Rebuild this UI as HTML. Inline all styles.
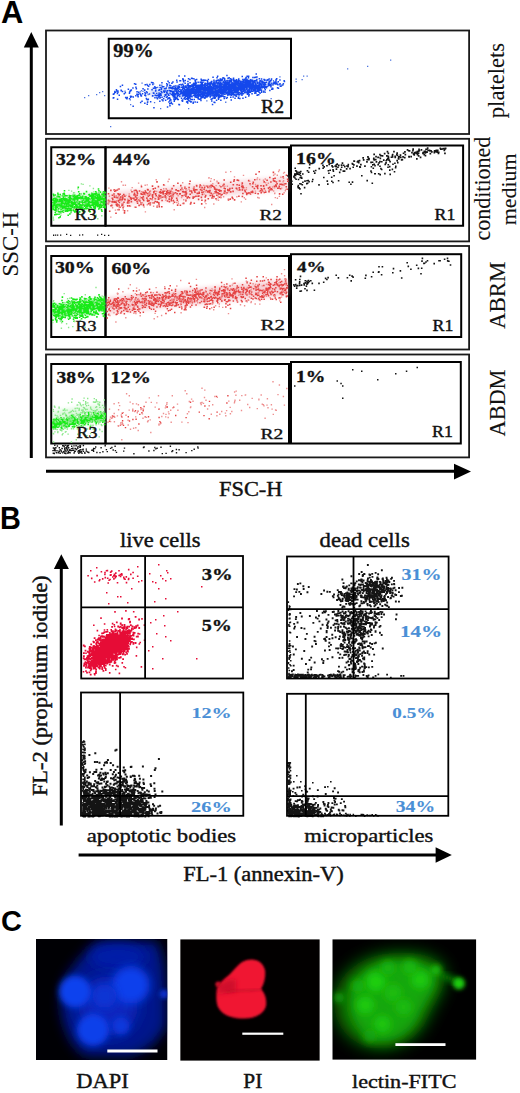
<!DOCTYPE html>
<html><head><meta charset="utf-8"><title>Figure</title>
<style>html,body{margin:0;padding:0;background:#fff;}svg{display:block;}</style>
</head><body>
<svg width="520" height="1093" viewBox="0 0 520 1093">
<defs>
<filter id="b1" x="-50%" y="-50%" width="200%" height="200%"><feGaussianBlur stdDeviation="1.2"/></filter>
<filter id="b2" x="-50%" y="-50%" width="200%" height="200%"><feGaussianBlur stdDeviation="2"/></filter>
<filter id="b3" x="-50%" y="-50%" width="200%" height="200%"><feGaussianBlur stdDeviation="3"/></filter>
<filter id="b4" x="-50%" y="-50%" width="200%" height="200%"><feGaussianBlur stdDeviation="4"/></filter>
<filter id="b6" x="-50%" y="-50%" width="200%" height="200%"><feGaussianBlur stdDeviation="6"/></filter>
<filter id="b8" x="-50%" y="-50%" width="200%" height="200%"><feGaussianBlur stdDeviation="8"/></filter>
<filter id="b12" x="-50%" y="-50%" width="200%" height="200%"><feGaussianBlur stdDeviation="12"/></filter>
<clipPath id="cA"><rect x="52" y="30" width="410" height="420"/></clipPath>
<clipPath id="cD"><rect x="36" y="939" width="131.5" height="121"/></clipPath>
<clipPath id="cP"><rect x="180.2" y="939.2" width="139.6" height="121.6"/></clipPath>
<clipPath id="cF"><rect x="332.3" y="939.2" width="144" height="120.6"/></clipPath>
</defs>
<rect width="520" height="1093" fill="#fff"/>
<line x1="31.3" y1="45" x2="31.3" y2="458" stroke="#000" stroke-width="3"/>
<polygon points="31.3,32 23.8,47.5 38.8,47.5" fill="#000"/>
<line x1="46" y1="471.3" x2="456" y2="471.3" stroke="#000" stroke-width="3"/>
<polygon points="471,471.5 454,463.7 454,479.5" fill="#000"/>
<rect x="46" y="30.5" width="423.10" height="103.50" fill="none" stroke="#1a1a1a" stroke-width="1.8"/>
<rect x="46" y="138.8" width="423.10" height="102.60" fill="none" stroke="#1a1a1a" stroke-width="1.8"/>
<rect x="46" y="246" width="423.10" height="103.50" fill="none" stroke="#1a1a1a" stroke-width="1.8"/>
<rect x="46" y="354.5" width="423.10" height="102.90" fill="none" stroke="#1a1a1a" stroke-width="1.8"/>
<rect x="108.75" y="38.75" width="182.25" height="79.50" fill="none" stroke="#000" stroke-width="2"/>
<rect x="51.25" y="147.25" width="54.25" height="78.50" fill="none" stroke="#000" stroke-width="2"/>
<rect x="105.5" y="147.25" width="183.50" height="78.50" fill="none" stroke="#000" stroke-width="2"/>
<rect x="291" y="145.5" width="172.10" height="80.25" fill="none" stroke="#000" stroke-width="2"/>
<rect x="51.25" y="256" width="54.25" height="81.00" fill="none" stroke="#000" stroke-width="2"/>
<rect x="105.5" y="256" width="183.50" height="81.00" fill="none" stroke="#000" stroke-width="2"/>
<rect x="291" y="254.2" width="170.20" height="82.80" fill="none" stroke="#000" stroke-width="2"/>
<rect x="51.25" y="364" width="54.25" height="79.50" fill="none" stroke="#000" stroke-width="2"/>
<rect x="105.5" y="364" width="183.50" height="79.50" fill="none" stroke="#000" stroke-width="2"/>
<rect x="291" y="362" width="169.80" height="81.50" fill="none" stroke="#000" stroke-width="2"/>
<g clip-path="url(#cA)">
<polygon points="150.0,89.5 160.0,89.0 170.0,88.5 180.0,88.0 190.0,87.3 200.0,83.6 210.0,82.9 220.0,82.1 230.0,81.2 240.0,80.4 250.0,79.5 260.0,81.4 270.0,80.2 270.0,86.2 260.0,87.4 250.0,91.5 240.0,92.4 230.0,93.2 220.0,94.1 210.0,94.9 200.0,95.6 190.0,93.3 180.0,94.0 170.0,94.5 160.0,95.0 150.0,95.5" fill="#9fb6f2" opacity="0.55" filter="url(#b2)"/>
<polygon points="52.5,197.0 56.8,196.6 61.2,196.2 65.5,195.8 69.8,195.4 74.2,195.0 78.5,194.6 82.8,194.2 87.2,193.8 91.5,193.4 95.8,193.1 100.2,192.7 104.5,192.3 104.5,206.3 100.2,206.7 95.8,207.1 91.5,207.4 87.2,207.8 82.8,208.2 78.5,208.6 74.2,209.0 69.8,209.4 65.5,209.8 61.2,210.2 56.8,210.6 52.5,211.0" fill="#a6f0a6" opacity="0.6" filter="url(#b2)"/>
<polygon points="107.0,192.5 122.1,191.1 137.2,189.8 152.2,188.4 167.3,187.1 182.4,185.7 197.5,184.4 212.6,183.0 227.7,181.6 242.8,180.3 257.8,178.9 272.9,177.6 288.0,176.2 288.0,190.2 272.9,191.6 257.8,192.9 242.8,194.3 227.7,195.6 212.6,197.0 197.5,198.4 182.4,199.7 167.3,201.1 152.2,202.4 137.2,203.8 122.1,205.1 107.0,206.5" fill="#f4c0c6" opacity="0.55" filter="url(#b2)"/>
<polygon points="52.5,304.4 56.8,303.8 61.2,303.2 65.5,302.6 69.8,302.0 74.2,301.4 78.5,300.8 82.8,300.2 87.2,299.6 91.5,299.0 95.8,298.4 100.2,297.8 104.5,297.1 104.5,311.1 100.2,311.8 95.8,312.4 91.5,313.0 87.2,313.6 82.8,314.2 78.5,314.8 74.2,315.4 69.8,316.0 65.5,316.6 61.2,317.2 56.8,317.8 52.5,318.4" fill="#a6f0a6" opacity="0.6" filter="url(#b2)"/>
<polygon points="107.0,297.4 122.1,295.9 137.2,294.4 152.2,292.9 167.3,291.4 182.4,289.9 197.5,288.4 212.6,286.8 227.7,285.3 242.8,283.8 257.8,282.3 272.9,280.8 288.0,279.3 288.0,295.3 272.9,296.8 257.8,298.3 242.8,299.8 227.7,301.3 212.6,302.8 197.5,304.4 182.4,305.9 167.3,307.4 152.2,308.9 137.2,310.4 122.1,311.9 107.0,313.4" fill="#f2b0b8" opacity="0.6" filter="url(#b2)"/>
<polygon points="52.5,410.9 56.8,410.4 61.2,409.8 65.5,409.2 69.8,408.7 74.2,408.1 78.5,407.6 82.8,407.0 87.2,406.4 91.5,405.9 95.8,405.3 100.2,404.7 104.5,404.2 104.5,422.2 100.2,422.7 95.8,423.3 91.5,423.9 87.2,424.4 82.8,425.0 78.5,425.6 74.2,426.1 69.8,426.7 65.5,427.2 61.2,427.8 56.8,428.4 52.5,428.9" fill="#c4f4c4" opacity="0.6" filter="url(#b2)"/>
</g>
<path fill="#1448ec" d="M191.6 91.3h1.5v1.5h-1.5zM224.1 95.9h1.5v1.5h-1.5zM225.6 89.2h1.5v1.5h-1.5zM233.5 83.2h1.5v1.5h-1.5zM215.0 85.6h1.5v1.5h-1.5zM215.4 87.7h1.5v1.5h-1.5zM214.2 82.3h1.5v1.5h-1.5zM230.6 94.5h1.5v1.5h-1.5zM221.1 90.3h1.5v1.5h-1.5zM219.1 86.1h1.5v1.5h-1.5zM211.9 83.3h1.5v1.5h-1.5zM219.8 88.8h1.5v1.5h-1.5zM207.9 83.1h1.5v1.5h-1.5zM198.0 95.4h1.5v1.5h-1.5zM193.4 83.3h1.5v1.5h-1.5zM172.5 96.0h1.5v1.5h-1.5zM236.7 80.9h1.5v1.5h-1.5zM229.6 77.9h1.5v1.5h-1.5zM200.1 93.9h1.5v1.5h-1.5zM243.3 83.7h1.5v1.5h-1.5zM200.1 88.1h1.5v1.5h-1.5zM219.9 87.0h1.5v1.5h-1.5zM155.4 86.9h1.5v1.5h-1.5zM226.5 89.1h1.5v1.5h-1.5zM211.7 87.6h1.5v1.5h-1.5zM238.0 80.0h1.5v1.5h-1.5zM184.6 96.2h1.5v1.5h-1.5zM175.6 90.1h1.5v1.5h-1.5zM231.1 81.9h1.5v1.5h-1.5zM263.4 81.8h1.5v1.5h-1.5zM200.2 92.9h1.5v1.5h-1.5zM194.5 79.3h1.5v1.5h-1.5zM202.3 91.7h1.5v1.5h-1.5zM208.6 89.2h1.5v1.5h-1.5zM217.6 82.2h1.5v1.5h-1.5zM204.4 82.5h1.5v1.5h-1.5zM168.3 87.3h1.5v1.5h-1.5zM219.5 78.3h1.5v1.5h-1.5zM208.0 93.5h1.5v1.5h-1.5zM238.6 86.0h1.5v1.5h-1.5zM258.9 87.2h1.5v1.5h-1.5zM241.1 82.8h1.5v1.5h-1.5zM198.0 86.7h1.5v1.5h-1.5zM231.2 92.1h1.5v1.5h-1.5zM172.7 94.6h1.5v1.5h-1.5zM256.0 84.9h1.5v1.5h-1.5zM187.2 92.2h1.5v1.5h-1.5zM196.8 88.3h1.5v1.5h-1.5zM247.9 80.0h1.5v1.5h-1.5zM218.5 92.1h1.5v1.5h-1.5zM234.7 81.3h1.5v1.5h-1.5zM244.3 91.8h1.5v1.5h-1.5zM179.2 80.0h1.5v1.5h-1.5zM137.1 95.0h1.5v1.5h-1.5zM185.0 86.5h1.5v1.5h-1.5zM196.7 94.6h1.5v1.5h-1.5zM167.3 80.6h1.5v1.5h-1.5zM182.1 87.5h1.5v1.5h-1.5zM218.5 90.6h1.5v1.5h-1.5zM248.8 86.5h1.5v1.5h-1.5zM226.8 79.7h1.5v1.5h-1.5zM204.9 90.3h1.5v1.5h-1.5zM241.4 83.0h1.5v1.5h-1.5zM221.4 84.9h1.5v1.5h-1.5zM267.6 83.5h1.5v1.5h-1.5zM171.6 88.1h1.5v1.5h-1.5zM197.9 86.9h1.5v1.5h-1.5zM198.3 93.8h1.5v1.5h-1.5zM226.1 87.6h1.5v1.5h-1.5zM159.4 97.0h1.5v1.5h-1.5zM226.6 88.1h1.5v1.5h-1.5zM238.4 85.1h1.5v1.5h-1.5zM220.5 89.7h1.5v1.5h-1.5zM189.1 93.4h1.5v1.5h-1.5zM277.7 87.4h1.5v1.5h-1.5zM202.3 93.0h1.5v1.5h-1.5zM240.7 90.5h1.5v1.5h-1.5zM214.5 85.5h1.5v1.5h-1.5zM216.4 94.8h1.5v1.5h-1.5zM197.1 91.7h1.5v1.5h-1.5zM259.8 86.9h1.5v1.5h-1.5zM254.9 83.8h1.5v1.5h-1.5zM241.2 94.4h1.5v1.5h-1.5zM238.5 87.6h1.5v1.5h-1.5zM246.2 88.5h1.5v1.5h-1.5zM226.3 93.0h1.5v1.5h-1.5zM230.3 86.3h1.5v1.5h-1.5zM201.0 86.3h1.5v1.5h-1.5zM256.7 85.0h1.5v1.5h-1.5zM235.0 88.2h1.5v1.5h-1.5zM189.9 90.4h1.5v1.5h-1.5zM209.3 93.2h1.5v1.5h-1.5zM236.7 81.1h1.5v1.5h-1.5zM245.1 80.9h1.5v1.5h-1.5zM208.9 84.6h1.5v1.5h-1.5zM183.2 90.4h1.5v1.5h-1.5zM169.0 84.6h1.5v1.5h-1.5zM247.7 92.7h1.5v1.5h-1.5zM243.1 80.3h1.5v1.5h-1.5zM246.3 84.2h1.5v1.5h-1.5zM189.5 85.6h1.5v1.5h-1.5zM202.2 92.7h1.5v1.5h-1.5zM257.4 89.5h1.5v1.5h-1.5zM242.9 86.8h1.5v1.5h-1.5zM191.5 77.7h1.5v1.5h-1.5zM218.0 85.5h1.5v1.5h-1.5zM218.9 83.3h1.5v1.5h-1.5zM204.4 89.3h1.5v1.5h-1.5zM195.7 90.3h1.5v1.5h-1.5zM251.9 82.7h1.5v1.5h-1.5zM196.1 86.1h1.5v1.5h-1.5zM231.1 91.7h1.5v1.5h-1.5zM244.9 84.0h1.5v1.5h-1.5zM201.4 90.5h1.5v1.5h-1.5zM239.8 80.5h1.5v1.5h-1.5zM182.7 87.1h1.5v1.5h-1.5zM120.5 89.9h1.5v1.5h-1.5zM195.2 94.7h1.5v1.5h-1.5zM226.7 88.3h1.5v1.5h-1.5zM250.4 87.6h1.5v1.5h-1.5zM215.8 89.3h1.5v1.5h-1.5zM254.3 86.0h1.5v1.5h-1.5zM173.0 92.6h1.5v1.5h-1.5zM208.1 84.9h1.5v1.5h-1.5zM192.2 91.5h1.5v1.5h-1.5zM192.1 92.2h1.5v1.5h-1.5zM213.4 94.5h1.5v1.5h-1.5zM235.1 90.7h1.5v1.5h-1.5zM196.1 86.1h1.5v1.5h-1.5zM197.5 91.0h1.5v1.5h-1.5zM203.6 85.8h1.5v1.5h-1.5zM209.3 91.3h1.5v1.5h-1.5zM144.5 84.1h1.5v1.5h-1.5zM219.8 81.7h1.5v1.5h-1.5zM259.1 85.6h1.5v1.5h-1.5zM253.6 84.5h1.5v1.5h-1.5zM215.1 91.4h1.5v1.5h-1.5zM194.7 86.7h1.5v1.5h-1.5zM242.4 84.1h1.5v1.5h-1.5zM223.0 84.8h1.5v1.5h-1.5zM159.1 100.6h1.5v1.5h-1.5zM248.0 95.3h1.5v1.5h-1.5zM189.4 95.1h1.5v1.5h-1.5zM222.7 89.9h1.5v1.5h-1.5zM182.5 91.9h1.5v1.5h-1.5zM203.2 94.4h1.5v1.5h-1.5zM190.0 89.7h1.5v1.5h-1.5zM167.5 93.8h1.5v1.5h-1.5zM238.5 82.7h1.5v1.5h-1.5zM182.3 92.9h1.5v1.5h-1.5zM208.7 82.2h1.5v1.5h-1.5zM227.7 84.1h1.5v1.5h-1.5zM176.3 81.3h1.5v1.5h-1.5zM116.1 90.2h1.5v1.5h-1.5zM203.3 94.3h1.5v1.5h-1.5zM282.6 83.1h1.5v1.5h-1.5zM174.6 96.9h1.5v1.5h-1.5zM228.7 93.0h1.5v1.5h-1.5zM235.1 92.1h1.5v1.5h-1.5zM182.5 92.1h1.5v1.5h-1.5zM244.4 85.4h1.5v1.5h-1.5zM254.1 92.4h1.5v1.5h-1.5zM263.3 84.9h1.5v1.5h-1.5zM217.6 97.6h1.5v1.5h-1.5zM159.7 93.2h1.5v1.5h-1.5zM231.0 87.5h1.5v1.5h-1.5zM209.6 87.1h1.5v1.5h-1.5zM213.3 80.9h1.5v1.5h-1.5zM235.6 79.5h1.5v1.5h-1.5zM205.6 91.8h1.5v1.5h-1.5zM206.6 79.9h1.5v1.5h-1.5zM218.5 86.2h1.5v1.5h-1.5zM195.3 82.1h1.5v1.5h-1.5zM201.5 93.0h1.5v1.5h-1.5zM252.6 81.6h1.5v1.5h-1.5zM158.3 94.7h1.5v1.5h-1.5zM218.6 88.7h1.5v1.5h-1.5zM201.8 85.0h1.5v1.5h-1.5zM214.4 88.1h1.5v1.5h-1.5zM216.0 88.0h1.5v1.5h-1.5zM171.9 94.4h1.5v1.5h-1.5zM182.5 94.9h1.5v1.5h-1.5zM185.8 92.7h1.5v1.5h-1.5zM215.0 90.1h1.5v1.5h-1.5zM222.1 88.6h1.5v1.5h-1.5zM243.0 90.1h1.5v1.5h-1.5zM246.2 91.9h1.5v1.5h-1.5zM216.7 87.2h1.5v1.5h-1.5zM195.7 88.0h1.5v1.5h-1.5zM217.5 90.6h1.5v1.5h-1.5zM248.5 91.7h1.5v1.5h-1.5zM198.9 89.3h1.5v1.5h-1.5zM218.6 96.7h1.5v1.5h-1.5zM219.9 79.7h1.5v1.5h-1.5zM146.8 101.5h1.5v1.5h-1.5zM242.9 81.3h1.5v1.5h-1.5zM201.5 82.8h1.5v1.5h-1.5zM203.0 84.3h1.5v1.5h-1.5zM169.5 98.5h1.5v1.5h-1.5zM213.9 94.6h1.5v1.5h-1.5zM164.9 99.5h1.5v1.5h-1.5zM256.6 88.9h1.5v1.5h-1.5zM161.3 96.4h1.5v1.5h-1.5zM215.5 80.1h1.5v1.5h-1.5zM239.1 84.8h1.5v1.5h-1.5zM217.0 91.2h1.5v1.5h-1.5zM236.5 81.8h1.5v1.5h-1.5zM192.6 94.4h1.5v1.5h-1.5zM181.8 100.4h1.5v1.5h-1.5zM221.0 79.5h1.5v1.5h-1.5zM205.2 90.4h1.5v1.5h-1.5zM239.1 97.8h1.5v1.5h-1.5zM204.3 90.5h1.5v1.5h-1.5zM244.7 82.3h1.5v1.5h-1.5zM184.9 94.3h1.5v1.5h-1.5zM233.1 79.1h1.5v1.5h-1.5zM237.2 84.9h1.5v1.5h-1.5zM216.8 89.5h1.5v1.5h-1.5zM218.8 86.4h1.5v1.5h-1.5zM114.0 91.8h1.5v1.5h-1.5zM254.9 76.6h1.5v1.5h-1.5zM187.8 87.3h1.5v1.5h-1.5zM213.3 87.4h1.5v1.5h-1.5zM209.3 88.0h1.5v1.5h-1.5zM228.6 91.7h1.5v1.5h-1.5zM196.4 87.2h1.5v1.5h-1.5zM217.9 91.3h1.5v1.5h-1.5zM216.6 91.5h1.5v1.5h-1.5zM205.0 94.8h1.5v1.5h-1.5zM239.8 87.7h1.5v1.5h-1.5zM203.8 92.5h1.5v1.5h-1.5zM187.5 94.3h1.5v1.5h-1.5zM205.6 95.6h1.5v1.5h-1.5zM233.6 91.7h1.5v1.5h-1.5zM230.3 94.1h1.5v1.5h-1.5zM206.2 91.3h1.5v1.5h-1.5zM244.1 91.4h1.5v1.5h-1.5zM203.5 85.3h1.5v1.5h-1.5zM222.2 85.1h1.5v1.5h-1.5zM237.6 97.4h1.5v1.5h-1.5zM225.7 89.7h1.5v1.5h-1.5zM180.4 93.1h1.5v1.5h-1.5zM224.3 88.1h1.5v1.5h-1.5zM161.5 86.0h1.5v1.5h-1.5zM254.6 85.0h1.5v1.5h-1.5zM216.6 84.9h1.5v1.5h-1.5zM210.2 82.1h1.5v1.5h-1.5zM206.5 89.6h1.5v1.5h-1.5zM202.0 87.0h1.5v1.5h-1.5zM174.4 87.3h1.5v1.5h-1.5zM230.5 85.4h1.5v1.5h-1.5zM258.2 85.1h1.5v1.5h-1.5zM197.9 90.9h1.5v1.5h-1.5zM256.8 88.3h1.5v1.5h-1.5zM188.1 91.0h1.5v1.5h-1.5zM259.3 92.5h1.5v1.5h-1.5zM208.0 90.8h1.5v1.5h-1.5zM208.2 88.9h1.5v1.5h-1.5zM235.3 91.4h1.5v1.5h-1.5zM183.0 92.4h1.5v1.5h-1.5zM247.2 82.5h1.5v1.5h-1.5zM205.0 96.3h1.5v1.5h-1.5zM230.9 85.0h1.5v1.5h-1.5zM235.5 86.4h1.5v1.5h-1.5zM190.4 89.7h1.5v1.5h-1.5zM186.9 89.0h1.5v1.5h-1.5zM237.1 90.6h1.5v1.5h-1.5zM205.2 88.6h1.5v1.5h-1.5zM260.0 82.8h1.5v1.5h-1.5zM223.3 83.8h1.5v1.5h-1.5zM214.4 89.9h1.5v1.5h-1.5zM205.5 88.3h1.5v1.5h-1.5zM233.7 80.3h1.5v1.5h-1.5zM194.8 81.1h1.5v1.5h-1.5zM215.7 88.7h1.5v1.5h-1.5zM201.1 88.5h1.5v1.5h-1.5zM148.6 93.3h1.5v1.5h-1.5zM231.1 93.4h1.5v1.5h-1.5zM255.3 92.2h1.5v1.5h-1.5zM227.1 83.0h1.5v1.5h-1.5zM234.7 95.1h1.5v1.5h-1.5zM219.6 84.6h1.5v1.5h-1.5zM210.1 92.1h1.5v1.5h-1.5zM196.1 96.2h1.5v1.5h-1.5zM237.9 79.6h1.5v1.5h-1.5zM221.5 92.7h1.5v1.5h-1.5zM214.0 88.7h1.5v1.5h-1.5zM198.1 90.9h1.5v1.5h-1.5zM268.4 78.3h1.5v1.5h-1.5zM215.0 86.2h1.5v1.5h-1.5zM204.4 83.5h1.5v1.5h-1.5zM146.9 84.8h1.5v1.5h-1.5zM166.0 91.6h1.5v1.5h-1.5zM187.1 95.6h1.5v1.5h-1.5zM190.9 90.8h1.5v1.5h-1.5zM254.4 80.1h1.5v1.5h-1.5zM184.0 92.0h1.5v1.5h-1.5zM206.1 88.8h1.5v1.5h-1.5zM126.5 96.8h1.5v1.5h-1.5zM199.9 93.6h1.5v1.5h-1.5zM195.6 84.7h1.5v1.5h-1.5zM193.0 89.8h1.5v1.5h-1.5zM253.5 87.3h1.5v1.5h-1.5zM239.4 92.8h1.5v1.5h-1.5zM229.6 93.2h1.5v1.5h-1.5zM182.3 94.4h1.5v1.5h-1.5zM179.6 93.0h1.5v1.5h-1.5zM192.7 88.2h1.5v1.5h-1.5zM197.6 98.2h1.5v1.5h-1.5zM245.7 83.1h1.5v1.5h-1.5zM163.3 91.1h1.5v1.5h-1.5zM211.8 88.5h1.5v1.5h-1.5zM141.8 93.1h1.5v1.5h-1.5zM225.0 92.6h1.5v1.5h-1.5zM255.3 87.9h1.5v1.5h-1.5zM233.1 88.4h1.5v1.5h-1.5zM205.8 88.7h1.5v1.5h-1.5zM218.3 90.3h1.5v1.5h-1.5zM248.5 81.5h1.5v1.5h-1.5zM190.7 85.4h1.5v1.5h-1.5zM208.5 91.7h1.5v1.5h-1.5zM207.2 88.3h1.5v1.5h-1.5zM214.3 86.1h1.5v1.5h-1.5zM210.0 86.4h1.5v1.5h-1.5zM196.7 93.6h1.5v1.5h-1.5zM251.7 81.0h1.5v1.5h-1.5zM228.6 90.4h1.5v1.5h-1.5zM171.1 82.5h1.5v1.5h-1.5zM222.3 95.3h1.5v1.5h-1.5zM191.0 91.0h1.5v1.5h-1.5zM181.7 91.6h1.5v1.5h-1.5zM117.2 90.3h1.5v1.5h-1.5zM242.2 84.2h1.5v1.5h-1.5zM184.7 90.2h1.5v1.5h-1.5zM243.7 81.8h1.5v1.5h-1.5zM243.6 89.1h1.5v1.5h-1.5zM235.5 91.0h1.5v1.5h-1.5zM199.5 87.6h1.5v1.5h-1.5zM255.5 84.7h1.5v1.5h-1.5zM232.7 86.5h1.5v1.5h-1.5zM181.5 89.1h1.5v1.5h-1.5zM253.0 84.5h1.5v1.5h-1.5zM183.4 92.2h1.5v1.5h-1.5zM237.5 92.5h1.5v1.5h-1.5zM273.6 81.7h1.5v1.5h-1.5zM236.0 87.6h1.5v1.5h-1.5zM170.0 85.0h1.5v1.5h-1.5zM249.9 80.5h1.5v1.5h-1.5zM194.2 91.5h1.5v1.5h-1.5zM215.8 99.6h1.5v1.5h-1.5zM177.8 88.0h1.5v1.5h-1.5zM230.8 93.9h1.5v1.5h-1.5zM263.1 86.4h1.5v1.5h-1.5zM220.3 95.8h1.5v1.5h-1.5zM119.7 85.7h1.5v1.5h-1.5zM201.5 94.7h1.5v1.5h-1.5zM238.9 87.1h1.5v1.5h-1.5zM240.5 86.9h1.5v1.5h-1.5zM259.2 85.2h1.5v1.5h-1.5zM135.6 87.9h1.5v1.5h-1.5zM254.8 83.1h1.5v1.5h-1.5zM271.1 82.6h1.5v1.5h-1.5zM260.2 83.9h1.5v1.5h-1.5zM178.7 104.0h1.5v1.5h-1.5zM129.8 89.7h1.5v1.5h-1.5zM204.5 89.4h1.5v1.5h-1.5zM184.5 90.2h1.5v1.5h-1.5zM145.9 91.1h1.5v1.5h-1.5zM196.6 101.4h1.5v1.5h-1.5zM243.4 84.6h1.5v1.5h-1.5zM229.3 90.3h1.5v1.5h-1.5zM214.3 88.0h1.5v1.5h-1.5zM175.5 88.2h1.5v1.5h-1.5zM213.3 87.8h1.5v1.5h-1.5zM215.6 90.7h1.5v1.5h-1.5zM272.1 88.3h1.5v1.5h-1.5zM209.1 92.1h1.5v1.5h-1.5zM172.8 91.1h1.5v1.5h-1.5zM251.9 83.3h1.5v1.5h-1.5zM229.5 91.6h1.5v1.5h-1.5zM223.7 91.4h1.5v1.5h-1.5zM176.4 97.9h1.5v1.5h-1.5zM184.7 89.3h1.5v1.5h-1.5zM239.7 80.6h1.5v1.5h-1.5zM164.4 90.3h1.5v1.5h-1.5zM255.9 87.9h1.5v1.5h-1.5zM274.9 82.3h1.5v1.5h-1.5zM195.3 91.7h1.5v1.5h-1.5zM207.1 83.1h1.5v1.5h-1.5zM147.9 85.5h1.5v1.5h-1.5zM270.5 84.2h1.5v1.5h-1.5zM239.6 88.9h1.5v1.5h-1.5zM250.9 83.2h1.5v1.5h-1.5zM226.0 88.9h1.5v1.5h-1.5zM240.3 92.9h1.5v1.5h-1.5zM241.9 86.1h1.5v1.5h-1.5zM200.3 84.8h1.5v1.5h-1.5zM133.8 83.1h1.5v1.5h-1.5zM215.0 93.0h1.5v1.5h-1.5zM239.2 87.3h1.5v1.5h-1.5zM169.0 102.9h1.5v1.5h-1.5zM224.8 81.4h1.5v1.5h-1.5zM221.7 91.9h1.5v1.5h-1.5zM233.0 82.2h1.5v1.5h-1.5zM243.7 85.9h1.5v1.5h-1.5zM207.7 86.5h1.5v1.5h-1.5zM236.0 79.5h1.5v1.5h-1.5zM227.7 87.9h1.5v1.5h-1.5zM216.4 89.8h1.5v1.5h-1.5zM226.0 86.8h1.5v1.5h-1.5zM230.6 85.6h1.5v1.5h-1.5zM178.8 91.0h1.5v1.5h-1.5zM215.5 90.0h1.5v1.5h-1.5zM239.7 82.9h1.5v1.5h-1.5zM206.2 82.8h1.5v1.5h-1.5zM175.2 85.2h1.5v1.5h-1.5zM227.6 88.1h1.5v1.5h-1.5zM208.4 84.1h1.5v1.5h-1.5zM224.1 90.8h1.5v1.5h-1.5zM275.9 82.3h1.5v1.5h-1.5zM214.1 94.4h1.5v1.5h-1.5zM195.4 88.4h1.5v1.5h-1.5zM214.8 88.9h1.5v1.5h-1.5zM171.2 82.4h1.5v1.5h-1.5zM258.4 83.3h1.5v1.5h-1.5zM213.0 91.8h1.5v1.5h-1.5zM192.5 89.9h1.5v1.5h-1.5zM215.3 85.1h1.5v1.5h-1.5zM254.2 81.4h1.5v1.5h-1.5zM228.8 86.5h1.5v1.5h-1.5zM144.2 91.7h1.5v1.5h-1.5zM236.8 84.5h1.5v1.5h-1.5zM264.2 79.6h1.5v1.5h-1.5zM194.8 94.2h1.5v1.5h-1.5zM218.6 94.1h1.5v1.5h-1.5zM234.1 86.7h1.5v1.5h-1.5zM256.9 82.0h1.5v1.5h-1.5zM195.7 84.5h1.5v1.5h-1.5zM146.5 103.6h1.5v1.5h-1.5zM239.8 90.1h1.5v1.5h-1.5zM158.2 93.7h1.5v1.5h-1.5zM189.3 98.0h1.5v1.5h-1.5zM183.5 88.1h1.5v1.5h-1.5zM187.7 84.8h1.5v1.5h-1.5zM221.0 86.3h1.5v1.5h-1.5zM185.9 98.0h1.5v1.5h-1.5zM189.0 91.8h1.5v1.5h-1.5zM241.1 92.2h1.5v1.5h-1.5zM228.8 87.0h1.5v1.5h-1.5zM231.2 82.6h1.5v1.5h-1.5zM238.7 83.1h1.5v1.5h-1.5zM258.0 94.0h1.5v1.5h-1.5zM208.8 92.2h1.5v1.5h-1.5zM241.4 86.7h1.5v1.5h-1.5zM189.7 91.9h1.5v1.5h-1.5zM165.7 96.4h1.5v1.5h-1.5zM214.3 97.4h1.5v1.5h-1.5zM136.3 91.1h1.5v1.5h-1.5zM199.8 88.2h1.5v1.5h-1.5zM267.9 82.8h1.5v1.5h-1.5zM171.7 92.6h1.5v1.5h-1.5zM240.1 81.2h1.5v1.5h-1.5zM166.5 89.9h1.5v1.5h-1.5zM189.7 92.4h1.5v1.5h-1.5zM190.7 95.6h1.5v1.5h-1.5zM222.0 93.2h1.5v1.5h-1.5zM223.2 96.1h1.5v1.5h-1.5zM264.9 83.7h1.5v1.5h-1.5zM246.5 85.7h1.5v1.5h-1.5zM194.6 95.4h1.5v1.5h-1.5zM187.5 98.2h1.5v1.5h-1.5zM236.0 81.9h1.5v1.5h-1.5zM201.5 95.0h1.5v1.5h-1.5zM175.8 91.0h1.5v1.5h-1.5zM203.2 95.0h1.5v1.5h-1.5zM190.6 85.7h1.5v1.5h-1.5zM198.8 90.7h1.5v1.5h-1.5zM200.1 91.5h1.5v1.5h-1.5zM231.3 87.3h1.5v1.5h-1.5zM192.4 85.7h1.5v1.5h-1.5zM226.7 87.0h1.5v1.5h-1.5zM214.1 101.7h1.5v1.5h-1.5zM194.9 86.4h1.5v1.5h-1.5zM169.1 100.0h1.5v1.5h-1.5zM192.4 83.5h1.5v1.5h-1.5zM253.4 89.9h1.5v1.5h-1.5zM234.4 90.3h1.5v1.5h-1.5zM210.3 92.3h1.5v1.5h-1.5zM176.7 95.9h1.5v1.5h-1.5zM144.1 94.6h1.5v1.5h-1.5zM241.6 88.8h1.5v1.5h-1.5zM141.3 100.6h1.5v1.5h-1.5zM142.3 88.0h1.5v1.5h-1.5zM186.8 95.7h1.5v1.5h-1.5zM184.1 93.0h1.5v1.5h-1.5zM171.8 86.2h1.5v1.5h-1.5zM202.9 95.6h1.5v1.5h-1.5zM187.1 96.4h1.5v1.5h-1.5zM248.9 84.4h1.5v1.5h-1.5zM242.2 97.5h1.5v1.5h-1.5zM242.8 82.3h1.5v1.5h-1.5zM173.5 96.3h1.5v1.5h-1.5zM209.7 84.7h1.5v1.5h-1.5zM237.3 82.4h1.5v1.5h-1.5zM190.4 88.7h1.5v1.5h-1.5zM200.6 82.5h1.5v1.5h-1.5zM217.5 87.1h1.5v1.5h-1.5zM245.8 86.4h1.5v1.5h-1.5zM216.8 91.2h1.5v1.5h-1.5zM210.9 85.8h1.5v1.5h-1.5zM207.2 88.6h1.5v1.5h-1.5zM250.0 82.0h1.5v1.5h-1.5zM166.7 84.1h1.5v1.5h-1.5zM228.6 92.2h1.5v1.5h-1.5zM186.8 98.6h1.5v1.5h-1.5zM244.3 78.4h1.5v1.5h-1.5zM227.5 86.1h1.5v1.5h-1.5zM237.5 89.4h1.5v1.5h-1.5zM187.1 93.7h1.5v1.5h-1.5zM232.2 87.0h1.5v1.5h-1.5zM227.4 88.9h1.5v1.5h-1.5zM206.2 87.7h1.5v1.5h-1.5zM241.2 87.0h1.5v1.5h-1.5zM234.5 82.8h1.5v1.5h-1.5zM240.3 81.4h1.5v1.5h-1.5zM173.1 98.3h1.5v1.5h-1.5zM243.8 91.9h1.5v1.5h-1.5zM239.0 84.3h1.5v1.5h-1.5zM250.9 89.9h1.5v1.5h-1.5zM226.0 85.6h1.5v1.5h-1.5zM147.1 98.9h1.5v1.5h-1.5zM201.0 87.5h1.5v1.5h-1.5zM240.8 91.8h1.5v1.5h-1.5zM150.8 81.7h1.5v1.5h-1.5zM185.9 101.2h1.5v1.5h-1.5zM185.4 90.1h1.5v1.5h-1.5zM207.6 78.7h1.5v1.5h-1.5zM252.5 81.2h1.5v1.5h-1.5zM236.7 86.9h1.5v1.5h-1.5zM239.8 87.2h1.5v1.5h-1.5zM193.5 94.5h1.5v1.5h-1.5zM200.1 86.8h1.5v1.5h-1.5zM227.3 77.4h1.5v1.5h-1.5zM232.8 77.6h1.5v1.5h-1.5zM269.8 80.0h1.5v1.5h-1.5zM252.3 86.8h1.5v1.5h-1.5zM207.2 95.3h1.5v1.5h-1.5zM190.3 98.8h1.5v1.5h-1.5zM195.5 92.9h1.5v1.5h-1.5zM250.0 79.5h1.5v1.5h-1.5zM215.3 80.8h1.5v1.5h-1.5zM235.2 80.1h1.5v1.5h-1.5zM235.2 88.7h1.5v1.5h-1.5zM232.8 80.3h1.5v1.5h-1.5zM237.0 87.3h1.5v1.5h-1.5zM252.0 86.5h1.5v1.5h-1.5zM194.4 101.2h1.5v1.5h-1.5zM198.2 87.3h1.5v1.5h-1.5zM115.7 88.9h1.5v1.5h-1.5zM219.4 92.8h1.5v1.5h-1.5zM258.4 84.8h1.5v1.5h-1.5zM202.0 89.5h1.5v1.5h-1.5zM138.1 91.5h1.5v1.5h-1.5zM200.0 84.3h1.5v1.5h-1.5zM231.5 93.4h1.5v1.5h-1.5zM219.2 87.8h1.5v1.5h-1.5zM207.8 84.1h1.5v1.5h-1.5zM194.7 90.9h1.5v1.5h-1.5zM204.0 83.6h1.5v1.5h-1.5zM235.9 85.8h1.5v1.5h-1.5zM144.0 89.6h1.5v1.5h-1.5zM209.9 90.4h1.5v1.5h-1.5zM180.9 92.1h1.5v1.5h-1.5zM227.0 87.4h1.5v1.5h-1.5zM222.4 81.5h1.5v1.5h-1.5zM218.3 95.9h1.5v1.5h-1.5zM211.0 80.8h1.5v1.5h-1.5zM207.7 92.1h1.5v1.5h-1.5zM270.3 79.8h1.5v1.5h-1.5zM221.3 92.4h1.5v1.5h-1.5zM249.7 91.6h1.5v1.5h-1.5zM170.3 87.2h1.5v1.5h-1.5zM202.0 90.2h1.5v1.5h-1.5zM158.9 95.9h1.5v1.5h-1.5zM193.1 78.1h1.5v1.5h-1.5zM256.4 87.2h1.5v1.5h-1.5zM220.6 90.3h1.5v1.5h-1.5zM267.7 85.1h1.5v1.5h-1.5zM231.4 92.0h1.5v1.5h-1.5zM184.4 82.6h1.5v1.5h-1.5zM195.2 89.0h1.5v1.5h-1.5zM224.7 89.4h1.5v1.5h-1.5zM207.7 92.4h1.5v1.5h-1.5zM189.2 78.7h1.5v1.5h-1.5zM166.9 98.3h1.5v1.5h-1.5zM148.7 93.3h1.5v1.5h-1.5zM174.6 87.1h1.5v1.5h-1.5zM203.1 90.2h1.5v1.5h-1.5zM258.6 77.9h1.5v1.5h-1.5zM250.1 81.2h1.5v1.5h-1.5zM182.3 86.2h1.5v1.5h-1.5zM192.8 85.7h1.5v1.5h-1.5zM187.9 94.9h1.5v1.5h-1.5zM173.1 87.8h1.5v1.5h-1.5zM263.9 87.4h1.5v1.5h-1.5zM211.3 87.6h1.5v1.5h-1.5zM222.7 89.0h1.5v1.5h-1.5zM279.6 85.5h1.5v1.5h-1.5zM220.7 85.1h1.5v1.5h-1.5zM230.6 80.6h1.5v1.5h-1.5zM251.0 88.8h1.5v1.5h-1.5zM234.9 80.9h1.5v1.5h-1.5zM180.6 89.5h1.5v1.5h-1.5zM112.5 97.3h1.5v1.5h-1.5zM191.4 85.2h1.5v1.5h-1.5zM206.5 88.7h1.5v1.5h-1.5zM279.1 83.7h1.5v1.5h-1.5zM221.0 82.7h1.5v1.5h-1.5zM173.3 85.4h1.5v1.5h-1.5zM167.9 97.3h1.5v1.5h-1.5zM232.4 86.0h1.5v1.5h-1.5zM173.5 100.5h1.5v1.5h-1.5zM124.6 92.0h1.5v1.5h-1.5zM209.1 94.0h1.5v1.5h-1.5zM170.5 93.7h1.5v1.5h-1.5zM237.4 85.7h1.5v1.5h-1.5zM234.7 82.9h1.5v1.5h-1.5zM135.1 95.0h1.5v1.5h-1.5zM198.9 87.3h1.5v1.5h-1.5zM210.2 81.8h1.5v1.5h-1.5zM187.2 89.1h1.5v1.5h-1.5zM183.5 87.7h1.5v1.5h-1.5zM132.5 96.2h1.5v1.5h-1.5zM193.2 87.1h1.5v1.5h-1.5zM176.0 79.6h1.5v1.5h-1.5zM273.9 82.5h1.5v1.5h-1.5zM177.2 93.0h1.5v1.5h-1.5zM249.5 80.3h1.5v1.5h-1.5zM191.3 96.1h1.5v1.5h-1.5zM193.0 90.4h1.5v1.5h-1.5zM116.8 98.6h1.5v1.5h-1.5zM206.2 91.4h1.5v1.5h-1.5zM189.2 96.5h1.5v1.5h-1.5zM251.0 89.9h1.5v1.5h-1.5zM219.8 89.2h1.5v1.5h-1.5zM236.7 83.2h1.5v1.5h-1.5zM266.2 79.5h1.5v1.5h-1.5zM174.9 96.5h1.5v1.5h-1.5zM199.0 84.4h1.5v1.5h-1.5zM263.6 84.8h1.5v1.5h-1.5zM232.5 78.7h1.5v1.5h-1.5zM181.3 99.7h1.5v1.5h-1.5zM130.8 95.7h1.5v1.5h-1.5zM236.7 89.5h1.5v1.5h-1.5zM222.1 84.9h1.5v1.5h-1.5zM194.3 90.4h1.5v1.5h-1.5zM193.0 91.7h1.5v1.5h-1.5zM249.5 82.8h1.5v1.5h-1.5zM236.8 82.1h1.5v1.5h-1.5zM215.2 88.6h1.5v1.5h-1.5zM206.8 83.6h1.5v1.5h-1.5zM261.6 80.6h1.5v1.5h-1.5zM258.8 83.0h1.5v1.5h-1.5zM216.9 75.5h1.5v1.5h-1.5zM220.0 95.1h1.5v1.5h-1.5zM154.5 94.7h1.5v1.5h-1.5zM253.7 80.1h1.5v1.5h-1.5zM184.9 91.5h1.5v1.5h-1.5zM260.8 78.3h1.5v1.5h-1.5zM159.3 93.4h1.5v1.5h-1.5zM215.9 86.7h1.5v1.5h-1.5zM185.1 92.6h1.5v1.5h-1.5zM198.2 94.1h1.5v1.5h-1.5zM213.2 87.4h1.5v1.5h-1.5zM250.0 85.5h1.5v1.5h-1.5zM189.4 87.7h1.5v1.5h-1.5zM238.0 81.4h1.5v1.5h-1.5zM182.9 80.9h1.5v1.5h-1.5zM245.0 86.1h1.5v1.5h-1.5zM256.7 82.4h1.5v1.5h-1.5zM256.5 84.4h1.5v1.5h-1.5zM244.9 85.7h1.5v1.5h-1.5zM187.6 86.3h1.5v1.5h-1.5zM217.0 94.9h1.5v1.5h-1.5zM221.6 93.0h1.5v1.5h-1.5zM125.7 97.4h1.5v1.5h-1.5zM252.3 86.3h1.5v1.5h-1.5zM256.6 81.9h1.5v1.5h-1.5zM223.3 89.4h1.5v1.5h-1.5zM220.1 78.5h1.5v1.5h-1.5zM207.5 88.6h1.5v1.5h-1.5zM247.5 90.9h1.5v1.5h-1.5zM270.8 78.2h1.5v1.5h-1.5zM228.9 87.9h1.5v1.5h-1.5zM210.7 80.9h1.5v1.5h-1.5zM268.3 82.5h1.5v1.5h-1.5zM259.3 89.4h1.5v1.5h-1.5zM248.7 82.4h1.5v1.5h-1.5zM235.6 79.0h1.5v1.5h-1.5zM242.7 79.4h1.5v1.5h-1.5zM221.2 88.1h1.5v1.5h-1.5zM215.9 85.0h1.5v1.5h-1.5zM200.4 88.5h1.5v1.5h-1.5zM195.6 92.2h1.5v1.5h-1.5zM210.1 90.9h1.5v1.5h-1.5zM264.1 79.6h1.5v1.5h-1.5zM214.2 88.2h1.5v1.5h-1.5zM256.6 87.0h1.5v1.5h-1.5zM234.0 87.0h1.5v1.5h-1.5zM213.6 90.6h1.5v1.5h-1.5zM180.6 90.6h1.5v1.5h-1.5zM254.9 84.7h1.5v1.5h-1.5zM237.4 93.3h1.5v1.5h-1.5zM243.2 86.0h1.5v1.5h-1.5zM238.2 82.2h1.5v1.5h-1.5zM174.3 92.9h1.5v1.5h-1.5zM229.2 86.8h1.5v1.5h-1.5zM221.6 90.0h1.5v1.5h-1.5zM202.4 87.5h1.5v1.5h-1.5zM218.9 86.0h1.5v1.5h-1.5zM186.0 97.9h1.5v1.5h-1.5zM190.3 93.4h1.5v1.5h-1.5zM184.4 93.0h1.5v1.5h-1.5zM216.6 89.0h1.5v1.5h-1.5zM207.3 89.5h1.5v1.5h-1.5zM200.6 90.5h1.5v1.5h-1.5zM230.4 91.3h1.5v1.5h-1.5zM218.3 83.7h1.5v1.5h-1.5zM228.1 90.1h1.5v1.5h-1.5zM191.2 91.3h1.5v1.5h-1.5zM244.7 81.6h1.5v1.5h-1.5zM214.8 91.8h1.5v1.5h-1.5zM147.6 98.6h1.5v1.5h-1.5zM143.8 89.2h1.5v1.5h-1.5zM201.0 97.1h1.5v1.5h-1.5zM183.5 94.2h1.5v1.5h-1.5zM254.6 88.6h1.5v1.5h-1.5zM198.4 90.5h1.5v1.5h-1.5zM136.2 93.4h1.5v1.5h-1.5zM253.7 81.2h1.5v1.5h-1.5zM164.4 94.0h1.5v1.5h-1.5zM245.9 88.9h1.5v1.5h-1.5zM220.3 86.8h1.5v1.5h-1.5zM228.5 89.6h1.5v1.5h-1.5zM222.9 86.5h1.5v1.5h-1.5zM248.5 86.9h1.5v1.5h-1.5zM221.3 79.6h1.5v1.5h-1.5zM204.0 85.5h1.5v1.5h-1.5zM249.9 88.0h1.5v1.5h-1.5zM205.3 86.9h1.5v1.5h-1.5zM245.7 87.5h1.5v1.5h-1.5zM188.9 86.0h1.5v1.5h-1.5zM137.6 93.4h1.5v1.5h-1.5zM231.4 90.0h1.5v1.5h-1.5zM200.0 93.4h1.5v1.5h-1.5zM201.8 79.4h1.5v1.5h-1.5zM231.1 91.4h1.5v1.5h-1.5zM208.2 90.4h1.5v1.5h-1.5zM246.8 93.2h1.5v1.5h-1.5zM251.7 87.7h1.5v1.5h-1.5zM232.4 88.2h1.5v1.5h-1.5zM166.0 82.9h1.5v1.5h-1.5zM237.6 80.6h1.5v1.5h-1.5zM196.2 91.0h1.5v1.5h-1.5zM232.2 82.6h1.5v1.5h-1.5zM213.1 82.0h1.5v1.5h-1.5zM188.7 95.8h1.5v1.5h-1.5zM222.0 84.9h1.5v1.5h-1.5zM253.4 89.8h1.5v1.5h-1.5zM211.0 89.5h1.5v1.5h-1.5zM213.7 90.8h1.5v1.5h-1.5zM219.6 83.9h1.5v1.5h-1.5zM245.4 83.1h1.5v1.5h-1.5zM212.4 97.3h1.5v1.5h-1.5zM218.2 91.3h1.5v1.5h-1.5zM261.2 85.8h1.5v1.5h-1.5zM201.4 92.4h1.5v1.5h-1.5zM216.0 92.9h1.5v1.5h-1.5zM233.6 86.3h1.5v1.5h-1.5zM236.6 84.7h1.5v1.5h-1.5zM241.5 88.8h1.5v1.5h-1.5zM242.1 81.5h1.5v1.5h-1.5zM194.6 79.6h1.5v1.5h-1.5zM256.1 78.8h1.5v1.5h-1.5zM144.7 92.9h1.5v1.5h-1.5zM248.4 94.0h1.5v1.5h-1.5zM188.2 84.9h1.5v1.5h-1.5zM222.3 86.2h1.5v1.5h-1.5zM263.4 84.7h1.5v1.5h-1.5zM186.8 90.1h1.5v1.5h-1.5zM225.9 89.3h1.5v1.5h-1.5zM195.9 90.3h1.5v1.5h-1.5zM191.1 84.2h1.5v1.5h-1.5zM238.4 88.5h1.5v1.5h-1.5zM248.1 88.8h1.5v1.5h-1.5zM222.5 85.7h1.5v1.5h-1.5zM264.3 91.4h1.5v1.5h-1.5zM144.9 95.1h1.5v1.5h-1.5zM185.3 86.1h1.5v1.5h-1.5zM234.8 85.8h1.5v1.5h-1.5zM211.0 90.5h1.5v1.5h-1.5zM173.0 94.1h1.5v1.5h-1.5zM207.4 86.6h1.5v1.5h-1.5zM196.8 97.1h1.5v1.5h-1.5zM240.0 89.6h1.5v1.5h-1.5zM221.1 91.3h1.5v1.5h-1.5zM225.1 89.5h1.5v1.5h-1.5zM242.3 90.6h1.5v1.5h-1.5zM184.8 85.3h1.5v1.5h-1.5zM242.4 90.5h1.5v1.5h-1.5zM217.5 79.6h1.5v1.5h-1.5zM274.4 82.7h1.5v1.5h-1.5zM175.8 89.4h1.5v1.5h-1.5zM200.5 94.0h1.5v1.5h-1.5zM177.6 94.8h1.5v1.5h-1.5zM159.4 94.1h1.5v1.5h-1.5zM187.8 99.9h1.5v1.5h-1.5zM216.7 87.7h1.5v1.5h-1.5zM220.1 99.6h1.5v1.5h-1.5zM221.8 91.1h1.5v1.5h-1.5zM200.3 88.4h1.5v1.5h-1.5zM212.0 88.2h1.5v1.5h-1.5zM227.7 93.7h1.5v1.5h-1.5zM200.7 85.3h1.5v1.5h-1.5zM195.9 88.9h1.5v1.5h-1.5zM215.0 90.0h1.5v1.5h-1.5zM193.3 91.1h1.5v1.5h-1.5zM259.8 80.3h1.5v1.5h-1.5zM166.2 85.2h1.5v1.5h-1.5zM240.0 85.3h1.5v1.5h-1.5zM201.8 96.4h1.5v1.5h-1.5zM225.8 85.8h1.5v1.5h-1.5zM241.0 86.1h1.5v1.5h-1.5zM257.8 90.6h1.5v1.5h-1.5zM236.5 83.7h1.5v1.5h-1.5zM261.2 81.5h1.5v1.5h-1.5zM189.6 90.6h1.5v1.5h-1.5zM191.4 88.6h1.5v1.5h-1.5zM235.5 82.0h1.5v1.5h-1.5zM229.2 89.4h1.5v1.5h-1.5zM171.2 90.6h1.5v1.5h-1.5zM192.7 84.9h1.5v1.5h-1.5zM230.6 89.0h1.5v1.5h-1.5zM218.3 92.8h1.5v1.5h-1.5zM228.1 90.2h1.5v1.5h-1.5zM217.4 83.9h1.5v1.5h-1.5zM258.3 88.6h1.5v1.5h-1.5zM201.5 95.8h1.5v1.5h-1.5zM210.7 89.1h1.5v1.5h-1.5zM216.6 89.1h1.5v1.5h-1.5zM196.2 86.4h1.5v1.5h-1.5zM274.3 83.0h1.5v1.5h-1.5zM242.2 84.2h1.5v1.5h-1.5zM205.6 89.8h1.5v1.5h-1.5zM246.0 88.4h1.5v1.5h-1.5zM221.9 89.5h1.5v1.5h-1.5zM234.4 86.6h1.5v1.5h-1.5zM195.4 84.6h1.5v1.5h-1.5zM236.6 82.1h1.5v1.5h-1.5zM249.7 84.3h1.5v1.5h-1.5zM181.0 86.5h1.5v1.5h-1.5zM199.2 94.3h1.5v1.5h-1.5zM242.9 85.9h1.5v1.5h-1.5zM196.3 87.2h1.5v1.5h-1.5zM213.6 96.8h1.5v1.5h-1.5zM208.9 85.3h1.5v1.5h-1.5zM243.7 86.9h1.5v1.5h-1.5zM171.7 91.6h1.5v1.5h-1.5zM162.9 98.0h1.5v1.5h-1.5zM207.0 86.8h1.5v1.5h-1.5zM240.7 90.8h1.5v1.5h-1.5zM201.8 89.3h1.5v1.5h-1.5zM160.8 87.6h1.5v1.5h-1.5zM204.0 84.6h1.5v1.5h-1.5zM269.1 89.7h1.5v1.5h-1.5zM226.5 88.6h1.5v1.5h-1.5zM210.7 82.4h1.5v1.5h-1.5zM242.2 86.0h1.5v1.5h-1.5zM242.4 93.0h1.5v1.5h-1.5zM215.0 90.6h1.5v1.5h-1.5zM244.5 79.2h1.5v1.5h-1.5zM201.5 84.5h1.5v1.5h-1.5zM246.3 87.2h1.5v1.5h-1.5zM198.6 94.7h1.5v1.5h-1.5zM244.3 83.9h1.5v1.5h-1.5zM203.4 97.0h1.5v1.5h-1.5zM249.7 79.1h1.5v1.5h-1.5zM169.6 87.1h1.5v1.5h-1.5zM223.8 84.6h1.5v1.5h-1.5zM206.3 93.9h1.5v1.5h-1.5zM248.0 80.2h1.5v1.5h-1.5zM241.5 75.7h1.5v1.5h-1.5zM246.2 86.4h1.5v1.5h-1.5zM129.9 96.5h1.5v1.5h-1.5zM220.2 85.3h1.5v1.5h-1.5zM172.0 92.7h1.5v1.5h-1.5zM221.4 88.7h1.5v1.5h-1.5zM228.9 93.9h1.5v1.5h-1.5zM236.0 87.4h1.5v1.5h-1.5zM168.6 86.4h1.5v1.5h-1.5zM178.2 103.7h1.5v1.5h-1.5zM185.9 95.8h1.5v1.5h-1.5zM208.6 84.2h1.5v1.5h-1.5zM259.9 82.8h1.5v1.5h-1.5zM196.4 84.8h1.5v1.5h-1.5zM188.1 91.4h1.5v1.5h-1.5zM159.0 94.1h1.5v1.5h-1.5zM201.8 85.3h1.5v1.5h-1.5zM152.7 87.5h1.5v1.5h-1.5zM227.0 91.2h1.5v1.5h-1.5zM215.9 87.3h1.5v1.5h-1.5zM247.7 83.1h1.5v1.5h-1.5zM223.5 81.7h1.5v1.5h-1.5zM152.1 83.8h1.5v1.5h-1.5zM210.7 94.2h1.5v1.5h-1.5zM228.8 81.2h1.5v1.5h-1.5zM221.1 89.0h1.5v1.5h-1.5zM182.2 77.9h1.5v1.5h-1.5zM238.0 82.9h1.5v1.5h-1.5zM195.9 88.7h1.5v1.5h-1.5zM216.2 92.9h1.5v1.5h-1.5zM212.1 86.9h1.5v1.5h-1.5zM186.8 94.5h1.5v1.5h-1.5zM224.1 90.1h1.5v1.5h-1.5zM233.0 88.1h1.5v1.5h-1.5zM196.6 89.9h1.5v1.5h-1.5zM210.6 89.6h1.5v1.5h-1.5zM189.1 85.3h1.5v1.5h-1.5zM255.4 88.1h1.5v1.5h-1.5zM191.8 88.6h1.5v1.5h-1.5zM152.1 95.0h1.5v1.5h-1.5zM193.4 82.9h1.5v1.5h-1.5zM152.7 92.3h1.5v1.5h-1.5zM255.5 84.3h1.5v1.5h-1.5zM275.2 80.5h1.5v1.5h-1.5zM153.2 106.9h1.5v1.5h-1.5zM263.0 83.7h1.5v1.5h-1.5zM225.0 83.0h1.5v1.5h-1.5zM246.3 88.9h1.5v1.5h-1.5zM207.3 89.8h1.5v1.5h-1.5zM283.4 80.1h1.5v1.5h-1.5zM230.7 78.4h1.5v1.5h-1.5zM202.0 91.7h1.5v1.5h-1.5zM259.8 87.1h1.5v1.5h-1.5zM227.8 90.6h1.5v1.5h-1.5zM252.2 84.2h1.5v1.5h-1.5zM206.3 88.4h1.5v1.5h-1.5zM174.3 88.4h1.5v1.5h-1.5zM156.0 95.1h1.5v1.5h-1.5zM191.9 85.6h1.5v1.5h-1.5zM199.0 87.1h1.5v1.5h-1.5zM195.4 84.8h1.5v1.5h-1.5zM200.4 78.4h1.5v1.5h-1.5zM244.8 84.3h1.5v1.5h-1.5zM191.1 89.2h1.5v1.5h-1.5zM182.1 78.5h1.5v1.5h-1.5zM246.4 87.3h1.5v1.5h-1.5zM231.4 90.8h1.5v1.5h-1.5zM264.5 86.6h1.5v1.5h-1.5zM256.1 86.0h1.5v1.5h-1.5zM223.2 87.9h1.5v1.5h-1.5zM180.9 92.9h1.5v1.5h-1.5zM242.7 81.2h1.5v1.5h-1.5zM209.5 96.3h1.5v1.5h-1.5zM210.1 93.2h1.5v1.5h-1.5zM201.0 81.7h1.5v1.5h-1.5zM192.5 90.1h1.5v1.5h-1.5zM199.3 89.6h1.5v1.5h-1.5zM242.5 87.8h1.5v1.5h-1.5zM206.8 88.7h1.5v1.5h-1.5zM180.4 92.6h1.5v1.5h-1.5zM197.8 92.1h1.5v1.5h-1.5zM210.7 87.6h1.5v1.5h-1.5zM236.2 93.8h1.5v1.5h-1.5zM237.0 85.0h1.5v1.5h-1.5zM246.4 84.2h1.5v1.5h-1.5zM209.2 86.2h1.5v1.5h-1.5zM156.2 96.9h1.5v1.5h-1.5zM128.7 92.4h1.5v1.5h-1.5zM251.9 84.5h1.5v1.5h-1.5zM194.7 86.2h1.5v1.5h-1.5zM251.4 88.5h1.5v1.5h-1.5zM209.7 84.2h1.5v1.5h-1.5zM244.4 86.6h1.5v1.5h-1.5zM187.1 98.3h1.5v1.5h-1.5zM239.5 87.6h1.5v1.5h-1.5zM230.5 99.2h1.5v1.5h-1.5zM188.4 86.4h1.5v1.5h-1.5zM213.4 88.0h1.5v1.5h-1.5zM205.6 84.6h1.5v1.5h-1.5zM219.8 89.5h1.5v1.5h-1.5zM196.7 96.4h1.5v1.5h-1.5zM226.5 96.7h1.5v1.5h-1.5zM203.8 88.9h1.5v1.5h-1.5zM221.5 85.2h1.5v1.5h-1.5zM155.9 92.8h1.5v1.5h-1.5zM210.4 91.3h1.5v1.5h-1.5zM212.2 95.0h1.5v1.5h-1.5zM223.6 85.6h1.5v1.5h-1.5zM223.6 86.2h1.5v1.5h-1.5zM200.8 89.4h1.5v1.5h-1.5zM249.2 85.6h1.5v1.5h-1.5zM199.2 85.8h1.5v1.5h-1.5zM264.0 85.6h1.5v1.5h-1.5zM228.2 82.5h1.5v1.5h-1.5zM206.5 91.6h1.5v1.5h-1.5zM254.2 82.1h1.5v1.5h-1.5zM204.7 86.0h1.5v1.5h-1.5zM198.9 89.1h1.5v1.5h-1.5zM243.9 91.6h1.5v1.5h-1.5zM239.3 88.7h1.5v1.5h-1.5zM129.5 90.2h1.5v1.5h-1.5zM209.8 88.7h1.5v1.5h-1.5zM234.2 85.3h1.5v1.5h-1.5zM217.9 93.3h1.5v1.5h-1.5zM187.1 98.4h1.5v1.5h-1.5zM193.6 88.4h1.5v1.5h-1.5zM175.8 89.7h1.5v1.5h-1.5zM224.5 92.7h1.5v1.5h-1.5zM272.2 84.0h1.5v1.5h-1.5zM273.2 81.7h1.5v1.5h-1.5zM209.5 91.7h1.5v1.5h-1.5zM244.0 83.6h1.5v1.5h-1.5zM184.4 90.1h1.5v1.5h-1.5zM177.5 89.9h1.5v1.5h-1.5zM195.9 78.8h1.5v1.5h-1.5zM215.4 92.3h1.5v1.5h-1.5zM243.3 84.6h1.5v1.5h-1.5zM216.7 84.8h1.5v1.5h-1.5zM186.5 87.4h1.5v1.5h-1.5zM149.1 83.8h1.5v1.5h-1.5zM192.9 90.5h1.5v1.5h-1.5zM240.1 82.4h1.5v1.5h-1.5zM234.9 84.2h1.5v1.5h-1.5zM234.6 84.0h1.5v1.5h-1.5zM182.5 79.1h1.5v1.5h-1.5zM175.8 87.4h1.5v1.5h-1.5zM217.9 79.3h1.5v1.5h-1.5zM199.6 94.3h1.5v1.5h-1.5zM216.3 93.9h1.5v1.5h-1.5zM265.7 81.4h1.5v1.5h-1.5zM238.4 80.1h1.5v1.5h-1.5zM195.5 87.9h1.5v1.5h-1.5zM194.4 96.2h1.5v1.5h-1.5zM182.7 86.6h1.5v1.5h-1.5zM213.2 84.8h1.5v1.5h-1.5zM237.1 82.0h1.5v1.5h-1.5zM166.8 106.2h1.5v1.5h-1.5zM248.1 85.4h1.5v1.5h-1.5zM250.4 83.6h1.5v1.5h-1.5zM195.1 89.2h1.5v1.5h-1.5zM271.0 88.5h1.5v1.5h-1.5zM244.7 81.4h1.5v1.5h-1.5zM188.2 86.6h1.5v1.5h-1.5zM154.1 86.1h1.5v1.5h-1.5zM212.8 84.8h1.5v1.5h-1.5zM238.8 92.1h1.5v1.5h-1.5zM240.9 88.9h1.5v1.5h-1.5zM242.7 82.0h1.5v1.5h-1.5zM121.8 90.7h1.5v1.5h-1.5zM247.9 75.6h1.5v1.5h-1.5zM250.1 86.5h1.5v1.5h-1.5zM229.6 86.1h1.5v1.5h-1.5zM188.6 94.9h1.5v1.5h-1.5zM254.4 80.0h1.5v1.5h-1.5zM191.2 85.8h1.5v1.5h-1.5zM253.3 85.9h1.5v1.5h-1.5zM238.5 84.7h1.5v1.5h-1.5zM239.5 83.8h1.5v1.5h-1.5zM201.5 89.4h1.5v1.5h-1.5zM212.4 87.3h1.5v1.5h-1.5zM194.2 82.6h1.5v1.5h-1.5zM204.2 97.4h1.5v1.5h-1.5zM243.8 89.2h1.5v1.5h-1.5zM163.7 91.4h1.5v1.5h-1.5zM172.3 87.3h1.5v1.5h-1.5zM200.5 84.1h1.5v1.5h-1.5zM202.0 84.2h1.5v1.5h-1.5zM200.3 91.1h1.5v1.5h-1.5zM253.3 86.6h1.5v1.5h-1.5zM177.6 98.8h1.5v1.5h-1.5zM200.2 99.8h1.5v1.5h-1.5zM121.7 84.4h1.5v1.5h-1.5zM249.4 83.6h1.5v1.5h-1.5zM275.4 78.8h1.5v1.5h-1.5zM203.2 93.3h1.5v1.5h-1.5zM186.2 95.1h1.5v1.5h-1.5zM177.6 92.9h1.5v1.5h-1.5zM234.6 89.6h1.5v1.5h-1.5zM242.2 82.3h1.5v1.5h-1.5zM259.8 83.4h1.5v1.5h-1.5zM237.7 89.0h1.5v1.5h-1.5zM211.0 92.2h1.5v1.5h-1.5zM209.9 83.3h1.5v1.5h-1.5zM237.7 89.0h1.5v1.5h-1.5zM208.8 91.5h1.5v1.5h-1.5zM188.5 93.1h1.5v1.5h-1.5zM216.0 87.9h1.5v1.5h-1.5zM246.8 89.8h1.5v1.5h-1.5zM149.9 101.0h1.5v1.5h-1.5zM184.7 91.3h1.5v1.5h-1.5zM195.7 92.1h1.5v1.5h-1.5zM225.8 80.6h1.5v1.5h-1.5zM194.1 93.6h1.5v1.5h-1.5zM254.7 89.6h1.5v1.5h-1.5zM264.7 86.4h1.5v1.5h-1.5zM113.4 93.1h1.5v1.5h-1.5zM248.1 83.9h1.5v1.5h-1.5zM218.1 83.9h1.5v1.5h-1.5zM158.9 89.0h1.5v1.5h-1.5zM197.6 97.5h1.5v1.5h-1.5zM232.5 91.5h1.5v1.5h-1.5zM228.5 88.7h1.5v1.5h-1.5zM218.7 89.3h1.5v1.5h-1.5zM198.3 93.0h1.5v1.5h-1.5zM247.0 79.6h1.5v1.5h-1.5zM208.8 93.8h1.5v1.5h-1.5zM205.6 90.0h1.5v1.5h-1.5zM212.9 92.3h1.5v1.5h-1.5zM259.1 81.8h1.5v1.5h-1.5zM155.0 89.4h1.5v1.5h-1.5zM184.9 92.5h1.5v1.5h-1.5zM202.4 89.2h1.5v1.5h-1.5zM272.9 82.8h1.5v1.5h-1.5zM209.3 87.1h1.5v1.5h-1.5zM217.7 96.0h1.5v1.5h-1.5zM233.8 85.4h1.5v1.5h-1.5zM193.4 92.3h1.5v1.5h-1.5zM231.7 83.2h1.5v1.5h-1.5zM194.1 94.7h1.5v1.5h-1.5zM235.5 90.8h1.5v1.5h-1.5zM223.8 83.1h1.5v1.5h-1.5zM168.4 89.7h1.5v1.5h-1.5zM223.2 85.3h1.5v1.5h-1.5zM166.5 95.9h1.5v1.5h-1.5zM183.6 97.7h1.5v1.5h-1.5zM248.0 86.2h1.5v1.5h-1.5zM195.3 90.8h1.5v1.5h-1.5zM221.0 95.1h1.5v1.5h-1.5zM206.1 87.5h1.5v1.5h-1.5zM232.4 96.2h1.5v1.5h-1.5zM186.8 95.2h1.5v1.5h-1.5zM212.7 89.0h1.5v1.5h-1.5zM189.0 93.9h1.5v1.5h-1.5zM260.1 86.5h1.5v1.5h-1.5zM228.9 79.8h1.5v1.5h-1.5zM254.2 89.0h1.5v1.5h-1.5zM206.6 95.7h1.5v1.5h-1.5zM260.6 89.0h1.5v1.5h-1.5zM187.9 90.2h1.5v1.5h-1.5zM214.2 94.2h1.5v1.5h-1.5zM237.2 83.8h1.5v1.5h-1.5zM153.1 92.6h1.5v1.5h-1.5zM217.9 83.9h1.5v1.5h-1.5zM199.4 88.9h1.5v1.5h-1.5zM156.4 95.0h1.5v1.5h-1.5zM252.6 83.4h1.5v1.5h-1.5zM261.0 90.2h1.5v1.5h-1.5zM197.4 81.5h1.5v1.5h-1.5zM231.9 83.7h1.5v1.5h-1.5zM213.1 86.2h1.5v1.5h-1.5zM229.7 88.0h1.5v1.5h-1.5zM198.6 86.7h1.5v1.5h-1.5zM237.6 88.0h1.5v1.5h-1.5zM114.1 90.7h1.5v1.5h-1.5zM207.8 88.0h1.5v1.5h-1.5zM187.6 90.4h1.5v1.5h-1.5zM192.4 90.4h1.5v1.5h-1.5zM237.9 87.8h1.5v1.5h-1.5zM235.5 87.0h1.5v1.5h-1.5zM204.7 88.6h1.5v1.5h-1.5zM139.3 92.9h1.5v1.5h-1.5zM233.5 86.2h1.5v1.5h-1.5zM170.3 102.5h1.5v1.5h-1.5zM243.9 92.1h1.5v1.5h-1.5zM245.8 87.8h1.5v1.5h-1.5zM213.2 79.6h1.5v1.5h-1.5zM231.6 82.3h1.5v1.5h-1.5zM196.6 88.7h1.5v1.5h-1.5zM160.4 94.5h1.5v1.5h-1.5zM259.7 88.5h1.5v1.5h-1.5zM190.8 91.0h1.5v1.5h-1.5zM228.4 91.5h1.5v1.5h-1.5zM239.4 82.3h1.5v1.5h-1.5zM220.9 86.6h1.5v1.5h-1.5zM229.0 87.9h1.5v1.5h-1.5zM194.8 85.5h1.5v1.5h-1.5zM244.1 85.4h1.5v1.5h-1.5zM183.3 97.8h1.5v1.5h-1.5zM247.2 82.1h1.5v1.5h-1.5zM160.7 88.6h1.5v1.5h-1.5zM189.3 86.8h1.5v1.5h-1.5zM216.6 92.5h1.5v1.5h-1.5zM225.0 80.6h1.5v1.5h-1.5zM200.7 87.4h1.5v1.5h-1.5zM263.9 87.5h1.5v1.5h-1.5zM224.7 85.2h1.5v1.5h-1.5zM159.4 86.8h1.5v1.5h-1.5zM230.7 89.3h1.5v1.5h-1.5zM203.0 89.1h1.5v1.5h-1.5zM236.0 81.8h1.5v1.5h-1.5zM224.7 93.3h1.5v1.5h-1.5zM221.4 86.8h1.5v1.5h-1.5zM212.0 88.8h1.5v1.5h-1.5zM198.3 90.4h1.5v1.5h-1.5zM192.5 101.4h1.5v1.5h-1.5zM259.3 80.0h1.5v1.5h-1.5zM255.1 86.1h1.5v1.5h-1.5zM211.5 98.0h1.5v1.5h-1.5zM261.3 83.9h1.5v1.5h-1.5zM232.8 78.5h1.5v1.5h-1.5zM204.6 87.2h1.5v1.5h-1.5zM184.4 86.0h1.5v1.5h-1.5zM204.3 95.0h1.5v1.5h-1.5zM254.3 85.8h1.5v1.5h-1.5zM171.4 87.0h1.5v1.5h-1.5zM210.5 87.6h1.5v1.5h-1.5zM177.0 98.8h1.5v1.5h-1.5zM243.6 86.1h1.5v1.5h-1.5zM204.6 83.0h1.5v1.5h-1.5zM234.4 87.2h1.5v1.5h-1.5zM236.4 88.2h1.5v1.5h-1.5zM223.1 87.0h1.5v1.5h-1.5zM179.1 88.7h1.5v1.5h-1.5zM219.5 84.1h1.5v1.5h-1.5zM239.6 82.3h1.5v1.5h-1.5zM116.7 92.8h1.5v1.5h-1.5zM156.7 97.9h1.5v1.5h-1.5zM202.2 87.4h1.5v1.5h-1.5zM158.9 88.9h1.5v1.5h-1.5zM193.6 83.7h1.5v1.5h-1.5zM194.5 83.4h1.5v1.5h-1.5zM240.0 87.9h1.5v1.5h-1.5zM218.5 84.9h1.5v1.5h-1.5zM232.5 89.4h1.5v1.5h-1.5zM252.6 84.2h1.5v1.5h-1.5zM232.1 88.1h1.5v1.5h-1.5zM258.8 85.6h1.5v1.5h-1.5zM202.7 89.3h1.5v1.5h-1.5zM207.9 85.2h1.5v1.5h-1.5zM192.2 86.7h1.5v1.5h-1.5zM220.1 84.9h1.5v1.5h-1.5zM250.0 79.9h1.5v1.5h-1.5zM198.4 94.4h1.5v1.5h-1.5zM214.1 94.1h1.5v1.5h-1.5zM218.1 85.1h1.5v1.5h-1.5zM230.2 84.3h1.5v1.5h-1.5zM206.8 89.9h1.5v1.5h-1.5zM218.7 84.1h1.5v1.5h-1.5zM216.1 89.8h1.5v1.5h-1.5zM244.6 84.9h1.5v1.5h-1.5zM215.6 88.2h1.5v1.5h-1.5zM175.5 89.7h1.5v1.5h-1.5zM204.4 86.7h1.5v1.5h-1.5zM212.5 89.2h1.5v1.5h-1.5zM221.1 83.7h1.5v1.5h-1.5zM225.6 83.6h1.5v1.5h-1.5zM235.7 95.5h1.5v1.5h-1.5zM195.8 89.7h1.5v1.5h-1.5zM234.2 80.1h1.5v1.5h-1.5zM237.3 82.0h1.5v1.5h-1.5zM210.8 82.9h1.5v1.5h-1.5zM187.3 90.5h1.5v1.5h-1.5zM185.3 94.8h1.5v1.5h-1.5zM255.5 73.2h1.5v1.5h-1.5zM217.3 93.4h1.5v1.5h-1.5zM224.5 87.8h1.5v1.5h-1.5zM264.4 81.9h1.5v1.5h-1.5zM243.6 86.3h1.5v1.5h-1.5zM208.6 87.4h1.5v1.5h-1.5zM213.2 91.4h1.5v1.5h-1.5zM226.7 87.5h1.5v1.5h-1.5zM184.6 85.7h1.5v1.5h-1.5zM247.9 90.0h1.5v1.5h-1.5zM256.9 86.7h1.5v1.5h-1.5zM236.4 86.9h1.5v1.5h-1.5zM190.8 95.8h1.5v1.5h-1.5zM219.0 91.7h1.5v1.5h-1.5zM247.6 85.2h1.5v1.5h-1.5zM174.1 95.7h1.5v1.5h-1.5zM260.8 83.4h1.5v1.5h-1.5zM218.3 94.6h1.5v1.5h-1.5zM206.1 91.3h1.5v1.5h-1.5zM217.7 88.7h1.5v1.5h-1.5zM187.0 102.2h1.5v1.5h-1.5zM219.6 86.5h1.5v1.5h-1.5zM140.3 95.0h1.5v1.5h-1.5zM225.5 87.4h1.5v1.5h-1.5zM203.3 93.7h1.5v1.5h-1.5zM188.6 91.0h1.5v1.5h-1.5zM223.3 82.2h1.5v1.5h-1.5zM158.6 92.4h1.5v1.5h-1.5zM243.6 86.3h1.5v1.5h-1.5zM212.9 84.3h1.5v1.5h-1.5zM227.5 87.0h1.5v1.5h-1.5zM216.9 84.9h1.5v1.5h-1.5zM194.2 93.1h1.5v1.5h-1.5zM212.7 82.6h1.5v1.5h-1.5zM256.1 79.2h1.5v1.5h-1.5zM230.0 96.4h1.5v1.5h-1.5zM229.6 86.9h1.5v1.5h-1.5zM197.9 89.4h1.5v1.5h-1.5zM178.1 86.3h1.5v1.5h-1.5zM230.6 86.1h1.5v1.5h-1.5zM200.9 85.1h1.5v1.5h-1.5zM248.6 91.4h1.5v1.5h-1.5zM195.4 82.7h1.5v1.5h-1.5zM262.2 81.3h1.5v1.5h-1.5zM224.0 79.4h1.5v1.5h-1.5zM162.9 90.2h1.5v1.5h-1.5zM222.1 89.8h1.5v1.5h-1.5zM197.5 94.0h1.5v1.5h-1.5zM217.3 87.1h1.5v1.5h-1.5zM129.8 95.4h1.5v1.5h-1.5zM256.8 94.2h1.5v1.5h-1.5zM127.6 88.6h1.5v1.5h-1.5zM191.5 92.4h1.5v1.5h-1.5zM254.4 90.9h1.5v1.5h-1.5zM187.0 96.7h1.5v1.5h-1.5zM159.1 84.6h1.5v1.5h-1.5zM250.3 79.7h1.5v1.5h-1.5zM255.3 85.1h1.5v1.5h-1.5zM126.2 97.9h1.5v1.5h-1.5zM245.9 85.1h1.5v1.5h-1.5zM178.5 85.9h1.5v1.5h-1.5zM239.0 86.3h1.5v1.5h-1.5zM258.2 89.5h1.5v1.5h-1.5zM262.0 85.8h1.5v1.5h-1.5zM199.5 81.5h1.5v1.5h-1.5zM233.3 94.2h1.5v1.5h-1.5zM231.0 86.6h1.5v1.5h-1.5zM220.5 88.5h1.5v1.5h-1.5zM227.1 94.5h1.5v1.5h-1.5zM275.6 83.1h1.5v1.5h-1.5zM230.0 87.4h1.5v1.5h-1.5zM179.0 86.6h1.5v1.5h-1.5zM217.4 92.2h1.5v1.5h-1.5zM207.5 92.8h1.5v1.5h-1.5zM195.7 89.8h1.5v1.5h-1.5zM269.7 84.7h1.5v1.5h-1.5zM221.7 78.4h1.5v1.5h-1.5zM219.0 90.8h1.5v1.5h-1.5zM244.1 89.6h1.5v1.5h-1.5zM225.2 84.8h1.5v1.5h-1.5zM264.5 88.9h1.5v1.5h-1.5zM176.5 92.4h1.5v1.5h-1.5zM228.3 89.6h1.5v1.5h-1.5zM158.2 89.5h1.5v1.5h-1.5zM163.7 95.7h1.5v1.5h-1.5zM224.5 85.5h1.5v1.5h-1.5zM203.7 85.4h1.5v1.5h-1.5zM195.6 92.7h1.5v1.5h-1.5zM189.0 100.3h1.5v1.5h-1.5zM154.2 97.0h1.5v1.5h-1.5zM224.1 84.0h1.5v1.5h-1.5zM212.1 89.0h1.5v1.5h-1.5zM222.7 92.1h1.5v1.5h-1.5zM223.4 77.4h1.5v1.5h-1.5zM196.8 87.8h1.5v1.5h-1.5zM279.3 83.1h1.5v1.5h-1.5zM206.1 96.2h1.5v1.5h-1.5zM207.5 86.9h1.5v1.5h-1.5zM246.2 78.7h1.5v1.5h-1.5zM227.0 92.0h1.5v1.5h-1.5zM185.6 89.0h1.5v1.5h-1.5zM250.0 88.1h1.5v1.5h-1.5zM245.3 86.6h1.5v1.5h-1.5zM132.4 105.4h1.5v1.5h-1.5zM194.8 86.2h1.5v1.5h-1.5zM182.8 94.2h1.5v1.5h-1.5zM211.1 92.1h1.5v1.5h-1.5zM132.2 87.2h1.5v1.5h-1.5zM210.4 98.5h1.5v1.5h-1.5zM207.8 93.7h1.5v1.5h-1.5zM258.4 91.4h1.5v1.5h-1.5zM244.2 89.7h1.5v1.5h-1.5zM246.4 81.6h1.5v1.5h-1.5zM238.0 85.8h1.5v1.5h-1.5zM159.5 96.8h1.5v1.5h-1.5zM224.7 83.3h1.5v1.5h-1.5zM250.6 87.5h1.5v1.5h-1.5zM217.5 89.9h1.5v1.5h-1.5zM197.7 92.4h1.5v1.5h-1.5zM269.5 83.4h1.5v1.5h-1.5zM211.2 86.4h1.5v1.5h-1.5zM237.3 84.1h1.5v1.5h-1.5zM243.4 83.7h1.5v1.5h-1.5zM225.9 89.1h1.5v1.5h-1.5zM152.2 81.9h1.5v1.5h-1.5zM207.8 94.6h1.5v1.5h-1.5zM209.1 91.1h1.5v1.5h-1.5zM215.7 94.9h1.5v1.5h-1.5zM198.2 93.6h1.5v1.5h-1.5zM281.6 84.2h1.5v1.5h-1.5zM223.9 77.9h1.5v1.5h-1.5zM224.9 91.3h1.5v1.5h-1.5zM253.7 88.7h1.5v1.5h-1.5zM261.6 87.0h1.5v1.5h-1.5zM262.2 82.3h1.5v1.5h-1.5zM223.5 84.5h1.5v1.5h-1.5zM243.6 83.9h1.5v1.5h-1.5zM222.0 89.4h1.5v1.5h-1.5zM175.9 92.4h1.5v1.5h-1.5zM215.4 88.2h1.5v1.5h-1.5zM113.0 96.9h1.5v1.5h-1.5zM251.1 84.3h1.5v1.5h-1.5zM229.0 83.5h1.5v1.5h-1.5zM262.2 82.6h1.5v1.5h-1.5zM241.7 91.2h1.5v1.5h-1.5zM231.1 90.1h1.5v1.5h-1.5zM220.9 92.6h1.5v1.5h-1.5zM204.2 87.6h1.5v1.5h-1.5zM174.9 97.0h1.5v1.5h-1.5zM189.0 86.3h1.5v1.5h-1.5zM237.8 79.4h1.5v1.5h-1.5zM194.8 84.8h1.5v1.5h-1.5zM225.5 87.6h1.5v1.5h-1.5zM245.5 86.0h1.5v1.5h-1.5zM235.3 81.6h1.5v1.5h-1.5zM237.7 96.8h1.5v1.5h-1.5zM257.6 89.8h1.5v1.5h-1.5zM269.1 84.6h1.5v1.5h-1.5zM188.7 85.5h1.5v1.5h-1.5zM251.8 85.6h1.5v1.5h-1.5zM147.1 88.3h1.5v1.5h-1.5zM213.4 101.6h1.5v1.5h-1.5zM244.1 86.6h1.5v1.5h-1.5zM230.3 91.5h1.5v1.5h-1.5zM220.0 80.1h1.5v1.5h-1.5zM204.9 79.5h1.5v1.5h-1.5zM177.9 86.9h1.5v1.5h-1.5zM246.1 87.2h1.5v1.5h-1.5zM276.0 77.9h1.5v1.5h-1.5zM233.7 90.1h1.5v1.5h-1.5zM209.3 84.5h1.5v1.5h-1.5zM181.6 95.3h1.5v1.5h-1.5zM251.5 79.8h1.5v1.5h-1.5zM192.4 83.7h1.5v1.5h-1.5zM218.0 89.2h1.5v1.5h-1.5zM162.2 99.9h1.5v1.5h-1.5zM241.5 83.5h1.5v1.5h-1.5zM198.6 85.4h1.5v1.5h-1.5zM163.0 86.0h1.5v1.5h-1.5zM249.9 83.9h1.5v1.5h-1.5zM219.8 83.9h1.5v1.5h-1.5zM212.4 91.4h1.5v1.5h-1.5zM235.9 88.7h1.5v1.5h-1.5zM213.0 91.9h1.5v1.5h-1.5zM243.7 83.6h1.5v1.5h-1.5zM239.2 84.2h1.5v1.5h-1.5zM213.9 97.5h1.5v1.5h-1.5zM200.1 96.1h1.5v1.5h-1.5zM137.4 96.1h1.5v1.5h-1.5zM135.2 86.4h1.5v1.5h-1.5zM163.7 87.9h1.5v1.5h-1.5zM185.6 87.1h1.5v1.5h-1.5zM242.7 79.4h1.5v1.5h-1.5zM157.3 94.6h1.5v1.5h-1.5zM202.3 94.3h1.5v1.5h-1.5zM219.4 89.3h1.5v1.5h-1.5zM146.2 83.8h1.5v1.5h-1.5zM226.9 88.3h1.5v1.5h-1.5zM160.5 90.8h1.5v1.5h-1.5zM212.8 92.2h1.5v1.5h-1.5zM208.7 85.1h1.5v1.5h-1.5zM180.4 92.5h1.5v1.5h-1.5zM193.1 92.6h1.5v1.5h-1.5zM179.1 94.1h1.5v1.5h-1.5zM238.8 85.0h1.5v1.5h-1.5zM207.3 92.5h1.5v1.5h-1.5zM250.6 84.8h1.5v1.5h-1.5zM229.9 89.5h1.5v1.5h-1.5zM253.0 89.2h1.5v1.5h-1.5zM212.3 76.5h1.5v1.5h-1.5zM195.1 94.8h1.5v1.5h-1.5zM255.5 79.7h1.5v1.5h-1.5zM232.3 85.0h1.5v1.5h-1.5zM247.7 76.9h1.5v1.5h-1.5zM255.3 86.7h1.5v1.5h-1.5zM176.7 94.7h1.5v1.5h-1.5zM124.9 96.7h1.5v1.5h-1.5zM214.5 83.3h1.5v1.5h-1.5zM231.7 85.4h1.5v1.5h-1.5zM198.6 91.5h1.5v1.5h-1.5zM140.7 95.3h1.5v1.5h-1.5zM214.0 82.6h1.5v1.5h-1.5zM223.2 80.4h1.5v1.5h-1.5zM240.4 81.8h1.5v1.5h-1.5zM242.4 88.5h1.5v1.5h-1.5zM186.4 91.5h1.5v1.5h-1.5zM218.2 82.5h1.5v1.5h-1.5zM235.7 83.0h1.5v1.5h-1.5zM220.2 85.6h1.5v1.5h-1.5zM182.4 86.1h1.5v1.5h-1.5zM120.4 89.5h1.5v1.5h-1.5zM165.5 87.3h1.5v1.5h-1.5zM180.8 84.3h1.5v1.5h-1.5zM188.8 87.6h1.5v1.5h-1.5zM209.1 86.0h1.5v1.5h-1.5zM243.8 78.7h1.5v1.5h-1.5zM228.4 89.1h1.5v1.5h-1.5zM237.8 82.8h1.5v1.5h-1.5zM241.4 83.0h1.5v1.5h-1.5zM271.3 88.6h1.5v1.5h-1.5zM272.0 87.8h1.5v1.5h-1.5zM228.7 89.3h1.5v1.5h-1.5zM258.3 83.8h1.5v1.5h-1.5zM260.8 91.5h1.5v1.5h-1.5zM199.5 89.2h1.5v1.5h-1.5zM223.6 93.6h1.5v1.5h-1.5zM228.1 93.0h1.5v1.5h-1.5zM194.9 95.5h1.5v1.5h-1.5zM185.8 94.3h1.5v1.5h-1.5zM214.8 96.2h1.5v1.5h-1.5zM190.0 94.3h1.5v1.5h-1.5zM213.4 82.9h1.5v1.5h-1.5zM254.6 82.6h1.5v1.5h-1.5zM239.6 87.8h1.5v1.5h-1.5zM203.9 93.4h1.5v1.5h-1.5zM230.5 79.8h1.5v1.5h-1.5zM258.6 86.9h1.5v1.5h-1.5zM179.7 91.1h1.5v1.5h-1.5zM246.9 79.7h1.5v1.5h-1.5zM242.9 85.6h1.5v1.5h-1.5zM267.2 78.9h1.5v1.5h-1.5zM159.5 94.5h1.5v1.5h-1.5zM232.5 83.6h1.5v1.5h-1.5zM215.2 87.2h1.5v1.5h-1.5zM242.6 85.5h1.5v1.5h-1.5zM178.6 84.0h1.5v1.5h-1.5zM237.4 85.5h1.5v1.5h-1.5zM112.6 93.4h1.5v1.5h-1.5zM197.1 87.6h1.5v1.5h-1.5zM223.3 87.3h1.5v1.5h-1.5zM212.6 89.0h1.5v1.5h-1.5zM274.9 81.5h1.5v1.5h-1.5zM215.8 89.3h1.5v1.5h-1.5zM188.8 91.4h1.5v1.5h-1.5zM231.8 91.5h1.5v1.5h-1.5zM182.4 91.0h1.5v1.5h-1.5zM188.1 97.0h1.5v1.5h-1.5zM243.9 88.5h1.5v1.5h-1.5zM218.9 92.0h1.5v1.5h-1.5zM222.7 86.1h1.5v1.5h-1.5zM184.5 95.2h1.5v1.5h-1.5zM217.8 83.9h1.5v1.5h-1.5zM216.5 79.4h1.5v1.5h-1.5zM189.4 91.8h1.5v1.5h-1.5zM197.5 89.1h1.5v1.5h-1.5zM172.2 81.2h1.5v1.5h-1.5zM230.9 86.6h1.5v1.5h-1.5zM228.5 79.7h1.5v1.5h-1.5zM224.2 86.6h1.5v1.5h-1.5zM246.0 79.6h1.5v1.5h-1.5zM240.0 86.4h1.5v1.5h-1.5zM239.0 85.6h1.5v1.5h-1.5zM245.4 76.7h1.5v1.5h-1.5zM211.4 86.5h1.5v1.5h-1.5zM205.6 89.9h1.5v1.5h-1.5zM223.3 90.6h1.5v1.5h-1.5zM238.7 82.9h1.5v1.5h-1.5zM217.7 85.9h1.5v1.5h-1.5zM196.9 87.3h1.5v1.5h-1.5zM265.5 86.1h1.5v1.5h-1.5zM179.1 95.7h1.5v1.5h-1.5zM252.5 81.8h1.5v1.5h-1.5zM189.5 90.7h1.5v1.5h-1.5zM234.8 83.1h1.5v1.5h-1.5zM258.0 86.1h1.5v1.5h-1.5zM267.1 79.2h1.5v1.5h-1.5zM244.4 86.2h1.5v1.5h-1.5zM211.7 91.9h1.5v1.5h-1.5zM214.9 94.0h1.5v1.5h-1.5zM226.9 84.1h1.5v1.5h-1.5zM273.2 81.2h1.5v1.5h-1.5zM249.1 85.5h1.5v1.5h-1.5zM228.3 81.3h1.5v1.5h-1.5zM146.4 92.1h1.5v1.5h-1.5zM235.2 86.9h1.5v1.5h-1.5zM240.8 85.6h1.5v1.5h-1.5zM245.1 85.8h1.5v1.5h-1.5zM207.1 89.0h1.5v1.5h-1.5zM190.9 77.5h1.5v1.5h-1.5zM200.4 93.2h1.5v1.5h-1.5zM212.6 89.5h1.5v1.5h-1.5zM215.8 87.7h1.5v1.5h-1.5zM242.3 87.5h1.5v1.5h-1.5zM240.6 83.7h1.5v1.5h-1.5zM182.1 87.7h1.5v1.5h-1.5zM235.3 87.4h1.5v1.5h-1.5zM222.1 86.0h1.5v1.5h-1.5zM204.0 90.2h1.5v1.5h-1.5zM246.5 92.1h1.5v1.5h-1.5zM214.0 84.4h1.5v1.5h-1.5zM180.1 90.2h1.5v1.5h-1.5zM168.8 97.0h1.5v1.5h-1.5zM192.9 91.5h1.5v1.5h-1.5zM140.0 94.1h1.5v1.5h-1.5zM256.4 90.6h1.5v1.5h-1.5zM229.6 84.7h1.5v1.5h-1.5zM251.0 85.3h1.5v1.5h-1.5zM192.9 82.7h1.5v1.5h-1.5zM226.6 82.8h1.5v1.5h-1.5zM187.4 86.7h1.5v1.5h-1.5zM209.2 83.6h1.5v1.5h-1.5zM216.7 87.0h1.5v1.5h-1.5zM254.9 86.9h1.5v1.5h-1.5zM236.7 86.1h1.5v1.5h-1.5zM226.0 82.0h1.5v1.5h-1.5zM210.5 87.1h1.5v1.5h-1.5zM254.6 89.7h1.5v1.5h-1.5zM221.8 92.5h1.5v1.5h-1.5zM255.2 84.5h1.5v1.5h-1.5zM201.6 92.2h1.5v1.5h-1.5zM225.0 88.4h1.5v1.5h-1.5zM192.7 88.1h1.5v1.5h-1.5zM202.8 91.9h1.5v1.5h-1.5zM202.2 81.5h1.5v1.5h-1.5zM201.6 89.1h1.5v1.5h-1.5zM230.6 87.2h1.5v1.5h-1.5zM200.1 89.2h1.5v1.5h-1.5zM135.0 83.4h1.5v1.5h-1.5zM209.9 92.4h1.5v1.5h-1.5zM128.9 91.3h1.5v1.5h-1.5zM191.4 92.1h1.5v1.5h-1.5zM210.1 95.2h1.5v1.5h-1.5zM195.3 88.8h1.5v1.5h-1.5zM173.6 96.4h1.5v1.5h-1.5zM176.7 88.5h1.5v1.5h-1.5zM221.0 94.3h1.5v1.5h-1.5zM215.3 85.5h1.5v1.5h-1.5zM260.6 80.2h1.5v1.5h-1.5zM243.3 81.2h1.5v1.5h-1.5zM259.2 85.9h1.5v1.5h-1.5zM178.6 86.5h1.5v1.5h-1.5zM233.0 82.8h1.5v1.5h-1.5zM215.8 88.8h1.5v1.5h-1.5zM218.7 94.5h1.5v1.5h-1.5zM227.5 89.1h1.5v1.5h-1.5zM205.9 93.0h1.5v1.5h-1.5zM228.0 86.1h1.5v1.5h-1.5zM218.7 80.1h1.5v1.5h-1.5zM233.7 83.7h1.5v1.5h-1.5zM271.6 87.5h1.5v1.5h-1.5zM221.1 91.8h1.5v1.5h-1.5zM219.3 95.9h1.5v1.5h-1.5zM249.0 86.6h1.5v1.5h-1.5zM208.6 85.7h1.5v1.5h-1.5zM223.5 88.3h1.5v1.5h-1.5zM188.2 88.5h1.5v1.5h-1.5zM233.9 93.8h1.5v1.5h-1.5zM210.4 86.2h1.5v1.5h-1.5zM175.2 93.7h1.5v1.5h-1.5zM214.0 84.9h1.5v1.5h-1.5zM227.6 83.7h1.5v1.5h-1.5zM206.5 94.2h1.5v1.5h-1.5zM188.4 89.7h1.5v1.5h-1.5zM192.2 92.2h1.5v1.5h-1.5zM212.1 90.9h1.5v1.5h-1.5zM199.4 84.8h1.5v1.5h-1.5zM204.1 92.5h1.5v1.5h-1.5zM219.7 91.6h1.5v1.5h-1.5zM200.0 88.4h1.5v1.5h-1.5zM247.2 83.4h1.5v1.5h-1.5zM217.5 92.3h1.5v1.5h-1.5zM222.6 90.4h1.5v1.5h-1.5zM249.3 87.9h1.5v1.5h-1.5zM209.2 86.9h1.5v1.5h-1.5zM202.2 88.8h1.5v1.5h-1.5zM245.7 81.7h1.5v1.5h-1.5zM226.5 80.6h1.5v1.5h-1.5zM270.2 85.9h1.5v1.5h-1.5zM230.5 93.5h1.5v1.5h-1.5zM192.0 87.9h1.5v1.5h-1.5zM223.0 86.4h1.5v1.5h-1.5zM249.5 85.3h1.5v1.5h-1.5zM212.7 91.1h1.5v1.5h-1.5zM224.4 90.6h1.5v1.5h-1.5zM194.9 92.4h1.5v1.5h-1.5zM236.3 87.6h1.5v1.5h-1.5zM240.9 90.3h1.5v1.5h-1.5zM268.7 80.5h1.5v1.5h-1.5zM204.4 93.0h1.5v1.5h-1.5zM240.9 89.1h1.5v1.5h-1.5zM246.7 93.4h1.5v1.5h-1.5zM213.6 88.0h1.5v1.5h-1.5zM207.7 94.4h1.5v1.5h-1.5zM249.0 84.5h1.5v1.5h-1.5zM195.8 85.7h1.5v1.5h-1.5zM229.7 87.3h1.5v1.5h-1.5zM218.3 91.0h1.5v1.5h-1.5zM172.1 93.7h1.5v1.5h-1.5zM256.2 76.3h1.5v1.5h-1.5zM203.7 94.5h1.5v1.5h-1.5zM228.1 84.9h1.5v1.5h-1.5zM244.4 89.6h1.5v1.5h-1.5zM180.9 91.4h1.5v1.5h-1.5zM200.7 80.0h1.5v1.5h-1.5zM195.7 96.4h1.5v1.5h-1.5zM211.0 100.3h1.5v1.5h-1.5zM283.7 80.7h1.5v1.5h-1.5zM175.4 88.5h1.5v1.5h-1.5zM251.3 90.5h1.5v1.5h-1.5zM194.0 91.5h1.5v1.5h-1.5zM246.3 81.3h1.5v1.5h-1.5zM246.1 86.5h1.5v1.5h-1.5zM183.6 93.9h1.5v1.5h-1.5zM212.0 84.3h1.5v1.5h-1.5zM229.5 89.7h1.5v1.5h-1.5zM174.9 85.3h1.5v1.5h-1.5zM165.0 94.6h1.5v1.5h-1.5zM170.4 87.6h1.5v1.5h-1.5zM243.0 87.6h1.5v1.5h-1.5zM247.8 83.1h1.5v1.5h-1.5zM236.9 88.6h1.5v1.5h-1.5zM245.2 91.3h1.5v1.5h-1.5zM227.3 81.8h1.5v1.5h-1.5zM239.4 89.1h1.5v1.5h-1.5zM248.9 87.3h1.5v1.5h-1.5zM266.4 85.7h1.5v1.5h-1.5zM177.3 85.3h1.5v1.5h-1.5zM183.0 86.4h1.5v1.5h-1.5zM251.1 90.2h1.5v1.5h-1.5zM187.6 86.5h1.5v1.5h-1.5zM275.1 83.2h1.5v1.5h-1.5zM242.1 78.7h1.5v1.5h-1.5zM230.9 83.5h1.5v1.5h-1.5zM202.6 91.9h1.5v1.5h-1.5zM164.9 88.1h1.5v1.5h-1.5zM247.7 83.5h1.5v1.5h-1.5zM129.9 90.0h1.5v1.5h-1.5zM174.0 94.5h1.5v1.5h-1.5zM184.9 89.2h1.5v1.5h-1.5zM233.4 90.7h1.5v1.5h-1.5zM241.3 86.1h1.5v1.5h-1.5zM243.7 88.0h1.5v1.5h-1.5zM225.5 87.3h1.5v1.5h-1.5zM256.0 86.9h1.5v1.5h-1.5zM246.2 84.2h1.5v1.5h-1.5zM268.4 81.2h1.5v1.5h-1.5zM235.9 88.1h1.5v1.5h-1.5zM201.3 92.6h1.5v1.5h-1.5zM249.2 87.9h1.5v1.5h-1.5zM206.7 93.9h1.5v1.5h-1.5zM175.9 97.2h1.5v1.5h-1.5zM186.5 84.5h1.5v1.5h-1.5zM216.1 91.4h1.5v1.5h-1.5zM189.5 85.0h1.5v1.5h-1.5zM182.7 84.7h1.5v1.5h-1.5zM231.0 92.0h1.5v1.5h-1.5zM243.3 89.3h1.5v1.5h-1.5zM252.2 81.3h1.5v1.5h-1.5zM218.5 88.8h1.5v1.5h-1.5zM218.7 90.1h1.5v1.5h-1.5zM247.1 84.7h1.5v1.5h-1.5zM191.0 88.0h1.5v1.5h-1.5zM189.0 95.3h1.5v1.5h-1.5zM118.5 94.4h1.5v1.5h-1.5zM236.3 92.0h1.5v1.5h-1.5zM202.9 92.6h1.5v1.5h-1.5zM236.4 83.0h1.5v1.5h-1.5zM224.7 87.0h1.5v1.5h-1.5zM249.3 84.5h1.5v1.5h-1.5zM205.3 95.1h1.5v1.5h-1.5zM236.6 81.6h1.5v1.5h-1.5zM257.2 90.4h1.5v1.5h-1.5zM265.7 87.1h1.5v1.5h-1.5zM215.4 86.7h1.5v1.5h-1.5zM199.1 98.6h1.5v1.5h-1.5zM190.8 92.2h1.5v1.5h-1.5zM237.5 82.6h1.5v1.5h-1.5zM177.0 86.9h1.5v1.5h-1.5zM243.0 85.4h1.5v1.5h-1.5zM191.5 98.8h1.5v1.5h-1.5zM184.5 79.7h1.5v1.5h-1.5zM200.9 95.9h1.5v1.5h-1.5zM246.5 82.2h1.5v1.5h-1.5zM263.3 78.8h1.5v1.5h-1.5zM256.4 94.5h1.5v1.5h-1.5zM238.0 83.1h1.5v1.5h-1.5zM226.3 88.4h1.5v1.5h-1.5zM222.4 89.3h1.5v1.5h-1.5zM199.3 84.6h1.5v1.5h-1.5zM235.1 94.2h1.5v1.5h-1.5zM256.8 84.7h1.5v1.5h-1.5zM186.4 95.7h1.5v1.5h-1.5zM180.2 92.0h1.5v1.5h-1.5zM230.5 87.6h1.5v1.5h-1.5zM172.1 87.6h1.5v1.5h-1.5zM259.9 87.7h1.5v1.5h-1.5zM230.8 92.0h1.5v1.5h-1.5zM183.9 88.6h1.5v1.5h-1.5zM201.8 87.6h1.5v1.5h-1.5zM221.8 84.2h1.5v1.5h-1.5zM226.5 87.3h1.5v1.5h-1.5zM213.4 92.8h1.5v1.5h-1.5zM197.5 84.6h1.5v1.5h-1.5zM241.2 90.5h1.5v1.5h-1.5zM188.8 95.3h1.5v1.5h-1.5zM197.4 96.0h1.5v1.5h-1.5zM222.3 76.9h1.5v1.5h-1.5zM169.2 105.0h1.5v1.5h-1.5zM207.6 95.0h1.5v1.5h-1.5zM280.6 85.2h1.5v1.5h-1.5zM246.4 75.6h1.5v1.5h-1.5zM253.9 76.8h1.5v1.5h-1.5zM189.6 90.6h1.5v1.5h-1.5zM213.0 87.0h1.5v1.5h-1.5zM195.4 93.1h1.5v1.5h-1.5zM256.6 89.9h1.5v1.5h-1.5zM275.3 79.3h1.5v1.5h-1.5zM225.7 86.5h1.5v1.5h-1.5zM245.0 85.2h1.5v1.5h-1.5zM225.7 97.6h1.5v1.5h-1.5zM269.9 84.2h1.5v1.5h-1.5zM228.1 84.2h1.5v1.5h-1.5zM192.7 89.9h1.5v1.5h-1.5zM248.4 82.7h1.5v1.5h-1.5zM235.8 83.3h1.5v1.5h-1.5zM195.5 89.8h1.5v1.5h-1.5zM247.5 84.8h1.5v1.5h-1.5zM243.0 89.2h1.5v1.5h-1.5zM226.1 91.5h1.5v1.5h-1.5zM277.2 83.9h1.5v1.5h-1.5zM194.4 90.3h1.5v1.5h-1.5zM203.4 86.6h1.5v1.5h-1.5zM128.8 98.1h1.5v1.5h-1.5zM240.2 87.2h1.5v1.5h-1.5zM212.2 88.4h1.5v1.5h-1.5zM235.2 88.3h1.5v1.5h-1.5zM227.9 88.9h1.5v1.5h-1.5zM230.6 92.6h1.5v1.5h-1.5zM238.9 94.1h1.5v1.5h-1.5zM240.6 83.8h1.5v1.5h-1.5zM235.0 86.5h1.5v1.5h-1.5zM254.4 92.1h1.5v1.5h-1.5zM187.4 89.0h1.5v1.5h-1.5zM173.6 90.3h1.5v1.5h-1.5zM167.5 93.6h1.5v1.5h-1.5zM220.4 90.6h1.5v1.5h-1.5zM263.8 79.1h1.5v1.5h-1.5zM182.7 89.7h1.5v1.5h-1.5zM256.4 81.3h1.5v1.5h-1.5zM169.3 92.5h1.5v1.5h-1.5zM252.2 76.7h1.5v1.5h-1.5zM188.7 86.0h1.5v1.5h-1.5zM235.7 85.8h1.5v1.5h-1.5zM197.8 85.6h1.5v1.5h-1.5zM232.2 87.7h1.5v1.5h-1.5zM225.1 87.9h1.5v1.5h-1.5zM248.9 88.8h1.5v1.5h-1.5zM187.3 82.9h1.5v1.5h-1.5zM236.7 89.0h1.5v1.5h-1.5zM223.4 91.1h1.5v1.5h-1.5zM184.1 96.7h1.5v1.5h-1.5zM249.1 88.6h1.5v1.5h-1.5zM260.9 85.0h1.5v1.5h-1.5zM168.2 101.3h1.5v1.5h-1.5zM156.9 97.8h1.5v1.5h-1.5zM218.8 85.5h1.5v1.5h-1.5zM229.0 86.2h1.5v1.5h-1.5zM151.3 89.1h1.5v1.5h-1.5zM248.2 83.1h1.5v1.5h-1.5zM215.6 95.6h1.5v1.5h-1.5zM188.2 85.9h1.5v1.5h-1.5zM222.6 93.3h1.5v1.5h-1.5zM232.4 82.7h1.5v1.5h-1.5zM235.9 90.9h1.5v1.5h-1.5zM227.5 83.3h1.5v1.5h-1.5zM208.5 91.7h1.5v1.5h-1.5zM203.0 88.2h1.5v1.5h-1.5zM168.0 97.6h1.5v1.5h-1.5zM258.6 81.5h1.5v1.5h-1.5zM268.4 83.4h1.5v1.5h-1.5zM193.4 92.5h1.5v1.5h-1.5zM215.5 85.1h1.5v1.5h-1.5zM228.3 82.2h1.5v1.5h-1.5zM223.1 90.8h1.5v1.5h-1.5zM244.9 96.5h1.5v1.5h-1.5zM208.8 91.8h1.5v1.5h-1.5zM145.6 97.8h1.5v1.5h-1.5zM237.4 81.4h1.5v1.5h-1.5zM243.5 89.3h1.5v1.5h-1.5zM243.3 86.6h1.5v1.5h-1.5zM204.1 89.1h1.5v1.5h-1.5zM204.3 91.2h1.5v1.5h-1.5zM232.5 93.9h1.5v1.5h-1.5zM212.6 95.3h1.5v1.5h-1.5zM226.6 81.9h1.5v1.5h-1.5zM130.6 89.2h1.5v1.5h-1.5zM263.0 90.6h1.5v1.5h-1.5zM200.5 96.9h1.5v1.5h-1.5zM185.2 89.3h1.5v1.5h-1.5zM241.5 83.9h1.5v1.5h-1.5zM206.2 87.3h1.5v1.5h-1.5zM225.2 86.2h1.5v1.5h-1.5zM189.0 89.0h1.5v1.5h-1.5zM146.2 98.8h1.5v1.5h-1.5zM235.2 90.5h1.5v1.5h-1.5zM187.2 80.7h1.5v1.5h-1.5zM231.7 87.7h1.5v1.5h-1.5zM237.9 94.1h1.5v1.5h-1.5zM242.2 86.9h1.5v1.5h-1.5zM234.8 89.9h1.5v1.5h-1.5zM206.6 86.0h1.5v1.5h-1.5zM225.3 88.7h1.5v1.5h-1.5zM252.5 83.1h1.5v1.5h-1.5zM212.2 86.5h1.5v1.5h-1.5zM197.6 88.5h1.5v1.5h-1.5zM189.5 85.4h1.5v1.5h-1.5zM193.5 95.1h1.5v1.5h-1.5zM225.0 88.8h1.5v1.5h-1.5zM201.6 96.0h1.5v1.5h-1.5zM241.0 85.4h1.5v1.5h-1.5zM211.4 92.4h1.5v1.5h-1.5zM223.0 81.1h1.5v1.5h-1.5zM191.1 86.0h1.5v1.5h-1.5zM232.6 92.4h1.5v1.5h-1.5zM223.0 87.1h1.5v1.5h-1.5zM251.3 93.1h1.5v1.5h-1.5zM229.4 83.8h1.5v1.5h-1.5zM200.1 93.3h1.5v1.5h-1.5zM245.7 80.6h1.5v1.5h-1.5zM139.9 101.7h1.5v1.5h-1.5zM192.4 102.5h1.5v1.5h-1.5zM171.2 90.6h1.5v1.5h-1.5zM212.2 89.8h1.5v1.5h-1.5zM190.2 95.6h1.5v1.5h-1.5zM259.0 85.5h1.5v1.5h-1.5zM252.6 83.6h1.5v1.5h-1.5zM186.8 85.0h1.5v1.5h-1.5zM260.5 84.0h1.5v1.5h-1.5zM180.8 97.5h1.5v1.5h-1.5zM235.6 89.3h1.5v1.5h-1.5zM201.6 85.4h1.5v1.5h-1.5zM193.3 89.1h1.5v1.5h-1.5zM236.3 82.6h1.5v1.5h-1.5zM227.7 87.1h1.5v1.5h-1.5zM198.7 87.5h1.5v1.5h-1.5zM201.4 92.2h1.5v1.5h-1.5zM171.7 103.2h1.5v1.5h-1.5zM199.8 86.0h1.5v1.5h-1.5zM260.2 82.7h1.5v1.5h-1.5zM216.5 86.2h1.5v1.5h-1.5zM224.9 91.0h1.5v1.5h-1.5zM244.9 80.8h1.5v1.5h-1.5zM190.2 92.8h1.5v1.5h-1.5zM199.7 95.0h1.5v1.5h-1.5zM234.3 97.4h1.5v1.5h-1.5zM151.8 95.3h1.5v1.5h-1.5zM184.5 98.6h1.5v1.5h-1.5zM217.4 81.4h1.5v1.5h-1.5zM197.7 92.5h1.5v1.5h-1.5zM212.2 93.7h1.5v1.5h-1.5zM193.3 84.6h1.5v1.5h-1.5zM172.4 91.3h1.5v1.5h-1.5zM208.4 91.9h1.5v1.5h-1.5zM268.2 82.8h1.5v1.5h-1.5zM206.5 94.3h1.5v1.5h-1.5zM232.2 92.9h1.5v1.5h-1.5zM192.8 92.1h1.5v1.5h-1.5zM193.5 98.7h1.5v1.5h-1.5zM231.1 84.1h1.5v1.5h-1.5zM165.4 93.7h1.5v1.5h-1.5zM216.6 94.7h1.5v1.5h-1.5zM196.1 88.6h1.5v1.5h-1.5zM212.1 89.3h1.5v1.5h-1.5zM173.3 92.3h1.5v1.5h-1.5zM200.6 87.7h1.5v1.5h-1.5zM240.4 85.9h1.5v1.5h-1.5zM224.2 85.7h1.5v1.5h-1.5zM221.2 95.5h1.5v1.5h-1.5zM215.9 89.6h1.5v1.5h-1.5zM221.2 79.8h1.5v1.5h-1.5zM161.3 98.9h1.5v1.5h-1.5zM233.9 85.0h1.5v1.5h-1.5zM197.2 90.9h1.5v1.5h-1.5zM248.7 86.0h1.5v1.5h-1.5zM245.8 79.2h1.5v1.5h-1.5zM194.4 80.1h1.5v1.5h-1.5zM223.0 86.7h1.5v1.5h-1.5zM257.9 87.6h1.5v1.5h-1.5zM204.5 87.0h1.5v1.5h-1.5zM212.9 90.9h1.5v1.5h-1.5zM231.3 85.1h1.5v1.5h-1.5zM197.0 91.2h1.5v1.5h-1.5zM189.3 91.3h1.5v1.5h-1.5zM245.1 77.4h1.5v1.5h-1.5zM168.4 81.9h1.5v1.5h-1.5zM228.5 88.9h1.5v1.5h-1.5zM227.8 84.7h1.5v1.5h-1.5zM242.4 85.3h1.5v1.5h-1.5zM217.8 98.4h1.5v1.5h-1.5zM246.7 91.0h1.5v1.5h-1.5zM250.1 79.3h1.5v1.5h-1.5zM219.0 88.1h1.5v1.5h-1.5zM179.8 80.1h1.5v1.5h-1.5zM144.1 102.5h1.5v1.5h-1.5zM258.0 84.7h1.5v1.5h-1.5zM214.5 85.2h1.5v1.5h-1.5zM201.1 93.6h1.5v1.5h-1.5zM198.2 92.9h1.5v1.5h-1.5zM208.2 95.1h1.5v1.5h-1.5zM207.5 88.7h1.5v1.5h-1.5zM213.4 95.2h1.5v1.5h-1.5zM234.8 84.8h1.5v1.5h-1.5zM202.9 87.8h1.5v1.5h-1.5zM253.0 80.4h1.5v1.5h-1.5zM218.1 90.4h1.5v1.5h-1.5zM200.5 84.2h1.5v1.5h-1.5zM216.4 89.4h1.5v1.5h-1.5zM229.3 80.2h1.5v1.5h-1.5zM216.2 82.9h1.5v1.5h-1.5zM203.2 79.2h1.5v1.5h-1.5zM167.7 94.4h1.5v1.5h-1.5zM154.3 87.5h1.5v1.5h-1.5zM190.0 92.0h1.5v1.5h-1.5zM123.5 93.0h1.5v1.5h-1.5zM173.7 99.8h1.5v1.5h-1.5zM233.6 83.2h1.5v1.5h-1.5zM177.1 93.2h1.5v1.5h-1.5zM242.2 81.8h1.5v1.5h-1.5zM161.2 91.8h1.5v1.5h-1.5zM174.3 94.1h1.5v1.5h-1.5zM190.1 101.3h1.5v1.5h-1.5zM192.8 90.2h1.5v1.5h-1.5zM227.5 83.6h1.5v1.5h-1.5zM253.0 88.5h1.5v1.5h-1.5zM215.8 81.6h1.5v1.5h-1.5zM255.9 90.4h1.5v1.5h-1.5zM185.0 91.9h1.5v1.5h-1.5zM225.2 83.1h1.5v1.5h-1.5zM238.9 86.6h1.5v1.5h-1.5zM235.3 85.7h1.5v1.5h-1.5zM154.4 94.6h1.5v1.5h-1.5zM181.9 99.3h1.5v1.5h-1.5zM200.1 98.0h1.5v1.5h-1.5zM241.5 80.8h1.5v1.5h-1.5zM235.2 83.6h1.5v1.5h-1.5zM237.3 83.9h1.5v1.5h-1.5zM203.3 93.4h1.5v1.5h-1.5zM210.0 89.1h1.5v1.5h-1.5zM204.3 87.2h1.5v1.5h-1.5zM215.4 93.9h1.5v1.5h-1.5zM192.5 91.1h1.5v1.5h-1.5zM219.4 83.5h1.5v1.5h-1.5zM204.1 85.8h1.5v1.5h-1.5zM199.0 95.1h1.5v1.5h-1.5zM244.0 85.8h1.5v1.5h-1.5zM213.6 91.2h1.5v1.5h-1.5zM190.3 92.6h1.5v1.5h-1.5zM277.5 80.9h1.5v1.5h-1.5zM220.8 84.1h1.5v1.5h-1.5zM237.4 91.2h1.5v1.5h-1.5zM202.6 88.1h1.5v1.5h-1.5zM240.7 85.0h1.5v1.5h-1.5zM279.2 79.2h1.5v1.5h-1.5zM245.3 84.0h1.5v1.5h-1.5zM240.1 83.4h1.5v1.5h-1.5zM247.9 91.7h1.5v1.5h-1.5zM238.4 88.4h1.5v1.5h-1.5zM253.9 86.5h1.5v1.5h-1.5zM241.7 85.8h1.5v1.5h-1.5zM220.3 82.5h1.5v1.5h-1.5zM264.3 85.5h1.5v1.5h-1.5zM235.0 89.0h1.5v1.5h-1.5zM238.0 78.3h1.5v1.5h-1.5zM169.7 90.5h1.5v1.5h-1.5zM226.0 81.8h1.5v1.5h-1.5zM166.5 92.5h1.5v1.5h-1.5zM276.8 87.0h1.5v1.5h-1.5zM251.5 86.7h1.5v1.5h-1.5zM158.0 96.2h1.5v1.5h-1.5zM189.3 86.3h1.5v1.5h-1.5zM203.4 79.8h1.5v1.5h-1.5zM189.3 82.0h1.5v1.5h-1.5zM207.0 81.3h1.5v1.5h-1.5zM223.5 97.8h1.5v1.5h-1.5zM117.2 91.6h1.5v1.5h-1.5zM189.1 90.6h1.5v1.5h-1.5zM175.5 97.8h1.5v1.5h-1.5zM244.0 88.3h1.5v1.5h-1.5zM219.1 87.8h1.5v1.5h-1.5zM207.3 87.5h1.5v1.5h-1.5zM240.4 86.6h1.5v1.5h-1.5zM207.8 92.0h1.5v1.5h-1.5zM182.0 86.9h1.5v1.5h-1.5zM251.7 79.4h1.5v1.5h-1.5zM238.5 85.3h1.5v1.5h-1.5zM187.8 77.9h1.5v1.5h-1.5zM211.0 89.8h1.5v1.5h-1.5zM170.6 101.6h1.5v1.5h-1.5zM174.8 90.2h1.5v1.5h-1.5zM225.8 84.1h1.5v1.5h-1.5zM207.8 89.1h1.5v1.5h-1.5zM174.6 98.4h1.5v1.5h-1.5zM197.0 90.1h1.5v1.5h-1.5zM186.6 100.8h1.5v1.5h-1.5zM213.7 85.4h1.5v1.5h-1.5zM185.8 90.4h1.5v1.5h-1.5zM224.8 88.6h1.5v1.5h-1.5zM217.8 87.1h1.5v1.5h-1.5zM221.4 83.2h1.5v1.5h-1.5zM230.1 93.4h1.5v1.5h-1.5zM213.4 87.8h1.5v1.5h-1.5zM187.7 87.1h1.5v1.5h-1.5zM207.0 84.7h1.5v1.5h-1.5zM249.5 84.6h1.5v1.5h-1.5zM169.9 90.0h1.5v1.5h-1.5zM170.2 99.3h1.5v1.5h-1.5zM247.5 81.9h1.5v1.5h-1.5zM160.0 93.1h1.5v1.5h-1.5zM193.3 82.5h1.5v1.5h-1.5zM198.8 85.5h1.5v1.5h-1.5zM198.5 90.1h1.5v1.5h-1.5zM114.8 91.6h1.5v1.5h-1.5zM187.1 91.0h1.5v1.5h-1.5zM233.0 85.1h1.5v1.5h-1.5zM184.0 75.2h1.5v1.5h-1.5zM161.2 82.1h1.5v1.5h-1.5zM252.0 90.4h1.5v1.5h-1.5zM208.8 87.4h1.5v1.5h-1.5zM205.4 89.1h1.5v1.5h-1.5zM212.9 86.3h1.5v1.5h-1.5zM215.9 88.1h1.5v1.5h-1.5zM263.6 84.2h1.5v1.5h-1.5zM218.7 89.5h1.5v1.5h-1.5zM256.4 85.2h1.5v1.5h-1.5zM243.8 89.2h1.5v1.5h-1.5zM211.8 103.7h1.5v1.5h-1.5zM183.5 94.4h1.5v1.5h-1.5zM269.1 81.2h1.5v1.5h-1.5zM264.0 83.3h1.5v1.5h-1.5zM213.2 87.6h1.5v1.5h-1.5zM208.2 88.2h1.5v1.5h-1.5zM247.6 80.7h1.5v1.5h-1.5zM154.9 90.2h1.5v1.5h-1.5zM168.2 94.6h1.5v1.5h-1.5zM276.9 83.5h1.5v1.5h-1.5zM229.2 81.7h1.5v1.5h-1.5zM198.1 94.7h1.5v1.5h-1.5zM231.3 90.2h1.5v1.5h-1.5zM226.2 80.1h1.5v1.5h-1.5zM206.7 91.1h1.5v1.5h-1.5zM196.6 85.9h1.5v1.5h-1.5zM237.8 88.8h1.5v1.5h-1.5zM215.2 85.2h1.5v1.5h-1.5zM207.3 91.8h1.5v1.5h-1.5zM225.6 87.8h1.5v1.5h-1.5zM209.1 89.7h1.5v1.5h-1.5zM208.8 86.5h1.5v1.5h-1.5zM216.7 82.9h1.5v1.5h-1.5zM238.0 88.5h1.5v1.5h-1.5zM231.3 82.4h1.5v1.5h-1.5zM221.0 85.8h1.5v1.5h-1.5zM256.3 85.7h1.5v1.5h-1.5zM178.3 75.3h1.5v1.5h-1.5zM213.0 86.1h1.5v1.5h-1.5zM241.2 87.5h1.5v1.5h-1.5zM225.8 85.0h1.5v1.5h-1.5zM188.7 87.1h1.5v1.5h-1.5zM237.9 85.7h1.5v1.5h-1.5zM189.8 90.6h1.5v1.5h-1.5zM218.8 86.8h1.5v1.5h-1.5zM231.7 85.5h1.5v1.5h-1.5zM251.2 84.3h1.5v1.5h-1.5zM233.8 81.1h1.5v1.5h-1.5zM219.5 94.7h1.5v1.5h-1.5zM222.0 90.0h1.5v1.5h-1.5zM249.2 88.6h1.5v1.5h-1.5zM182.7 79.9h1.5v1.5h-1.5zM226.2 74.7h1.5v1.5h-1.5zM224.0 91.5h1.5v1.5h-1.5zM209.3 90.5h1.5v1.5h-1.5zM232.5 79.4h1.5v1.5h-1.5zM249.3 90.3h1.5v1.5h-1.5zM190.6 85.6h1.5v1.5h-1.5zM243.9 83.8h1.5v1.5h-1.5zM228.4 76.9h1.5v1.5h-1.5zM235.7 88.7h1.5v1.5h-1.5zM182.0 83.6h1.5v1.5h-1.5zM234.2 88.5h1.5v1.5h-1.5zM229.8 84.8h1.5v1.5h-1.5zM218.1 81.4h1.5v1.5h-1.5zM190.4 100.9h1.5v1.5h-1.5zM187.5 84.5h1.5v1.5h-1.5zM211.0 87.7h1.5v1.5h-1.5zM227.4 84.0h1.5v1.5h-1.5zM231.9 84.8h1.5v1.5h-1.5zM232.6 84.8h1.5v1.5h-1.5zM212.1 89.6h1.5v1.5h-1.5zM137.9 91.4h1.5v1.5h-1.5zM180.2 83.7h1.5v1.5h-1.5zM233.4 82.7h1.5v1.5h-1.5zM223.5 83.6h1.5v1.5h-1.5zM216.3 77.1h1.5v1.5h-1.5zM214.2 85.8h1.5v1.5h-1.5zM243.2 84.3h1.5v1.5h-1.5zM241.6 93.1h1.5v1.5h-1.5zM177.1 91.4h1.5v1.5h-1.5z"/>
<path fill="#4c74e0" d="M216.3 88.8h1.3v1.3h-1.3zM140.8 90.0h1.3v1.3h-1.3zM139.8 91.2h1.3v1.3h-1.3zM176.7 86.0h1.3v1.3h-1.3zM129.7 99.3h1.3v1.3h-1.3zM224.7 93.3h1.3v1.3h-1.3zM147.5 93.9h1.3v1.3h-1.3zM262.2 101.2h1.3v1.3h-1.3zM158.1 92.5h1.3v1.3h-1.3zM201.5 89.9h1.3v1.3h-1.3zM279.3 76.3h1.3v1.3h-1.3zM272.3 84.1h1.3v1.3h-1.3zM262.8 91.8h1.3v1.3h-1.3zM270.5 98.0h1.3v1.3h-1.3zM207.9 84.8h1.3v1.3h-1.3zM213.4 89.6h1.3v1.3h-1.3zM236.6 85.8h1.3v1.3h-1.3zM260.8 88.8h1.3v1.3h-1.3zM157.0 86.8h1.3v1.3h-1.3zM161.2 84.6h1.3v1.3h-1.3zM206.2 100.3h1.3v1.3h-1.3zM166.1 93.1h1.3v1.3h-1.3zM153.1 83.2h1.3v1.3h-1.3zM218.7 93.0h1.3v1.3h-1.3zM282.6 84.1h1.3v1.3h-1.3zM176.7 89.8h1.3v1.3h-1.3zM159.1 97.6h1.3v1.3h-1.3zM153.9 102.0h1.3v1.3h-1.3zM141.4 82.5h1.3v1.3h-1.3zM124.4 90.6h1.3v1.3h-1.3zM238.3 95.4h1.3v1.3h-1.3zM189.5 87.6h1.3v1.3h-1.3zM272.8 79.9h1.3v1.3h-1.3zM281.0 84.8h1.3v1.3h-1.3zM205.8 90.9h1.3v1.3h-1.3zM225.1 101.6h1.3v1.3h-1.3zM226.2 80.4h1.3v1.3h-1.3zM142.3 90.8h1.3v1.3h-1.3zM221.8 84.8h1.3v1.3h-1.3zM217.6 84.2h1.3v1.3h-1.3zM84.0 97.0h1.3v1.3h-1.3zM88.0 95.0h1.3v1.3h-1.3zM96.0 94.0h1.3v1.3h-1.3zM99.0 92.0h1.3v1.3h-1.3zM102.0 91.0h1.3v1.3h-1.3zM104.0 95.0h1.3v1.3h-1.3zM295.5 78.5h1.3v1.3h-1.3zM295.5 81.0h1.3v1.3h-1.3zM301.5 79.0h1.3v1.3h-1.3zM303.0 75.5h1.3v1.3h-1.3zM306.5 75.5h1.3v1.3h-1.3zM347.0 68.3h1.3v1.3h-1.3zM367.0 65.7h1.3v1.3h-1.3zM390.0 59.5h1.3v1.3h-1.3zM188.0 108.0h1.3v1.3h-1.3zM160.0 108.0h1.3v1.3h-1.3zM110.0 126.0h1.3v1.3h-1.3zM147.0 101.0h1.3v1.3h-1.3zM130.0 104.0h1.3v1.3h-1.3z"/>
<path fill="#18ea18" d="M66.9 205.5h1.6v1.6h-1.6zM83.7 208.1h1.6v1.6h-1.6zM62.8 196.4h1.6v1.6h-1.6zM71.1 200.3h1.6v1.6h-1.6zM90.7 201.9h1.6v1.6h-1.6zM74.2 202.0h1.6v1.6h-1.6zM103.1 199.9h1.6v1.6h-1.6zM71.9 198.7h1.6v1.6h-1.6zM69.5 203.5h1.6v1.6h-1.6zM62.8 202.3h1.6v1.6h-1.6zM60.1 210.9h1.6v1.6h-1.6zM94.2 203.3h1.6v1.6h-1.6zM62.2 201.9h1.6v1.6h-1.6zM67.9 202.8h1.6v1.6h-1.6zM98.7 199.6h1.6v1.6h-1.6zM66.2 195.0h1.6v1.6h-1.6zM80.6 204.6h1.6v1.6h-1.6zM83.5 202.4h1.6v1.6h-1.6zM54.6 205.1h1.6v1.6h-1.6zM58.4 205.0h1.6v1.6h-1.6zM86.4 203.2h1.6v1.6h-1.6zM94.8 196.5h1.6v1.6h-1.6zM86.1 197.2h1.6v1.6h-1.6zM57.9 207.9h1.6v1.6h-1.6zM60.2 200.3h1.6v1.6h-1.6zM61.6 204.6h1.6v1.6h-1.6zM98.5 206.0h1.6v1.6h-1.6zM58.8 206.7h1.6v1.6h-1.6zM101.2 193.5h1.6v1.6h-1.6zM72.9 199.6h1.6v1.6h-1.6zM61.8 204.1h1.6v1.6h-1.6zM54.2 209.5h1.6v1.6h-1.6zM85.7 190.8h1.6v1.6h-1.6zM90.9 201.8h1.6v1.6h-1.6zM56.7 199.2h1.6v1.6h-1.6zM82.2 199.6h1.6v1.6h-1.6zM65.3 200.4h1.6v1.6h-1.6zM85.6 201.4h1.6v1.6h-1.6zM99.4 203.3h1.6v1.6h-1.6zM75.7 198.5h1.6v1.6h-1.6zM95.7 192.6h1.6v1.6h-1.6zM62.8 205.1h1.6v1.6h-1.6zM74.5 202.9h1.6v1.6h-1.6zM79.9 204.4h1.6v1.6h-1.6zM52.8 200.0h1.6v1.6h-1.6zM91.0 202.0h1.6v1.6h-1.6zM99.6 204.1h1.6v1.6h-1.6zM68.7 195.3h1.6v1.6h-1.6zM57.1 192.4h1.6v1.6h-1.6zM79.9 204.1h1.6v1.6h-1.6zM67.5 197.9h1.6v1.6h-1.6zM95.7 199.6h1.6v1.6h-1.6zM69.1 204.7h1.6v1.6h-1.6zM94.9 194.2h1.6v1.6h-1.6zM68.2 209.7h1.6v1.6h-1.6zM60.3 199.4h1.6v1.6h-1.6zM67.1 202.8h1.6v1.6h-1.6zM84.2 199.8h1.6v1.6h-1.6zM70.3 207.4h1.6v1.6h-1.6zM103.9 205.4h1.6v1.6h-1.6zM102.9 199.6h1.6v1.6h-1.6zM101.9 193.2h1.6v1.6h-1.6zM91.1 204.3h1.6v1.6h-1.6zM73.0 195.7h1.6v1.6h-1.6zM88.9 205.8h1.6v1.6h-1.6zM69.4 194.9h1.6v1.6h-1.6zM95.6 202.9h1.6v1.6h-1.6zM85.8 201.9h1.6v1.6h-1.6zM57.9 203.3h1.6v1.6h-1.6zM102.2 196.3h1.6v1.6h-1.6zM96.9 204.0h1.6v1.6h-1.6zM75.3 202.8h1.6v1.6h-1.6zM62.0 207.0h1.6v1.6h-1.6zM79.4 207.4h1.6v1.6h-1.6zM56.4 195.8h1.6v1.6h-1.6zM60.1 198.1h1.6v1.6h-1.6zM103.5 201.6h1.6v1.6h-1.6zM65.2 198.1h1.6v1.6h-1.6zM55.7 200.7h1.6v1.6h-1.6zM99.8 203.8h1.6v1.6h-1.6zM103.0 200.0h1.6v1.6h-1.6zM52.1 202.0h1.6v1.6h-1.6zM63.0 202.1h1.6v1.6h-1.6zM83.2 201.7h1.6v1.6h-1.6zM71.0 200.7h1.6v1.6h-1.6zM91.4 194.8h1.6v1.6h-1.6zM94.6 199.9h1.6v1.6h-1.6zM84.6 197.3h1.6v1.6h-1.6zM70.0 202.2h1.6v1.6h-1.6zM98.5 200.1h1.6v1.6h-1.6zM94.3 200.8h1.6v1.6h-1.6zM104.3 199.2h1.6v1.6h-1.6zM96.2 200.6h1.6v1.6h-1.6zM69.2 207.5h1.6v1.6h-1.6zM101.3 197.9h1.6v1.6h-1.6zM82.0 195.6h1.6v1.6h-1.6zM88.3 204.0h1.6v1.6h-1.6zM64.8 202.5h1.6v1.6h-1.6zM91.5 199.8h1.6v1.6h-1.6zM65.4 205.2h1.6v1.6h-1.6zM65.3 202.3h1.6v1.6h-1.6zM52.2 206.9h1.6v1.6h-1.6zM80.6 197.2h1.6v1.6h-1.6zM63.4 192.4h1.6v1.6h-1.6zM94.1 199.1h1.6v1.6h-1.6zM68.9 204.3h1.6v1.6h-1.6zM98.5 194.8h1.6v1.6h-1.6zM61.1 201.1h1.6v1.6h-1.6zM95.1 199.1h1.6v1.6h-1.6zM60.6 200.6h1.6v1.6h-1.6zM102.4 201.4h1.6v1.6h-1.6zM69.0 213.2h1.6v1.6h-1.6zM71.5 206.7h1.6v1.6h-1.6zM58.7 200.8h1.6v1.6h-1.6zM58.0 202.7h1.6v1.6h-1.6zM70.5 209.9h1.6v1.6h-1.6zM88.5 201.5h1.6v1.6h-1.6zM62.1 207.9h1.6v1.6h-1.6zM93.5 206.2h1.6v1.6h-1.6zM89.8 198.5h1.6v1.6h-1.6zM54.5 204.9h1.6v1.6h-1.6zM70.1 205.4h1.6v1.6h-1.6zM61.3 201.2h1.6v1.6h-1.6zM91.7 197.9h1.6v1.6h-1.6zM78.0 204.7h1.6v1.6h-1.6zM62.6 211.3h1.6v1.6h-1.6zM85.1 204.5h1.6v1.6h-1.6zM100.5 196.9h1.6v1.6h-1.6zM96.1 202.7h1.6v1.6h-1.6zM75.2 195.9h1.6v1.6h-1.6zM71.7 205.6h1.6v1.6h-1.6zM100.9 196.7h1.6v1.6h-1.6zM52.4 208.6h1.6v1.6h-1.6zM83.6 193.1h1.6v1.6h-1.6zM94.0 207.0h1.6v1.6h-1.6zM76.1 201.8h1.6v1.6h-1.6zM82.1 203.7h1.6v1.6h-1.6zM58.8 196.1h1.6v1.6h-1.6zM59.4 193.8h1.6v1.6h-1.6zM56.4 206.2h1.6v1.6h-1.6zM52.7 204.3h1.6v1.6h-1.6zM89.4 210.7h1.6v1.6h-1.6zM102.6 206.3h1.6v1.6h-1.6zM77.5 186.6h1.6v1.6h-1.6zM103.5 204.2h1.6v1.6h-1.6zM102.3 198.4h1.6v1.6h-1.6zM73.3 199.3h1.6v1.6h-1.6zM100.0 197.4h1.6v1.6h-1.6zM86.1 201.0h1.6v1.6h-1.6zM98.5 204.6h1.6v1.6h-1.6zM97.7 193.1h1.6v1.6h-1.6zM59.5 197.8h1.6v1.6h-1.6zM80.2 197.3h1.6v1.6h-1.6zM68.5 201.3h1.6v1.6h-1.6zM69.7 202.7h1.6v1.6h-1.6zM75.0 201.6h1.6v1.6h-1.6zM88.0 197.9h1.6v1.6h-1.6zM72.5 209.3h1.6v1.6h-1.6zM92.0 204.1h1.6v1.6h-1.6zM76.1 205.8h1.6v1.6h-1.6zM89.8 206.7h1.6v1.6h-1.6zM101.6 195.5h1.6v1.6h-1.6zM64.2 202.7h1.6v1.6h-1.6zM75.1 197.5h1.6v1.6h-1.6zM65.9 204.4h1.6v1.6h-1.6zM70.8 203.2h1.6v1.6h-1.6zM53.5 200.6h1.6v1.6h-1.6zM85.1 201.2h1.6v1.6h-1.6zM71.0 204.9h1.6v1.6h-1.6zM72.7 197.4h1.6v1.6h-1.6zM75.2 206.2h1.6v1.6h-1.6zM91.2 197.8h1.6v1.6h-1.6zM67.0 203.2h1.6v1.6h-1.6zM96.8 200.4h1.6v1.6h-1.6zM56.6 201.3h1.6v1.6h-1.6zM64.5 197.7h1.6v1.6h-1.6zM71.8 199.0h1.6v1.6h-1.6zM87.6 199.6h1.6v1.6h-1.6zM85.4 200.0h1.6v1.6h-1.6zM64.2 203.1h1.6v1.6h-1.6zM82.2 206.9h1.6v1.6h-1.6zM99.1 201.0h1.6v1.6h-1.6zM78.3 197.0h1.6v1.6h-1.6zM104.0 199.0h1.6v1.6h-1.6zM97.1 202.8h1.6v1.6h-1.6zM100.4 204.2h1.6v1.6h-1.6zM81.8 210.2h1.6v1.6h-1.6zM84.2 199.6h1.6v1.6h-1.6zM86.8 199.6h1.6v1.6h-1.6zM95.4 203.9h1.6v1.6h-1.6zM54.0 213.9h1.6v1.6h-1.6zM61.0 210.7h1.6v1.6h-1.6zM66.1 207.7h1.6v1.6h-1.6zM63.0 206.7h1.6v1.6h-1.6zM92.3 201.4h1.6v1.6h-1.6zM77.8 203.9h1.6v1.6h-1.6zM75.6 199.6h1.6v1.6h-1.6zM74.1 194.6h1.6v1.6h-1.6zM60.8 201.5h1.6v1.6h-1.6zM54.9 205.0h1.6v1.6h-1.6zM63.7 189.9h1.6v1.6h-1.6zM63.7 193.5h1.6v1.6h-1.6zM81.6 199.5h1.6v1.6h-1.6zM95.7 203.7h1.6v1.6h-1.6zM87.4 197.8h1.6v1.6h-1.6zM97.1 197.1h1.6v1.6h-1.6zM94.5 206.4h1.6v1.6h-1.6zM74.6 202.6h1.6v1.6h-1.6zM104.0 201.9h1.6v1.6h-1.6zM72.7 194.2h1.6v1.6h-1.6zM59.8 211.8h1.6v1.6h-1.6zM92.2 196.1h1.6v1.6h-1.6zM64.7 194.9h1.6v1.6h-1.6zM92.1 200.1h1.6v1.6h-1.6zM70.3 204.9h1.6v1.6h-1.6zM96.8 204.0h1.6v1.6h-1.6zM53.6 200.7h1.6v1.6h-1.6zM94.3 196.1h1.6v1.6h-1.6zM101.8 204.3h1.6v1.6h-1.6zM100.5 197.6h1.6v1.6h-1.6zM84.0 201.1h1.6v1.6h-1.6zM98.0 208.2h1.6v1.6h-1.6zM92.7 203.7h1.6v1.6h-1.6zM59.3 199.2h1.6v1.6h-1.6zM85.4 196.3h1.6v1.6h-1.6zM58.2 205.2h1.6v1.6h-1.6zM103.4 197.2h1.6v1.6h-1.6zM102.6 197.4h1.6v1.6h-1.6zM99.6 206.6h1.6v1.6h-1.6zM79.2 204.7h1.6v1.6h-1.6zM81.7 208.9h1.6v1.6h-1.6zM57.8 210.9h1.6v1.6h-1.6zM68.2 199.7h1.6v1.6h-1.6zM88.2 194.0h1.6v1.6h-1.6zM95.0 197.5h1.6v1.6h-1.6zM97.9 201.8h1.6v1.6h-1.6zM86.9 200.9h1.6v1.6h-1.6zM72.2 204.2h1.6v1.6h-1.6zM100.2 206.4h1.6v1.6h-1.6zM55.4 199.2h1.6v1.6h-1.6zM59.1 202.5h1.6v1.6h-1.6zM89.0 211.0h1.6v1.6h-1.6zM64.4 197.9h1.6v1.6h-1.6zM64.1 207.0h1.6v1.6h-1.6zM55.8 205.5h1.6v1.6h-1.6zM90.6 198.6h1.6v1.6h-1.6zM56.9 209.3h1.6v1.6h-1.6zM70.7 205.2h1.6v1.6h-1.6zM61.4 200.8h1.6v1.6h-1.6zM103.3 199.5h1.6v1.6h-1.6zM68.5 201.3h1.6v1.6h-1.6zM63.5 196.0h1.6v1.6h-1.6zM62.2 204.1h1.6v1.6h-1.6zM84.1 203.1h1.6v1.6h-1.6zM80.6 197.2h1.6v1.6h-1.6zM61.2 198.1h1.6v1.6h-1.6zM62.4 201.2h1.6v1.6h-1.6zM53.3 204.1h1.6v1.6h-1.6zM75.2 200.2h1.6v1.6h-1.6zM66.9 199.1h1.6v1.6h-1.6zM54.1 209.1h1.6v1.6h-1.6zM89.6 204.6h1.6v1.6h-1.6zM60.6 206.0h1.6v1.6h-1.6zM96.0 197.3h1.6v1.6h-1.6zM60.0 202.2h1.6v1.6h-1.6zM103.7 196.0h1.6v1.6h-1.6zM69.5 209.5h1.6v1.6h-1.6zM97.5 204.8h1.6v1.6h-1.6zM91.3 193.2h1.6v1.6h-1.6zM90.0 195.1h1.6v1.6h-1.6zM93.6 207.1h1.6v1.6h-1.6zM70.9 195.5h1.6v1.6h-1.6zM83.5 205.1h1.6v1.6h-1.6zM90.6 204.5h1.6v1.6h-1.6zM55.0 204.2h1.6v1.6h-1.6zM73.6 206.1h1.6v1.6h-1.6zM98.7 199.8h1.6v1.6h-1.6zM98.8 203.0h1.6v1.6h-1.6zM61.6 195.0h1.6v1.6h-1.6zM96.4 203.0h1.6v1.6h-1.6zM74.0 203.3h1.6v1.6h-1.6zM103.2 199.8h1.6v1.6h-1.6zM100.3 198.9h1.6v1.6h-1.6zM64.8 210.3h1.6v1.6h-1.6zM95.8 200.3h1.6v1.6h-1.6zM61.9 207.4h1.6v1.6h-1.6zM86.8 202.3h1.6v1.6h-1.6zM57.0 201.5h1.6v1.6h-1.6zM98.5 195.9h1.6v1.6h-1.6zM58.7 198.5h1.6v1.6h-1.6zM62.2 193.9h1.6v1.6h-1.6zM57.2 200.7h1.6v1.6h-1.6zM56.6 199.0h1.6v1.6h-1.6zM75.7 207.8h1.6v1.6h-1.6zM80.1 196.2h1.6v1.6h-1.6zM98.7 197.7h1.6v1.6h-1.6zM103.0 202.2h1.6v1.6h-1.6zM68.9 198.6h1.6v1.6h-1.6zM98.1 190.0h1.6v1.6h-1.6zM84.7 200.3h1.6v1.6h-1.6zM76.9 205.3h1.6v1.6h-1.6zM56.3 213.5h1.6v1.6h-1.6zM71.1 201.8h1.6v1.6h-1.6zM76.6 199.4h1.6v1.6h-1.6zM55.8 208.9h1.6v1.6h-1.6zM67.1 201.2h1.6v1.6h-1.6zM55.5 207.3h1.6v1.6h-1.6zM93.0 195.2h1.6v1.6h-1.6zM92.2 198.7h1.6v1.6h-1.6zM75.9 200.2h1.6v1.6h-1.6zM72.9 209.9h1.6v1.6h-1.6zM67.5 205.6h1.6v1.6h-1.6zM103.1 199.1h1.6v1.6h-1.6zM81.4 207.7h1.6v1.6h-1.6zM92.8 204.2h1.6v1.6h-1.6zM97.2 197.8h1.6v1.6h-1.6zM83.3 205.4h1.6v1.6h-1.6zM68.1 199.3h1.6v1.6h-1.6zM87.8 208.0h1.6v1.6h-1.6zM73.9 198.1h1.6v1.6h-1.6zM57.6 200.5h1.6v1.6h-1.6zM62.4 193.0h1.6v1.6h-1.6zM76.4 197.4h1.6v1.6h-1.6zM93.1 203.3h1.6v1.6h-1.6zM74.1 196.4h1.6v1.6h-1.6zM83.5 203.0h1.6v1.6h-1.6zM96.4 204.4h1.6v1.6h-1.6zM66.8 209.4h1.6v1.6h-1.6zM54.9 202.2h1.6v1.6h-1.6zM97.7 188.2h1.6v1.6h-1.6zM102.5 198.9h1.6v1.6h-1.6zM103.1 194.4h1.6v1.6h-1.6zM79.8 204.4h1.6v1.6h-1.6zM92.6 203.1h1.6v1.6h-1.6zM83.0 192.8h1.6v1.6h-1.6zM91.5 198.9h1.6v1.6h-1.6zM67.7 200.1h1.6v1.6h-1.6zM99.1 202.2h1.6v1.6h-1.6zM95.5 200.4h1.6v1.6h-1.6zM58.2 201.2h1.6v1.6h-1.6zM95.0 196.8h1.6v1.6h-1.6zM70.7 199.4h1.6v1.6h-1.6zM97.0 196.2h1.6v1.6h-1.6zM65.8 202.9h1.6v1.6h-1.6zM99.5 195.5h1.6v1.6h-1.6zM93.7 201.5h1.6v1.6h-1.6zM65.4 206.0h1.6v1.6h-1.6zM55.3 213.6h1.6v1.6h-1.6zM63.6 196.0h1.6v1.6h-1.6zM81.4 201.1h1.6v1.6h-1.6zM75.9 197.2h1.6v1.6h-1.6zM73.7 199.0h1.6v1.6h-1.6zM68.2 204.3h1.6v1.6h-1.6zM62.2 197.7h1.6v1.6h-1.6zM92.6 198.9h1.6v1.6h-1.6zM102.6 199.9h1.6v1.6h-1.6zM71.2 195.3h1.6v1.6h-1.6zM91.1 192.9h1.6v1.6h-1.6zM102.7 190.9h1.6v1.6h-1.6zM55.2 205.4h1.6v1.6h-1.6zM95.9 203.1h1.6v1.6h-1.6zM64.9 200.1h1.6v1.6h-1.6zM64.8 202.1h1.6v1.6h-1.6zM68.8 200.4h1.6v1.6h-1.6zM87.0 205.7h1.6v1.6h-1.6zM81.2 201.3h1.6v1.6h-1.6zM54.7 197.7h1.6v1.6h-1.6zM99.9 206.7h1.6v1.6h-1.6zM55.7 206.5h1.6v1.6h-1.6zM54.6 207.8h1.6v1.6h-1.6zM88.4 208.7h1.6v1.6h-1.6zM92.1 202.9h1.6v1.6h-1.6zM82.8 197.2h1.6v1.6h-1.6zM79.2 204.0h1.6v1.6h-1.6zM99.3 198.2h1.6v1.6h-1.6zM102.5 197.2h1.6v1.6h-1.6zM54.8 199.4h1.6v1.6h-1.6zM72.9 202.9h1.6v1.6h-1.6zM91.7 199.2h1.6v1.6h-1.6zM56.2 208.0h1.6v1.6h-1.6zM93.0 193.2h1.6v1.6h-1.6zM64.5 202.3h1.6v1.6h-1.6zM92.8 204.1h1.6v1.6h-1.6zM75.6 204.7h1.6v1.6h-1.6zM83.4 203.0h1.6v1.6h-1.6zM94.5 197.2h1.6v1.6h-1.6zM89.4 205.3h1.6v1.6h-1.6zM64.5 207.7h1.6v1.6h-1.6zM68.1 199.5h1.6v1.6h-1.6zM93.8 203.1h1.6v1.6h-1.6zM78.4 197.3h1.6v1.6h-1.6zM77.3 201.7h1.6v1.6h-1.6zM85.6 207.8h1.6v1.6h-1.6zM65.4 198.6h1.6v1.6h-1.6zM56.1 208.3h1.6v1.6h-1.6zM88.2 204.5h1.6v1.6h-1.6zM87.9 204.2h1.6v1.6h-1.6zM83.0 203.5h1.6v1.6h-1.6zM63.0 205.5h1.6v1.6h-1.6zM55.1 197.6h1.6v1.6h-1.6zM68.8 208.0h1.6v1.6h-1.6zM102.1 196.0h1.6v1.6h-1.6zM84.6 196.0h1.6v1.6h-1.6zM64.1 209.1h1.6v1.6h-1.6zM72.8 203.3h1.6v1.6h-1.6zM100.1 200.9h1.6v1.6h-1.6zM100.8 195.6h1.6v1.6h-1.6zM55.6 210.1h1.6v1.6h-1.6zM72.0 197.9h1.6v1.6h-1.6zM62.7 201.7h1.6v1.6h-1.6zM56.6 207.5h1.6v1.6h-1.6zM84.9 199.2h1.6v1.6h-1.6zM67.4 214.5h1.6v1.6h-1.6zM98.9 198.1h1.6v1.6h-1.6zM89.1 201.5h1.6v1.6h-1.6zM66.7 198.9h1.6v1.6h-1.6zM56.4 204.1h1.6v1.6h-1.6zM85.8 201.5h1.6v1.6h-1.6zM103.1 197.5h1.6v1.6h-1.6zM54.5 211.7h1.6v1.6h-1.6zM72.0 203.9h1.6v1.6h-1.6zM75.2 203.9h1.6v1.6h-1.6zM99.4 206.2h1.6v1.6h-1.6zM65.8 205.7h1.6v1.6h-1.6zM98.9 202.1h1.6v1.6h-1.6zM85.4 199.4h1.6v1.6h-1.6zM86.5 201.9h1.6v1.6h-1.6zM92.9 193.2h1.6v1.6h-1.6zM99.7 201.6h1.6v1.6h-1.6zM96.2 198.2h1.6v1.6h-1.6zM83.7 197.7h1.6v1.6h-1.6zM64.6 198.3h1.6v1.6h-1.6zM74.8 202.2h1.6v1.6h-1.6zM94.8 202.0h1.6v1.6h-1.6zM99.2 203.8h1.6v1.6h-1.6zM94.0 203.3h1.6v1.6h-1.6zM99.6 191.3h1.6v1.6h-1.6zM83.6 200.3h1.6v1.6h-1.6zM97.7 197.2h1.6v1.6h-1.6zM66.0 204.7h1.6v1.6h-1.6zM79.7 197.0h1.6v1.6h-1.6zM57.3 194.0h1.6v1.6h-1.6zM68.7 203.6h1.6v1.6h-1.6zM95.3 197.1h1.6v1.6h-1.6zM60.3 200.9h1.6v1.6h-1.6zM97.6 204.4h1.6v1.6h-1.6zM86.8 205.3h1.6v1.6h-1.6zM70.2 209.0h1.6v1.6h-1.6zM100.7 209.0h1.6v1.6h-1.6zM95.1 193.3h1.6v1.6h-1.6zM77.4 197.7h1.6v1.6h-1.6zM91.1 194.3h1.6v1.6h-1.6zM103.1 201.2h1.6v1.6h-1.6zM70.4 197.7h1.6v1.6h-1.6zM76.3 201.9h1.6v1.6h-1.6zM104.1 202.1h1.6v1.6h-1.6zM61.4 200.0h1.6v1.6h-1.6zM73.2 199.0h1.6v1.6h-1.6zM91.4 202.0h1.6v1.6h-1.6zM70.1 208.1h1.6v1.6h-1.6zM62.4 210.1h1.6v1.6h-1.6zM60.3 208.4h1.6v1.6h-1.6zM91.4 195.4h1.6v1.6h-1.6zM65.6 209.4h1.6v1.6h-1.6zM95.1 198.3h1.6v1.6h-1.6zM56.9 203.6h1.6v1.6h-1.6zM75.0 204.4h1.6v1.6h-1.6zM75.5 211.0h1.6v1.6h-1.6zM85.7 200.9h1.6v1.6h-1.6zM71.5 202.4h1.6v1.6h-1.6zM70.4 195.3h1.6v1.6h-1.6zM104.4 206.9h1.6v1.6h-1.6zM91.0 197.5h1.6v1.6h-1.6zM91.9 195.6h1.6v1.6h-1.6zM95.3 214.7h1.6v1.6h-1.6zM74.0 200.9h1.6v1.6h-1.6zM80.7 208.1h1.6v1.6h-1.6zM93.0 193.8h1.6v1.6h-1.6zM87.7 198.7h1.6v1.6h-1.6zM83.5 202.8h1.6v1.6h-1.6zM88.6 202.1h1.6v1.6h-1.6zM78.9 194.7h1.6v1.6h-1.6zM91.7 196.3h1.6v1.6h-1.6zM79.0 206.3h1.6v1.6h-1.6zM94.4 193.1h1.6v1.6h-1.6zM77.8 206.8h1.6v1.6h-1.6zM77.8 205.7h1.6v1.6h-1.6zM52.3 204.3h1.6v1.6h-1.6zM86.1 200.7h1.6v1.6h-1.6zM97.3 199.7h1.6v1.6h-1.6zM66.5 203.2h1.6v1.6h-1.6zM83.8 199.9h1.6v1.6h-1.6zM62.0 204.2h1.6v1.6h-1.6zM88.2 197.8h1.6v1.6h-1.6zM69.6 197.0h1.6v1.6h-1.6zM53.3 202.4h1.6v1.6h-1.6zM55.0 200.5h1.6v1.6h-1.6zM78.9 211.1h1.6v1.6h-1.6zM74.0 211.1h1.6v1.6h-1.6zM73.9 198.7h1.6v1.6h-1.6zM85.1 207.0h1.6v1.6h-1.6zM63.6 199.1h1.6v1.6h-1.6zM99.1 202.9h1.6v1.6h-1.6zM94.9 204.9h1.6v1.6h-1.6zM59.4 216.1h1.6v1.6h-1.6zM103.2 192.0h1.6v1.6h-1.6zM84.7 198.0h1.6v1.6h-1.6zM98.8 197.5h1.6v1.6h-1.6zM86.1 198.1h1.6v1.6h-1.6zM53.7 199.9h1.6v1.6h-1.6zM77.5 202.9h1.6v1.6h-1.6zM52.3 205.6h1.6v1.6h-1.6zM81.5 206.8h1.6v1.6h-1.6zM98.8 206.6h1.6v1.6h-1.6zM103.8 198.0h1.6v1.6h-1.6zM72.8 203.0h1.6v1.6h-1.6zM92.9 207.6h1.6v1.6h-1.6zM81.3 204.9h1.6v1.6h-1.6zM69.2 199.9h1.6v1.6h-1.6zM68.1 198.3h1.6v1.6h-1.6zM74.8 200.6h1.6v1.6h-1.6zM77.6 212.5h1.6v1.6h-1.6zM61.6 202.9h1.6v1.6h-1.6zM59.3 200.7h1.6v1.6h-1.6zM94.4 208.0h1.6v1.6h-1.6zM58.5 203.3h1.6v1.6h-1.6zM70.2 211.7h1.6v1.6h-1.6zM59.3 211.1h1.6v1.6h-1.6zM100.6 206.1h1.6v1.6h-1.6zM82.0 202.5h1.6v1.6h-1.6zM63.4 200.6h1.6v1.6h-1.6zM104.4 191.8h1.6v1.6h-1.6zM98.8 199.3h1.6v1.6h-1.6zM77.9 190.9h1.6v1.6h-1.6zM78.7 203.8h1.6v1.6h-1.6zM60.3 198.0h1.6v1.6h-1.6zM65.9 202.4h1.6v1.6h-1.6zM86.2 199.9h1.6v1.6h-1.6zM75.5 199.8h1.6v1.6h-1.6zM96.8 205.2h1.6v1.6h-1.6zM53.9 197.9h1.6v1.6h-1.6zM85.4 208.0h1.6v1.6h-1.6zM59.6 204.8h1.6v1.6h-1.6zM100.0 196.7h1.6v1.6h-1.6zM70.5 197.9h1.6v1.6h-1.6zM71.1 199.6h1.6v1.6h-1.6zM54.4 206.5h1.6v1.6h-1.6zM64.6 205.6h1.6v1.6h-1.6zM62.5 199.0h1.6v1.6h-1.6zM83.4 198.5h1.6v1.6h-1.6zM68.5 194.7h1.6v1.6h-1.6zM60.3 203.8h1.6v1.6h-1.6zM63.8 197.4h1.6v1.6h-1.6zM76.2 199.6h1.6v1.6h-1.6zM53.9 200.8h1.6v1.6h-1.6zM61.2 203.6h1.6v1.6h-1.6zM101.1 198.2h1.6v1.6h-1.6zM63.8 195.2h1.6v1.6h-1.6zM83.9 199.0h1.6v1.6h-1.6zM91.1 201.2h1.6v1.6h-1.6zM97.3 199.0h1.6v1.6h-1.6zM98.5 200.2h1.6v1.6h-1.6zM74.3 202.4h1.6v1.6h-1.6zM100.7 201.1h1.6v1.6h-1.6zM99.8 196.8h1.6v1.6h-1.6zM80.3 206.4h1.6v1.6h-1.6zM75.1 196.0h1.6v1.6h-1.6zM72.2 201.3h1.6v1.6h-1.6zM58.1 217.0h1.6v1.6h-1.6zM77.6 206.6h1.6v1.6h-1.6zM93.1 205.5h1.6v1.6h-1.6zM91.3 196.7h1.6v1.6h-1.6zM81.3 196.4h1.6v1.6h-1.6zM68.0 200.5h1.6v1.6h-1.6zM66.5 202.8h1.6v1.6h-1.6zM56.5 198.8h1.6v1.6h-1.6zM72.9 202.3h1.6v1.6h-1.6zM65.6 210.1h1.6v1.6h-1.6zM61.7 201.6h1.6v1.6h-1.6zM93.2 202.1h1.6v1.6h-1.6zM66.9 208.1h1.6v1.6h-1.6zM93.2 206.4h1.6v1.6h-1.6zM59.9 206.3h1.6v1.6h-1.6zM97.4 201.4h1.6v1.6h-1.6zM61.3 204.8h1.6v1.6h-1.6zM102.1 193.7h1.6v1.6h-1.6zM68.6 198.3h1.6v1.6h-1.6zM71.4 198.2h1.6v1.6h-1.6zM84.1 196.5h1.6v1.6h-1.6zM101.7 198.2h1.6v1.6h-1.6zM67.3 197.8h1.6v1.6h-1.6zM52.9 194.8h1.6v1.6h-1.6zM100.8 197.8h1.6v1.6h-1.6zM77.9 194.6h1.6v1.6h-1.6zM85.7 204.3h1.6v1.6h-1.6zM95.4 201.1h1.6v1.6h-1.6zM79.2 196.8h1.6v1.6h-1.6zM52.1 208.1h1.6v1.6h-1.6zM74.8 210.1h1.6v1.6h-1.6zM93.2 197.5h1.6v1.6h-1.6zM102.0 202.6h1.6v1.6h-1.6zM57.5 196.0h1.6v1.6h-1.6zM76.1 195.2h1.6v1.6h-1.6zM75.4 197.4h1.6v1.6h-1.6zM99.3 201.2h1.6v1.6h-1.6zM96.4 194.9h1.6v1.6h-1.6zM97.0 201.6h1.6v1.6h-1.6zM78.6 205.5h1.6v1.6h-1.6zM100.1 204.4h1.6v1.6h-1.6zM56.0 198.5h1.6v1.6h-1.6zM101.2 210.5h1.6v1.6h-1.6zM62.4 206.6h1.6v1.6h-1.6zM88.8 193.7h1.6v1.6h-1.6zM92.8 199.2h1.6v1.6h-1.6zM73.9 199.8h1.6v1.6h-1.6zM56.8 201.6h1.6v1.6h-1.6zM75.7 204.0h1.6v1.6h-1.6zM79.3 201.2h1.6v1.6h-1.6zM76.8 206.5h1.6v1.6h-1.6zM58.8 200.6h1.6v1.6h-1.6zM75.9 200.6h1.6v1.6h-1.6zM96.9 194.2h1.6v1.6h-1.6zM70.8 200.9h1.6v1.6h-1.6zM103.0 194.7h1.6v1.6h-1.6zM59.0 198.9h1.6v1.6h-1.6zM87.6 197.0h1.6v1.6h-1.6zM55.0 205.2h1.6v1.6h-1.6zM76.0 204.8h1.6v1.6h-1.6zM66.8 200.0h1.6v1.6h-1.6zM66.4 207.7h1.6v1.6h-1.6zM68.7 201.6h1.6v1.6h-1.6zM57.0 195.8h1.6v1.6h-1.6zM102.3 203.3h1.6v1.6h-1.6zM73.9 198.6h1.6v1.6h-1.6zM67.4 202.4h1.6v1.6h-1.6zM53.5 203.4h1.6v1.6h-1.6zM56.7 201.7h1.6v1.6h-1.6zM55.4 209.9h1.6v1.6h-1.6zM53.8 203.0h1.6v1.6h-1.6zM101.7 193.3h1.6v1.6h-1.6zM57.0 203.1h1.6v1.6h-1.6zM52.6 197.8h1.6v1.6h-1.6zM92.2 199.4h1.6v1.6h-1.6zM66.8 210.3h1.6v1.6h-1.6zM76.8 199.1h1.6v1.6h-1.6zM52.2 207.8h1.6v1.6h-1.6zM76.6 195.5h1.6v1.6h-1.6zM78.1 201.0h1.6v1.6h-1.6zM62.4 205.1h1.6v1.6h-1.6zM96.8 205.6h1.6v1.6h-1.6zM78.9 192.9h1.6v1.6h-1.6zM87.1 204.7h1.6v1.6h-1.6zM81.5 200.4h1.6v1.6h-1.6zM86.2 207.4h1.6v1.6h-1.6zM98.6 199.7h1.6v1.6h-1.6zM68.1 196.9h1.6v1.6h-1.6zM76.8 195.1h1.6v1.6h-1.6zM71.6 200.9h1.6v1.6h-1.6zM59.9 204.7h1.6v1.6h-1.6zM68.0 207.6h1.6v1.6h-1.6zM88.9 200.8h1.6v1.6h-1.6zM87.5 202.6h1.6v1.6h-1.6zM84.7 199.7h1.6v1.6h-1.6zM60.0 199.4h1.6v1.6h-1.6zM62.6 205.7h1.6v1.6h-1.6zM76.7 196.3h1.6v1.6h-1.6zM88.3 202.2h1.6v1.6h-1.6zM54.5 194.2h1.6v1.6h-1.6zM93.2 197.4h1.6v1.6h-1.6zM100.5 204.3h1.6v1.6h-1.6zM60.8 205.3h1.6v1.6h-1.6zM78.5 202.7h1.6v1.6h-1.6zM66.5 199.7h1.6v1.6h-1.6zM92.6 204.8h1.6v1.6h-1.6zM82.0 197.3h1.6v1.6h-1.6zM85.5 205.4h1.6v1.6h-1.6zM67.5 200.0h1.6v1.6h-1.6zM65.9 207.7h1.6v1.6h-1.6zM72.2 200.8h1.6v1.6h-1.6zM84.0 200.1h1.6v1.6h-1.6zM75.6 201.3h1.6v1.6h-1.6zM58.2 203.9h1.6v1.6h-1.6zM91.4 199.9h1.6v1.6h-1.6zM102.4 193.4h1.6v1.6h-1.6zM104.4 205.5h1.6v1.6h-1.6zM93.7 202.6h1.6v1.6h-1.6zM91.9 201.0h1.6v1.6h-1.6zM79.4 204.4h1.6v1.6h-1.6zM73.3 207.1h1.6v1.6h-1.6zM58.2 213.5h1.6v1.6h-1.6zM104.3 195.2h1.6v1.6h-1.6zM103.5 204.1h1.6v1.6h-1.6zM85.0 206.5h1.6v1.6h-1.6zM89.2 195.3h1.6v1.6h-1.6zM52.0 205.6h1.6v1.6h-1.6zM80.9 198.2h1.6v1.6h-1.6zM71.7 204.4h1.6v1.6h-1.6zM60.4 199.0h1.6v1.6h-1.6zM63.2 203.6h1.6v1.6h-1.6zM100.3 201.7h1.6v1.6h-1.6zM98.9 207.1h1.6v1.6h-1.6zM92.6 193.9h1.6v1.6h-1.6zM58.5 200.9h1.6v1.6h-1.6zM103.8 199.3h1.6v1.6h-1.6zM80.9 204.4h1.6v1.6h-1.6zM90.3 206.8h1.6v1.6h-1.6zM93.5 206.7h1.6v1.6h-1.6zM60.8 203.7h1.6v1.6h-1.6zM52.0 199.1h1.6v1.6h-1.6zM52.6 198.8h1.6v1.6h-1.6zM78.1 205.8h1.6v1.6h-1.6zM77.6 197.1h1.6v1.6h-1.6zM98.3 193.5h1.6v1.6h-1.6zM90.8 196.1h1.6v1.6h-1.6zM60.4 204.3h1.6v1.6h-1.6zM69.2 205.2h1.6v1.6h-1.6zM52.6 193.5h1.6v1.6h-1.6zM98.9 199.8h1.6v1.6h-1.6zM95.0 190.9h1.6v1.6h-1.6zM72.7 199.6h1.6v1.6h-1.6zM79.6 312.6h1.6v1.6h-1.6zM72.4 305.5h1.6v1.6h-1.6zM92.6 304.8h1.6v1.6h-1.6zM61.3 309.3h1.6v1.6h-1.6zM89.9 302.6h1.6v1.6h-1.6zM81.6 311.6h1.6v1.6h-1.6zM61.2 304.5h1.6v1.6h-1.6zM100.7 305.8h1.6v1.6h-1.6zM101.1 297.9h1.6v1.6h-1.6zM78.5 301.1h1.6v1.6h-1.6zM53.0 312.4h1.6v1.6h-1.6zM86.8 309.5h1.6v1.6h-1.6zM75.7 308.4h1.6v1.6h-1.6zM69.1 308.8h1.6v1.6h-1.6zM94.9 307.7h1.6v1.6h-1.6zM59.1 311.2h1.6v1.6h-1.6zM61.3 309.8h1.6v1.6h-1.6zM102.9 309.2h1.6v1.6h-1.6zM88.2 302.0h1.6v1.6h-1.6zM77.4 310.7h1.6v1.6h-1.6zM95.5 303.3h1.6v1.6h-1.6zM64.2 314.2h1.6v1.6h-1.6zM63.9 305.8h1.6v1.6h-1.6zM52.6 309.2h1.6v1.6h-1.6zM98.4 303.6h1.6v1.6h-1.6zM87.4 313.0h1.6v1.6h-1.6zM69.5 308.4h1.6v1.6h-1.6zM80.5 314.9h1.6v1.6h-1.6zM90.2 304.2h1.6v1.6h-1.6zM71.4 301.8h1.6v1.6h-1.6zM58.9 305.8h1.6v1.6h-1.6zM57.6 315.5h1.6v1.6h-1.6zM67.7 308.0h1.6v1.6h-1.6zM71.9 307.2h1.6v1.6h-1.6zM69.1 312.1h1.6v1.6h-1.6zM85.0 306.4h1.6v1.6h-1.6zM67.0 313.7h1.6v1.6h-1.6zM66.4 310.9h1.6v1.6h-1.6zM59.9 308.2h1.6v1.6h-1.6zM76.4 307.1h1.6v1.6h-1.6zM80.0 305.2h1.6v1.6h-1.6zM62.6 308.8h1.6v1.6h-1.6zM72.7 318.4h1.6v1.6h-1.6zM62.6 308.0h1.6v1.6h-1.6zM83.6 306.9h1.6v1.6h-1.6zM74.9 307.5h1.6v1.6h-1.6zM57.5 308.7h1.6v1.6h-1.6zM92.1 301.3h1.6v1.6h-1.6zM94.6 298.6h1.6v1.6h-1.6zM89.3 304.2h1.6v1.6h-1.6zM101.2 301.6h1.6v1.6h-1.6zM73.5 307.2h1.6v1.6h-1.6zM56.8 312.1h1.6v1.6h-1.6zM52.5 310.9h1.6v1.6h-1.6zM54.8 317.8h1.6v1.6h-1.6zM90.0 306.5h1.6v1.6h-1.6zM67.1 301.7h1.6v1.6h-1.6zM95.4 304.6h1.6v1.6h-1.6zM73.2 307.5h1.6v1.6h-1.6zM97.8 307.1h1.6v1.6h-1.6zM65.3 304.5h1.6v1.6h-1.6zM60.1 309.1h1.6v1.6h-1.6zM94.2 296.5h1.6v1.6h-1.6zM103.7 303.3h1.6v1.6h-1.6zM62.7 306.5h1.6v1.6h-1.6zM52.5 306.2h1.6v1.6h-1.6zM83.0 309.3h1.6v1.6h-1.6zM90.5 298.2h1.6v1.6h-1.6zM68.3 314.4h1.6v1.6h-1.6zM75.8 305.6h1.6v1.6h-1.6zM71.1 311.1h1.6v1.6h-1.6zM82.7 307.9h1.6v1.6h-1.6zM70.2 310.5h1.6v1.6h-1.6zM103.6 310.9h1.6v1.6h-1.6zM81.0 306.4h1.6v1.6h-1.6zM75.8 310.4h1.6v1.6h-1.6zM81.7 309.1h1.6v1.6h-1.6zM69.1 301.1h1.6v1.6h-1.6zM92.4 303.7h1.6v1.6h-1.6zM62.8 310.9h1.6v1.6h-1.6zM75.4 306.0h1.6v1.6h-1.6zM52.7 308.9h1.6v1.6h-1.6zM61.9 314.8h1.6v1.6h-1.6zM84.7 314.5h1.6v1.6h-1.6zM103.4 309.4h1.6v1.6h-1.6zM58.6 312.6h1.6v1.6h-1.6zM83.8 304.3h1.6v1.6h-1.6zM86.7 309.4h1.6v1.6h-1.6zM53.7 314.9h1.6v1.6h-1.6zM100.3 304.1h1.6v1.6h-1.6zM93.1 311.1h1.6v1.6h-1.6zM77.3 311.2h1.6v1.6h-1.6zM76.2 306.5h1.6v1.6h-1.6zM53.3 304.8h1.6v1.6h-1.6zM61.2 299.7h1.6v1.6h-1.6zM74.0 298.4h1.6v1.6h-1.6zM78.8 316.4h1.6v1.6h-1.6zM65.0 307.0h1.6v1.6h-1.6zM91.2 305.9h1.6v1.6h-1.6zM53.2 309.3h1.6v1.6h-1.6zM53.4 305.7h1.6v1.6h-1.6zM70.2 308.9h1.6v1.6h-1.6zM56.4 304.8h1.6v1.6h-1.6zM83.8 311.0h1.6v1.6h-1.6zM73.6 306.9h1.6v1.6h-1.6zM82.3 311.5h1.6v1.6h-1.6zM59.9 309.8h1.6v1.6h-1.6zM74.8 311.3h1.6v1.6h-1.6zM99.0 299.8h1.6v1.6h-1.6zM102.3 302.4h1.6v1.6h-1.6zM78.7 306.2h1.6v1.6h-1.6zM57.3 314.7h1.6v1.6h-1.6zM89.0 307.0h1.6v1.6h-1.6zM89.0 313.7h1.6v1.6h-1.6zM62.5 310.0h1.6v1.6h-1.6zM85.0 300.2h1.6v1.6h-1.6zM81.5 310.8h1.6v1.6h-1.6zM55.3 306.4h1.6v1.6h-1.6zM80.0 315.2h1.6v1.6h-1.6zM89.0 303.1h1.6v1.6h-1.6zM89.3 313.1h1.6v1.6h-1.6zM92.1 302.3h1.6v1.6h-1.6zM75.0 317.3h1.6v1.6h-1.6zM77.6 311.1h1.6v1.6h-1.6zM77.0 301.8h1.6v1.6h-1.6zM87.4 304.4h1.6v1.6h-1.6zM56.3 313.0h1.6v1.6h-1.6zM97.8 302.6h1.6v1.6h-1.6zM66.3 305.6h1.6v1.6h-1.6zM73.3 311.7h1.6v1.6h-1.6zM78.2 303.0h1.6v1.6h-1.6zM57.0 305.3h1.6v1.6h-1.6zM67.8 314.0h1.6v1.6h-1.6zM82.7 308.6h1.6v1.6h-1.6zM57.0 305.6h1.6v1.6h-1.6zM63.6 303.9h1.6v1.6h-1.6zM59.2 307.4h1.6v1.6h-1.6zM83.0 304.4h1.6v1.6h-1.6zM53.9 304.9h1.6v1.6h-1.6zM94.6 307.5h1.6v1.6h-1.6zM60.1 310.9h1.6v1.6h-1.6zM92.8 306.9h1.6v1.6h-1.6zM74.9 304.0h1.6v1.6h-1.6zM61.0 309.6h1.6v1.6h-1.6zM91.2 309.3h1.6v1.6h-1.6zM97.4 299.9h1.6v1.6h-1.6zM77.0 308.4h1.6v1.6h-1.6zM76.4 306.6h1.6v1.6h-1.6zM64.1 310.9h1.6v1.6h-1.6zM57.1 308.9h1.6v1.6h-1.6zM61.2 313.4h1.6v1.6h-1.6zM79.8 301.2h1.6v1.6h-1.6zM79.7 311.8h1.6v1.6h-1.6zM76.4 317.5h1.6v1.6h-1.6zM71.3 306.2h1.6v1.6h-1.6zM62.7 316.5h1.6v1.6h-1.6zM52.4 311.1h1.6v1.6h-1.6zM83.3 312.1h1.6v1.6h-1.6zM73.3 320.4h1.6v1.6h-1.6zM86.1 308.9h1.6v1.6h-1.6zM80.3 310.8h1.6v1.6h-1.6zM75.7 306.6h1.6v1.6h-1.6zM59.8 311.5h1.6v1.6h-1.6zM80.4 306.9h1.6v1.6h-1.6zM68.4 301.8h1.6v1.6h-1.6zM72.5 309.4h1.6v1.6h-1.6zM81.8 303.7h1.6v1.6h-1.6zM60.3 303.6h1.6v1.6h-1.6zM66.8 311.2h1.6v1.6h-1.6zM73.3 305.6h1.6v1.6h-1.6zM85.6 308.6h1.6v1.6h-1.6zM84.1 303.6h1.6v1.6h-1.6zM60.9 311.6h1.6v1.6h-1.6zM80.1 310.6h1.6v1.6h-1.6zM101.6 299.0h1.6v1.6h-1.6zM85.8 312.4h1.6v1.6h-1.6zM66.4 306.7h1.6v1.6h-1.6zM86.4 311.3h1.6v1.6h-1.6zM72.8 308.6h1.6v1.6h-1.6zM102.9 299.5h1.6v1.6h-1.6zM91.7 308.4h1.6v1.6h-1.6zM55.1 314.7h1.6v1.6h-1.6zM70.6 310.0h1.6v1.6h-1.6zM73.5 307.2h1.6v1.6h-1.6zM102.2 305.8h1.6v1.6h-1.6zM80.4 304.4h1.6v1.6h-1.6zM61.5 305.2h1.6v1.6h-1.6zM91.2 305.1h1.6v1.6h-1.6zM67.2 310.6h1.6v1.6h-1.6zM101.9 306.3h1.6v1.6h-1.6zM91.5 302.3h1.6v1.6h-1.6zM55.2 316.5h1.6v1.6h-1.6zM53.0 314.3h1.6v1.6h-1.6zM82.2 308.0h1.6v1.6h-1.6zM103.6 315.6h1.6v1.6h-1.6zM67.5 314.8h1.6v1.6h-1.6zM95.4 303.4h1.6v1.6h-1.6zM65.9 313.4h1.6v1.6h-1.6zM89.7 303.1h1.6v1.6h-1.6zM56.9 313.5h1.6v1.6h-1.6zM61.0 310.3h1.6v1.6h-1.6zM70.5 312.6h1.6v1.6h-1.6zM92.9 308.5h1.6v1.6h-1.6zM79.9 309.3h1.6v1.6h-1.6zM68.4 314.0h1.6v1.6h-1.6zM62.4 304.6h1.6v1.6h-1.6zM89.8 312.8h1.6v1.6h-1.6zM99.9 304.6h1.6v1.6h-1.6zM59.5 311.6h1.6v1.6h-1.6zM52.1 319.3h1.6v1.6h-1.6zM69.2 317.3h1.6v1.6h-1.6zM66.1 313.5h1.6v1.6h-1.6zM90.3 302.7h1.6v1.6h-1.6zM90.3 310.6h1.6v1.6h-1.6zM78.0 303.3h1.6v1.6h-1.6zM93.7 305.0h1.6v1.6h-1.6zM93.4 306.6h1.6v1.6h-1.6zM56.6 307.6h1.6v1.6h-1.6zM79.1 305.3h1.6v1.6h-1.6zM83.5 312.8h1.6v1.6h-1.6zM84.7 306.5h1.6v1.6h-1.6zM99.8 301.3h1.6v1.6h-1.6zM82.1 305.6h1.6v1.6h-1.6zM60.1 306.1h1.6v1.6h-1.6zM72.4 304.3h1.6v1.6h-1.6zM72.0 304.1h1.6v1.6h-1.6zM69.6 305.7h1.6v1.6h-1.6zM58.0 317.4h1.6v1.6h-1.6zM52.0 309.2h1.6v1.6h-1.6zM56.9 307.5h1.6v1.6h-1.6zM75.8 302.0h1.6v1.6h-1.6zM53.7 302.6h1.6v1.6h-1.6zM84.2 308.0h1.6v1.6h-1.6zM62.8 311.4h1.6v1.6h-1.6zM102.5 308.7h1.6v1.6h-1.6zM95.1 311.5h1.6v1.6h-1.6zM88.3 297.0h1.6v1.6h-1.6zM63.1 308.6h1.6v1.6h-1.6zM67.9 318.3h1.6v1.6h-1.6zM86.2 312.6h1.6v1.6h-1.6zM57.5 311.5h1.6v1.6h-1.6zM95.9 299.2h1.6v1.6h-1.6zM57.5 315.1h1.6v1.6h-1.6zM69.6 314.0h1.6v1.6h-1.6zM68.0 310.9h1.6v1.6h-1.6zM68.1 306.0h1.6v1.6h-1.6zM102.6 306.0h1.6v1.6h-1.6zM81.3 310.9h1.6v1.6h-1.6zM79.2 310.9h1.6v1.6h-1.6zM91.2 313.6h1.6v1.6h-1.6zM69.4 306.1h1.6v1.6h-1.6zM80.0 304.6h1.6v1.6h-1.6zM103.1 301.1h1.6v1.6h-1.6zM67.9 312.7h1.6v1.6h-1.6zM69.1 316.0h1.6v1.6h-1.6zM97.7 303.2h1.6v1.6h-1.6zM102.8 312.9h1.6v1.6h-1.6zM93.4 307.1h1.6v1.6h-1.6zM71.0 307.2h1.6v1.6h-1.6zM64.3 309.2h1.6v1.6h-1.6zM57.8 315.1h1.6v1.6h-1.6zM59.8 309.4h1.6v1.6h-1.6zM59.0 308.9h1.6v1.6h-1.6zM55.7 311.9h1.6v1.6h-1.6zM90.1 310.6h1.6v1.6h-1.6zM66.8 311.3h1.6v1.6h-1.6zM74.0 314.4h1.6v1.6h-1.6zM79.8 310.7h1.6v1.6h-1.6zM87.1 308.8h1.6v1.6h-1.6zM55.0 303.5h1.6v1.6h-1.6zM79.2 304.0h1.6v1.6h-1.6zM54.0 305.9h1.6v1.6h-1.6zM65.0 314.8h1.6v1.6h-1.6zM95.1 303.1h1.6v1.6h-1.6zM89.7 306.7h1.6v1.6h-1.6zM57.7 311.5h1.6v1.6h-1.6zM52.4 302.9h1.6v1.6h-1.6zM95.0 303.3h1.6v1.6h-1.6zM78.2 307.9h1.6v1.6h-1.6zM92.8 308.6h1.6v1.6h-1.6zM87.0 315.8h1.6v1.6h-1.6zM93.3 305.2h1.6v1.6h-1.6zM52.5 313.6h1.6v1.6h-1.6zM52.4 311.0h1.6v1.6h-1.6zM58.2 307.4h1.6v1.6h-1.6zM102.6 300.0h1.6v1.6h-1.6zM65.3 309.9h1.6v1.6h-1.6zM55.3 316.2h1.6v1.6h-1.6zM64.0 313.2h1.6v1.6h-1.6zM75.0 315.1h1.6v1.6h-1.6zM80.6 307.5h1.6v1.6h-1.6zM60.1 310.9h1.6v1.6h-1.6zM98.2 294.1h1.6v1.6h-1.6zM82.1 309.9h1.6v1.6h-1.6zM58.8 307.5h1.6v1.6h-1.6zM55.8 313.3h1.6v1.6h-1.6zM83.5 308.7h1.6v1.6h-1.6zM54.0 306.1h1.6v1.6h-1.6zM66.8 309.1h1.6v1.6h-1.6zM59.3 315.3h1.6v1.6h-1.6zM100.9 299.5h1.6v1.6h-1.6zM66.3 301.3h1.6v1.6h-1.6zM54.2 311.4h1.6v1.6h-1.6zM100.1 309.0h1.6v1.6h-1.6zM90.6 305.7h1.6v1.6h-1.6zM66.3 312.0h1.6v1.6h-1.6zM61.7 310.7h1.6v1.6h-1.6zM67.5 304.5h1.6v1.6h-1.6zM95.7 306.9h1.6v1.6h-1.6zM62.1 311.4h1.6v1.6h-1.6zM57.2 314.9h1.6v1.6h-1.6zM98.3 306.0h1.6v1.6h-1.6zM79.3 303.4h1.6v1.6h-1.6zM93.6 307.4h1.6v1.6h-1.6zM80.7 315.4h1.6v1.6h-1.6zM62.9 310.5h1.6v1.6h-1.6zM103.4 306.0h1.6v1.6h-1.6zM97.5 300.5h1.6v1.6h-1.6zM77.0 313.4h1.6v1.6h-1.6zM87.2 309.6h1.6v1.6h-1.6zM56.4 314.4h1.6v1.6h-1.6zM86.9 301.5h1.6v1.6h-1.6zM54.6 315.3h1.6v1.6h-1.6zM86.8 305.6h1.6v1.6h-1.6zM79.2 305.4h1.6v1.6h-1.6zM62.5 308.8h1.6v1.6h-1.6zM71.8 307.8h1.6v1.6h-1.6zM103.4 296.2h1.6v1.6h-1.6zM64.3 312.0h1.6v1.6h-1.6zM68.6 311.7h1.6v1.6h-1.6zM66.3 312.2h1.6v1.6h-1.6zM58.4 307.1h1.6v1.6h-1.6zM83.1 301.1h1.6v1.6h-1.6zM81.2 313.3h1.6v1.6h-1.6zM60.5 308.6h1.6v1.6h-1.6zM86.9 310.9h1.6v1.6h-1.6zM52.8 311.1h1.6v1.6h-1.6zM86.8 301.7h1.6v1.6h-1.6zM87.8 307.9h1.6v1.6h-1.6zM92.2 305.4h1.6v1.6h-1.6zM70.8 314.0h1.6v1.6h-1.6zM52.1 305.4h1.6v1.6h-1.6zM76.9 301.3h1.6v1.6h-1.6zM78.4 309.1h1.6v1.6h-1.6zM76.9 305.4h1.6v1.6h-1.6zM90.0 308.2h1.6v1.6h-1.6zM67.7 299.9h1.6v1.6h-1.6zM91.7 304.4h1.6v1.6h-1.6zM80.4 312.0h1.6v1.6h-1.6zM55.0 314.4h1.6v1.6h-1.6zM66.7 308.7h1.6v1.6h-1.6zM95.7 306.2h1.6v1.6h-1.6zM60.1 308.1h1.6v1.6h-1.6zM57.0 309.6h1.6v1.6h-1.6zM62.7 306.0h1.6v1.6h-1.6zM72.2 298.3h1.6v1.6h-1.6zM87.2 306.2h1.6v1.6h-1.6zM69.3 302.1h1.6v1.6h-1.6zM87.8 311.3h1.6v1.6h-1.6zM93.0 308.0h1.6v1.6h-1.6zM81.5 300.0h1.6v1.6h-1.6zM61.6 296.3h1.6v1.6h-1.6zM92.4 306.2h1.6v1.6h-1.6zM100.6 297.5h1.6v1.6h-1.6zM76.4 316.9h1.6v1.6h-1.6zM52.7 309.7h1.6v1.6h-1.6zM79.9 306.8h1.6v1.6h-1.6zM98.4 309.8h1.6v1.6h-1.6zM83.1 301.1h1.6v1.6h-1.6zM74.4 308.2h1.6v1.6h-1.6zM81.8 309.0h1.6v1.6h-1.6zM84.5 304.3h1.6v1.6h-1.6zM85.3 311.1h1.6v1.6h-1.6zM96.6 313.0h1.6v1.6h-1.6zM95.8 301.3h1.6v1.6h-1.6zM62.0 301.9h1.6v1.6h-1.6zM60.2 306.6h1.6v1.6h-1.6zM88.5 305.6h1.6v1.6h-1.6zM61.2 317.5h1.6v1.6h-1.6zM100.9 302.9h1.6v1.6h-1.6zM74.5 310.4h1.6v1.6h-1.6zM77.8 311.1h1.6v1.6h-1.6zM62.4 304.0h1.6v1.6h-1.6zM56.8 306.0h1.6v1.6h-1.6zM96.5 304.9h1.6v1.6h-1.6zM58.8 302.9h1.6v1.6h-1.6zM73.1 301.7h1.6v1.6h-1.6zM83.0 301.7h1.6v1.6h-1.6zM75.9 305.3h1.6v1.6h-1.6zM78.6 308.8h1.6v1.6h-1.6zM82.2 309.3h1.6v1.6h-1.6zM70.8 308.9h1.6v1.6h-1.6zM67.8 312.0h1.6v1.6h-1.6zM88.9 306.0h1.6v1.6h-1.6zM83.0 300.5h1.6v1.6h-1.6zM94.7 305.1h1.6v1.6h-1.6zM60.6 309.6h1.6v1.6h-1.6zM56.7 308.4h1.6v1.6h-1.6zM93.7 298.7h1.6v1.6h-1.6zM54.7 314.3h1.6v1.6h-1.6zM98.7 306.0h1.6v1.6h-1.6zM66.5 307.5h1.6v1.6h-1.6zM81.1 303.0h1.6v1.6h-1.6zM90.3 305.7h1.6v1.6h-1.6zM97.9 309.1h1.6v1.6h-1.6zM75.5 305.0h1.6v1.6h-1.6zM71.7 305.1h1.6v1.6h-1.6zM61.0 311.0h1.6v1.6h-1.6zM62.1 310.8h1.6v1.6h-1.6zM95.4 310.2h1.6v1.6h-1.6zM90.0 301.0h1.6v1.6h-1.6zM92.5 307.6h1.6v1.6h-1.6zM91.3 300.6h1.6v1.6h-1.6zM102.4 302.6h1.6v1.6h-1.6zM86.8 308.9h1.6v1.6h-1.6zM96.3 302.3h1.6v1.6h-1.6zM96.2 312.2h1.6v1.6h-1.6zM83.8 305.0h1.6v1.6h-1.6zM58.2 306.7h1.6v1.6h-1.6zM73.3 300.8h1.6v1.6h-1.6zM71.5 309.3h1.6v1.6h-1.6zM96.9 307.3h1.6v1.6h-1.6zM92.1 313.8h1.6v1.6h-1.6zM61.2 305.1h1.6v1.6h-1.6zM76.3 306.1h1.6v1.6h-1.6zM72.3 305.5h1.6v1.6h-1.6zM54.7 310.7h1.6v1.6h-1.6zM95.2 306.9h1.6v1.6h-1.6zM55.0 307.4h1.6v1.6h-1.6zM79.2 314.3h1.6v1.6h-1.6zM71.8 301.4h1.6v1.6h-1.6zM94.4 302.4h1.6v1.6h-1.6zM94.7 312.7h1.6v1.6h-1.6zM88.7 301.1h1.6v1.6h-1.6zM88.1 299.6h1.6v1.6h-1.6zM89.9 305.8h1.6v1.6h-1.6zM92.1 304.6h1.6v1.6h-1.6zM54.9 318.8h1.6v1.6h-1.6zM91.4 303.0h1.6v1.6h-1.6zM74.4 311.4h1.6v1.6h-1.6zM69.7 304.9h1.6v1.6h-1.6zM85.6 307.2h1.6v1.6h-1.6zM91.5 309.1h1.6v1.6h-1.6zM86.0 301.3h1.6v1.6h-1.6zM77.8 307.0h1.6v1.6h-1.6zM99.2 308.6h1.6v1.6h-1.6zM64.4 316.7h1.6v1.6h-1.6zM102.6 315.2h1.6v1.6h-1.6zM88.9 296.1h1.6v1.6h-1.6zM96.5 306.2h1.6v1.6h-1.6zM92.6 304.6h1.6v1.6h-1.6zM59.2 318.2h1.6v1.6h-1.6zM80.4 306.9h1.6v1.6h-1.6zM101.9 307.8h1.6v1.6h-1.6zM98.5 303.5h1.6v1.6h-1.6zM72.9 298.6h1.6v1.6h-1.6zM61.3 312.3h1.6v1.6h-1.6zM68.1 310.8h1.6v1.6h-1.6zM95.3 305.8h1.6v1.6h-1.6zM55.6 316.4h1.6v1.6h-1.6zM83.7 306.4h1.6v1.6h-1.6zM96.9 307.2h1.6v1.6h-1.6zM64.9 311.8h1.6v1.6h-1.6zM67.7 307.1h1.6v1.6h-1.6zM85.7 316.3h1.6v1.6h-1.6zM76.6 305.4h1.6v1.6h-1.6zM61.8 316.2h1.6v1.6h-1.6zM89.6 298.9h1.6v1.6h-1.6zM89.6 307.1h1.6v1.6h-1.6zM94.9 298.7h1.6v1.6h-1.6zM101.0 304.9h1.6v1.6h-1.6zM100.4 309.6h1.6v1.6h-1.6zM79.1 301.5h1.6v1.6h-1.6zM90.1 307.5h1.6v1.6h-1.6zM57.5 309.5h1.6v1.6h-1.6zM98.5 303.1h1.6v1.6h-1.6zM84.1 309.6h1.6v1.6h-1.6zM60.2 308.8h1.6v1.6h-1.6zM86.1 304.9h1.6v1.6h-1.6zM67.1 312.2h1.6v1.6h-1.6zM93.7 305.7h1.6v1.6h-1.6zM76.5 306.8h1.6v1.6h-1.6zM88.6 307.0h1.6v1.6h-1.6zM84.3 317.0h1.6v1.6h-1.6zM100.4 307.3h1.6v1.6h-1.6zM56.8 305.0h1.6v1.6h-1.6zM99.6 296.9h1.6v1.6h-1.6zM79.7 300.6h1.6v1.6h-1.6zM81.1 296.1h1.6v1.6h-1.6zM102.7 308.6h1.6v1.6h-1.6zM78.9 306.2h1.6v1.6h-1.6zM67.7 308.3h1.6v1.6h-1.6zM86.5 306.3h1.6v1.6h-1.6zM84.1 303.5h1.6v1.6h-1.6zM98.8 306.6h1.6v1.6h-1.6zM87.3 306.0h1.6v1.6h-1.6zM75.1 301.8h1.6v1.6h-1.6zM96.4 301.0h1.6v1.6h-1.6zM94.9 306.8h1.6v1.6h-1.6zM70.4 309.2h1.6v1.6h-1.6zM70.5 309.7h1.6v1.6h-1.6zM73.5 310.2h1.6v1.6h-1.6zM103.2 312.5h1.6v1.6h-1.6zM89.5 297.7h1.6v1.6h-1.6zM84.7 308.4h1.6v1.6h-1.6zM78.0 309.8h1.6v1.6h-1.6zM103.8 306.6h1.6v1.6h-1.6zM97.6 297.9h1.6v1.6h-1.6zM86.6 307.4h1.6v1.6h-1.6zM96.5 307.7h1.6v1.6h-1.6zM68.0 302.9h1.6v1.6h-1.6zM60.4 309.7h1.6v1.6h-1.6zM97.0 307.5h1.6v1.6h-1.6zM78.9 309.4h1.6v1.6h-1.6zM103.9 302.9h1.6v1.6h-1.6zM65.1 308.9h1.6v1.6h-1.6zM83.7 297.8h1.6v1.6h-1.6zM75.5 312.6h1.6v1.6h-1.6zM95.9 305.1h1.6v1.6h-1.6zM93.0 300.2h1.6v1.6h-1.6zM53.7 306.4h1.6v1.6h-1.6zM97.2 303.6h1.6v1.6h-1.6zM60.9 317.2h1.6v1.6h-1.6zM83.7 309.3h1.6v1.6h-1.6zM93.0 311.7h1.6v1.6h-1.6zM62.0 313.5h1.6v1.6h-1.6zM103.6 310.2h1.6v1.6h-1.6zM64.4 306.3h1.6v1.6h-1.6zM91.3 301.3h1.6v1.6h-1.6zM75.1 308.9h1.6v1.6h-1.6zM91.3 314.1h1.6v1.6h-1.6zM53.7 313.6h1.6v1.6h-1.6zM92.2 304.7h1.6v1.6h-1.6zM101.4 303.1h1.6v1.6h-1.6zM62.4 311.5h1.6v1.6h-1.6zM82.4 316.5h1.6v1.6h-1.6zM79.2 308.0h1.6v1.6h-1.6zM66.1 303.9h1.6v1.6h-1.6zM68.0 310.8h1.6v1.6h-1.6zM52.5 312.5h1.6v1.6h-1.6zM80.4 309.0h1.6v1.6h-1.6zM91.5 301.8h1.6v1.6h-1.6zM93.3 299.4h1.6v1.6h-1.6zM86.8 308.9h1.6v1.6h-1.6zM103.1 305.2h1.6v1.6h-1.6zM91.4 306.2h1.6v1.6h-1.6zM96.7 297.0h1.6v1.6h-1.6zM53.4 312.5h1.6v1.6h-1.6zM100.3 307.6h1.6v1.6h-1.6zM83.8 304.1h1.6v1.6h-1.6zM85.3 298.0h1.6v1.6h-1.6zM72.3 311.9h1.6v1.6h-1.6zM55.7 307.1h1.6v1.6h-1.6zM82.2 311.0h1.6v1.6h-1.6zM80.4 310.6h1.6v1.6h-1.6zM94.1 307.0h1.6v1.6h-1.6zM79.3 297.2h1.6v1.6h-1.6zM73.2 312.1h1.6v1.6h-1.6zM94.8 306.7h1.6v1.6h-1.6zM89.1 306.1h1.6v1.6h-1.6zM58.0 308.0h1.6v1.6h-1.6zM84.9 301.9h1.6v1.6h-1.6zM91.8 306.6h1.6v1.6h-1.6zM87.8 299.5h1.6v1.6h-1.6zM57.4 314.2h1.6v1.6h-1.6zM103.5 306.8h1.6v1.6h-1.6zM60.8 313.4h1.6v1.6h-1.6zM58.9 310.9h1.6v1.6h-1.6zM80.8 307.2h1.6v1.6h-1.6zM52.8 312.0h1.6v1.6h-1.6zM54.3 307.1h1.6v1.6h-1.6zM96.4 312.7h1.6v1.6h-1.6zM101.2 304.2h1.6v1.6h-1.6zM72.6 309.4h1.6v1.6h-1.6zM85.9 309.8h1.6v1.6h-1.6zM102.3 303.3h1.6v1.6h-1.6zM55.2 311.7h1.6v1.6h-1.6zM89.6 304.2h1.6v1.6h-1.6zM93.9 308.1h1.6v1.6h-1.6zM70.7 304.2h1.6v1.6h-1.6zM75.3 299.0h1.6v1.6h-1.6zM75.2 309.8h1.6v1.6h-1.6zM81.4 308.6h1.6v1.6h-1.6zM56.2 307.9h1.6v1.6h-1.6zM94.9 305.6h1.6v1.6h-1.6zM61.9 314.6h1.6v1.6h-1.6zM56.8 309.2h1.6v1.6h-1.6zM87.6 304.1h1.6v1.6h-1.6zM60.4 316.6h1.6v1.6h-1.6zM70.7 297.2h1.6v1.6h-1.6zM98.5 306.9h1.6v1.6h-1.6zM72.7 308.0h1.6v1.6h-1.6zM72.7 312.4h1.6v1.6h-1.6zM60.3 307.5h1.6v1.6h-1.6zM57.6 313.1h1.6v1.6h-1.6zM79.0 299.1h1.6v1.6h-1.6zM66.0 314.2h1.6v1.6h-1.6zM60.6 308.8h1.6v1.6h-1.6zM67.6 302.2h1.6v1.6h-1.6zM92.8 307.7h1.6v1.6h-1.6zM98.5 302.7h1.6v1.6h-1.6zM83.7 310.0h1.6v1.6h-1.6zM68.1 309.4h1.6v1.6h-1.6zM71.9 315.2h1.6v1.6h-1.6zM68.4 308.7h1.6v1.6h-1.6zM87.7 303.9h1.6v1.6h-1.6zM102.1 309.8h1.6v1.6h-1.6zM79.3 310.2h1.6v1.6h-1.6zM100.2 307.9h1.6v1.6h-1.6zM90.4 301.6h1.6v1.6h-1.6zM58.3 309.3h1.6v1.6h-1.6zM57.9 310.0h1.6v1.6h-1.6zM64.5 315.0h1.6v1.6h-1.6zM97.8 308.0h1.6v1.6h-1.6zM73.6 302.4h1.6v1.6h-1.6zM59.4 305.5h1.6v1.6h-1.6zM76.9 304.6h1.6v1.6h-1.6zM93.7 314.2h1.6v1.6h-1.6zM69.6 308.9h1.6v1.6h-1.6zM91.8 309.2h1.6v1.6h-1.6zM60.0 309.3h1.6v1.6h-1.6zM74.0 309.2h1.6v1.6h-1.6zM81.9 308.2h1.6v1.6h-1.6zM80.7 310.1h1.6v1.6h-1.6zM64.6 307.2h1.6v1.6h-1.6zM93.6 306.3h1.6v1.6h-1.6zM71.1 300.2h1.6v1.6h-1.6zM103.6 301.4h1.6v1.6h-1.6zM68.5 315.3h1.6v1.6h-1.6zM75.9 314.7h1.6v1.6h-1.6zM97.5 308.4h1.6v1.6h-1.6zM76.0 307.6h1.6v1.6h-1.6zM86.6 310.4h1.6v1.6h-1.6zM69.7 309.6h1.6v1.6h-1.6zM100.2 307.7h1.6v1.6h-1.6zM103.5 308.7h1.6v1.6h-1.6zM80.8 318.0h1.6v1.6h-1.6zM87.6 306.1h1.6v1.6h-1.6zM61.7 310.8h1.6v1.6h-1.6zM58.2 310.5h1.6v1.6h-1.6zM71.2 304.2h1.6v1.6h-1.6zM63.5 307.3h1.6v1.6h-1.6zM67.4 309.8h1.6v1.6h-1.6zM88.4 306.1h1.6v1.6h-1.6zM89.4 304.5h1.6v1.6h-1.6zM84.0 311.7h1.6v1.6h-1.6zM85.8 304.1h1.6v1.6h-1.6zM80.6 306.6h1.6v1.6h-1.6zM54.6 310.8h1.6v1.6h-1.6zM91.1 304.6h1.6v1.6h-1.6zM60.6 309.3h1.6v1.6h-1.6zM66.6 310.2h1.6v1.6h-1.6zM56.1 319.5h1.6v1.6h-1.6zM76.7 305.2h1.6v1.6h-1.6zM83.1 311.2h1.6v1.6h-1.6zM73.6 301.8h1.6v1.6h-1.6zM94.8 302.3h1.6v1.6h-1.6zM92.9 308.7h1.6v1.6h-1.6zM72.9 312.1h1.6v1.6h-1.6zM61.9 307.4h1.6v1.6h-1.6zM95.7 306.4h1.6v1.6h-1.6zM87.4 310.6h1.6v1.6h-1.6zM97.5 313.4h1.6v1.6h-1.6zM85.8 308.2h1.6v1.6h-1.6zM84.4 299.1h1.6v1.6h-1.6zM102.0 307.2h1.6v1.6h-1.6zM73.2 316.6h1.6v1.6h-1.6zM57.4 313.5h1.6v1.6h-1.6zM73.1 311.3h1.6v1.6h-1.6zM75.7 311.3h1.6v1.6h-1.6zM60.5 318.8h1.6v1.6h-1.6zM75.8 312.0h1.6v1.6h-1.6zM52.1 306.2h1.6v1.6h-1.6zM82.7 300.9h1.6v1.6h-1.6zM64.6 311.1h1.6v1.6h-1.6zM74.2 307.4h1.6v1.6h-1.6zM54.5 309.0h1.6v1.6h-1.6zM69.4 310.2h1.6v1.6h-1.6zM79.4 307.5h1.6v1.6h-1.6zM100.4 305.0h1.6v1.6h-1.6zM83.2 311.0h1.6v1.6h-1.6zM58.4 310.6h1.6v1.6h-1.6zM62.3 311.7h1.6v1.6h-1.6zM70.8 309.4h1.6v1.6h-1.6zM59.9 317.9h1.6v1.6h-1.6zM89.8 302.8h1.6v1.6h-1.6zM99.2 305.5h1.6v1.6h-1.6zM78.2 308.6h1.6v1.6h-1.6zM104.0 302.9h1.6v1.6h-1.6zM68.5 308.8h1.6v1.6h-1.6zM93.3 297.9h1.6v1.6h-1.6zM103.7 311.4h1.6v1.6h-1.6zM102.5 309.8h1.6v1.6h-1.6zM86.5 312.1h1.6v1.6h-1.6zM57.0 313.8h1.6v1.6h-1.6zM76.1 306.4h1.6v1.6h-1.6zM82.6 304.5h1.6v1.6h-1.6zM57.9 312.4h1.6v1.6h-1.6zM82.8 309.8h1.6v1.6h-1.6zM82.1 307.8h1.6v1.6h-1.6zM63.5 311.1h1.6v1.6h-1.6zM100.7 306.4h1.6v1.6h-1.6zM94.6 312.3h1.6v1.6h-1.6zM71.7 302.5h1.6v1.6h-1.6zM78.5 308.6h1.6v1.6h-1.6zM103.7 299.5h1.6v1.6h-1.6zM55.6 315.4h1.6v1.6h-1.6zM73.1 306.3h1.6v1.6h-1.6zM56.2 308.5h1.6v1.6h-1.6zM94.4 302.1h1.6v1.6h-1.6zM93.4 306.1h1.6v1.6h-1.6zM61.1 312.8h1.6v1.6h-1.6zM101.7 313.0h1.6v1.6h-1.6zM86.0 308.6h1.6v1.6h-1.6zM84.4 306.5h1.6v1.6h-1.6zM97.2 302.4h1.6v1.6h-1.6zM65.0 312.1h1.6v1.6h-1.6zM78.3 306.6h1.6v1.6h-1.6zM67.0 307.3h1.6v1.6h-1.6zM73.9 308.1h1.6v1.6h-1.6zM78.9 308.4h1.6v1.6h-1.6zM91.2 305.4h1.6v1.6h-1.6zM83.9 301.8h1.6v1.6h-1.6zM79.9 298.5h1.6v1.6h-1.6zM98.4 307.8h1.6v1.6h-1.6zM99.3 306.1h1.6v1.6h-1.6zM56.5 310.8h1.6v1.6h-1.6zM82.7 301.1h1.6v1.6h-1.6zM103.3 297.9h1.6v1.6h-1.6zM56.2 314.9h1.6v1.6h-1.6zM99.0 305.8h1.6v1.6h-1.6zM68.1 307.4h1.6v1.6h-1.6zM55.4 314.2h1.6v1.6h-1.6zM88.2 304.0h1.6v1.6h-1.6zM86.5 307.7h1.6v1.6h-1.6zM71.3 309.3h1.6v1.6h-1.6zM57.8 313.7h1.6v1.6h-1.6zM75.6 309.4h1.6v1.6h-1.6zM89.6 303.0h1.6v1.6h-1.6zM52.2 304.4h1.6v1.6h-1.6zM68.9 309.2h1.6v1.6h-1.6zM94.8 302.5h1.6v1.6h-1.6zM74.7 317.1h1.6v1.6h-1.6zM100.9 302.7h1.6v1.6h-1.6zM72.1 306.6h1.6v1.6h-1.6zM60.1 311.9h1.6v1.6h-1.6zM61.2 315.5h1.6v1.6h-1.6zM58.6 303.0h1.6v1.6h-1.6zM89.8 305.1h1.6v1.6h-1.6zM61.6 320.7h1.6v1.6h-1.6zM83.1 310.7h1.6v1.6h-1.6zM61.7 306.8h1.6v1.6h-1.6zM91.1 305.9h1.6v1.6h-1.6zM57.5 310.6h1.6v1.6h-1.6zM95.7 304.5h1.6v1.6h-1.6zM81.5 311.0h1.6v1.6h-1.6zM94.7 307.0h1.6v1.6h-1.6zM54.7 310.8h1.6v1.6h-1.6zM75.6 308.0h1.6v1.6h-1.6zM55.9 321.1h1.6v1.6h-1.6zM61.5 308.8h1.6v1.6h-1.6zM76.2 298.5h1.6v1.6h-1.6zM85.0 309.8h1.6v1.6h-1.6zM68.3 311.7h1.6v1.6h-1.6zM98.4 299.0h1.6v1.6h-1.6zM69.6 304.7h1.6v1.6h-1.6zM97.9 307.4h1.6v1.6h-1.6zM82.9 311.6h1.6v1.6h-1.6zM81.9 315.1h1.6v1.6h-1.6zM81.3 313.4h1.6v1.6h-1.6zM96.1 316.1h1.6v1.6h-1.6zM79.6 310.2h1.6v1.6h-1.6zM81.4 305.7h1.6v1.6h-1.6zM52.3 310.9h1.6v1.6h-1.6zM80.8 309.7h1.6v1.6h-1.6zM99.8 298.8h1.6v1.6h-1.6zM98.9 295.9h1.6v1.6h-1.6zM79.1 312.2h1.6v1.6h-1.6zM66.6 310.6h1.6v1.6h-1.6zM96.7 304.9h1.6v1.6h-1.6zM63.1 420.5h1.6v1.6h-1.6zM101.3 417.9h1.6v1.6h-1.6zM54.5 423.3h1.6v1.6h-1.6zM104.2 414.7h1.6v1.6h-1.6zM80.3 419.8h1.6v1.6h-1.6zM78.0 421.2h1.6v1.6h-1.6zM73.9 421.6h1.6v1.6h-1.6zM59.5 422.7h1.6v1.6h-1.6zM104.5 413.8h1.6v1.6h-1.6zM64.3 425.3h1.6v1.6h-1.6zM59.7 420.3h1.6v1.6h-1.6zM84.2 414.7h1.6v1.6h-1.6zM68.4 422.2h1.6v1.6h-1.6zM80.9 420.4h1.6v1.6h-1.6zM69.1 418.7h1.6v1.6h-1.6zM100.9 417.7h1.6v1.6h-1.6zM55.2 424.7h1.6v1.6h-1.6zM93.0 412.1h1.6v1.6h-1.6zM60.4 422.9h1.6v1.6h-1.6zM100.1 414.3h1.6v1.6h-1.6zM55.2 423.0h1.6v1.6h-1.6zM93.3 418.8h1.6v1.6h-1.6zM73.4 426.1h1.6v1.6h-1.6zM83.1 421.6h1.6v1.6h-1.6zM102.0 421.4h1.6v1.6h-1.6zM92.6 416.9h1.6v1.6h-1.6zM91.7 416.6h1.6v1.6h-1.6zM79.3 416.4h1.6v1.6h-1.6zM63.1 421.4h1.6v1.6h-1.6zM57.0 426.0h1.6v1.6h-1.6zM92.9 417.7h1.6v1.6h-1.6zM101.8 418.6h1.6v1.6h-1.6zM56.2 426.0h1.6v1.6h-1.6zM84.0 416.2h1.6v1.6h-1.6zM52.6 427.1h1.6v1.6h-1.6zM101.1 416.5h1.6v1.6h-1.6zM80.1 418.9h1.6v1.6h-1.6zM56.4 419.2h1.6v1.6h-1.6zM68.2 418.1h1.6v1.6h-1.6zM102.6 415.5h1.6v1.6h-1.6zM59.1 424.3h1.6v1.6h-1.6zM103.7 418.6h1.6v1.6h-1.6zM100.5 416.3h1.6v1.6h-1.6zM57.1 426.4h1.6v1.6h-1.6zM98.7 415.7h1.6v1.6h-1.6zM80.2 422.0h1.6v1.6h-1.6zM100.8 416.7h1.6v1.6h-1.6zM103.7 415.3h1.6v1.6h-1.6zM56.2 423.2h1.6v1.6h-1.6zM63.7 421.6h1.6v1.6h-1.6zM85.6 418.8h1.6v1.6h-1.6zM83.1 421.5h1.6v1.6h-1.6zM74.0 419.3h1.6v1.6h-1.6zM94.8 415.7h1.6v1.6h-1.6zM64.0 420.8h1.6v1.6h-1.6zM91.3 420.9h1.6v1.6h-1.6zM101.0 418.0h1.6v1.6h-1.6zM89.2 419.7h1.6v1.6h-1.6zM66.7 419.6h1.6v1.6h-1.6zM82.4 415.3h1.6v1.6h-1.6zM82.6 415.7h1.6v1.6h-1.6zM85.2 417.0h1.6v1.6h-1.6zM66.3 421.0h1.6v1.6h-1.6zM65.6 425.5h1.6v1.6h-1.6zM78.9 422.2h1.6v1.6h-1.6zM79.3 413.7h1.6v1.6h-1.6zM101.2 416.3h1.6v1.6h-1.6zM90.6 417.3h1.6v1.6h-1.6zM63.7 423.4h1.6v1.6h-1.6zM74.6 419.2h1.6v1.6h-1.6zM70.6 414.8h1.6v1.6h-1.6zM88.1 420.2h1.6v1.6h-1.6zM52.5 419.3h1.6v1.6h-1.6zM62.5 419.2h1.6v1.6h-1.6zM81.4 417.0h1.6v1.6h-1.6zM71.7 426.0h1.6v1.6h-1.6zM56.3 419.1h1.6v1.6h-1.6zM67.1 416.8h1.6v1.6h-1.6zM53.3 418.4h1.6v1.6h-1.6zM104.3 412.8h1.6v1.6h-1.6zM86.2 420.2h1.6v1.6h-1.6zM60.7 419.5h1.6v1.6h-1.6zM63.0 424.1h1.6v1.6h-1.6zM70.3 420.8h1.6v1.6h-1.6zM52.7 424.2h1.6v1.6h-1.6zM53.0 420.4h1.6v1.6h-1.6zM53.8 423.4h1.6v1.6h-1.6zM87.5 420.2h1.6v1.6h-1.6zM88.7 419.9h1.6v1.6h-1.6zM59.9 422.7h1.6v1.6h-1.6zM88.0 413.6h1.6v1.6h-1.6zM97.5 419.0h1.6v1.6h-1.6zM102.3 416.8h1.6v1.6h-1.6zM85.2 418.8h1.6v1.6h-1.6zM79.0 415.5h1.6v1.6h-1.6zM97.2 416.3h1.6v1.6h-1.6zM84.6 422.6h1.6v1.6h-1.6zM58.8 421.6h1.6v1.6h-1.6zM82.9 421.1h1.6v1.6h-1.6zM58.6 421.6h1.6v1.6h-1.6zM81.9 415.3h1.6v1.6h-1.6zM55.0 419.5h1.6v1.6h-1.6zM65.2 419.0h1.6v1.6h-1.6zM67.2 422.9h1.6v1.6h-1.6zM93.7 419.8h1.6v1.6h-1.6zM99.8 411.2h1.6v1.6h-1.6zM80.5 417.8h1.6v1.6h-1.6zM96.1 416.5h1.6v1.6h-1.6zM59.9 422.5h1.6v1.6h-1.6zM97.6 414.8h1.6v1.6h-1.6zM63.2 419.7h1.6v1.6h-1.6zM56.2 420.8h1.6v1.6h-1.6zM73.9 418.7h1.6v1.6h-1.6zM101.1 413.6h1.6v1.6h-1.6zM73.6 422.4h1.6v1.6h-1.6zM55.9 424.8h1.6v1.6h-1.6zM66.0 422.2h1.6v1.6h-1.6zM98.8 417.4h1.6v1.6h-1.6zM54.4 419.2h1.6v1.6h-1.6zM92.9 415.7h1.6v1.6h-1.6zM57.6 421.8h1.6v1.6h-1.6zM52.0 426.2h1.6v1.6h-1.6zM64.9 422.6h1.6v1.6h-1.6zM82.4 418.2h1.6v1.6h-1.6zM65.5 426.2h1.6v1.6h-1.6zM66.8 418.0h1.6v1.6h-1.6zM54.4 419.1h1.6v1.6h-1.6zM63.1 419.4h1.6v1.6h-1.6zM80.7 422.6h1.6v1.6h-1.6zM96.9 415.9h1.6v1.6h-1.6zM80.1 416.3h1.6v1.6h-1.6zM95.2 417.3h1.6v1.6h-1.6zM60.9 419.9h1.6v1.6h-1.6zM94.4 417.7h1.6v1.6h-1.6zM64.4 419.9h1.6v1.6h-1.6zM103.7 413.9h1.6v1.6h-1.6zM54.7 425.9h1.6v1.6h-1.6zM78.1 418.2h1.6v1.6h-1.6zM67.1 417.4h1.6v1.6h-1.6zM96.4 419.8h1.6v1.6h-1.6zM65.8 422.3h1.6v1.6h-1.6zM91.2 417.6h1.6v1.6h-1.6zM58.8 424.6h1.6v1.6h-1.6zM60.2 417.0h1.6v1.6h-1.6zM58.6 424.0h1.6v1.6h-1.6zM52.6 423.1h1.6v1.6h-1.6zM66.4 417.7h1.6v1.6h-1.6zM58.7 418.5h1.6v1.6h-1.6zM54.3 427.4h1.6v1.6h-1.6zM104.0 416.6h1.6v1.6h-1.6zM97.4 415.4h1.6v1.6h-1.6zM102.0 418.6h1.6v1.6h-1.6zM85.8 415.0h1.6v1.6h-1.6zM60.3 422.5h1.6v1.6h-1.6zM74.4 421.4h1.6v1.6h-1.6zM99.2 416.6h1.6v1.6h-1.6zM56.9 422.8h1.6v1.6h-1.6zM55.8 423.6h1.6v1.6h-1.6zM69.1 423.6h1.6v1.6h-1.6zM100.2 417.3h1.6v1.6h-1.6zM70.4 420.9h1.6v1.6h-1.6zM100.3 415.7h1.6v1.6h-1.6zM68.0 420.4h1.6v1.6h-1.6zM59.0 421.0h1.6v1.6h-1.6zM91.3 420.6h1.6v1.6h-1.6zM68.8 417.9h1.6v1.6h-1.6zM93.3 418.7h1.6v1.6h-1.6zM96.6 419.9h1.6v1.6h-1.6zM68.9 422.9h1.6v1.6h-1.6zM90.6 420.1h1.6v1.6h-1.6zM82.4 423.0h1.6v1.6h-1.6zM88.2 419.5h1.6v1.6h-1.6zM68.5 420.9h1.6v1.6h-1.6zM83.2 418.0h1.6v1.6h-1.6zM57.3 419.9h1.6v1.6h-1.6zM94.2 417.6h1.6v1.6h-1.6zM58.8 422.5h1.6v1.6h-1.6zM57.2 419.5h1.6v1.6h-1.6zM66.8 419.2h1.6v1.6h-1.6zM81.9 419.6h1.6v1.6h-1.6zM56.4 420.5h1.6v1.6h-1.6zM54.5 420.0h1.6v1.6h-1.6zM64.4 423.1h1.6v1.6h-1.6zM99.8 417.9h1.6v1.6h-1.6zM57.6 423.6h1.6v1.6h-1.6zM87.4 421.6h1.6v1.6h-1.6zM87.8 414.9h1.6v1.6h-1.6zM59.0 420.7h1.6v1.6h-1.6zM72.7 418.7h1.6v1.6h-1.6zM100.5 413.4h1.6v1.6h-1.6zM60.5 419.3h1.6v1.6h-1.6zM88.8 415.7h1.6v1.6h-1.6zM60.7 418.9h1.6v1.6h-1.6zM68.1 420.2h1.6v1.6h-1.6zM69.1 419.7h1.6v1.6h-1.6zM80.2 419.1h1.6v1.6h-1.6zM88.6 416.7h1.6v1.6h-1.6zM71.1 420.3h1.6v1.6h-1.6zM67.3 421.2h1.6v1.6h-1.6zM58.3 423.3h1.6v1.6h-1.6zM56.6 424.5h1.6v1.6h-1.6zM94.1 417.6h1.6v1.6h-1.6zM103.0 412.5h1.6v1.6h-1.6zM96.6 414.4h1.6v1.6h-1.6zM66.8 425.9h1.6v1.6h-1.6zM60.4 419.8h1.6v1.6h-1.6zM78.2 423.1h1.6v1.6h-1.6zM83.2 416.8h1.6v1.6h-1.6zM87.4 423.7h1.6v1.6h-1.6zM78.1 416.0h1.6v1.6h-1.6zM88.2 420.1h1.6v1.6h-1.6zM71.3 422.9h1.6v1.6h-1.6zM100.5 415.5h1.6v1.6h-1.6zM65.4 418.7h1.6v1.6h-1.6zM82.1 416.7h1.6v1.6h-1.6zM56.9 422.4h1.6v1.6h-1.6zM74.5 418.8h1.6v1.6h-1.6zM78.6 418.6h1.6v1.6h-1.6zM100.6 419.3h1.6v1.6h-1.6zM57.3 419.5h1.6v1.6h-1.6zM76.6 422.3h1.6v1.6h-1.6zM84.3 415.9h1.6v1.6h-1.6zM57.9 426.0h1.6v1.6h-1.6zM70.5 419.8h1.6v1.6h-1.6zM84.2 412.3h1.6v1.6h-1.6zM98.1 417.4h1.6v1.6h-1.6zM93.5 418.2h1.6v1.6h-1.6zM79.3 421.1h1.6v1.6h-1.6zM96.3 419.2h1.6v1.6h-1.6zM52.7 420.7h1.6v1.6h-1.6zM67.9 420.5h1.6v1.6h-1.6zM95.0 416.8h1.6v1.6h-1.6zM88.2 420.9h1.6v1.6h-1.6zM100.5 412.6h1.6v1.6h-1.6zM100.2 414.4h1.6v1.6h-1.6zM95.5 416.4h1.6v1.6h-1.6zM82.1 421.9h1.6v1.6h-1.6zM89.9 416.5h1.6v1.6h-1.6zM54.1 424.1h1.6v1.6h-1.6zM88.6 416.4h1.6v1.6h-1.6zM80.2 421.9h1.6v1.6h-1.6zM61.7 419.3h1.6v1.6h-1.6zM54.1 418.7h1.6v1.6h-1.6zM60.0 422.8h1.6v1.6h-1.6zM94.9 416.0h1.6v1.6h-1.6zM53.3 425.6h1.6v1.6h-1.6zM81.1 421.3h1.6v1.6h-1.6zM89.4 418.8h1.6v1.6h-1.6zM97.9 415.4h1.6v1.6h-1.6zM75.9 420.6h1.6v1.6h-1.6zM58.1 423.2h1.6v1.6h-1.6zM88.5 419.5h1.6v1.6h-1.6zM79.4 420.7h1.6v1.6h-1.6zM100.7 414.6h1.6v1.6h-1.6zM74.9 419.3h1.6v1.6h-1.6zM57.9 421.2h1.6v1.6h-1.6zM66.0 419.1h1.6v1.6h-1.6zM61.0 419.9h1.6v1.6h-1.6zM52.1 420.5h1.6v1.6h-1.6zM68.3 425.4h1.6v1.6h-1.6zM60.0 417.7h1.6v1.6h-1.6zM60.5 423.3h1.6v1.6h-1.6zM73.4 421.8h1.6v1.6h-1.6zM66.3 418.0h1.6v1.6h-1.6zM82.5 417.4h1.6v1.6h-1.6zM79.8 422.2h1.6v1.6h-1.6zM99.5 418.2h1.6v1.6h-1.6zM57.3 420.4h1.6v1.6h-1.6zM74.3 422.1h1.6v1.6h-1.6zM59.6 423.5h1.6v1.6h-1.6zM54.9 426.6h1.6v1.6h-1.6zM74.9 419.2h1.6v1.6h-1.6zM90.2 417.6h1.6v1.6h-1.6zM68.2 421.9h1.6v1.6h-1.6zM73.6 416.9h1.6v1.6h-1.6zM98.3 417.5h1.6v1.6h-1.6zM72.1 415.7h1.6v1.6h-1.6zM72.9 416.8h1.6v1.6h-1.6zM71.8 414.2h1.6v1.6h-1.6zM67.1 422.5h1.6v1.6h-1.6zM86.4 415.7h1.6v1.6h-1.6zM103.3 414.8h1.6v1.6h-1.6zM58.6 420.7h1.6v1.6h-1.6zM103.6 416.5h1.6v1.6h-1.6zM52.2 426.7h1.6v1.6h-1.6zM73.9 421.4h1.6v1.6h-1.6zM77.0 422.5h1.6v1.6h-1.6zM59.8 424.0h1.6v1.6h-1.6zM95.9 417.5h1.6v1.6h-1.6zM72.7 420.5h1.6v1.6h-1.6zM53.3 426.0h1.6v1.6h-1.6zM57.1 423.2h1.6v1.6h-1.6zM78.4 421.9h1.6v1.6h-1.6zM104.1 414.6h1.6v1.6h-1.6zM68.8 423.3h1.6v1.6h-1.6zM84.2 417.9h1.6v1.6h-1.6zM55.1 423.6h1.6v1.6h-1.6zM67.7 424.4h1.6v1.6h-1.6zM81.2 419.9h1.6v1.6h-1.6zM103.0 416.0h1.6v1.6h-1.6zM103.1 418.8h1.6v1.6h-1.6zM72.2 422.8h1.6v1.6h-1.6zM73.9 425.7h1.6v1.6h-1.6zM54.1 423.1h1.6v1.6h-1.6zM56.4 425.0h1.6v1.6h-1.6zM71.8 421.8h1.6v1.6h-1.6zM88.1 419.0h1.6v1.6h-1.6zM68.9 420.8h1.6v1.6h-1.6zM83.9 420.0h1.6v1.6h-1.6zM53.2 418.6h1.6v1.6h-1.6zM97.6 413.5h1.6v1.6h-1.6zM100.0 419.9h1.6v1.6h-1.6zM73.0 424.0h1.6v1.6h-1.6zM100.2 415.4h1.6v1.6h-1.6zM72.0 417.6h1.6v1.6h-1.6zM73.2 421.0h1.6v1.6h-1.6zM57.1 420.9h1.6v1.6h-1.6zM85.7 416.9h1.6v1.6h-1.6zM83.1 416.6h1.6v1.6h-1.6zM91.6 415.6h1.6v1.6h-1.6zM82.7 419.4h1.6v1.6h-1.6zM87.8 417.4h1.6v1.6h-1.6zM83.5 416.9h1.6v1.6h-1.6zM100.5 419.3h1.6v1.6h-1.6zM62.0 419.0h1.6v1.6h-1.6zM95.4 421.7h1.6v1.6h-1.6zM59.8 422.1h1.6v1.6h-1.6zM96.3 419.0h1.6v1.6h-1.6zM83.9 418.3h1.6v1.6h-1.6zM74.5 421.5h1.6v1.6h-1.6zM76.7 418.2h1.6v1.6h-1.6zM53.0 422.6h1.6v1.6h-1.6zM89.1 418.1h1.6v1.6h-1.6zM62.4 420.7h1.6v1.6h-1.6zM86.6 419.2h1.6v1.6h-1.6zM82.0 416.5h1.6v1.6h-1.6zM94.6 418.7h1.6v1.6h-1.6zM63.3 425.5h1.6v1.6h-1.6zM60.2 422.3h1.6v1.6h-1.6zM56.7 421.9h1.6v1.6h-1.6zM52.2 424.4h1.6v1.6h-1.6zM54.8 422.1h1.6v1.6h-1.6zM90.9 419.0h1.6v1.6h-1.6zM102.1 417.5h1.6v1.6h-1.6zM64.8 425.6h1.6v1.6h-1.6zM89.0 418.8h1.6v1.6h-1.6zM87.7 411.8h1.6v1.6h-1.6zM92.8 415.2h1.6v1.6h-1.6zM72.1 423.0h1.6v1.6h-1.6zM56.4 423.3h1.6v1.6h-1.6zM81.7 418.4h1.6v1.6h-1.6zM76.8 422.3h1.6v1.6h-1.6zM70.0 419.5h1.6v1.6h-1.6zM96.1 416.9h1.6v1.6h-1.6zM103.3 414.3h1.6v1.6h-1.6zM104.4 413.8h1.6v1.6h-1.6zM59.1 421.3h1.6v1.6h-1.6zM94.8 416.0h1.6v1.6h-1.6zM53.0 425.7h1.6v1.6h-1.6zM85.9 415.3h1.6v1.6h-1.6zM52.9 423.8h1.6v1.6h-1.6zM62.2 418.3h1.6v1.6h-1.6zM53.4 424.6h1.6v1.6h-1.6zM70.2 423.5h1.6v1.6h-1.6zM104.3 412.9h1.6v1.6h-1.6zM69.6 420.4h1.6v1.6h-1.6zM61.5 420.2h1.6v1.6h-1.6zM95.4 422.6h1.6v1.6h-1.6zM61.3 425.6h1.6v1.6h-1.6zM85.8 419.1h1.6v1.6h-1.6zM64.0 421.3h1.6v1.6h-1.6zM83.5 420.6h1.6v1.6h-1.6zM96.0 418.3h1.6v1.6h-1.6zM84.1 416.5h1.6v1.6h-1.6zM91.9 418.6h1.6v1.6h-1.6zM55.5 419.3h1.6v1.6h-1.6zM76.4 419.3h1.6v1.6h-1.6zM101.6 419.6h1.6v1.6h-1.6zM58.5 424.8h1.6v1.6h-1.6zM96.7 417.3h1.6v1.6h-1.6zM66.1 418.3h1.6v1.6h-1.6zM98.6 417.0h1.6v1.6h-1.6zM98.1 416.6h1.6v1.6h-1.6zM90.0 418.7h1.6v1.6h-1.6zM100.6 418.1h1.6v1.6h-1.6zM80.5 425.0h1.6v1.6h-1.6zM56.3 425.9h1.6v1.6h-1.6zM94.3 417.5h1.6v1.6h-1.6zM67.7 417.5h1.6v1.6h-1.6zM63.9 420.3h1.6v1.6h-1.6zM90.8 419.4h1.6v1.6h-1.6zM91.3 421.1h1.6v1.6h-1.6zM82.6 421.5h1.6v1.6h-1.6zM87.9 420.0h1.6v1.6h-1.6zM96.7 420.9h1.6v1.6h-1.6zM71.5 423.3h1.6v1.6h-1.6zM74.1 417.2h1.6v1.6h-1.6zM103.6 420.4h1.6v1.6h-1.6zM70.3 417.3h1.6v1.6h-1.6zM96.2 415.7h1.6v1.6h-1.6zM69.5 423.6h1.6v1.6h-1.6zM89.0 417.6h1.6v1.6h-1.6zM80.4 419.5h1.6v1.6h-1.6zM53.1 423.8h1.6v1.6h-1.6zM80.7 417.4h1.6v1.6h-1.6zM80.6 418.3h1.6v1.6h-1.6zM74.4 422.2h1.6v1.6h-1.6zM96.5 418.0h1.6v1.6h-1.6zM63.8 422.0h1.6v1.6h-1.6zM103.8 423.7h1.6v1.6h-1.6zM71.6 420.6h1.6v1.6h-1.6zM80.7 421.1h1.6v1.6h-1.6zM96.8 417.7h1.6v1.6h-1.6zM75.9 424.7h1.6v1.6h-1.6zM63.0 421.9h1.6v1.6h-1.6zM102.8 417.6h1.6v1.6h-1.6zM52.1 421.9h1.6v1.6h-1.6zM84.7 418.7h1.6v1.6h-1.6zM75.9 419.2h1.6v1.6h-1.6zM93.2 418.7h1.6v1.6h-1.6zM66.2 420.8h1.6v1.6h-1.6zM93.4 418.6h1.6v1.6h-1.6zM84.0 417.0h1.6v1.6h-1.6zM81.8 418.8h1.6v1.6h-1.6zM85.6 420.9h1.6v1.6h-1.6zM73.9 423.3h1.6v1.6h-1.6zM68.2 424.9h1.6v1.6h-1.6zM60.4 426.9h1.6v1.6h-1.6zM95.3 416.6h1.6v1.6h-1.6zM66.5 418.2h1.6v1.6h-1.6zM95.9 417.7h1.6v1.6h-1.6zM101.1 415.7h1.6v1.6h-1.6zM66.7 416.8h1.6v1.6h-1.6zM91.5 417.3h1.6v1.6h-1.6zM75.0 420.9h1.6v1.6h-1.6zM55.8 421.4h1.6v1.6h-1.6zM57.5 419.8h1.6v1.6h-1.6zM93.2 414.1h1.6v1.6h-1.6zM93.6 417.6h1.6v1.6h-1.6zM86.4 416.3h1.6v1.6h-1.6zM65.5 414.7h1.6v1.6h-1.6zM63.0 417.5h1.6v1.6h-1.6zM55.8 417.4h1.6v1.6h-1.6zM54.5 422.4h1.6v1.6h-1.6zM77.6 422.0h1.6v1.6h-1.6zM67.1 418.8h1.6v1.6h-1.6zM94.1 418.5h1.6v1.6h-1.6zM90.2 416.1h1.6v1.6h-1.6zM104.3 417.0h1.6v1.6h-1.6zM100.8 414.8h1.6v1.6h-1.6zM97.2 412.4h1.6v1.6h-1.6zM101.9 414.9h1.6v1.6h-1.6zM97.7 418.5h1.6v1.6h-1.6zM96.6 412.7h1.6v1.6h-1.6zM90.6 421.1h1.6v1.6h-1.6zM85.2 418.4h1.6v1.6h-1.6zM80.9 418.5h1.6v1.6h-1.6zM85.0 419.0h1.6v1.6h-1.6zM94.1 417.3h1.6v1.6h-1.6zM102.0 417.8h1.6v1.6h-1.6zM53.6 425.4h1.6v1.6h-1.6zM61.3 422.3h1.6v1.6h-1.6zM60.5 424.0h1.6v1.6h-1.6zM52.5 426.1h1.6v1.6h-1.6zM100.0 414.8h1.6v1.6h-1.6zM57.4 424.1h1.6v1.6h-1.6zM96.9 415.3h1.6v1.6h-1.6zM89.6 425.5h1.6v1.6h-1.6zM52.2 422.6h1.6v1.6h-1.6zM74.2 423.4h1.6v1.6h-1.6zM74.2 420.3h1.6v1.6h-1.6zM64.8 419.9h1.6v1.6h-1.6zM98.6 416.5h1.6v1.6h-1.6zM100.6 414.6h1.6v1.6h-1.6zM97.9 419.7h1.6v1.6h-1.6zM101.6 414.7h1.6v1.6h-1.6zM95.0 418.3h1.6v1.6h-1.6zM61.2 427.8h1.6v1.6h-1.6zM73.3 422.2h1.6v1.6h-1.6zM66.7 422.6h1.6v1.6h-1.6zM55.8 420.5h1.6v1.6h-1.6zM93.7 417.1h1.6v1.6h-1.6zM57.5 423.0h1.6v1.6h-1.6zM66.2 422.0h1.6v1.6h-1.6zM87.0 416.4h1.6v1.6h-1.6zM88.3 417.6h1.6v1.6h-1.6zM82.7 417.8h1.6v1.6h-1.6zM59.5 424.4h1.6v1.6h-1.6zM54.8 425.0h1.6v1.6h-1.6zM88.3 419.2h1.6v1.6h-1.6zM96.1 414.7h1.6v1.6h-1.6zM58.3 418.4h1.6v1.6h-1.6zM54.5 422.3h1.6v1.6h-1.6zM98.5 417.5h1.6v1.6h-1.6zM96.9 415.0h1.6v1.6h-1.6zM76.9 420.6h1.6v1.6h-1.6zM86.4 415.2h1.6v1.6h-1.6zM72.5 419.9h1.6v1.6h-1.6zM62.5 422.7h1.6v1.6h-1.6zM95.4 412.7h1.6v1.6h-1.6zM94.3 420.6h1.6v1.6h-1.6zM66.5 421.8h1.6v1.6h-1.6zM75.1 420.2h1.6v1.6h-1.6zM100.0 418.6h1.6v1.6h-1.6zM78.5 417.7h1.6v1.6h-1.6zM72.8 420.6h1.6v1.6h-1.6zM71.7 420.7h1.6v1.6h-1.6zM83.9 424.0h1.6v1.6h-1.6zM97.5 418.8h1.6v1.6h-1.6zM57.8 420.0h1.6v1.6h-1.6zM52.8 427.0h1.6v1.6h-1.6zM62.5 419.3h1.6v1.6h-1.6zM92.2 415.3h1.6v1.6h-1.6zM94.8 414.8h1.6v1.6h-1.6zM89.7 420.0h1.6v1.6h-1.6zM72.7 424.0h1.6v1.6h-1.6zM96.8 414.7h1.6v1.6h-1.6zM57.1 422.6h1.6v1.6h-1.6zM66.6 423.4h1.6v1.6h-1.6zM56.3 422.7h1.6v1.6h-1.6z"/>
<path fill="#8ce88c" d="M52.9 219.3h1.4v1.4h-1.4zM53.9 196.5h1.4v1.4h-1.4zM92.4 207.9h1.4v1.4h-1.4zM62.5 204.0h1.4v1.4h-1.4zM58.2 202.3h1.4v1.4h-1.4zM72.6 193.8h1.4v1.4h-1.4zM52.4 217.7h1.4v1.4h-1.4zM93.2 191.2h1.4v1.4h-1.4zM72.6 200.6h1.4v1.4h-1.4zM71.9 197.2h1.4v1.4h-1.4zM63.0 210.8h1.4v1.4h-1.4zM52.4 216.6h1.4v1.4h-1.4zM56.4 210.3h1.4v1.4h-1.4zM91.1 191.9h1.4v1.4h-1.4zM81.6 213.5h1.4v1.4h-1.4zM86.4 201.8h1.4v1.4h-1.4zM103.1 196.7h1.4v1.4h-1.4zM101.1 215.1h1.4v1.4h-1.4zM75.0 200.3h1.4v1.4h-1.4zM56.7 208.0h1.4v1.4h-1.4zM73.8 192.2h1.4v1.4h-1.4zM98.5 201.1h1.4v1.4h-1.4zM101.5 203.3h1.4v1.4h-1.4zM77.2 188.2h1.4v1.4h-1.4zM95.6 215.0h1.4v1.4h-1.4zM56.9 209.6h1.4v1.4h-1.4zM88.1 208.5h1.4v1.4h-1.4zM59.4 202.1h1.4v1.4h-1.4zM75.9 202.6h1.4v1.4h-1.4zM60.1 214.5h1.4v1.4h-1.4zM77.8 204.8h1.4v1.4h-1.4zM97.8 192.3h1.4v1.4h-1.4zM82.9 200.7h1.4v1.4h-1.4zM57.2 201.7h1.4v1.4h-1.4zM62.0 194.2h1.4v1.4h-1.4zM60.2 209.9h1.4v1.4h-1.4zM70.2 211.6h1.4v1.4h-1.4zM99.0 202.5h1.4v1.4h-1.4zM75.8 199.8h1.4v1.4h-1.4zM94.7 198.7h1.4v1.4h-1.4zM77.5 201.3h1.4v1.4h-1.4zM63.5 201.3h1.4v1.4h-1.4zM80.6 198.9h1.4v1.4h-1.4zM59.0 206.6h1.4v1.4h-1.4zM83.2 196.8h1.4v1.4h-1.4zM69.5 203.0h1.4v1.4h-1.4zM56.9 202.3h1.4v1.4h-1.4zM99.0 201.0h1.4v1.4h-1.4zM80.7 183.2h1.4v1.4h-1.4zM64.0 209.1h1.4v1.4h-1.4zM95.5 198.9h1.4v1.4h-1.4zM70.9 195.7h1.4v1.4h-1.4zM59.1 197.7h1.4v1.4h-1.4zM98.0 191.9h1.4v1.4h-1.4zM80.3 194.0h1.4v1.4h-1.4zM84.1 199.3h1.4v1.4h-1.4zM56.1 196.4h1.4v1.4h-1.4zM90.4 199.1h1.4v1.4h-1.4zM67.5 197.8h1.4v1.4h-1.4zM82.6 206.0h1.4v1.4h-1.4zM72.9 192.0h1.4v1.4h-1.4zM82.4 183.7h1.4v1.4h-1.4zM80.7 193.0h1.4v1.4h-1.4zM97.1 218.1h1.4v1.4h-1.4zM84.7 211.1h1.4v1.4h-1.4zM83.9 203.0h1.4v1.4h-1.4zM98.2 191.7h1.4v1.4h-1.4zM89.2 185.2h1.4v1.4h-1.4zM71.1 199.5h1.4v1.4h-1.4zM80.1 198.9h1.4v1.4h-1.4zM101.2 196.2h1.4v1.4h-1.4zM92.7 187.8h1.4v1.4h-1.4zM68.2 189.7h1.4v1.4h-1.4zM70.9 190.4h1.4v1.4h-1.4zM60.5 212.2h1.4v1.4h-1.4zM81.5 198.9h1.4v1.4h-1.4zM64.0 196.6h1.4v1.4h-1.4zM72.8 200.7h1.4v1.4h-1.4zM82.8 202.9h1.4v1.4h-1.4zM102.0 191.7h1.4v1.4h-1.4zM67.2 303.5h1.4v1.4h-1.4zM95.1 300.5h1.4v1.4h-1.4zM56.1 312.7h1.4v1.4h-1.4zM68.8 301.9h1.4v1.4h-1.4zM55.2 306.0h1.4v1.4h-1.4zM77.5 308.8h1.4v1.4h-1.4zM59.5 316.1h1.4v1.4h-1.4zM68.5 307.0h1.4v1.4h-1.4zM60.9 314.5h1.4v1.4h-1.4zM66.9 298.0h1.4v1.4h-1.4zM79.8 313.3h1.4v1.4h-1.4zM72.1 325.9h1.4v1.4h-1.4zM86.5 298.4h1.4v1.4h-1.4zM94.7 306.7h1.4v1.4h-1.4zM67.9 326.8h1.4v1.4h-1.4zM65.7 305.0h1.4v1.4h-1.4zM63.4 308.0h1.4v1.4h-1.4zM80.8 299.1h1.4v1.4h-1.4zM94.6 303.2h1.4v1.4h-1.4zM73.7 310.8h1.4v1.4h-1.4zM75.7 311.8h1.4v1.4h-1.4zM81.8 310.6h1.4v1.4h-1.4zM101.4 310.7h1.4v1.4h-1.4zM92.4 298.2h1.4v1.4h-1.4zM60.7 327.5h1.4v1.4h-1.4zM84.7 299.5h1.4v1.4h-1.4zM65.7 311.8h1.4v1.4h-1.4zM72.7 311.8h1.4v1.4h-1.4zM84.6 294.0h1.4v1.4h-1.4zM69.9 301.2h1.4v1.4h-1.4zM79.5 319.6h1.4v1.4h-1.4zM65.9 323.1h1.4v1.4h-1.4zM72.4 315.7h1.4v1.4h-1.4zM97.5 301.2h1.4v1.4h-1.4zM66.3 313.5h1.4v1.4h-1.4zM59.0 316.6h1.4v1.4h-1.4zM63.5 292.9h1.4v1.4h-1.4zM95.3 286.8h1.4v1.4h-1.4zM81.8 309.3h1.4v1.4h-1.4zM67.4 317.5h1.4v1.4h-1.4zM59.7 320.3h1.4v1.4h-1.4zM99.7 302.3h1.4v1.4h-1.4zM74.9 299.9h1.4v1.4h-1.4zM73.9 320.8h1.4v1.4h-1.4zM89.4 311.2h1.4v1.4h-1.4zM70.2 315.3h1.4v1.4h-1.4zM69.1 297.5h1.4v1.4h-1.4zM90.9 306.3h1.4v1.4h-1.4zM92.3 300.1h1.4v1.4h-1.4zM52.0 321.8h1.4v1.4h-1.4zM64.0 304.4h1.4v1.4h-1.4zM64.9 308.8h1.4v1.4h-1.4zM53.3 313.6h1.4v1.4h-1.4zM83.9 313.0h1.4v1.4h-1.4zM52.4 312.3h1.4v1.4h-1.4zM65.9 307.9h1.4v1.4h-1.4zM52.5 301.2h1.4v1.4h-1.4zM64.2 302.0h1.4v1.4h-1.4zM93.3 313.6h1.4v1.4h-1.4zM53.0 299.9h1.4v1.4h-1.4zM60.9 322.1h1.4v1.4h-1.4zM64.7 307.1h1.4v1.4h-1.4zM60.0 310.3h1.4v1.4h-1.4zM58.8 316.5h1.4v1.4h-1.4zM95.4 306.2h1.4v1.4h-1.4zM84.5 326.5h1.4v1.4h-1.4zM101.5 295.4h1.4v1.4h-1.4zM94.3 304.2h1.4v1.4h-1.4zM56.8 308.1h1.4v1.4h-1.4zM74.8 306.9h1.4v1.4h-1.4zM65.7 415.5h1.4v1.4h-1.4zM103.5 418.8h1.4v1.4h-1.4zM90.6 414.1h1.4v1.4h-1.4zM69.8 411.4h1.4v1.4h-1.4zM86.2 411.4h1.4v1.4h-1.4zM63.3 417.6h1.4v1.4h-1.4zM71.4 413.7h1.4v1.4h-1.4zM95.0 401.6h1.4v1.4h-1.4zM71.9 409.8h1.4v1.4h-1.4zM90.6 420.8h1.4v1.4h-1.4zM89.0 411.4h1.4v1.4h-1.4zM98.0 421.5h1.4v1.4h-1.4zM85.8 405.0h1.4v1.4h-1.4zM93.1 415.6h1.4v1.4h-1.4zM57.4 411.3h1.4v1.4h-1.4zM98.3 420.8h1.4v1.4h-1.4zM97.3 421.3h1.4v1.4h-1.4zM100.4 411.9h1.4v1.4h-1.4zM66.3 409.4h1.4v1.4h-1.4zM68.5 416.7h1.4v1.4h-1.4zM57.6 421.0h1.4v1.4h-1.4zM81.9 411.2h1.4v1.4h-1.4zM59.8 414.8h1.4v1.4h-1.4zM83.6 411.3h1.4v1.4h-1.4zM64.8 413.7h1.4v1.4h-1.4zM93.5 418.1h1.4v1.4h-1.4zM57.1 431.9h1.4v1.4h-1.4zM81.9 412.0h1.4v1.4h-1.4zM87.0 397.8h1.4v1.4h-1.4zM87.8 404.7h1.4v1.4h-1.4zM93.7 401.6h1.4v1.4h-1.4zM97.3 403.3h1.4v1.4h-1.4zM69.2 411.8h1.4v1.4h-1.4zM99.2 418.7h1.4v1.4h-1.4zM82.8 406.7h1.4v1.4h-1.4zM93.5 420.8h1.4v1.4h-1.4zM64.3 409.9h1.4v1.4h-1.4zM102.9 411.0h1.4v1.4h-1.4zM76.6 428.2h1.4v1.4h-1.4zM93.8 418.0h1.4v1.4h-1.4zM92.8 401.3h1.4v1.4h-1.4zM52.9 433.2h1.4v1.4h-1.4zM59.9 429.6h1.4v1.4h-1.4zM58.4 406.6h1.4v1.4h-1.4zM59.8 417.7h1.4v1.4h-1.4zM68.5 420.2h1.4v1.4h-1.4zM101.9 416.7h1.4v1.4h-1.4zM66.6 428.3h1.4v1.4h-1.4zM97.1 419.3h1.4v1.4h-1.4zM58.4 407.4h1.4v1.4h-1.4zM74.2 421.5h1.4v1.4h-1.4zM57.5 425.0h1.4v1.4h-1.4zM102.1 413.4h1.4v1.4h-1.4zM65.1 419.7h1.4v1.4h-1.4zM79.0 428.9h1.4v1.4h-1.4zM72.5 418.5h1.4v1.4h-1.4zM57.2 431.0h1.4v1.4h-1.4zM68.3 419.2h1.4v1.4h-1.4zM62.3 432.9h1.4v1.4h-1.4zM70.9 418.4h1.4v1.4h-1.4zM63.3 417.3h1.4v1.4h-1.4zM63.4 419.5h1.4v1.4h-1.4zM82.4 409.3h1.4v1.4h-1.4zM52.9 441.3h1.4v1.4h-1.4zM55.1 421.9h1.4v1.4h-1.4zM70.1 418.6h1.4v1.4h-1.4zM102.6 411.9h1.4v1.4h-1.4zM94.7 401.2h1.4v1.4h-1.4zM88.2 418.3h1.4v1.4h-1.4zM52.5 424.5h1.4v1.4h-1.4zM95.4 424.2h1.4v1.4h-1.4zM75.7 417.2h1.4v1.4h-1.4zM103.6 399.3h1.4v1.4h-1.4zM59.7 424.9h1.4v1.4h-1.4zM82.4 410.4h1.4v1.4h-1.4zM96.6 414.0h1.4v1.4h-1.4zM92.4 428.3h1.4v1.4h-1.4zM79.0 421.0h1.4v1.4h-1.4zM72.7 428.1h1.4v1.4h-1.4zM78.0 415.5h1.4v1.4h-1.4zM69.5 418.0h1.4v1.4h-1.4zM54.2 406.6h1.4v1.4h-1.4zM68.3 422.1h1.4v1.4h-1.4zM88.2 420.9h1.4v1.4h-1.4zM70.3 419.5h1.4v1.4h-1.4zM94.6 411.9h1.4v1.4h-1.4zM104.2 421.4h1.4v1.4h-1.4zM102.9 417.2h1.4v1.4h-1.4zM98.6 404.7h1.4v1.4h-1.4zM102.1 412.1h1.4v1.4h-1.4zM72.4 417.7h1.4v1.4h-1.4zM90.1 424.6h1.4v1.4h-1.4zM82.5 424.7h1.4v1.4h-1.4zM66.1 421.0h1.4v1.4h-1.4zM66.9 425.2h1.4v1.4h-1.4zM65.3 430.9h1.4v1.4h-1.4zM80.7 405.2h1.4v1.4h-1.4zM86.3 422.0h1.4v1.4h-1.4zM95.1 410.3h1.4v1.4h-1.4zM98.2 415.3h1.4v1.4h-1.4zM52.6 408.9h1.4v1.4h-1.4zM92.3 424.6h1.4v1.4h-1.4zM62.0 426.0h1.4v1.4h-1.4zM77.1 414.1h1.4v1.4h-1.4zM64.0 426.2h1.4v1.4h-1.4zM54.4 420.4h1.4v1.4h-1.4zM62.1 413.5h1.4v1.4h-1.4zM78.8 421.3h1.4v1.4h-1.4zM67.6 423.4h1.4v1.4h-1.4zM90.8 416.2h1.4v1.4h-1.4zM64.8 413.5h1.4v1.4h-1.4zM84.4 413.9h1.4v1.4h-1.4zM78.1 418.5h1.4v1.4h-1.4zM90.1 408.1h1.4v1.4h-1.4zM60.6 419.9h1.4v1.4h-1.4zM75.7 412.8h1.4v1.4h-1.4zM98.3 414.3h1.4v1.4h-1.4zM91.0 408.9h1.4v1.4h-1.4zM90.9 412.4h1.4v1.4h-1.4zM84.0 407.9h1.4v1.4h-1.4zM98.3 411.8h1.4v1.4h-1.4zM95.6 399.1h1.4v1.4h-1.4zM57.1 425.3h1.4v1.4h-1.4zM99.1 429.0h1.4v1.4h-1.4zM79.4 432.6h1.4v1.4h-1.4zM91.4 411.9h1.4v1.4h-1.4zM56.6 420.0h1.4v1.4h-1.4zM52.4 432.7h1.4v1.4h-1.4zM64.6 431.4h1.4v1.4h-1.4zM70.6 410.8h1.4v1.4h-1.4zM76.3 414.7h1.4v1.4h-1.4zM89.9 406.5h1.4v1.4h-1.4zM87.9 418.2h1.4v1.4h-1.4zM57.3 417.6h1.4v1.4h-1.4zM83.4 397.4h1.4v1.4h-1.4zM101.6 419.1h1.4v1.4h-1.4zM100.3 419.0h1.4v1.4h-1.4zM89.5 414.8h1.4v1.4h-1.4zM78.9 415.6h1.4v1.4h-1.4zM81.1 409.5h1.4v1.4h-1.4zM82.8 399.9h1.4v1.4h-1.4zM85.2 402.5h1.4v1.4h-1.4zM84.8 415.4h1.4v1.4h-1.4zM81.7 425.4h1.4v1.4h-1.4zM72.8 428.1h1.4v1.4h-1.4zM85.0 408.8h1.4v1.4h-1.4zM61.1 430.1h1.4v1.4h-1.4zM80.9 426.4h1.4v1.4h-1.4zM78.4 409.6h1.4v1.4h-1.4zM93.9 410.2h1.4v1.4h-1.4zM82.7 417.8h1.4v1.4h-1.4zM95.0 410.1h1.4v1.4h-1.4zM70.8 428.1h1.4v1.4h-1.4zM89.9 432.8h1.4v1.4h-1.4zM53.7 428.2h1.4v1.4h-1.4zM95.9 400.4h1.4v1.4h-1.4zM73.0 414.3h1.4v1.4h-1.4zM97.6 419.5h1.4v1.4h-1.4zM62.7 428.5h1.4v1.4h-1.4zM92.7 419.6h1.4v1.4h-1.4zM92.6 410.0h1.4v1.4h-1.4zM78.9 426.4h1.4v1.4h-1.4zM86.5 408.7h1.4v1.4h-1.4zM67.2 417.1h1.4v1.4h-1.4zM59.6 419.6h1.4v1.4h-1.4zM56.3 415.0h1.4v1.4h-1.4zM90.4 420.1h1.4v1.4h-1.4zM85.0 401.0h1.4v1.4h-1.4zM69.1 415.5h1.4v1.4h-1.4zM101.1 412.4h1.4v1.4h-1.4zM84.6 413.1h1.4v1.4h-1.4zM83.3 433.0h1.4v1.4h-1.4zM94.4 411.6h1.4v1.4h-1.4zM59.1 418.7h1.4v1.4h-1.4zM90.3 416.3h1.4v1.4h-1.4zM78.8 416.3h1.4v1.4h-1.4zM84.1 434.5h1.4v1.4h-1.4zM67.9 421.1h1.4v1.4h-1.4zM69.6 421.5h1.4v1.4h-1.4zM71.4 398.3h1.4v1.4h-1.4zM81.8 418.4h1.4v1.4h-1.4zM78.4 407.7h1.4v1.4h-1.4zM84.1 415.5h1.4v1.4h-1.4zM101.4 430.8h1.4v1.4h-1.4zM63.7 418.5h1.4v1.4h-1.4zM84.8 403.7h1.4v1.4h-1.4zM79.8 404.0h1.4v1.4h-1.4zM53.0 428.7h1.4v1.4h-1.4zM67.7 402.2h1.4v1.4h-1.4zM82.9 416.8h1.4v1.4h-1.4zM82.4 416.4h1.4v1.4h-1.4zM70.7 441.3h1.4v1.4h-1.4zM99.2 406.7h1.4v1.4h-1.4zM96.3 409.0h1.4v1.4h-1.4zM90.3 416.4h1.4v1.4h-1.4zM88.7 415.9h1.4v1.4h-1.4zM62.6 409.5h1.4v1.4h-1.4zM99.7 413.7h1.4v1.4h-1.4zM79.4 402.5h1.4v1.4h-1.4zM95.9 406.0h1.4v1.4h-1.4zM63.9 408.2h1.4v1.4h-1.4zM75.6 439.0h1.4v1.4h-1.4zM80.9 432.2h1.4v1.4h-1.4zM95.8 419.9h1.4v1.4h-1.4zM60.9 424.4h1.4v1.4h-1.4zM72.2 414.1h1.4v1.4h-1.4zM63.8 412.2h1.4v1.4h-1.4zM98.0 411.1h1.4v1.4h-1.4zM63.2 423.5h1.4v1.4h-1.4zM64.3 427.6h1.4v1.4h-1.4zM75.5 420.4h1.4v1.4h-1.4zM54.9 428.6h1.4v1.4h-1.4zM62.0 424.4h1.4v1.4h-1.4zM100.6 424.1h1.4v1.4h-1.4zM68.0 422.4h1.4v1.4h-1.4zM57.7 410.8h1.4v1.4h-1.4zM95.1 406.7h1.4v1.4h-1.4zM97.3 401.2h1.4v1.4h-1.4zM100.3 419.2h1.4v1.4h-1.4zM74.7 416.1h1.4v1.4h-1.4zM86.6 417.7h1.4v1.4h-1.4zM100.7 411.7h1.4v1.4h-1.4zM62.4 412.8h1.4v1.4h-1.4zM83.3 407.0h1.4v1.4h-1.4zM103.3 414.8h1.4v1.4h-1.4zM74.4 415.8h1.4v1.4h-1.4zM97.9 423.0h1.4v1.4h-1.4zM78.1 425.2h1.4v1.4h-1.4zM103.6 415.5h1.4v1.4h-1.4zM79.5 421.3h1.4v1.4h-1.4zM57.3 416.2h1.4v1.4h-1.4zM91.0 421.3h1.4v1.4h-1.4zM85.0 427.9h1.4v1.4h-1.4zM74.9 410.4h1.4v1.4h-1.4zM76.9 404.3h1.4v1.4h-1.4zM71.0 401.5h1.4v1.4h-1.4zM82.4 404.0h1.4v1.4h-1.4zM78.5 429.9h1.4v1.4h-1.4zM82.5 425.7h1.4v1.4h-1.4zM80.3 412.0h1.4v1.4h-1.4zM75.9 412.9h1.4v1.4h-1.4zM79.3 418.0h1.4v1.4h-1.4zM61.6 434.0h1.4v1.4h-1.4zM68.2 412.2h1.4v1.4h-1.4zM61.8 417.7h1.4v1.4h-1.4zM93.6 429.2h1.4v1.4h-1.4zM101.2 424.8h1.4v1.4h-1.4zM76.5 404.4h1.4v1.4h-1.4zM67.2 417.6h1.4v1.4h-1.4zM52.1 420.0h1.4v1.4h-1.4zM78.1 417.6h1.4v1.4h-1.4zM93.1 415.2h1.4v1.4h-1.4zM86.3 434.9h1.4v1.4h-1.4zM83.7 407.2h1.4v1.4h-1.4zM103.1 406.8h1.4v1.4h-1.4zM74.5 407.8h1.4v1.4h-1.4zM54.6 414.5h1.4v1.4h-1.4zM78.6 422.6h1.4v1.4h-1.4zM99.4 421.7h1.4v1.4h-1.4zM64.0 408.5h1.4v1.4h-1.4zM78.6 408.4h1.4v1.4h-1.4zM85.3 414.8h1.4v1.4h-1.4zM89.9 411.4h1.4v1.4h-1.4zM92.3 417.7h1.4v1.4h-1.4zM99.1 401.6h1.4v1.4h-1.4zM77.1 433.6h1.4v1.4h-1.4zM98.5 436.2h1.4v1.4h-1.4zM83.3 417.2h1.4v1.4h-1.4zM98.9 428.4h1.4v1.4h-1.4zM76.4 407.6h1.4v1.4h-1.4zM72.9 410.7h1.4v1.4h-1.4zM85.7 421.4h1.4v1.4h-1.4zM54.2 417.9h1.4v1.4h-1.4zM76.8 427.6h1.4v1.4h-1.4zM56.5 428.9h1.4v1.4h-1.4zM67.4 433.4h1.4v1.4h-1.4zM101.9 404.7h1.4v1.4h-1.4zM53.8 405.5h1.4v1.4h-1.4zM78.1 401.7h1.4v1.4h-1.4zM98.7 420.3h1.4v1.4h-1.4zM98.7 403.4h1.4v1.4h-1.4zM86.3 415.7h1.4v1.4h-1.4zM86.9 428.3h1.4v1.4h-1.4zM64.3 419.5h1.4v1.4h-1.4zM62.5 423.1h1.4v1.4h-1.4zM78.1 416.1h1.4v1.4h-1.4zM92.5 414.5h1.4v1.4h-1.4zM59.5 428.9h1.4v1.4h-1.4zM71.3 420.6h1.4v1.4h-1.4zM78.2 413.7h1.4v1.4h-1.4zM54.2 431.2h1.4v1.4h-1.4zM87.1 402.2h1.4v1.4h-1.4zM88.4 416.5h1.4v1.4h-1.4zM52.8 410.7h1.4v1.4h-1.4zM93.6 397.9h1.4v1.4h-1.4zM95.3 413.1h1.4v1.4h-1.4z"/>
<path fill="#e44444" d="M237.7 179.7h1.6v1.6h-1.6zM116.6 189.2h1.6v1.6h-1.6zM154.8 193.3h1.6v1.6h-1.6zM259.7 190.0h1.6v1.6h-1.6zM233.8 199.1h1.6v1.6h-1.6zM235.9 187.8h1.6v1.6h-1.6zM286.8 178.5h1.6v1.6h-1.6zM160.2 189.0h1.6v1.6h-1.6zM142.9 199.6h1.6v1.6h-1.6zM247.9 179.8h1.6v1.6h-1.6zM233.5 179.0h1.6v1.6h-1.6zM195.9 185.1h1.6v1.6h-1.6zM197.3 195.4h1.6v1.6h-1.6zM283.6 183.2h1.6v1.6h-1.6zM136.3 197.2h1.6v1.6h-1.6zM148.3 200.0h1.6v1.6h-1.6zM128.3 195.6h1.6v1.6h-1.6zM222.1 184.8h1.6v1.6h-1.6zM277.0 187.4h1.6v1.6h-1.6zM140.6 193.4h1.6v1.6h-1.6zM188.7 196.9h1.6v1.6h-1.6zM215.5 190.7h1.6v1.6h-1.6zM158.5 205.8h1.6v1.6h-1.6zM287.0 180.4h1.6v1.6h-1.6zM136.7 192.7h1.6v1.6h-1.6zM175.3 189.1h1.6v1.6h-1.6zM126.9 205.1h1.6v1.6h-1.6zM152.0 196.5h1.6v1.6h-1.6zM163.7 195.7h1.6v1.6h-1.6zM136.3 200.7h1.6v1.6h-1.6zM216.1 194.5h1.6v1.6h-1.6zM134.7 198.9h1.6v1.6h-1.6zM158.8 191.5h1.6v1.6h-1.6zM218.9 190.3h1.6v1.6h-1.6zM120.0 196.9h1.6v1.6h-1.6zM267.7 187.2h1.6v1.6h-1.6zM124.1 195.4h1.6v1.6h-1.6zM134.7 196.1h1.6v1.6h-1.6zM279.3 183.4h1.6v1.6h-1.6zM168.7 195.9h1.6v1.6h-1.6zM154.5 187.4h1.6v1.6h-1.6zM158.3 203.8h1.6v1.6h-1.6zM236.7 179.3h1.6v1.6h-1.6zM262.8 185.0h1.6v1.6h-1.6zM236.5 179.3h1.6v1.6h-1.6zM213.2 195.8h1.6v1.6h-1.6zM213.0 185.9h1.6v1.6h-1.6zM248.2 192.1h1.6v1.6h-1.6zM201.2 189.5h1.6v1.6h-1.6zM199.4 184.3h1.6v1.6h-1.6zM166.0 190.8h1.6v1.6h-1.6zM223.4 192.3h1.6v1.6h-1.6zM275.0 184.2h1.6v1.6h-1.6zM113.2 193.2h1.6v1.6h-1.6zM260.4 191.8h1.6v1.6h-1.6zM282.3 176.1h1.6v1.6h-1.6zM136.4 191.3h1.6v1.6h-1.6zM120.9 199.3h1.6v1.6h-1.6zM189.1 190.2h1.6v1.6h-1.6zM244.1 189.6h1.6v1.6h-1.6zM189.7 203.2h1.6v1.6h-1.6zM151.6 195.1h1.6v1.6h-1.6zM139.2 200.2h1.6v1.6h-1.6zM115.9 204.4h1.6v1.6h-1.6zM176.9 190.0h1.6v1.6h-1.6zM194.2 191.4h1.6v1.6h-1.6zM146.1 197.3h1.6v1.6h-1.6zM142.6 203.7h1.6v1.6h-1.6zM201.3 186.8h1.6v1.6h-1.6zM168.0 193.6h1.6v1.6h-1.6zM118.5 194.1h1.6v1.6h-1.6zM252.1 183.0h1.6v1.6h-1.6zM152.0 194.0h1.6v1.6h-1.6zM134.3 199.5h1.6v1.6h-1.6zM130.4 197.8h1.6v1.6h-1.6zM181.8 195.0h1.6v1.6h-1.6zM169.2 191.2h1.6v1.6h-1.6zM200.6 196.6h1.6v1.6h-1.6zM127.7 202.1h1.6v1.6h-1.6zM196.0 189.0h1.6v1.6h-1.6zM168.2 192.4h1.6v1.6h-1.6zM180.0 189.0h1.6v1.6h-1.6zM146.7 192.8h1.6v1.6h-1.6zM268.9 189.3h1.6v1.6h-1.6zM123.2 201.4h1.6v1.6h-1.6zM147.6 195.5h1.6v1.6h-1.6zM121.9 203.0h1.6v1.6h-1.6zM116.5 205.2h1.6v1.6h-1.6zM180.9 187.4h1.6v1.6h-1.6zM185.1 195.5h1.6v1.6h-1.6zM254.6 192.4h1.6v1.6h-1.6zM261.8 190.5h1.6v1.6h-1.6zM117.5 199.8h1.6v1.6h-1.6zM119.2 206.5h1.6v1.6h-1.6zM118.2 208.8h1.6v1.6h-1.6zM189.4 193.4h1.6v1.6h-1.6zM118.8 197.7h1.6v1.6h-1.6zM263.4 187.8h1.6v1.6h-1.6zM140.2 203.7h1.6v1.6h-1.6zM272.6 171.6h1.6v1.6h-1.6zM252.5 181.4h1.6v1.6h-1.6zM171.3 187.8h1.6v1.6h-1.6zM153.0 192.0h1.6v1.6h-1.6zM187.4 196.1h1.6v1.6h-1.6zM269.9 188.2h1.6v1.6h-1.6zM223.2 183.6h1.6v1.6h-1.6zM256.9 187.7h1.6v1.6h-1.6zM209.2 185.4h1.6v1.6h-1.6zM229.5 198.3h1.6v1.6h-1.6zM278.8 180.2h1.6v1.6h-1.6zM207.1 190.5h1.6v1.6h-1.6zM276.3 183.0h1.6v1.6h-1.6zM209.5 194.7h1.6v1.6h-1.6zM119.3 193.5h1.6v1.6h-1.6zM172.6 199.8h1.6v1.6h-1.6zM130.6 200.9h1.6v1.6h-1.6zM127.2 200.9h1.6v1.6h-1.6zM238.5 187.1h1.6v1.6h-1.6zM154.4 200.7h1.6v1.6h-1.6zM143.2 192.0h1.6v1.6h-1.6zM115.5 203.6h1.6v1.6h-1.6zM134.9 195.7h1.6v1.6h-1.6zM220.1 186.0h1.6v1.6h-1.6zM198.4 192.5h1.6v1.6h-1.6zM193.5 202.5h1.6v1.6h-1.6zM119.4 198.2h1.6v1.6h-1.6zM171.8 195.3h1.6v1.6h-1.6zM170.0 190.4h1.6v1.6h-1.6zM133.7 189.7h1.6v1.6h-1.6zM210.7 184.6h1.6v1.6h-1.6zM231.5 187.5h1.6v1.6h-1.6zM271.2 189.0h1.6v1.6h-1.6zM268.2 190.9h1.6v1.6h-1.6zM219.1 190.3h1.6v1.6h-1.6zM188.7 182.9h1.6v1.6h-1.6zM149.5 197.9h1.6v1.6h-1.6zM257.0 185.0h1.6v1.6h-1.6zM146.8 188.7h1.6v1.6h-1.6zM201.1 191.4h1.6v1.6h-1.6zM249.7 193.2h1.6v1.6h-1.6zM165.0 196.6h1.6v1.6h-1.6zM267.8 187.4h1.6v1.6h-1.6zM127.4 199.4h1.6v1.6h-1.6zM226.2 192.0h1.6v1.6h-1.6zM252.0 191.6h1.6v1.6h-1.6zM211.5 194.3h1.6v1.6h-1.6zM189.3 180.4h1.6v1.6h-1.6zM118.6 201.7h1.6v1.6h-1.6zM260.2 185.0h1.6v1.6h-1.6zM110.2 205.0h1.6v1.6h-1.6zM184.1 187.4h1.6v1.6h-1.6zM179.4 193.0h1.6v1.6h-1.6zM278.3 187.2h1.6v1.6h-1.6zM192.8 187.7h1.6v1.6h-1.6zM153.1 190.9h1.6v1.6h-1.6zM135.1 189.4h1.6v1.6h-1.6zM158.3 194.5h1.6v1.6h-1.6zM148.3 192.5h1.6v1.6h-1.6zM151.4 198.3h1.6v1.6h-1.6zM128.7 195.7h1.6v1.6h-1.6zM264.9 191.3h1.6v1.6h-1.6zM154.9 192.9h1.6v1.6h-1.6zM229.9 181.4h1.6v1.6h-1.6zM158.3 197.9h1.6v1.6h-1.6zM126.7 202.1h1.6v1.6h-1.6zM233.1 180.5h1.6v1.6h-1.6zM168.6 200.8h1.6v1.6h-1.6zM208.7 191.6h1.6v1.6h-1.6zM157.8 196.7h1.6v1.6h-1.6zM263.5 187.9h1.6v1.6h-1.6zM143.4 193.3h1.6v1.6h-1.6zM145.3 191.8h1.6v1.6h-1.6zM240.9 185.6h1.6v1.6h-1.6zM262.8 185.5h1.6v1.6h-1.6zM142.3 191.5h1.6v1.6h-1.6zM155.4 194.9h1.6v1.6h-1.6zM157.6 185.8h1.6v1.6h-1.6zM221.3 193.7h1.6v1.6h-1.6zM175.9 197.4h1.6v1.6h-1.6zM211.6 184.9h1.6v1.6h-1.6zM238.4 184.5h1.6v1.6h-1.6zM142.2 197.2h1.6v1.6h-1.6zM131.2 191.0h1.6v1.6h-1.6zM176.8 204.3h1.6v1.6h-1.6zM108.9 200.5h1.6v1.6h-1.6zM283.3 183.9h1.6v1.6h-1.6zM121.8 198.3h1.6v1.6h-1.6zM166.1 192.5h1.6v1.6h-1.6zM199.0 186.2h1.6v1.6h-1.6zM199.7 188.8h1.6v1.6h-1.6zM217.7 182.3h1.6v1.6h-1.6zM113.6 195.2h1.6v1.6h-1.6zM117.8 193.6h1.6v1.6h-1.6zM149.4 202.2h1.6v1.6h-1.6zM227.0 188.7h1.6v1.6h-1.6zM173.1 192.5h1.6v1.6h-1.6zM142.2 197.3h1.6v1.6h-1.6zM174.8 192.0h1.6v1.6h-1.6zM172.9 184.9h1.6v1.6h-1.6zM171.2 197.4h1.6v1.6h-1.6zM218.8 196.4h1.6v1.6h-1.6zM122.1 197.2h1.6v1.6h-1.6zM242.2 185.5h1.6v1.6h-1.6zM122.3 207.0h1.6v1.6h-1.6zM148.5 194.4h1.6v1.6h-1.6zM186.5 197.1h1.6v1.6h-1.6zM224.2 190.3h1.6v1.6h-1.6zM204.9 194.8h1.6v1.6h-1.6zM246.9 192.7h1.6v1.6h-1.6zM166.7 200.2h1.6v1.6h-1.6zM257.3 193.0h1.6v1.6h-1.6zM223.4 179.2h1.6v1.6h-1.6zM250.7 191.3h1.6v1.6h-1.6zM204.6 199.6h1.6v1.6h-1.6zM195.8 184.7h1.6v1.6h-1.6zM193.8 190.1h1.6v1.6h-1.6zM274.3 177.4h1.6v1.6h-1.6zM158.0 202.0h1.6v1.6h-1.6zM156.2 201.1h1.6v1.6h-1.6zM160.2 196.7h1.6v1.6h-1.6zM149.5 203.9h1.6v1.6h-1.6zM285.7 174.4h1.6v1.6h-1.6zM154.6 197.9h1.6v1.6h-1.6zM162.9 184.1h1.6v1.6h-1.6zM227.7 199.1h1.6v1.6h-1.6zM149.2 190.7h1.6v1.6h-1.6zM241.6 195.7h1.6v1.6h-1.6zM193.4 186.6h1.6v1.6h-1.6zM256.6 186.5h1.6v1.6h-1.6zM190.8 190.3h1.6v1.6h-1.6zM107.7 199.5h1.6v1.6h-1.6zM183.8 194.4h1.6v1.6h-1.6zM220.4 194.2h1.6v1.6h-1.6zM118.4 205.0h1.6v1.6h-1.6zM117.8 204.1h1.6v1.6h-1.6zM142.5 195.9h1.6v1.6h-1.6zM107.5 202.6h1.6v1.6h-1.6zM170.1 195.2h1.6v1.6h-1.6zM193.1 189.3h1.6v1.6h-1.6zM272.6 178.1h1.6v1.6h-1.6zM124.2 199.0h1.6v1.6h-1.6zM111.3 201.0h1.6v1.6h-1.6zM185.1 188.0h1.6v1.6h-1.6zM161.0 205.9h1.6v1.6h-1.6zM172.2 193.6h1.6v1.6h-1.6zM249.2 182.9h1.6v1.6h-1.6zM213.8 187.1h1.6v1.6h-1.6zM118.2 188.2h1.6v1.6h-1.6zM142.5 195.8h1.6v1.6h-1.6zM220.2 190.1h1.6v1.6h-1.6zM200.9 203.1h1.6v1.6h-1.6zM241.6 189.1h1.6v1.6h-1.6zM163.6 195.9h1.6v1.6h-1.6zM195.2 195.5h1.6v1.6h-1.6zM190.2 201.8h1.6v1.6h-1.6zM230.0 191.1h1.6v1.6h-1.6zM146.8 199.2h1.6v1.6h-1.6zM123.7 212.1h1.6v1.6h-1.6zM133.7 192.5h1.6v1.6h-1.6zM215.2 191.8h1.6v1.6h-1.6zM227.1 189.6h1.6v1.6h-1.6zM211.8 195.6h1.6v1.6h-1.6zM196.5 192.6h1.6v1.6h-1.6zM206.3 185.4h1.6v1.6h-1.6zM144.5 190.2h1.6v1.6h-1.6zM218.7 189.3h1.6v1.6h-1.6zM140.3 192.7h1.6v1.6h-1.6zM138.0 199.2h1.6v1.6h-1.6zM136.8 202.4h1.6v1.6h-1.6zM210.4 184.7h1.6v1.6h-1.6zM214.3 191.0h1.6v1.6h-1.6zM169.5 192.6h1.6v1.6h-1.6zM163.6 190.4h1.6v1.6h-1.6zM134.1 194.1h1.6v1.6h-1.6zM207.5 198.0h1.6v1.6h-1.6zM135.7 198.6h1.6v1.6h-1.6zM241.7 187.0h1.6v1.6h-1.6zM121.9 204.1h1.6v1.6h-1.6zM232.5 183.9h1.6v1.6h-1.6zM171.1 197.1h1.6v1.6h-1.6zM133.3 194.1h1.6v1.6h-1.6zM129.7 197.1h1.6v1.6h-1.6zM180.0 184.8h1.6v1.6h-1.6zM172.6 193.7h1.6v1.6h-1.6zM181.9 190.9h1.6v1.6h-1.6zM117.3 193.0h1.6v1.6h-1.6zM219.9 196.5h1.6v1.6h-1.6zM217.8 189.3h1.6v1.6h-1.6zM260.4 187.9h1.6v1.6h-1.6zM176.4 193.1h1.6v1.6h-1.6zM185.7 192.6h1.6v1.6h-1.6zM216.1 188.7h1.6v1.6h-1.6zM207.1 186.6h1.6v1.6h-1.6zM114.0 200.8h1.6v1.6h-1.6zM146.8 199.7h1.6v1.6h-1.6zM113.5 188.9h1.6v1.6h-1.6zM266.3 179.4h1.6v1.6h-1.6zM156.3 206.2h1.6v1.6h-1.6zM255.3 185.5h1.6v1.6h-1.6zM138.3 204.6h1.6v1.6h-1.6zM123.8 210.1h1.6v1.6h-1.6zM275.6 181.2h1.6v1.6h-1.6zM270.7 188.1h1.6v1.6h-1.6zM142.2 198.5h1.6v1.6h-1.6zM281.9 183.9h1.6v1.6h-1.6zM110.1 189.6h1.6v1.6h-1.6zM193.1 188.7h1.6v1.6h-1.6zM119.1 199.1h1.6v1.6h-1.6zM110.9 205.0h1.6v1.6h-1.6zM121.2 204.9h1.6v1.6h-1.6zM211.2 197.2h1.6v1.6h-1.6zM160.8 191.8h1.6v1.6h-1.6zM263.4 181.1h1.6v1.6h-1.6zM182.9 191.1h1.6v1.6h-1.6zM215.2 197.9h1.6v1.6h-1.6zM178.9 193.1h1.6v1.6h-1.6zM153.1 191.7h1.6v1.6h-1.6zM115.0 189.8h1.6v1.6h-1.6zM153.9 190.5h1.6v1.6h-1.6zM278.5 185.5h1.6v1.6h-1.6zM241.3 184.5h1.6v1.6h-1.6zM201.6 193.6h1.6v1.6h-1.6zM177.9 190.1h1.6v1.6h-1.6zM270.1 181.2h1.6v1.6h-1.6zM138.7 190.2h1.6v1.6h-1.6zM275.3 184.9h1.6v1.6h-1.6zM203.3 188.5h1.6v1.6h-1.6zM280.9 183.6h1.6v1.6h-1.6zM218.1 193.2h1.6v1.6h-1.6zM208.6 189.9h1.6v1.6h-1.6zM192.4 196.2h1.6v1.6h-1.6zM265.7 184.2h1.6v1.6h-1.6zM164.5 195.1h1.6v1.6h-1.6zM245.9 193.6h1.6v1.6h-1.6zM143.7 192.2h1.6v1.6h-1.6zM167.5 192.1h1.6v1.6h-1.6zM232.3 190.6h1.6v1.6h-1.6zM184.6 191.2h1.6v1.6h-1.6zM191.1 192.0h1.6v1.6h-1.6zM146.7 199.8h1.6v1.6h-1.6zM162.4 191.8h1.6v1.6h-1.6zM250.3 191.4h1.6v1.6h-1.6zM184.6 191.8h1.6v1.6h-1.6zM108.9 210.4h1.6v1.6h-1.6zM229.1 187.8h1.6v1.6h-1.6zM219.1 192.9h1.6v1.6h-1.6zM261.1 188.8h1.6v1.6h-1.6zM114.1 201.5h1.6v1.6h-1.6zM254.0 178.9h1.6v1.6h-1.6zM114.0 190.5h1.6v1.6h-1.6zM177.1 182.4h1.6v1.6h-1.6zM239.0 189.1h1.6v1.6h-1.6zM111.8 201.2h1.6v1.6h-1.6zM121.4 203.6h1.6v1.6h-1.6zM159.7 192.2h1.6v1.6h-1.6zM111.0 204.5h1.6v1.6h-1.6zM209.2 189.8h1.6v1.6h-1.6zM122.0 196.3h1.6v1.6h-1.6zM223.5 187.4h1.6v1.6h-1.6zM176.5 199.3h1.6v1.6h-1.6zM111.9 200.4h1.6v1.6h-1.6zM124.0 198.6h1.6v1.6h-1.6zM193.6 196.2h1.6v1.6h-1.6zM198.1 195.2h1.6v1.6h-1.6zM149.6 193.4h1.6v1.6h-1.6zM161.3 199.7h1.6v1.6h-1.6zM188.3 186.7h1.6v1.6h-1.6zM157.9 203.5h1.6v1.6h-1.6zM121.8 195.1h1.6v1.6h-1.6zM236.3 184.0h1.6v1.6h-1.6zM192.3 197.5h1.6v1.6h-1.6zM285.0 182.9h1.6v1.6h-1.6zM202.6 191.2h1.6v1.6h-1.6zM147.2 189.1h1.6v1.6h-1.6zM279.8 188.0h1.6v1.6h-1.6zM182.9 202.6h1.6v1.6h-1.6zM231.4 196.6h1.6v1.6h-1.6zM123.0 193.9h1.6v1.6h-1.6zM168.4 198.3h1.6v1.6h-1.6zM115.5 196.6h1.6v1.6h-1.6zM253.6 187.7h1.6v1.6h-1.6zM211.4 185.5h1.6v1.6h-1.6zM273.9 180.3h1.6v1.6h-1.6zM141.6 193.4h1.6v1.6h-1.6zM135.7 189.9h1.6v1.6h-1.6zM201.1 199.5h1.6v1.6h-1.6zM213.9 188.1h1.6v1.6h-1.6zM115.2 212.4h1.6v1.6h-1.6zM117.6 200.2h1.6v1.6h-1.6zM185.1 190.8h1.6v1.6h-1.6zM162.2 190.4h1.6v1.6h-1.6zM179.6 204.5h1.6v1.6h-1.6zM107.6 199.9h1.6v1.6h-1.6zM196.9 192.7h1.6v1.6h-1.6zM170.6 199.9h1.6v1.6h-1.6zM232.1 197.7h1.6v1.6h-1.6zM285.5 185.9h1.6v1.6h-1.6zM215.0 188.9h1.6v1.6h-1.6zM210.4 192.4h1.6v1.6h-1.6zM210.3 186.2h1.6v1.6h-1.6zM140.7 186.0h1.6v1.6h-1.6zM147.8 202.8h1.6v1.6h-1.6zM159.8 194.9h1.6v1.6h-1.6zM167.0 190.1h1.6v1.6h-1.6zM128.8 205.1h1.6v1.6h-1.6zM162.4 193.2h1.6v1.6h-1.6zM173.7 201.5h1.6v1.6h-1.6zM158.7 195.6h1.6v1.6h-1.6zM224.4 188.0h1.6v1.6h-1.6zM157.6 198.5h1.6v1.6h-1.6zM244.5 190.8h1.6v1.6h-1.6zM128.5 199.8h1.6v1.6h-1.6zM112.0 198.5h1.6v1.6h-1.6zM228.6 189.6h1.6v1.6h-1.6zM278.8 193.1h1.6v1.6h-1.6zM251.8 186.0h1.6v1.6h-1.6zM272.7 180.0h1.6v1.6h-1.6zM165.9 193.3h1.6v1.6h-1.6zM140.3 201.9h1.6v1.6h-1.6zM112.5 201.2h1.6v1.6h-1.6zM113.6 196.5h1.6v1.6h-1.6zM122.9 193.8h1.6v1.6h-1.6zM185.3 193.7h1.6v1.6h-1.6zM281.9 193.4h1.6v1.6h-1.6zM258.4 170.9h1.6v1.6h-1.6zM133.1 197.9h1.6v1.6h-1.6zM273.6 185.5h1.6v1.6h-1.6zM142.7 204.7h1.6v1.6h-1.6zM241.5 182.3h1.6v1.6h-1.6zM111.6 194.5h1.6v1.6h-1.6zM263.5 191.7h1.6v1.6h-1.6zM251.7 190.5h1.6v1.6h-1.6zM257.0 184.8h1.6v1.6h-1.6zM151.7 185.3h1.6v1.6h-1.6zM216.4 191.9h1.6v1.6h-1.6zM269.0 186.4h1.6v1.6h-1.6zM194.8 188.9h1.6v1.6h-1.6zM161.7 196.5h1.6v1.6h-1.6zM152.5 188.1h1.6v1.6h-1.6zM242.1 192.7h1.6v1.6h-1.6zM111.5 197.5h1.6v1.6h-1.6zM136.3 194.5h1.6v1.6h-1.6zM164.5 192.9h1.6v1.6h-1.6zM131.2 197.4h1.6v1.6h-1.6zM120.0 196.3h1.6v1.6h-1.6zM158.3 194.9h1.6v1.6h-1.6zM223.7 190.2h1.6v1.6h-1.6zM147.0 200.5h1.6v1.6h-1.6zM107.7 193.0h1.6v1.6h-1.6zM217.5 192.2h1.6v1.6h-1.6zM153.2 202.1h1.6v1.6h-1.6zM115.3 201.3h1.6v1.6h-1.6zM207.0 191.1h1.6v1.6h-1.6zM245.9 192.3h1.6v1.6h-1.6zM205.5 189.7h1.6v1.6h-1.6zM204.4 196.2h1.6v1.6h-1.6zM181.2 195.0h1.6v1.6h-1.6zM255.2 173.5h1.6v1.6h-1.6zM133.0 197.4h1.6v1.6h-1.6zM116.3 203.2h1.6v1.6h-1.6zM185.1 199.6h1.6v1.6h-1.6zM235.5 187.5h1.6v1.6h-1.6zM214.8 188.4h1.6v1.6h-1.6zM242.8 187.0h1.6v1.6h-1.6zM203.8 186.7h1.6v1.6h-1.6zM135.0 206.4h1.6v1.6h-1.6zM140.6 197.0h1.6v1.6h-1.6zM184.1 186.4h1.6v1.6h-1.6zM156.2 181.1h1.6v1.6h-1.6zM269.0 176.7h1.6v1.6h-1.6zM238.1 195.4h1.6v1.6h-1.6zM197.8 198.6h1.6v1.6h-1.6zM275.5 185.7h1.6v1.6h-1.6zM156.7 201.5h1.6v1.6h-1.6zM198.4 191.5h1.6v1.6h-1.6zM159.6 191.0h1.6v1.6h-1.6zM116.7 197.0h1.6v1.6h-1.6zM130.4 198.7h1.6v1.6h-1.6zM170.5 198.5h1.6v1.6h-1.6zM286.3 188.5h1.6v1.6h-1.6zM255.2 292.5h1.5v1.5h-1.5zM245.5 300.2h1.5v1.5h-1.5zM265.6 289.6h1.5v1.5h-1.5zM285.1 283.8h1.5v1.5h-1.5zM151.9 302.5h1.5v1.5h-1.5zM226.9 293.3h1.5v1.5h-1.5zM246.6 289.6h1.5v1.5h-1.5zM179.8 294.1h1.5v1.5h-1.5zM117.6 303.5h1.5v1.5h-1.5zM245.3 293.3h1.5v1.5h-1.5zM276.3 284.0h1.5v1.5h-1.5zM241.4 300.7h1.5v1.5h-1.5zM263.5 294.9h1.5v1.5h-1.5zM196.3 297.2h1.5v1.5h-1.5zM132.3 304.5h1.5v1.5h-1.5zM270.3 278.7h1.5v1.5h-1.5zM214.7 296.6h1.5v1.5h-1.5zM216.7 293.7h1.5v1.5h-1.5zM214.4 289.2h1.5v1.5h-1.5zM196.1 293.4h1.5v1.5h-1.5zM132.5 307.4h1.5v1.5h-1.5zM252.8 295.4h1.5v1.5h-1.5zM217.5 292.2h1.5v1.5h-1.5zM272.5 284.4h1.5v1.5h-1.5zM245.0 288.8h1.5v1.5h-1.5zM209.5 289.8h1.5v1.5h-1.5zM119.8 307.4h1.5v1.5h-1.5zM205.0 296.4h1.5v1.5h-1.5zM120.6 299.3h1.5v1.5h-1.5zM107.2 299.3h1.5v1.5h-1.5zM246.4 282.1h1.5v1.5h-1.5zM176.5 302.0h1.5v1.5h-1.5zM192.5 296.7h1.5v1.5h-1.5zM279.2 297.0h1.5v1.5h-1.5zM133.8 300.7h1.5v1.5h-1.5zM279.4 292.6h1.5v1.5h-1.5zM240.0 291.3h1.5v1.5h-1.5zM179.9 295.3h1.5v1.5h-1.5zM194.7 290.7h1.5v1.5h-1.5zM154.0 294.6h1.5v1.5h-1.5zM161.5 297.2h1.5v1.5h-1.5zM116.4 305.8h1.5v1.5h-1.5zM119.2 307.1h1.5v1.5h-1.5zM148.8 288.4h1.5v1.5h-1.5zM144.6 306.6h1.5v1.5h-1.5zM274.0 284.0h1.5v1.5h-1.5zM195.1 296.8h1.5v1.5h-1.5zM128.8 298.7h1.5v1.5h-1.5zM150.8 294.6h1.5v1.5h-1.5zM185.4 301.6h1.5v1.5h-1.5zM120.6 303.1h1.5v1.5h-1.5zM188.4 282.6h1.5v1.5h-1.5zM120.9 310.7h1.5v1.5h-1.5zM193.1 298.4h1.5v1.5h-1.5zM168.4 302.8h1.5v1.5h-1.5zM285.0 280.2h1.5v1.5h-1.5zM202.9 292.2h1.5v1.5h-1.5zM279.0 278.6h1.5v1.5h-1.5zM255.7 297.8h1.5v1.5h-1.5zM249.1 289.9h1.5v1.5h-1.5zM219.1 296.8h1.5v1.5h-1.5zM236.1 299.4h1.5v1.5h-1.5zM220.7 296.8h1.5v1.5h-1.5zM135.8 290.3h1.5v1.5h-1.5zM211.0 298.7h1.5v1.5h-1.5zM205.3 290.9h1.5v1.5h-1.5zM178.7 295.5h1.5v1.5h-1.5zM241.3 301.0h1.5v1.5h-1.5zM269.5 285.3h1.5v1.5h-1.5zM233.5 289.6h1.5v1.5h-1.5zM247.8 287.3h1.5v1.5h-1.5zM286.7 287.2h1.5v1.5h-1.5zM131.6 309.6h1.5v1.5h-1.5zM172.6 301.2h1.5v1.5h-1.5zM175.5 305.1h1.5v1.5h-1.5zM257.2 284.8h1.5v1.5h-1.5zM225.4 293.1h1.5v1.5h-1.5zM242.3 290.5h1.5v1.5h-1.5zM150.7 297.6h1.5v1.5h-1.5zM136.6 302.2h1.5v1.5h-1.5zM220.9 285.8h1.5v1.5h-1.5zM210.6 295.9h1.5v1.5h-1.5zM200.4 293.6h1.5v1.5h-1.5zM281.4 284.9h1.5v1.5h-1.5zM116.9 311.3h1.5v1.5h-1.5zM213.3 291.9h1.5v1.5h-1.5zM185.2 309.0h1.5v1.5h-1.5zM120.1 312.3h1.5v1.5h-1.5zM174.1 296.3h1.5v1.5h-1.5zM145.6 304.5h1.5v1.5h-1.5zM186.0 290.6h1.5v1.5h-1.5zM123.6 303.6h1.5v1.5h-1.5zM126.8 310.5h1.5v1.5h-1.5zM187.8 302.6h1.5v1.5h-1.5zM217.8 291.4h1.5v1.5h-1.5zM268.4 287.1h1.5v1.5h-1.5zM250.0 286.3h1.5v1.5h-1.5zM139.9 293.7h1.5v1.5h-1.5zM165.2 312.7h1.5v1.5h-1.5zM260.1 295.9h1.5v1.5h-1.5zM171.0 289.5h1.5v1.5h-1.5zM235.6 290.5h1.5v1.5h-1.5zM167.5 297.6h1.5v1.5h-1.5zM149.7 303.6h1.5v1.5h-1.5zM223.7 292.3h1.5v1.5h-1.5zM262.5 275.9h1.5v1.5h-1.5zM231.7 289.6h1.5v1.5h-1.5zM190.7 299.0h1.5v1.5h-1.5zM269.5 287.0h1.5v1.5h-1.5zM250.9 291.3h1.5v1.5h-1.5zM213.4 306.5h1.5v1.5h-1.5zM163.1 302.2h1.5v1.5h-1.5zM279.5 288.3h1.5v1.5h-1.5zM186.2 300.4h1.5v1.5h-1.5zM210.5 295.8h1.5v1.5h-1.5zM118.1 308.3h1.5v1.5h-1.5zM169.1 303.6h1.5v1.5h-1.5zM184.4 299.3h1.5v1.5h-1.5zM150.8 302.0h1.5v1.5h-1.5zM215.1 293.0h1.5v1.5h-1.5zM235.4 297.7h1.5v1.5h-1.5zM166.7 301.9h1.5v1.5h-1.5zM281.1 292.3h1.5v1.5h-1.5zM205.4 295.7h1.5v1.5h-1.5zM165.1 294.6h1.5v1.5h-1.5zM164.8 305.8h1.5v1.5h-1.5zM261.5 296.5h1.5v1.5h-1.5zM116.0 304.0h1.5v1.5h-1.5zM226.6 301.1h1.5v1.5h-1.5zM195.8 284.6h1.5v1.5h-1.5zM156.2 306.3h1.5v1.5h-1.5zM230.3 295.0h1.5v1.5h-1.5zM189.6 297.6h1.5v1.5h-1.5zM133.1 307.3h1.5v1.5h-1.5zM280.3 291.7h1.5v1.5h-1.5zM267.0 291.1h1.5v1.5h-1.5zM202.3 292.4h1.5v1.5h-1.5zM151.0 301.8h1.5v1.5h-1.5zM125.6 302.6h1.5v1.5h-1.5zM154.8 300.2h1.5v1.5h-1.5zM223.4 286.1h1.5v1.5h-1.5zM284.7 282.6h1.5v1.5h-1.5zM151.2 304.5h1.5v1.5h-1.5zM196.5 292.7h1.5v1.5h-1.5zM157.7 300.4h1.5v1.5h-1.5zM108.8 302.2h1.5v1.5h-1.5zM126.2 308.3h1.5v1.5h-1.5zM136.9 300.9h1.5v1.5h-1.5zM281.6 289.0h1.5v1.5h-1.5zM167.8 304.1h1.5v1.5h-1.5zM229.8 307.8h1.5v1.5h-1.5zM134.6 298.8h1.5v1.5h-1.5zM189.4 297.5h1.5v1.5h-1.5zM138.1 310.4h1.5v1.5h-1.5zM171.8 301.1h1.5v1.5h-1.5zM142.0 301.2h1.5v1.5h-1.5zM172.7 292.7h1.5v1.5h-1.5zM145.8 302.5h1.5v1.5h-1.5zM151.4 302.2h1.5v1.5h-1.5zM115.5 307.3h1.5v1.5h-1.5zM188.8 298.3h1.5v1.5h-1.5zM134.6 302.9h1.5v1.5h-1.5zM118.5 301.3h1.5v1.5h-1.5zM117.1 310.7h1.5v1.5h-1.5zM142.2 293.9h1.5v1.5h-1.5zM112.7 301.2h1.5v1.5h-1.5zM237.7 286.8h1.5v1.5h-1.5zM285.9 291.5h1.5v1.5h-1.5zM263.1 284.7h1.5v1.5h-1.5zM125.3 301.6h1.5v1.5h-1.5zM273.9 293.9h1.5v1.5h-1.5zM184.6 299.0h1.5v1.5h-1.5zM162.0 301.9h1.5v1.5h-1.5zM282.4 284.6h1.5v1.5h-1.5zM221.2 300.4h1.5v1.5h-1.5zM234.6 296.9h1.5v1.5h-1.5zM225.1 306.3h1.5v1.5h-1.5zM113.3 308.2h1.5v1.5h-1.5zM123.6 312.9h1.5v1.5h-1.5zM132.4 296.4h1.5v1.5h-1.5zM284.1 291.7h1.5v1.5h-1.5zM165.0 296.5h1.5v1.5h-1.5zM211.5 297.6h1.5v1.5h-1.5zM173.6 293.3h1.5v1.5h-1.5zM148.3 301.8h1.5v1.5h-1.5zM217.0 299.3h1.5v1.5h-1.5zM224.3 289.5h1.5v1.5h-1.5zM174.9 293.0h1.5v1.5h-1.5zM168.3 291.1h1.5v1.5h-1.5zM136.2 300.6h1.5v1.5h-1.5zM218.5 290.9h1.5v1.5h-1.5zM279.5 287.5h1.5v1.5h-1.5zM118.1 305.2h1.5v1.5h-1.5zM134.9 304.0h1.5v1.5h-1.5zM188.2 300.4h1.5v1.5h-1.5zM192.5 294.7h1.5v1.5h-1.5zM209.9 303.0h1.5v1.5h-1.5zM178.4 296.1h1.5v1.5h-1.5zM285.7 283.4h1.5v1.5h-1.5zM225.6 294.3h1.5v1.5h-1.5zM163.2 299.5h1.5v1.5h-1.5zM113.1 302.1h1.5v1.5h-1.5zM119.0 306.9h1.5v1.5h-1.5zM118.0 288.2h1.5v1.5h-1.5zM156.9 298.2h1.5v1.5h-1.5zM283.7 289.5h1.5v1.5h-1.5zM278.3 297.2h1.5v1.5h-1.5zM232.6 292.2h1.5v1.5h-1.5zM206.4 303.4h1.5v1.5h-1.5zM209.9 296.2h1.5v1.5h-1.5zM154.5 302.6h1.5v1.5h-1.5zM151.6 294.2h1.5v1.5h-1.5zM112.6 305.2h1.5v1.5h-1.5zM232.9 288.0h1.5v1.5h-1.5zM134.3 308.5h1.5v1.5h-1.5zM234.6 297.7h1.5v1.5h-1.5zM181.3 300.5h1.5v1.5h-1.5zM176.3 296.3h1.5v1.5h-1.5zM115.3 297.9h1.5v1.5h-1.5zM203.1 291.7h1.5v1.5h-1.5zM182.1 296.1h1.5v1.5h-1.5zM195.3 304.2h1.5v1.5h-1.5zM156.2 294.3h1.5v1.5h-1.5zM204.1 297.2h1.5v1.5h-1.5zM198.1 290.8h1.5v1.5h-1.5zM112.7 305.2h1.5v1.5h-1.5zM117.0 300.0h1.5v1.5h-1.5zM245.8 293.2h1.5v1.5h-1.5zM185.6 300.7h1.5v1.5h-1.5zM109.6 300.4h1.5v1.5h-1.5zM135.4 302.1h1.5v1.5h-1.5zM158.3 303.4h1.5v1.5h-1.5zM224.6 286.9h1.5v1.5h-1.5zM152.9 299.0h1.5v1.5h-1.5zM186.9 298.4h1.5v1.5h-1.5zM128.8 308.8h1.5v1.5h-1.5zM187.1 301.6h1.5v1.5h-1.5zM283.9 283.2h1.5v1.5h-1.5zM286.7 284.9h1.5v1.5h-1.5zM204.4 303.7h1.5v1.5h-1.5zM186.6 292.1h1.5v1.5h-1.5zM143.8 302.1h1.5v1.5h-1.5zM267.4 287.6h1.5v1.5h-1.5zM113.4 299.4h1.5v1.5h-1.5zM210.5 296.0h1.5v1.5h-1.5zM270.0 298.2h1.5v1.5h-1.5zM150.4 303.8h1.5v1.5h-1.5zM181.6 291.3h1.5v1.5h-1.5zM122.6 298.0h1.5v1.5h-1.5zM172.1 300.6h1.5v1.5h-1.5zM122.0 302.2h1.5v1.5h-1.5zM267.6 283.7h1.5v1.5h-1.5zM106.5 317.2h1.5v1.5h-1.5zM120.1 307.1h1.5v1.5h-1.5zM203.4 298.9h1.5v1.5h-1.5zM141.7 307.0h1.5v1.5h-1.5zM120.8 307.2h1.5v1.5h-1.5zM267.1 293.4h1.5v1.5h-1.5zM201.3 288.9h1.5v1.5h-1.5zM180.4 300.9h1.5v1.5h-1.5zM143.0 298.2h1.5v1.5h-1.5zM209.5 299.6h1.5v1.5h-1.5zM133.6 305.0h1.5v1.5h-1.5zM276.9 283.6h1.5v1.5h-1.5zM125.5 303.9h1.5v1.5h-1.5zM264.1 292.1h1.5v1.5h-1.5zM260.3 289.8h1.5v1.5h-1.5zM203.5 306.5h1.5v1.5h-1.5zM222.2 293.1h1.5v1.5h-1.5zM114.7 299.7h1.5v1.5h-1.5zM281.6 289.0h1.5v1.5h-1.5zM223.8 291.9h1.5v1.5h-1.5zM156.2 300.0h1.5v1.5h-1.5zM130.6 297.1h1.5v1.5h-1.5zM137.3 298.4h1.5v1.5h-1.5zM218.3 293.5h1.5v1.5h-1.5zM118.5 308.3h1.5v1.5h-1.5zM186.2 290.9h1.5v1.5h-1.5zM160.1 300.9h1.5v1.5h-1.5zM148.8 302.4h1.5v1.5h-1.5zM203.4 299.0h1.5v1.5h-1.5zM108.1 301.3h1.5v1.5h-1.5zM265.3 288.3h1.5v1.5h-1.5zM194.2 291.6h1.5v1.5h-1.5zM140.6 295.6h1.5v1.5h-1.5zM275.8 282.7h1.5v1.5h-1.5zM195.3 291.6h1.5v1.5h-1.5zM206.4 305.8h1.5v1.5h-1.5zM276.1 280.6h1.5v1.5h-1.5zM135.5 304.0h1.5v1.5h-1.5zM124.5 296.0h1.5v1.5h-1.5zM174.8 295.2h1.5v1.5h-1.5zM245.3 277.5h1.5v1.5h-1.5zM116.4 303.4h1.5v1.5h-1.5zM261.6 295.4h1.5v1.5h-1.5zM233.2 292.4h1.5v1.5h-1.5zM274.0 295.3h1.5v1.5h-1.5zM149.3 301.0h1.5v1.5h-1.5zM145.0 292.1h1.5v1.5h-1.5zM235.6 296.9h1.5v1.5h-1.5zM272.7 291.5h1.5v1.5h-1.5zM114.9 300.4h1.5v1.5h-1.5zM193.9 300.2h1.5v1.5h-1.5zM137.9 300.5h1.5v1.5h-1.5zM149.6 303.3h1.5v1.5h-1.5zM225.6 295.5h1.5v1.5h-1.5zM240.3 295.7h1.5v1.5h-1.5zM268.5 288.5h1.5v1.5h-1.5zM112.0 307.2h1.5v1.5h-1.5zM117.5 302.3h1.5v1.5h-1.5zM267.8 295.1h1.5v1.5h-1.5zM113.1 305.1h1.5v1.5h-1.5zM119.4 299.5h1.5v1.5h-1.5zM212.0 300.1h1.5v1.5h-1.5zM174.8 288.7h1.5v1.5h-1.5zM196.0 287.5h1.5v1.5h-1.5zM258.5 283.8h1.5v1.5h-1.5zM134.4 302.1h1.5v1.5h-1.5zM164.1 304.7h1.5v1.5h-1.5zM193.3 294.1h1.5v1.5h-1.5zM265.4 287.4h1.5v1.5h-1.5zM167.9 301.5h1.5v1.5h-1.5zM150.7 308.4h1.5v1.5h-1.5zM280.5 283.7h1.5v1.5h-1.5zM187.3 297.2h1.5v1.5h-1.5zM194.8 290.6h1.5v1.5h-1.5zM160.9 302.7h1.5v1.5h-1.5zM171.7 300.7h1.5v1.5h-1.5zM167.3 304.9h1.5v1.5h-1.5zM182.1 292.4h1.5v1.5h-1.5zM208.4 303.2h1.5v1.5h-1.5zM116.5 310.0h1.5v1.5h-1.5zM281.4 294.0h1.5v1.5h-1.5zM147.9 300.1h1.5v1.5h-1.5zM206.6 300.8h1.5v1.5h-1.5zM172.0 304.3h1.5v1.5h-1.5zM236.5 285.2h1.5v1.5h-1.5zM275.5 281.3h1.5v1.5h-1.5zM151.7 302.1h1.5v1.5h-1.5zM231.6 294.6h1.5v1.5h-1.5zM226.1 283.2h1.5v1.5h-1.5zM281.1 291.3h1.5v1.5h-1.5zM225.4 286.2h1.5v1.5h-1.5zM152.8 305.0h1.5v1.5h-1.5zM184.4 307.5h1.5v1.5h-1.5zM113.6 299.4h1.5v1.5h-1.5zM110.7 303.2h1.5v1.5h-1.5zM166.2 296.0h1.5v1.5h-1.5zM282.3 294.1h1.5v1.5h-1.5zM132.7 290.0h1.5v1.5h-1.5zM132.9 308.7h1.5v1.5h-1.5zM184.5 296.3h1.5v1.5h-1.5zM117.1 297.0h1.5v1.5h-1.5zM181.3 298.6h1.5v1.5h-1.5zM194.7 289.2h1.5v1.5h-1.5zM113.5 304.4h1.5v1.5h-1.5zM134.6 303.3h1.5v1.5h-1.5zM217.7 290.7h1.5v1.5h-1.5zM246.2 294.3h1.5v1.5h-1.5zM256.1 293.4h1.5v1.5h-1.5zM216.1 300.2h1.5v1.5h-1.5zM182.9 297.3h1.5v1.5h-1.5zM204.6 300.5h1.5v1.5h-1.5zM177.9 298.2h1.5v1.5h-1.5zM238.4 291.7h1.5v1.5h-1.5zM159.5 294.6h1.5v1.5h-1.5zM257.8 288.3h1.5v1.5h-1.5zM171.0 304.8h1.5v1.5h-1.5zM195.2 296.3h1.5v1.5h-1.5zM116.1 298.6h1.5v1.5h-1.5zM158.7 299.4h1.5v1.5h-1.5zM131.5 303.8h1.5v1.5h-1.5zM200.8 297.6h1.5v1.5h-1.5zM234.9 291.9h1.5v1.5h-1.5zM254.9 293.8h1.5v1.5h-1.5zM255.2 287.8h1.5v1.5h-1.5zM229.3 285.2h1.5v1.5h-1.5zM155.5 302.4h1.5v1.5h-1.5zM208.7 297.5h1.5v1.5h-1.5zM282.0 284.3h1.5v1.5h-1.5zM115.4 301.6h1.5v1.5h-1.5zM176.3 297.2h1.5v1.5h-1.5zM112.9 304.0h1.5v1.5h-1.5zM194.9 292.0h1.5v1.5h-1.5zM183.6 309.0h1.5v1.5h-1.5zM220.8 281.8h1.5v1.5h-1.5zM211.9 301.8h1.5v1.5h-1.5zM261.2 295.0h1.5v1.5h-1.5zM252.2 298.2h1.5v1.5h-1.5zM175.2 302.0h1.5v1.5h-1.5zM274.3 290.5h1.5v1.5h-1.5zM214.1 290.6h1.5v1.5h-1.5zM115.5 306.4h1.5v1.5h-1.5zM209.2 292.6h1.5v1.5h-1.5zM153.4 297.3h1.5v1.5h-1.5zM203.9 301.1h1.5v1.5h-1.5zM177.6 304.0h1.5v1.5h-1.5zM169.5 284.9h1.5v1.5h-1.5zM133.9 308.4h1.5v1.5h-1.5zM117.6 297.4h1.5v1.5h-1.5zM245.9 290.4h1.5v1.5h-1.5zM191.6 301.9h1.5v1.5h-1.5zM148.9 295.0h1.5v1.5h-1.5zM229.0 303.7h1.5v1.5h-1.5zM236.2 296.9h1.5v1.5h-1.5zM171.1 302.2h1.5v1.5h-1.5zM151.2 296.7h1.5v1.5h-1.5zM222.8 289.5h1.5v1.5h-1.5zM250.6 297.6h1.5v1.5h-1.5zM238.3 291.0h1.5v1.5h-1.5zM193.8 300.9h1.5v1.5h-1.5zM172.6 299.8h1.5v1.5h-1.5zM244.8 292.2h1.5v1.5h-1.5zM216.8 294.8h1.5v1.5h-1.5zM161.8 299.4h1.5v1.5h-1.5zM194.8 294.5h1.5v1.5h-1.5zM249.1 286.5h1.5v1.5h-1.5zM218.0 297.7h1.5v1.5h-1.5zM158.6 296.9h1.5v1.5h-1.5zM107.0 304.5h1.5v1.5h-1.5zM273.9 288.5h1.5v1.5h-1.5zM223.9 295.8h1.5v1.5h-1.5zM161.6 298.7h1.5v1.5h-1.5zM197.0 292.8h1.5v1.5h-1.5zM270.3 293.7h1.5v1.5h-1.5zM222.7 288.9h1.5v1.5h-1.5zM170.8 308.4h1.5v1.5h-1.5zM123.6 304.4h1.5v1.5h-1.5zM240.6 299.7h1.5v1.5h-1.5zM242.8 289.8h1.5v1.5h-1.5zM123.5 306.7h1.5v1.5h-1.5zM258.0 294.5h1.5v1.5h-1.5zM214.3 286.4h1.5v1.5h-1.5zM136.7 301.5h1.5v1.5h-1.5zM132.6 304.3h1.5v1.5h-1.5zM181.0 308.0h1.5v1.5h-1.5zM142.6 311.6h1.5v1.5h-1.5zM150.2 301.2h1.5v1.5h-1.5zM192.2 293.8h1.5v1.5h-1.5zM161.9 293.9h1.5v1.5h-1.5zM218.9 289.1h1.5v1.5h-1.5zM258.5 289.9h1.5v1.5h-1.5zM182.8 301.7h1.5v1.5h-1.5zM259.7 280.2h1.5v1.5h-1.5zM216.7 298.1h1.5v1.5h-1.5zM136.8 309.0h1.5v1.5h-1.5zM198.0 293.3h1.5v1.5h-1.5zM197.6 293.8h1.5v1.5h-1.5zM200.8 300.7h1.5v1.5h-1.5zM206.0 307.4h1.5v1.5h-1.5zM193.8 287.9h1.5v1.5h-1.5zM143.8 300.1h1.5v1.5h-1.5zM157.7 303.8h1.5v1.5h-1.5zM258.9 296.3h1.5v1.5h-1.5zM154.2 294.3h1.5v1.5h-1.5zM224.0 289.2h1.5v1.5h-1.5zM246.0 288.5h1.5v1.5h-1.5zM225.1 296.0h1.5v1.5h-1.5zM242.4 296.4h1.5v1.5h-1.5zM215.0 292.0h1.5v1.5h-1.5zM255.3 289.6h1.5v1.5h-1.5zM233.9 291.6h1.5v1.5h-1.5zM269.6 292.2h1.5v1.5h-1.5zM126.8 298.6h1.5v1.5h-1.5zM171.1 298.7h1.5v1.5h-1.5zM162.9 295.5h1.5v1.5h-1.5zM228.8 294.5h1.5v1.5h-1.5zM273.9 288.7h1.5v1.5h-1.5zM160.0 304.4h1.5v1.5h-1.5zM228.7 292.0h1.5v1.5h-1.5zM279.6 281.6h1.5v1.5h-1.5zM230.1 294.1h1.5v1.5h-1.5zM191.1 304.6h1.5v1.5h-1.5zM260.9 298.6h1.5v1.5h-1.5zM134.7 303.7h1.5v1.5h-1.5zM234.2 282.5h1.5v1.5h-1.5zM169.3 304.4h1.5v1.5h-1.5zM117.6 308.3h1.5v1.5h-1.5zM129.7 311.3h1.5v1.5h-1.5zM196.3 299.9h1.5v1.5h-1.5zM164.6 292.1h1.5v1.5h-1.5zM194.7 294.0h1.5v1.5h-1.5zM233.3 291.3h1.5v1.5h-1.5zM261.8 280.2h1.5v1.5h-1.5zM198.8 296.8h1.5v1.5h-1.5zM166.6 308.0h1.5v1.5h-1.5zM152.7 296.1h1.5v1.5h-1.5zM160.1 303.5h1.5v1.5h-1.5zM226.9 288.8h1.5v1.5h-1.5zM184.5 305.2h1.5v1.5h-1.5zM146.5 291.2h1.5v1.5h-1.5zM212.7 293.7h1.5v1.5h-1.5zM173.3 298.9h1.5v1.5h-1.5zM282.3 291.1h1.5v1.5h-1.5zM184.4 300.1h1.5v1.5h-1.5zM248.9 292.8h1.5v1.5h-1.5zM116.9 305.4h1.5v1.5h-1.5zM199.6 292.4h1.5v1.5h-1.5zM150.1 291.7h1.5v1.5h-1.5zM148.4 306.1h1.5v1.5h-1.5zM258.0 297.7h1.5v1.5h-1.5zM183.0 300.5h1.5v1.5h-1.5zM203.9 296.8h1.5v1.5h-1.5zM262.8 296.6h1.5v1.5h-1.5zM130.4 299.3h1.5v1.5h-1.5zM130.8 295.0h1.5v1.5h-1.5zM232.2 293.3h1.5v1.5h-1.5zM149.0 307.4h1.5v1.5h-1.5zM145.4 298.3h1.5v1.5h-1.5zM202.7 295.6h1.5v1.5h-1.5zM185.1 305.2h1.5v1.5h-1.5zM285.0 288.4h1.5v1.5h-1.5zM268.8 284.5h1.5v1.5h-1.5zM175.6 303.4h1.5v1.5h-1.5zM213.7 294.4h1.5v1.5h-1.5zM164.0 295.5h1.5v1.5h-1.5zM182.7 298.1h1.5v1.5h-1.5zM213.5 292.1h1.5v1.5h-1.5zM228.1 299.3h1.5v1.5h-1.5zM174.6 301.4h1.5v1.5h-1.5zM274.5 297.3h1.5v1.5h-1.5zM217.0 297.8h1.5v1.5h-1.5zM178.8 295.1h1.5v1.5h-1.5zM221.1 300.4h1.5v1.5h-1.5zM190.3 298.9h1.5v1.5h-1.5zM161.2 296.4h1.5v1.5h-1.5zM224.4 298.9h1.5v1.5h-1.5zM226.0 292.0h1.5v1.5h-1.5zM221.3 295.3h1.5v1.5h-1.5zM275.5 298.7h1.5v1.5h-1.5zM172.7 301.7h1.5v1.5h-1.5zM169.1 303.6h1.5v1.5h-1.5zM282.6 284.1h1.5v1.5h-1.5zM180.4 298.8h1.5v1.5h-1.5zM223.1 290.8h1.5v1.5h-1.5zM188.3 301.5h1.5v1.5h-1.5zM183.1 295.7h1.5v1.5h-1.5zM167.7 310.0h1.5v1.5h-1.5zM151.1 294.7h1.5v1.5h-1.5zM204.9 295.3h1.5v1.5h-1.5zM162.6 305.3h1.5v1.5h-1.5zM254.5 297.3h1.5v1.5h-1.5zM157.1 298.3h1.5v1.5h-1.5zM220.9 290.0h1.5v1.5h-1.5zM118.8 300.8h1.5v1.5h-1.5zM264.3 290.6h1.5v1.5h-1.5zM215.2 296.9h1.5v1.5h-1.5zM277.3 284.8h1.5v1.5h-1.5zM123.9 300.3h1.5v1.5h-1.5zM166.0 292.2h1.5v1.5h-1.5zM191.1 297.8h1.5v1.5h-1.5zM259.5 289.4h1.5v1.5h-1.5zM131.7 303.9h1.5v1.5h-1.5zM208.1 296.9h1.5v1.5h-1.5zM225.0 296.0h1.5v1.5h-1.5zM198.1 295.3h1.5v1.5h-1.5zM180.3 303.4h1.5v1.5h-1.5zM174.0 311.7h1.5v1.5h-1.5zM109.6 299.5h1.5v1.5h-1.5zM108.3 301.7h1.5v1.5h-1.5zM106.2 302.6h1.5v1.5h-1.5zM172.7 295.3h1.5v1.5h-1.5zM181.0 300.7h1.5v1.5h-1.5zM127.2 310.7h1.5v1.5h-1.5zM144.2 304.0h1.5v1.5h-1.5zM108.0 297.1h1.5v1.5h-1.5zM180.1 303.7h1.5v1.5h-1.5zM256.0 280.6h1.5v1.5h-1.5zM262.4 289.4h1.5v1.5h-1.5zM120.7 303.2h1.5v1.5h-1.5zM145.4 299.2h1.5v1.5h-1.5zM137.1 306.5h1.5v1.5h-1.5zM254.4 285.7h1.5v1.5h-1.5zM242.6 295.9h1.5v1.5h-1.5zM121.0 300.9h1.5v1.5h-1.5zM224.3 291.3h1.5v1.5h-1.5zM212.9 296.7h1.5v1.5h-1.5zM216.6 300.6h1.5v1.5h-1.5zM202.9 293.5h1.5v1.5h-1.5zM186.0 294.0h1.5v1.5h-1.5zM136.8 305.4h1.5v1.5h-1.5zM123.0 309.7h1.5v1.5h-1.5zM280.0 301.4h1.5v1.5h-1.5zM171.6 294.0h1.5v1.5h-1.5zM263.4 298.6h1.5v1.5h-1.5zM215.5 291.8h1.5v1.5h-1.5zM250.3 286.5h1.5v1.5h-1.5zM230.2 295.1h1.5v1.5h-1.5zM206.5 297.7h1.5v1.5h-1.5zM256.3 275.9h1.5v1.5h-1.5zM133.8 310.9h1.5v1.5h-1.5zM181.0 295.5h1.5v1.5h-1.5zM206.2 295.1h1.5v1.5h-1.5zM270.0 286.8h1.5v1.5h-1.5zM237.7 289.5h1.5v1.5h-1.5zM164.3 292.2h1.5v1.5h-1.5zM176.2 299.6h1.5v1.5h-1.5zM280.8 287.6h1.5v1.5h-1.5zM269.2 291.3h1.5v1.5h-1.5zM168.3 287.9h1.5v1.5h-1.5zM165.4 297.1h1.5v1.5h-1.5zM200.7 297.0h1.5v1.5h-1.5zM110.1 303.7h1.5v1.5h-1.5zM257.1 285.0h1.5v1.5h-1.5zM274.1 282.0h1.5v1.5h-1.5zM161.9 297.9h1.5v1.5h-1.5zM261.9 292.5h1.5v1.5h-1.5zM271.8 298.5h1.5v1.5h-1.5zM122.9 298.4h1.5v1.5h-1.5zM232.6 300.3h1.5v1.5h-1.5zM255.3 286.3h1.5v1.5h-1.5zM125.9 310.5h1.5v1.5h-1.5zM271.6 292.0h1.5v1.5h-1.5zM205.2 287.2h1.5v1.5h-1.5zM138.1 308.2h1.5v1.5h-1.5zM180.8 306.2h1.5v1.5h-1.5zM242.0 293.8h1.5v1.5h-1.5zM128.3 298.4h1.5v1.5h-1.5zM199.9 296.3h1.5v1.5h-1.5zM285.3 292.7h1.5v1.5h-1.5zM193.7 298.7h1.5v1.5h-1.5zM271.9 288.0h1.5v1.5h-1.5zM119.2 304.3h1.5v1.5h-1.5zM197.3 293.1h1.5v1.5h-1.5zM120.4 307.0h1.5v1.5h-1.5zM209.9 299.6h1.5v1.5h-1.5zM197.2 290.5h1.5v1.5h-1.5zM203.1 300.8h1.5v1.5h-1.5zM122.1 299.9h1.5v1.5h-1.5zM166.8 291.5h1.5v1.5h-1.5zM114.6 305.3h1.5v1.5h-1.5zM169.6 296.2h1.5v1.5h-1.5zM144.1 300.4h1.5v1.5h-1.5zM171.2 295.4h1.5v1.5h-1.5zM208.3 300.4h1.5v1.5h-1.5zM227.7 300.2h1.5v1.5h-1.5zM280.9 280.8h1.5v1.5h-1.5zM237.6 290.8h1.5v1.5h-1.5zM276.3 276.0h1.5v1.5h-1.5zM226.3 294.6h1.5v1.5h-1.5zM180.6 300.4h1.5v1.5h-1.5zM116.6 301.6h1.5v1.5h-1.5zM229.1 299.7h1.5v1.5h-1.5zM202.3 291.9h1.5v1.5h-1.5zM258.7 298.9h1.5v1.5h-1.5zM227.1 296.5h1.5v1.5h-1.5zM193.9 297.9h1.5v1.5h-1.5zM221.3 293.3h1.5v1.5h-1.5zM135.2 297.1h1.5v1.5h-1.5zM220.9 299.8h1.5v1.5h-1.5zM111.8 302.2h1.5v1.5h-1.5zM266.8 288.2h1.5v1.5h-1.5zM108.1 304.1h1.5v1.5h-1.5zM186.7 294.2h1.5v1.5h-1.5zM216.9 292.2h1.5v1.5h-1.5zM284.8 289.8h1.5v1.5h-1.5zM214.3 286.1h1.5v1.5h-1.5zM285.6 295.4h1.5v1.5h-1.5zM242.7 288.3h1.5v1.5h-1.5zM231.7 295.3h1.5v1.5h-1.5zM154.6 302.4h1.5v1.5h-1.5zM141.6 302.0h1.5v1.5h-1.5zM116.9 293.0h1.5v1.5h-1.5zM246.4 290.5h1.5v1.5h-1.5zM179.2 295.8h1.5v1.5h-1.5zM161.0 301.2h1.5v1.5h-1.5zM224.2 292.6h1.5v1.5h-1.5zM154.0 298.8h1.5v1.5h-1.5zM263.7 279.7h1.5v1.5h-1.5zM194.2 295.2h1.5v1.5h-1.5zM248.2 284.8h1.5v1.5h-1.5zM155.8 300.6h1.5v1.5h-1.5zM206.7 293.4h1.5v1.5h-1.5zM106.9 301.5h1.5v1.5h-1.5zM154.8 310.5h1.5v1.5h-1.5zM155.5 298.5h1.5v1.5h-1.5zM121.6 301.1h1.5v1.5h-1.5zM189.1 290.8h1.5v1.5h-1.5zM243.8 288.2h1.5v1.5h-1.5zM124.6 308.2h1.5v1.5h-1.5zM169.5 299.8h1.5v1.5h-1.5zM168.4 295.6h1.5v1.5h-1.5zM174.9 304.9h1.5v1.5h-1.5zM147.7 295.1h1.5v1.5h-1.5zM166.6 305.4h1.5v1.5h-1.5zM255.5 288.0h1.5v1.5h-1.5zM112.0 302.7h1.5v1.5h-1.5zM207.6 297.6h1.5v1.5h-1.5zM228.4 296.6h1.5v1.5h-1.5zM114.4 303.5h1.5v1.5h-1.5zM234.2 291.0h1.5v1.5h-1.5zM169.4 309.5h1.5v1.5h-1.5zM240.0 293.5h1.5v1.5h-1.5zM241.8 283.9h1.5v1.5h-1.5zM205.7 303.3h1.5v1.5h-1.5zM108.8 302.6h1.5v1.5h-1.5zM141.7 298.3h1.5v1.5h-1.5zM225.6 291.9h1.5v1.5h-1.5zM240.7 286.8h1.5v1.5h-1.5zM201.6 294.2h1.5v1.5h-1.5zM184.0 290.5h1.5v1.5h-1.5zM201.2 293.7h1.5v1.5h-1.5zM229.3 294.2h1.5v1.5h-1.5zM199.5 289.9h1.5v1.5h-1.5zM247.7 299.6h1.5v1.5h-1.5zM107.8 314.0h1.5v1.5h-1.5zM151.3 295.7h1.5v1.5h-1.5zM251.2 293.9h1.5v1.5h-1.5zM158.3 293.8h1.5v1.5h-1.5zM278.4 285.5h1.5v1.5h-1.5zM185.6 304.1h1.5v1.5h-1.5zM249.6 282.5h1.5v1.5h-1.5zM153.5 303.2h1.5v1.5h-1.5zM155.6 300.6h1.5v1.5h-1.5zM255.9 286.5h1.5v1.5h-1.5zM283.2 287.8h1.5v1.5h-1.5zM145.5 295.4h1.5v1.5h-1.5zM279.7 293.2h1.5v1.5h-1.5zM138.5 300.2h1.5v1.5h-1.5zM135.0 311.0h1.5v1.5h-1.5zM243.1 286.7h1.5v1.5h-1.5zM267.4 278.9h1.5v1.5h-1.5zM162.5 296.7h1.5v1.5h-1.5zM257.6 285.2h1.5v1.5h-1.5zM159.0 297.6h1.5v1.5h-1.5zM127.8 304.0h1.5v1.5h-1.5zM238.5 291.4h1.5v1.5h-1.5zM263.1 290.0h1.5v1.5h-1.5zM262.8 291.4h1.5v1.5h-1.5zM121.4 297.9h1.5v1.5h-1.5zM256.7 294.7h1.5v1.5h-1.5zM149.0 297.0h1.5v1.5h-1.5zM106.3 306.3h1.5v1.5h-1.5zM265.1 294.0h1.5v1.5h-1.5zM191.6 295.5h1.5v1.5h-1.5zM186.5 304.2h1.5v1.5h-1.5zM189.7 306.2h1.5v1.5h-1.5zM265.8 294.1h1.5v1.5h-1.5zM226.7 287.9h1.5v1.5h-1.5zM197.1 298.6h1.5v1.5h-1.5zM269.4 283.0h1.5v1.5h-1.5zM275.9 278.8h1.5v1.5h-1.5zM115.5 313.7h1.5v1.5h-1.5zM286.5 295.3h1.5v1.5h-1.5zM165.4 303.1h1.5v1.5h-1.5zM285.7 296.1h1.5v1.5h-1.5zM168.6 292.7h1.5v1.5h-1.5zM229.6 295.0h1.5v1.5h-1.5zM152.5 303.8h1.5v1.5h-1.5zM210.4 299.4h1.5v1.5h-1.5zM178.6 296.6h1.5v1.5h-1.5zM184.9 307.0h1.5v1.5h-1.5zM190.2 300.4h1.5v1.5h-1.5zM116.4 313.3h1.5v1.5h-1.5zM156.6 296.7h1.5v1.5h-1.5zM257.8 288.6h1.5v1.5h-1.5zM256.9 288.7h1.5v1.5h-1.5zM230.1 288.6h1.5v1.5h-1.5zM232.6 295.0h1.5v1.5h-1.5zM154.5 302.3h1.5v1.5h-1.5zM174.7 290.4h1.5v1.5h-1.5zM168.0 297.4h1.5v1.5h-1.5zM244.5 297.8h1.5v1.5h-1.5zM195.1 294.6h1.5v1.5h-1.5zM229.4 292.8h1.5v1.5h-1.5zM186.4 290.9h1.5v1.5h-1.5zM250.6 279.6h1.5v1.5h-1.5zM125.2 307.8h1.5v1.5h-1.5zM178.9 300.3h1.5v1.5h-1.5zM275.1 287.0h1.5v1.5h-1.5zM248.5 291.7h1.5v1.5h-1.5zM223.9 299.5h1.5v1.5h-1.5zM235.9 290.7h1.5v1.5h-1.5zM213.7 297.4h1.5v1.5h-1.5zM173.4 298.6h1.5v1.5h-1.5zM159.5 306.1h1.5v1.5h-1.5zM109.6 310.0h1.5v1.5h-1.5zM188.0 294.6h1.5v1.5h-1.5zM227.2 304.5h1.5v1.5h-1.5zM184.7 306.0h1.5v1.5h-1.5zM106.6 310.7h1.5v1.5h-1.5zM143.4 306.2h1.5v1.5h-1.5zM124.3 305.1h1.5v1.5h-1.5zM185.0 305.1h1.5v1.5h-1.5zM185.7 302.7h1.5v1.5h-1.5zM117.0 303.4h1.5v1.5h-1.5zM253.0 287.9h1.5v1.5h-1.5zM221.4 290.1h1.5v1.5h-1.5zM279.0 284.5h1.5v1.5h-1.5zM124.3 307.2h1.5v1.5h-1.5zM113.7 298.2h1.5v1.5h-1.5zM136.0 294.0h1.5v1.5h-1.5zM273.0 294.8h1.5v1.5h-1.5zM144.8 296.0h1.5v1.5h-1.5zM125.5 297.9h1.5v1.5h-1.5zM228.9 289.8h1.5v1.5h-1.5zM154.9 298.0h1.5v1.5h-1.5zM108.2 308.9h1.5v1.5h-1.5zM184.6 299.4h1.5v1.5h-1.5zM139.4 301.7h1.5v1.5h-1.5zM139.0 308.2h1.5v1.5h-1.5zM267.2 289.5h1.5v1.5h-1.5zM155.3 294.3h1.5v1.5h-1.5zM185.6 292.4h1.5v1.5h-1.5zM123.4 303.2h1.5v1.5h-1.5zM142.8 305.4h1.5v1.5h-1.5zM261.6 289.9h1.5v1.5h-1.5zM281.7 288.0h1.5v1.5h-1.5zM234.2 293.2h1.5v1.5h-1.5zM163.4 301.0h1.5v1.5h-1.5zM234.9 295.7h1.5v1.5h-1.5zM108.5 308.1h1.5v1.5h-1.5zM153.0 308.6h1.5v1.5h-1.5zM209.0 308.1h1.5v1.5h-1.5zM190.0 298.0h1.5v1.5h-1.5zM139.9 292.4h1.5v1.5h-1.5zM285.9 287.1h1.5v1.5h-1.5zM241.1 288.6h1.5v1.5h-1.5zM217.0 302.0h1.5v1.5h-1.5zM285.6 282.5h1.5v1.5h-1.5zM183.9 291.1h1.5v1.5h-1.5zM240.5 296.1h1.5v1.5h-1.5zM189.2 294.4h1.5v1.5h-1.5zM190.1 294.2h1.5v1.5h-1.5zM211.1 290.1h1.5v1.5h-1.5zM126.1 300.4h1.5v1.5h-1.5zM162.7 296.0h1.5v1.5h-1.5zM199.2 302.0h1.5v1.5h-1.5zM206.2 298.7h1.5v1.5h-1.5zM241.1 296.6h1.5v1.5h-1.5zM131.3 297.9h1.5v1.5h-1.5zM255.4 293.0h1.5v1.5h-1.5zM178.7 298.2h1.5v1.5h-1.5zM284.8 280.3h1.5v1.5h-1.5zM153.2 299.4h1.5v1.5h-1.5zM231.3 288.4h1.5v1.5h-1.5zM187.1 299.5h1.5v1.5h-1.5zM182.7 299.8h1.5v1.5h-1.5zM174.1 305.2h1.5v1.5h-1.5zM235.1 288.8h1.5v1.5h-1.5zM168.0 296.2h1.5v1.5h-1.5zM225.6 301.0h1.5v1.5h-1.5zM156.2 291.5h1.5v1.5h-1.5zM236.2 287.3h1.5v1.5h-1.5zM225.2 302.9h1.5v1.5h-1.5zM267.9 281.4h1.5v1.5h-1.5zM241.2 296.7h1.5v1.5h-1.5zM193.6 295.4h1.5v1.5h-1.5zM198.8 293.5h1.5v1.5h-1.5zM179.1 297.7h1.5v1.5h-1.5zM276.7 290.9h1.5v1.5h-1.5zM266.0 288.8h1.5v1.5h-1.5zM271.1 290.4h1.5v1.5h-1.5zM199.8 289.5h1.5v1.5h-1.5zM187.5 296.9h1.5v1.5h-1.5zM250.5 293.5h1.5v1.5h-1.5zM178.7 306.6h1.5v1.5h-1.5zM223.6 294.4h1.5v1.5h-1.5zM152.2 304.4h1.5v1.5h-1.5zM236.8 301.2h1.5v1.5h-1.5zM164.7 298.2h1.5v1.5h-1.5zM226.1 293.3h1.5v1.5h-1.5zM197.6 291.6h1.5v1.5h-1.5zM140.5 301.2h1.5v1.5h-1.5zM197.2 293.6h1.5v1.5h-1.5zM180.8 293.2h1.5v1.5h-1.5zM242.4 291.8h1.5v1.5h-1.5zM166.0 304.3h1.5v1.5h-1.5zM248.5 290.7h1.5v1.5h-1.5zM284.4 278.2h1.5v1.5h-1.5zM189.8 285.7h1.5v1.5h-1.5zM148.1 303.2h1.5v1.5h-1.5zM285.4 291.9h1.5v1.5h-1.5zM219.6 298.6h1.5v1.5h-1.5zM180.7 290.9h1.5v1.5h-1.5zM127.5 306.6h1.5v1.5h-1.5zM266.5 292.0h1.5v1.5h-1.5zM144.3 298.1h1.5v1.5h-1.5zM141.8 297.7h1.5v1.5h-1.5zM270.2 283.5h1.5v1.5h-1.5zM245.3 291.8h1.5v1.5h-1.5zM115.1 304.4h1.5v1.5h-1.5zM139.5 312.0h1.5v1.5h-1.5zM169.7 302.3h1.5v1.5h-1.5zM164.2 287.8h1.5v1.5h-1.5zM141.6 304.7h1.5v1.5h-1.5zM154.5 301.2h1.5v1.5h-1.5zM257.6 292.1h1.5v1.5h-1.5zM192.7 297.1h1.5v1.5h-1.5zM232.2 296.7h1.5v1.5h-1.5zM268.6 281.7h1.5v1.5h-1.5zM142.4 294.8h1.5v1.5h-1.5zM219.0 287.5h1.5v1.5h-1.5zM225.6 293.0h1.5v1.5h-1.5zM195.2 295.7h1.5v1.5h-1.5zM175.9 304.6h1.5v1.5h-1.5zM116.5 305.3h1.5v1.5h-1.5zM192.0 289.7h1.5v1.5h-1.5zM111.8 415.3h1.4v1.4h-1.4zM166.4 405.9h1.4v1.4h-1.4zM173.0 406.5h1.4v1.4h-1.4zM128.8 420.3h1.4v1.4h-1.4zM140.1 407.1h1.4v1.4h-1.4zM119.8 424.4h1.4v1.4h-1.4zM121.6 423.7h1.4v1.4h-1.4zM132.2 418.8h1.4v1.4h-1.4zM121.9 420.0h1.4v1.4h-1.4zM135.4 418.5h1.4v1.4h-1.4zM143.4 405.8h1.4v1.4h-1.4zM158.3 408.6h1.4v1.4h-1.4zM198.6 411.4h1.4v1.4h-1.4zM189.8 401.5h1.4v1.4h-1.4zM185.4 416.9h1.4v1.4h-1.4zM158.4 416.8h1.4v1.4h-1.4zM127.6 416.0h1.4v1.4h-1.4zM144.5 416.2h1.4v1.4h-1.4zM124.8 426.9h1.4v1.4h-1.4zM226.2 402.3h1.4v1.4h-1.4zM120.9 415.8h1.4v1.4h-1.4zM204.2 405.3h1.4v1.4h-1.4zM208.8 400.7h1.4v1.4h-1.4zM134.8 410.0h1.4v1.4h-1.4zM160.0 422.3h1.4v1.4h-1.4zM138.2 423.3h1.4v1.4h-1.4zM227.2 395.0h1.4v1.4h-1.4zM141.2 412.1h1.4v1.4h-1.4zM142.5 410.0h1.4v1.4h-1.4zM117.8 425.2h1.4v1.4h-1.4zM166.4 406.7h1.4v1.4h-1.4zM175.0 414.8h1.4v1.4h-1.4zM147.8 416.1h1.4v1.4h-1.4zM132.1 410.2h1.4v1.4h-1.4zM159.2 420.9h1.4v1.4h-1.4zM215.8 395.7h1.4v1.4h-1.4zM113.3 415.8h1.4v1.4h-1.4zM203.3 414.9h1.4v1.4h-1.4zM137.3 410.4h1.4v1.4h-1.4zM139.1 413.7h1.4v1.4h-1.4zM216.4 411.4h1.4v1.4h-1.4zM122.8 424.7h1.4v1.4h-1.4zM121.6 412.5h1.4v1.4h-1.4zM108.8 420.6h1.4v1.4h-1.4zM208.5 418.1h1.4v1.4h-1.4z"/>
<path fill="#ee9090" d="M243.6 197.0h1.4v1.4h-1.4zM204.0 206.8h1.4v1.4h-1.4zM242.8 174.7h1.4v1.4h-1.4zM202.9 184.7h1.4v1.4h-1.4zM116.1 195.8h1.4v1.4h-1.4zM108.2 187.4h1.4v1.4h-1.4zM176.8 193.9h1.4v1.4h-1.4zM180.9 196.8h1.4v1.4h-1.4zM254.8 183.7h1.4v1.4h-1.4zM267.6 182.5h1.4v1.4h-1.4zM233.8 176.2h1.4v1.4h-1.4zM120.8 181.1h1.4v1.4h-1.4zM117.6 188.2h1.4v1.4h-1.4zM224.1 185.6h1.4v1.4h-1.4zM122.5 195.4h1.4v1.4h-1.4zM258.9 178.8h1.4v1.4h-1.4zM200.7 185.2h1.4v1.4h-1.4zM213.8 192.5h1.4v1.4h-1.4zM274.3 173.3h1.4v1.4h-1.4zM120.5 200.1h1.4v1.4h-1.4zM254.7 190.4h1.4v1.4h-1.4zM137.9 182.4h1.4v1.4h-1.4zM249.0 180.6h1.4v1.4h-1.4zM258.8 190.7h1.4v1.4h-1.4zM165.2 199.6h1.4v1.4h-1.4zM108.3 201.8h1.4v1.4h-1.4zM203.9 190.4h1.4v1.4h-1.4zM150.1 194.0h1.4v1.4h-1.4zM222.9 196.1h1.4v1.4h-1.4zM276.7 197.6h1.4v1.4h-1.4zM167.4 180.8h1.4v1.4h-1.4zM137.7 200.2h1.4v1.4h-1.4zM118.4 206.3h1.4v1.4h-1.4zM278.7 195.7h1.4v1.4h-1.4zM162.1 195.9h1.4v1.4h-1.4zM208.2 177.4h1.4v1.4h-1.4zM271.8 186.3h1.4v1.4h-1.4zM217.5 197.2h1.4v1.4h-1.4zM278.7 169.3h1.4v1.4h-1.4zM237.7 189.5h1.4v1.4h-1.4zM256.3 178.8h1.4v1.4h-1.4zM220.2 197.1h1.4v1.4h-1.4zM219.0 185.0h1.4v1.4h-1.4zM184.4 187.3h1.4v1.4h-1.4zM167.8 193.6h1.4v1.4h-1.4zM193.1 187.0h1.4v1.4h-1.4zM222.0 185.4h1.4v1.4h-1.4zM236.8 188.9h1.4v1.4h-1.4zM156.0 190.8h1.4v1.4h-1.4zM157.0 196.3h1.4v1.4h-1.4zM215.9 199.1h1.4v1.4h-1.4zM176.0 201.8h1.4v1.4h-1.4zM209.1 187.1h1.4v1.4h-1.4zM143.4 206.3h1.4v1.4h-1.4zM274.1 192.4h1.4v1.4h-1.4zM177.5 195.1h1.4v1.4h-1.4zM242.2 187.9h1.4v1.4h-1.4zM156.5 205.1h1.4v1.4h-1.4zM128.1 202.4h1.4v1.4h-1.4zM205.2 191.3h1.4v1.4h-1.4zM181.2 187.0h1.4v1.4h-1.4zM110.1 216.4h1.4v1.4h-1.4zM163.0 188.1h1.4v1.4h-1.4zM203.4 193.4h1.4v1.4h-1.4zM165.6 197.9h1.4v1.4h-1.4zM118.1 196.1h1.4v1.4h-1.4zM186.1 189.4h1.4v1.4h-1.4zM210.1 186.9h1.4v1.4h-1.4zM225.4 193.1h1.4v1.4h-1.4zM119.3 197.8h1.4v1.4h-1.4zM130.4 189.4h1.4v1.4h-1.4zM165.6 188.1h1.4v1.4h-1.4zM213.6 179.1h1.4v1.4h-1.4zM273.6 187.2h1.4v1.4h-1.4zM113.3 189.6h1.4v1.4h-1.4zM128.5 193.3h1.4v1.4h-1.4zM137.2 199.5h1.4v1.4h-1.4zM108.2 200.4h1.4v1.4h-1.4zM283.4 184.1h1.4v1.4h-1.4zM213.1 203.3h1.4v1.4h-1.4zM280.2 176.6h1.4v1.4h-1.4zM139.3 198.2h1.4v1.4h-1.4zM177.8 202.9h1.4v1.4h-1.4zM204.0 185.5h1.4v1.4h-1.4zM155.5 179.0h1.4v1.4h-1.4zM131.5 186.9h1.4v1.4h-1.4zM258.4 197.3h1.4v1.4h-1.4zM163.8 184.7h1.4v1.4h-1.4zM210.3 186.0h1.4v1.4h-1.4zM280.9 187.6h1.4v1.4h-1.4zM151.6 202.1h1.4v1.4h-1.4zM205.7 185.0h1.4v1.4h-1.4zM173.5 209.1h1.4v1.4h-1.4zM212.8 197.3h1.4v1.4h-1.4zM215.4 184.9h1.4v1.4h-1.4zM133.2 190.4h1.4v1.4h-1.4zM264.9 182.1h1.4v1.4h-1.4zM220.5 190.9h1.4v1.4h-1.4zM158.2 203.8h1.4v1.4h-1.4zM133.9 206.4h1.4v1.4h-1.4zM282.4 181.0h1.4v1.4h-1.4zM149.2 204.0h1.4v1.4h-1.4zM282.9 180.1h1.4v1.4h-1.4zM116.9 209.1h1.4v1.4h-1.4zM151.7 199.1h1.4v1.4h-1.4zM124.7 184.6h1.4v1.4h-1.4zM177.6 201.2h1.4v1.4h-1.4zM284.6 190.0h1.4v1.4h-1.4zM262.8 179.5h1.4v1.4h-1.4zM240.6 201.2h1.4v1.4h-1.4zM107.6 203.4h1.4v1.4h-1.4zM125.2 194.7h1.4v1.4h-1.4zM126.9 210.0h1.4v1.4h-1.4zM171.9 195.5h1.4v1.4h-1.4zM276.6 174.6h1.4v1.4h-1.4zM225.2 171.5h1.4v1.4h-1.4zM141.7 202.1h1.4v1.4h-1.4zM140.7 184.7h1.4v1.4h-1.4zM236.2 196.1h1.4v1.4h-1.4zM183.8 194.4h1.4v1.4h-1.4zM208.3 177.1h1.4v1.4h-1.4zM160.3 196.8h1.4v1.4h-1.4zM149.8 190.3h1.4v1.4h-1.4zM128.8 201.6h1.4v1.4h-1.4zM168.7 189.7h1.4v1.4h-1.4zM264.6 178.3h1.4v1.4h-1.4zM185.1 200.5h1.4v1.4h-1.4zM140.9 190.9h1.4v1.4h-1.4zM183.0 199.0h1.4v1.4h-1.4zM152.6 202.6h1.4v1.4h-1.4zM172.7 202.8h1.4v1.4h-1.4zM170.9 192.6h1.4v1.4h-1.4zM264.7 189.8h1.4v1.4h-1.4zM165.2 188.2h1.4v1.4h-1.4zM272.9 190.3h1.4v1.4h-1.4zM245.7 188.9h1.4v1.4h-1.4zM210.5 177.9h1.4v1.4h-1.4zM107.5 203.0h1.4v1.4h-1.4zM111.9 207.0h1.4v1.4h-1.4zM274.0 192.8h1.4v1.4h-1.4zM272.9 174.5h1.4v1.4h-1.4zM165.8 196.5h1.4v1.4h-1.4zM166.0 188.9h1.4v1.4h-1.4zM121.8 202.8h1.4v1.4h-1.4zM240.9 184.6h1.4v1.4h-1.4zM159.4 197.5h1.4v1.4h-1.4zM273.9 187.1h1.4v1.4h-1.4zM262.2 191.0h1.4v1.4h-1.4zM141.1 202.2h1.4v1.4h-1.4zM164.3 190.2h1.4v1.4h-1.4zM227.6 198.2h1.4v1.4h-1.4zM149.1 193.0h1.4v1.4h-1.4zM122.6 209.3h1.4v1.4h-1.4zM167.2 194.7h1.4v1.4h-1.4zM277.9 170.8h1.4v1.4h-1.4zM249.8 184.0h1.4v1.4h-1.4zM271.0 203.8h1.4v1.4h-1.4zM230.0 170.9h1.4v1.4h-1.4zM257.0 196.8h1.4v1.4h-1.4zM212.4 193.1h1.4v1.4h-1.4zM182.4 189.3h1.4v1.4h-1.4zM170.6 189.2h1.4v1.4h-1.4zM146.5 184.2h1.4v1.4h-1.4zM282.9 172.4h1.4v1.4h-1.4zM154.0 197.8h1.4v1.4h-1.4zM182.0 182.1h1.4v1.4h-1.4zM274.6 196.9h1.4v1.4h-1.4zM173.0 192.2h1.4v1.4h-1.4zM216.4 181.0h1.4v1.4h-1.4zM115.8 200.1h1.4v1.4h-1.4zM217.6 195.6h1.4v1.4h-1.4zM209.9 180.6h1.4v1.4h-1.4zM268.2 189.5h1.4v1.4h-1.4zM226.7 185.6h1.4v1.4h-1.4zM123.0 205.8h1.4v1.4h-1.4zM282.8 177.6h1.4v1.4h-1.4zM113.2 194.8h1.4v1.4h-1.4zM244.9 198.5h1.4v1.4h-1.4zM208.0 185.4h1.4v1.4h-1.4zM245.7 187.1h1.4v1.4h-1.4zM108.7 195.6h1.4v1.4h-1.4zM181.9 202.8h1.4v1.4h-1.4zM118.1 204.4h1.4v1.4h-1.4zM285.2 188.7h1.4v1.4h-1.4zM283.8 171.7h1.4v1.4h-1.4zM224.6 192.0h1.4v1.4h-1.4zM168.4 178.5h1.4v1.4h-1.4zM163.7 196.2h1.4v1.4h-1.4zM181.5 188.5h1.4v1.4h-1.4zM193.6 186.5h1.4v1.4h-1.4zM216.3 180.4h1.4v1.4h-1.4zM144.7 194.1h1.4v1.4h-1.4zM129.8 205.5h1.4v1.4h-1.4zM146.6 204.1h1.4v1.4h-1.4zM152.9 205.5h1.4v1.4h-1.4zM148.0 193.2h1.4v1.4h-1.4zM127.0 198.5h1.4v1.4h-1.4zM205.3 202.9h1.4v1.4h-1.4zM115.5 195.0h1.4v1.4h-1.4zM146.8 195.1h1.4v1.4h-1.4zM201.8 190.6h1.4v1.4h-1.4zM283.4 192.0h1.4v1.4h-1.4zM226.1 192.7h1.4v1.4h-1.4zM204.3 201.0h1.4v1.4h-1.4zM114.7 209.4h1.4v1.4h-1.4zM228.3 191.2h1.4v1.4h-1.4zM122.5 184.5h1.4v1.4h-1.4zM279.6 180.5h1.4v1.4h-1.4zM144.5 184.6h1.4v1.4h-1.4zM188.4 188.7h1.4v1.4h-1.4zM144.7 211.2h1.4v1.4h-1.4zM172.4 196.1h1.4v1.4h-1.4zM212.1 183.1h1.4v1.4h-1.4zM256.8 177.2h1.4v1.4h-1.4zM171.1 193.4h1.4v1.4h-1.4zM139.7 196.3h1.4v1.4h-1.4zM143.0 197.6h1.4v1.4h-1.4zM171.9 191.3h1.4v1.4h-1.4zM217.8 199.5h1.4v1.4h-1.4zM137.0 196.8h1.4v1.4h-1.4zM246.8 280.9h1.4v1.4h-1.4zM243.4 288.7h1.4v1.4h-1.4zM130.0 299.8h1.4v1.4h-1.4zM285.5 284.4h1.4v1.4h-1.4zM125.6 309.8h1.4v1.4h-1.4zM156.8 316.1h1.4v1.4h-1.4zM200.0 289.0h1.4v1.4h-1.4zM204.9 289.8h1.4v1.4h-1.4zM261.6 285.2h1.4v1.4h-1.4zM129.6 284.0h1.4v1.4h-1.4zM155.4 286.9h1.4v1.4h-1.4zM254.5 303.3h1.4v1.4h-1.4zM157.5 302.5h1.4v1.4h-1.4zM108.2 313.2h1.4v1.4h-1.4zM257.6 298.7h1.4v1.4h-1.4zM139.3 294.2h1.4v1.4h-1.4zM138.6 289.3h1.4v1.4h-1.4zM135.9 287.4h1.4v1.4h-1.4zM122.2 291.1h1.4v1.4h-1.4zM207.6 293.8h1.4v1.4h-1.4zM196.2 300.4h1.4v1.4h-1.4zM134.8 299.2h1.4v1.4h-1.4zM197.0 302.1h1.4v1.4h-1.4zM171.6 300.3h1.4v1.4h-1.4zM127.8 287.8h1.4v1.4h-1.4zM285.5 278.6h1.4v1.4h-1.4zM248.8 296.3h1.4v1.4h-1.4zM250.4 289.0h1.4v1.4h-1.4zM142.5 302.5h1.4v1.4h-1.4zM118.8 308.8h1.4v1.4h-1.4zM121.2 301.1h1.4v1.4h-1.4zM119.3 301.2h1.4v1.4h-1.4zM144.0 296.0h1.4v1.4h-1.4zM220.2 297.1h1.4v1.4h-1.4zM143.4 294.2h1.4v1.4h-1.4zM243.9 305.1h1.4v1.4h-1.4zM126.7 303.2h1.4v1.4h-1.4zM164.0 286.0h1.4v1.4h-1.4zM283.8 268.9h1.4v1.4h-1.4zM258.1 292.2h1.4v1.4h-1.4zM282.1 290.5h1.4v1.4h-1.4zM152.6 292.1h1.4v1.4h-1.4zM211.0 307.0h1.4v1.4h-1.4zM245.7 280.6h1.4v1.4h-1.4zM202.7 298.1h1.4v1.4h-1.4zM191.8 299.3h1.4v1.4h-1.4zM188.0 299.0h1.4v1.4h-1.4zM209.9 293.5h1.4v1.4h-1.4zM265.7 295.7h1.4v1.4h-1.4zM284.5 291.8h1.4v1.4h-1.4zM132.3 301.4h1.4v1.4h-1.4zM154.4 312.7h1.4v1.4h-1.4zM182.3 299.7h1.4v1.4h-1.4zM109.2 314.8h1.4v1.4h-1.4zM115.2 321.3h1.4v1.4h-1.4zM125.1 317.1h1.4v1.4h-1.4zM205.6 306.7h1.4v1.4h-1.4zM226.4 286.2h1.4v1.4h-1.4zM189.5 302.0h1.4v1.4h-1.4zM231.6 284.4h1.4v1.4h-1.4zM115.0 304.0h1.4v1.4h-1.4zM214.5 288.6h1.4v1.4h-1.4zM221.6 300.3h1.4v1.4h-1.4zM222.0 306.7h1.4v1.4h-1.4zM123.5 300.4h1.4v1.4h-1.4zM252.4 283.0h1.4v1.4h-1.4zM184.1 290.0h1.4v1.4h-1.4zM259.1 303.4h1.4v1.4h-1.4zM184.7 292.2h1.4v1.4h-1.4zM224.9 292.5h1.4v1.4h-1.4zM278.0 279.5h1.4v1.4h-1.4zM144.7 293.6h1.4v1.4h-1.4zM117.8 312.7h1.4v1.4h-1.4zM181.3 307.2h1.4v1.4h-1.4zM251.3 287.4h1.4v1.4h-1.4zM213.0 309.1h1.4v1.4h-1.4zM191.6 291.4h1.4v1.4h-1.4zM192.1 301.0h1.4v1.4h-1.4zM109.3 306.3h1.4v1.4h-1.4zM255.1 287.8h1.4v1.4h-1.4zM151.8 301.2h1.4v1.4h-1.4zM196.2 288.8h1.4v1.4h-1.4zM170.7 299.3h1.4v1.4h-1.4zM116.8 292.5h1.4v1.4h-1.4zM180.4 312.1h1.4v1.4h-1.4zM250.6 301.1h1.4v1.4h-1.4zM218.6 303.3h1.4v1.4h-1.4zM255.5 287.8h1.4v1.4h-1.4zM269.2 288.9h1.4v1.4h-1.4zM192.3 293.6h1.4v1.4h-1.4zM138.1 293.9h1.4v1.4h-1.4zM259.1 296.9h1.4v1.4h-1.4zM250.3 301.9h1.4v1.4h-1.4zM150.0 299.9h1.4v1.4h-1.4zM133.4 305.1h1.4v1.4h-1.4zM180.0 279.8h1.4v1.4h-1.4zM253.8 285.4h1.4v1.4h-1.4zM227.8 312.9h1.4v1.4h-1.4zM145.4 301.4h1.4v1.4h-1.4zM138.2 299.1h1.4v1.4h-1.4zM184.3 296.8h1.4v1.4h-1.4zM201.6 297.3h1.4v1.4h-1.4zM235.2 288.9h1.4v1.4h-1.4zM249.7 293.5h1.4v1.4h-1.4zM205.0 300.5h1.4v1.4h-1.4zM173.3 299.7h1.4v1.4h-1.4zM176.1 285.3h1.4v1.4h-1.4zM134.7 292.9h1.4v1.4h-1.4zM179.8 303.3h1.4v1.4h-1.4zM227.5 289.0h1.4v1.4h-1.4zM111.1 306.1h1.4v1.4h-1.4zM265.8 283.5h1.4v1.4h-1.4zM212.3 302.2h1.4v1.4h-1.4zM218.6 305.8h1.4v1.4h-1.4zM257.6 286.7h1.4v1.4h-1.4zM279.3 298.1h1.4v1.4h-1.4zM232.6 282.8h1.4v1.4h-1.4zM133.2 312.5h1.4v1.4h-1.4zM269.5 296.9h1.4v1.4h-1.4zM185.4 306.3h1.4v1.4h-1.4zM139.5 315.1h1.4v1.4h-1.4zM173.4 292.7h1.4v1.4h-1.4zM205.0 299.1h1.4v1.4h-1.4zM257.4 284.0h1.4v1.4h-1.4zM205.3 297.4h1.4v1.4h-1.4zM268.2 290.7h1.4v1.4h-1.4zM265.6 277.2h1.4v1.4h-1.4zM184.8 290.2h1.4v1.4h-1.4zM182.0 297.3h1.4v1.4h-1.4zM210.0 292.9h1.4v1.4h-1.4zM246.6 286.8h1.4v1.4h-1.4zM248.6 293.5h1.4v1.4h-1.4zM129.2 305.3h1.4v1.4h-1.4zM201.3 297.8h1.4v1.4h-1.4zM280.2 293.7h1.4v1.4h-1.4zM247.5 299.5h1.4v1.4h-1.4zM156.3 298.0h1.4v1.4h-1.4zM278.7 286.8h1.4v1.4h-1.4zM153.5 318.1h1.4v1.4h-1.4zM262.7 294.0h1.4v1.4h-1.4zM211.8 303.3h1.4v1.4h-1.4zM180.6 298.4h1.4v1.4h-1.4zM272.7 294.2h1.4v1.4h-1.4zM113.3 312.0h1.4v1.4h-1.4zM181.9 300.5h1.4v1.4h-1.4zM207.7 294.7h1.4v1.4h-1.4zM277.5 279.1h1.4v1.4h-1.4zM163.6 301.9h1.4v1.4h-1.4zM254.9 283.8h1.4v1.4h-1.4zM181.7 293.9h1.4v1.4h-1.4zM160.9 314.8h1.4v1.4h-1.4zM191.1 301.0h1.4v1.4h-1.4zM283.9 275.0h1.4v1.4h-1.4zM231.3 278.2h1.4v1.4h-1.4zM236.2 300.2h1.4v1.4h-1.4zM262.7 290.4h1.4v1.4h-1.4zM228.3 295.4h1.4v1.4h-1.4zM250.0 290.6h1.4v1.4h-1.4zM246.4 301.0h1.4v1.4h-1.4zM263.4 289.5h1.4v1.4h-1.4zM274.0 295.3h1.4v1.4h-1.4zM278.4 281.9h1.4v1.4h-1.4zM214.9 305.0h1.4v1.4h-1.4zM146.8 300.1h1.4v1.4h-1.4zM135.2 312.9h1.4v1.4h-1.4zM141.8 299.3h1.4v1.4h-1.4zM230.0 289.3h1.4v1.4h-1.4zM149.9 301.8h1.4v1.4h-1.4zM174.1 298.0h1.4v1.4h-1.4zM259.4 299.8h1.4v1.4h-1.4zM159.0 299.0h1.4v1.4h-1.4zM144.9 305.6h1.4v1.4h-1.4zM195.7 278.7h1.4v1.4h-1.4zM143.7 305.6h1.4v1.4h-1.4zM171.5 298.8h1.4v1.4h-1.4zM190.2 299.4h1.4v1.4h-1.4zM284.9 283.6h1.4v1.4h-1.4zM129.6 300.8h1.4v1.4h-1.4zM280.9 273.0h1.4v1.4h-1.4zM212.2 289.7h1.4v1.4h-1.4zM237.9 294.5h1.4v1.4h-1.4zM167.3 304.6h1.4v1.4h-1.4zM185.1 293.1h1.4v1.4h-1.4zM211.3 288.2h1.4v1.4h-1.4zM164.2 298.4h1.4v1.4h-1.4zM239.8 304.1h1.4v1.4h-1.4zM245.6 293.0h1.4v1.4h-1.4zM225.2 295.6h1.4v1.4h-1.4zM223.6 284.0h1.4v1.4h-1.4zM257.6 292.2h1.4v1.4h-1.4zM220.6 296.5h1.4v1.4h-1.4zM280.8 296.4h1.4v1.4h-1.4zM264.3 294.7h1.4v1.4h-1.4zM151.7 296.6h1.4v1.4h-1.4zM227.6 287.4h1.4v1.4h-1.4zM239.3 293.8h1.4v1.4h-1.4zM198.3 291.1h1.4v1.4h-1.4zM279.0 300.2h1.4v1.4h-1.4zM118.0 307.0h1.4v1.4h-1.4zM127.5 424.3h1.4v1.4h-1.4zM165.3 413.7h1.4v1.4h-1.4zM147.5 420.0h1.4v1.4h-1.4zM120.6 414.3h1.4v1.4h-1.4zM142.3 417.5h1.4v1.4h-1.4zM239.0 399.6h1.4v1.4h-1.4zM114.0 416.6h1.4v1.4h-1.4zM109.9 420.9h1.4v1.4h-1.4zM136.6 412.1h1.4v1.4h-1.4zM225.9 409.9h1.4v1.4h-1.4zM189.8 406.8h1.4v1.4h-1.4zM258.2 399.0h1.4v1.4h-1.4zM264.4 417.5h1.4v1.4h-1.4zM214.2 395.8h1.4v1.4h-1.4zM149.5 419.2h1.4v1.4h-1.4zM241.1 394.9h1.4v1.4h-1.4zM216.2 415.0h1.4v1.4h-1.4zM170.5 421.6h1.4v1.4h-1.4zM203.8 396.8h1.4v1.4h-1.4zM113.5 412.8h1.4v1.4h-1.4zM229.7 413.1h1.4v1.4h-1.4zM171.6 395.0h1.4v1.4h-1.4zM177.2 409.6h1.4v1.4h-1.4zM204.1 389.4h1.4v1.4h-1.4zM109.2 418.8h1.4v1.4h-1.4zM132.1 408.5h1.4v1.4h-1.4zM108.8 408.4h1.4v1.4h-1.4zM274.9 409.3h1.4v1.4h-1.4zM275.6 409.7h1.4v1.4h-1.4zM121.5 421.8h1.4v1.4h-1.4zM158.3 424.3h1.4v1.4h-1.4zM145.7 416.7h1.4v1.4h-1.4zM251.5 397.7h1.4v1.4h-1.4zM267.3 407.0h1.4v1.4h-1.4zM176.8 403.4h1.4v1.4h-1.4zM125.3 414.5h1.4v1.4h-1.4zM234.0 400.9h1.4v1.4h-1.4zM188.1 411.0h1.4v1.4h-1.4zM156.1 402.2h1.4v1.4h-1.4zM192.3 400.6h1.4v1.4h-1.4zM135.8 403.2h1.4v1.4h-1.4zM244.9 394.2h1.4v1.4h-1.4zM146.9 421.1h1.4v1.4h-1.4zM120.0 422.3h1.4v1.4h-1.4zM154.5 406.4h1.4v1.4h-1.4zM161.1 415.8h1.4v1.4h-1.4zM164.7 407.2h1.4v1.4h-1.4zM113.4 403.0h1.4v1.4h-1.4zM249.0 406.8h1.4v1.4h-1.4zM200.5 403.8h1.4v1.4h-1.4zM129.5 401.4h1.4v1.4h-1.4zM170.0 409.6h1.4v1.4h-1.4zM122.0 423.7h1.4v1.4h-1.4zM166.3 401.9h1.4v1.4h-1.4zM260.5 394.3h1.4v1.4h-1.4zM137.7 404.1h1.4v1.4h-1.4zM221.0 410.8h1.4v1.4h-1.4zM110.8 417.5h1.4v1.4h-1.4zM145.3 401.6h1.4v1.4h-1.4zM121.3 416.5h1.4v1.4h-1.4zM158.2 423.4h1.4v1.4h-1.4zM158.6 408.5h1.4v1.4h-1.4zM247.0 403.8h1.4v1.4h-1.4zM212.0 404.0h1.4v1.4h-1.4zM244.6 394.4h1.4v1.4h-1.4zM141.1 408.0h1.4v1.4h-1.4zM186.1 393.0h1.4v1.4h-1.4zM187.3 421.9h1.4v1.4h-1.4zM127.4 419.6h1.4v1.4h-1.4zM235.2 394.5h1.4v1.4h-1.4zM234.3 399.5h1.4v1.4h-1.4zM219.1 413.6h1.4v1.4h-1.4zM282.7 395.8h1.4v1.4h-1.4zM109.8 416.4h1.4v1.4h-1.4zM228.1 400.4h1.4v1.4h-1.4zM206.9 408.3h1.4v1.4h-1.4zM270.7 404.1h1.4v1.4h-1.4zM117.9 409.1h1.4v1.4h-1.4zM142.7 408.5h1.4v1.4h-1.4zM150.6 401.7h1.4v1.4h-1.4zM256.6 407.9h1.4v1.4h-1.4zM140.3 408.9h1.4v1.4h-1.4zM121.9 422.9h1.4v1.4h-1.4zM129.8 428.5h1.4v1.4h-1.4zM231.1 410.8h1.4v1.4h-1.4zM159.7 423.0h1.4v1.4h-1.4zM128.5 409.4h1.4v1.4h-1.4zM141.8 413.2h1.4v1.4h-1.4zM266.7 398.1h1.4v1.4h-1.4zM225.1 415.0h1.4v1.4h-1.4zM201.3 401.8h1.4v1.4h-1.4zM128.6 395.1h1.4v1.4h-1.4zM208.5 405.1h1.4v1.4h-1.4zM201.3 387.5h1.4v1.4h-1.4zM184.5 390.1h1.4v1.4h-1.4zM137.5 429.8h1.4v1.4h-1.4zM118.9 404.9h1.4v1.4h-1.4zM233.9 391.3h1.4v1.4h-1.4zM181.2 421.4h1.4v1.4h-1.4zM162.8 412.8h1.4v1.4h-1.4zM272.6 413.7h1.4v1.4h-1.4zM117.9 402.0h1.4v1.4h-1.4zM132.9 427.6h1.4v1.4h-1.4zM113.7 421.0h1.4v1.4h-1.4zM286.1 387.8h1.4v1.4h-1.4zM111.7 417.1h1.4v1.4h-1.4zM165.0 416.2h1.4v1.4h-1.4zM166.1 403.5h1.4v1.4h-1.4zM202.8 402.7h1.4v1.4h-1.4zM150.1 431.8h1.4v1.4h-1.4zM224.7 412.4h1.4v1.4h-1.4zM233.7 402.2h1.4v1.4h-1.4zM121.1 439.0h1.4v1.4h-1.4zM122.6 411.9h1.4v1.4h-1.4zM148.6 397.2h1.4v1.4h-1.4zM165.1 405.3h1.4v1.4h-1.4zM210.6 413.5h1.4v1.4h-1.4zM107.3 421.5h1.4v1.4h-1.4zM157.8 395.0h1.4v1.4h-1.4zM199.9 402.3h1.4v1.4h-1.4zM125.9 393.0h1.4v1.4h-1.4zM278.7 384.3h1.4v1.4h-1.4zM132.2 403.0h1.4v1.4h-1.4zM235.5 390.4h1.4v1.4h-1.4zM229.5 406.7h1.4v1.4h-1.4zM188.6 400.8h1.4v1.4h-1.4zM190.1 406.2h1.4v1.4h-1.4zM116.7 415.2h1.4v1.4h-1.4zM258.2 398.5h1.4v1.4h-1.4zM190.9 398.4h1.4v1.4h-1.4zM261.6 403.5h1.4v1.4h-1.4zM168.3 413.0h1.4v1.4h-1.4zM263.3 405.2h1.4v1.4h-1.4zM172.2 407.0h1.4v1.4h-1.4zM135.0 416.2h1.4v1.4h-1.4zM240.8 409.8h1.4v1.4h-1.4zM216.6 396.7h1.4v1.4h-1.4zM205.3 399.5h1.4v1.4h-1.4zM272.3 381.1h1.4v1.4h-1.4zM283.7 404.4h1.4v1.4h-1.4zM266.3 404.4h1.4v1.4h-1.4zM271.4 408.4h1.4v1.4h-1.4zM186.7 413.0h1.4v1.4h-1.4zM167.8 411.2h1.4v1.4h-1.4zM135.1 427.1h1.4v1.4h-1.4zM134.0 410.9h1.4v1.4h-1.4zM117.7 425.1h1.4v1.4h-1.4zM277.3 393.9h1.4v1.4h-1.4zM167.5 416.8h1.4v1.4h-1.4zM262.7 404.0h1.4v1.4h-1.4z"/>
<path fill="#141414" d="M384.4 163.6h1.7v1.7h-1.7zM385.4 159.9h1.7v1.7h-1.7zM420.6 149.1h1.7v1.7h-1.7zM413.4 154.1h1.7v1.7h-1.7zM387.5 155.6h1.7v1.7h-1.7zM328.4 163.5h1.7v1.7h-1.7zM370.2 161.6h1.7v1.7h-1.7zM414.6 151.5h1.7v1.7h-1.7zM416.4 150.8h1.7v1.7h-1.7zM433.6 151.0h1.7v1.7h-1.7zM426.2 151.3h1.7v1.7h-1.7zM386.0 155.1h1.7v1.7h-1.7zM424.6 152.0h1.7v1.7h-1.7zM401.5 158.7h1.7v1.7h-1.7zM424.2 150.4h1.7v1.7h-1.7zM388.4 159.3h1.7v1.7h-1.7zM425.2 148.6h1.7v1.7h-1.7zM407.9 149.9h1.7v1.7h-1.7zM429.2 150.0h1.7v1.7h-1.7zM343.9 165.7h1.7v1.7h-1.7zM362.8 159.0h1.7v1.7h-1.7zM341.6 162.2h1.7v1.7h-1.7zM444.1 152.5h1.7v1.7h-1.7zM439.9 148.2h1.7v1.7h-1.7zM411.1 151.8h1.7v1.7h-1.7zM352.1 163.4h1.7v1.7h-1.7zM366.1 161.0h1.7v1.7h-1.7zM417.1 152.6h1.7v1.7h-1.7zM406.7 149.1h1.7v1.7h-1.7zM423.5 150.4h1.7v1.7h-1.7zM322.1 164.5h1.7v1.7h-1.7zM424.2 150.9h1.7v1.7h-1.7zM387.5 152.5h1.7v1.7h-1.7zM396.3 152.2h1.7v1.7h-1.7zM443.5 149.5h1.7v1.7h-1.7zM345.8 168.0h1.7v1.7h-1.7zM386.0 158.9h1.7v1.7h-1.7zM416.7 153.7h1.7v1.7h-1.7zM428.7 149.6h1.7v1.7h-1.7zM340.7 164.2h1.7v1.7h-1.7zM408.3 156.1h1.7v1.7h-1.7zM357.9 161.7h1.7v1.7h-1.7zM389.2 160.8h1.7v1.7h-1.7zM334.4 165.2h1.7v1.7h-1.7zM356.1 165.2h1.7v1.7h-1.7zM441.0 148.3h1.7v1.7h-1.7zM359.4 166.4h1.7v1.7h-1.7zM418.5 149.9h1.7v1.7h-1.7zM417.7 152.2h1.7v1.7h-1.7zM374.9 158.8h1.7v1.7h-1.7zM373.4 159.0h1.7v1.7h-1.7zM422.8 152.1h1.7v1.7h-1.7zM408.1 155.7h1.7v1.7h-1.7zM337.1 166.4h1.7v1.7h-1.7zM368.0 158.7h1.7v1.7h-1.7zM426.0 148.4h1.7v1.7h-1.7zM396.6 154.5h1.7v1.7h-1.7zM294.9 169.9h1.7v1.7h-1.7zM356.6 161.1h1.7v1.7h-1.7zM367.1 156.1h1.7v1.7h-1.7zM386.9 158.9h1.7v1.7h-1.7zM373.0 157.5h1.7v1.7h-1.7zM371.7 161.4h1.7v1.7h-1.7zM366.4 158.9h1.7v1.7h-1.7zM386.8 157.8h1.7v1.7h-1.7zM296.9 172.6h1.7v1.7h-1.7zM391.7 156.0h1.7v1.7h-1.7zM433.5 151.7h1.7v1.7h-1.7zM422.7 151.7h1.7v1.7h-1.7zM424.8 150.9h1.7v1.7h-1.7zM335.5 164.0h1.7v1.7h-1.7zM359.0 166.1h1.7v1.7h-1.7zM424.6 154.7h1.7v1.7h-1.7zM400.8 159.1h1.7v1.7h-1.7zM399.6 154.3h1.7v1.7h-1.7zM436.9 149.6h1.7v1.7h-1.7zM431.0 151.0h1.7v1.7h-1.7zM373.3 153.5h1.7v1.7h-1.7zM353.5 160.4h1.7v1.7h-1.7zM397.9 158.0h1.7v1.7h-1.7zM377.2 156.6h1.7v1.7h-1.7zM313.9 172.3h1.7v1.7h-1.7zM342.5 170.3h1.7v1.7h-1.7zM377.3 163.7h1.7v1.7h-1.7zM444.4 147.6h1.7v1.7h-1.7zM343.7 170.2h1.7v1.7h-1.7zM422.1 152.6h1.7v1.7h-1.7zM294.0 173.3h1.7v1.7h-1.7zM339.9 168.8h1.7v1.7h-1.7zM382.9 159.3h1.7v1.7h-1.7zM427.3 149.6h1.7v1.7h-1.7zM347.1 165.7h1.7v1.7h-1.7zM437.9 151.5h1.7v1.7h-1.7zM412.8 153.2h1.7v1.7h-1.7zM412.1 149.7h1.7v1.7h-1.7zM367.7 157.4h1.7v1.7h-1.7zM439.5 147.4h1.7v1.7h-1.7zM390.6 156.4h1.7v1.7h-1.7zM423.4 153.9h1.7v1.7h-1.7zM357.3 160.3h1.7v1.7h-1.7zM362.3 157.0h1.7v1.7h-1.7zM426.8 147.3h1.7v1.7h-1.7zM404.5 153.7h1.7v1.7h-1.7zM430.2 149.9h1.7v1.7h-1.7zM342.8 164.4h1.7v1.7h-1.7zM377.6 156.4h1.7v1.7h-1.7zM386.6 150.7h1.7v1.7h-1.7zM379.5 157.5h1.7v1.7h-1.7zM360.0 163.8h1.7v1.7h-1.7zM385.2 162.0h1.7v1.7h-1.7zM393.1 150.7h1.7v1.7h-1.7zM436.4 151.2h1.7v1.7h-1.7zM442.5 147.8h1.7v1.7h-1.7zM413.2 152.5h1.7v1.7h-1.7zM318.4 167.8h1.7v1.7h-1.7zM375.2 155.7h1.7v1.7h-1.7zM418.2 148.6h1.7v1.7h-1.7zM375.6 161.0h1.7v1.7h-1.7zM410.3 155.8h1.7v1.7h-1.7zM379.1 160.8h1.7v1.7h-1.7zM433.8 149.9h1.7v1.7h-1.7zM422.3 151.8h1.7v1.7h-1.7zM368.2 158.1h1.7v1.7h-1.7zM435.5 149.4h1.7v1.7h-1.7zM373.3 163.4h1.7v1.7h-1.7zM332.2 168.9h1.7v1.7h-1.7zM306.6 169.9h1.7v1.7h-1.7zM372.9 158.0h1.7v1.7h-1.7zM387.6 156.7h1.7v1.7h-1.7zM394.4 156.5h1.7v1.7h-1.7zM364.1 165.3h1.7v1.7h-1.7zM435.2 150.7h1.7v1.7h-1.7zM394.3 155.6h1.7v1.7h-1.7zM408.7 150.0h1.7v1.7h-1.7zM347.2 165.3h1.7v1.7h-1.7zM308.9 163.8h1.7v1.7h-1.7zM335.6 168.2h1.7v1.7h-1.7zM417.7 150.2h1.7v1.7h-1.7zM337.9 164.5h1.7v1.7h-1.7zM404.1 151.1h1.7v1.7h-1.7zM353.0 164.0h1.7v1.7h-1.7zM323.3 166.0h1.7v1.7h-1.7zM396.3 159.7h1.7v1.7h-1.7zM416.0 158.1h1.7v1.7h-1.7zM307.8 171.4h1.7v1.7h-1.7zM331.2 165.1h1.7v1.7h-1.7zM398.0 156.0h1.7v1.7h-1.7zM380.9 160.9h1.7v1.7h-1.7zM402.2 156.1h1.7v1.7h-1.7zM415.6 152.6h1.7v1.7h-1.7zM417.8 155.0h1.7v1.7h-1.7zM437.6 152.5h1.7v1.7h-1.7zM403.9 156.8h1.7v1.7h-1.7zM398.8 155.9h1.7v1.7h-1.7zM433.8 150.9h1.7v1.7h-1.7zM414.0 152.1h1.7v1.7h-1.7zM331.9 166.1h1.7v1.7h-1.7zM296.1 171.2h1.7v1.7h-1.7zM295.6 173.0h1.7v1.7h-1.7zM381.7 155.0h1.7v1.7h-1.7zM419.7 156.6h1.7v1.7h-1.7zM326.1 164.9h1.7v1.7h-1.7zM402.7 152.4h1.7v1.7h-1.7zM416.7 153.9h1.7v1.7h-1.7zM298.2 171.5h1.7v1.7h-1.7zM399.9 156.6h1.7v1.7h-1.7zM391.6 154.5h1.7v1.7h-1.7zM397.6 157.6h1.7v1.7h-1.7zM444.8 147.5h1.7v1.7h-1.7zM353.2 160.3h1.7v1.7h-1.7zM429.5 152.7h1.7v1.7h-1.7zM349.2 167.7h1.7v1.7h-1.7zM383.8 152.7h1.7v1.7h-1.7zM380.0 154.8h1.7v1.7h-1.7zM444.0 148.3h1.7v1.7h-1.7zM351.5 162.7h1.7v1.7h-1.7zM412.3 148.2h1.7v1.7h-1.7zM351.7 181.3h1.6v1.6h-1.6zM374.4 172.9h1.6v1.6h-1.6zM366.4 179.8h1.6v1.6h-1.6zM294.8 174.6h1.6v1.6h-1.6zM391.6 168.6h1.6v1.6h-1.6zM333.3 174.9h1.6v1.6h-1.6zM314.9 169.7h1.6v1.6h-1.6zM374.2 164.8h1.6v1.6h-1.6zM350.1 183.4h1.6v1.6h-1.6zM379.2 165.5h1.6v1.6h-1.6zM371.5 182.4h1.6v1.6h-1.6zM389.4 173.6h1.6v1.6h-1.6zM372.0 164.1h1.6v1.6h-1.6zM352.4 166.5h1.6v1.6h-1.6zM370.2 170.3h1.6v1.6h-1.6zM387.2 166.5h1.6v1.6h-1.6zM337.8 180.0h1.6v1.6h-1.6zM340.9 166.5h1.6v1.6h-1.6zM332.6 170.4h1.6v1.6h-1.6zM387.5 164.0h1.6v1.6h-1.6zM322.3 167.4h1.6v1.6h-1.6zM395.0 165.6h1.6v1.6h-1.6zM308.3 180.8h1.6v1.6h-1.6zM346.1 165.2h1.6v1.6h-1.6zM347.5 163.7h1.6v1.6h-1.6zM300.2 193.0h1.6v1.6h-1.6zM338.9 171.6h1.6v1.6h-1.6zM332.2 181.7h1.6v1.6h-1.6zM326.5 180.3h1.6v1.6h-1.6zM399.9 156.7h1.6v1.6h-1.6zM312.0 178.7h1.6v1.6h-1.6zM374.0 173.0h1.6v1.6h-1.6zM377.9 172.9h1.6v1.6h-1.6zM299.1 188.1h1.6v1.6h-1.6zM327.0 183.3h1.6v1.6h-1.6zM370.7 171.7h1.6v1.6h-1.6zM298.4 187.0h1.6v1.6h-1.6zM394.8 166.9h1.6v1.6h-1.6zM297.7 187.1h1.6v1.6h-1.6zM379.1 153.8h1.6v1.6h-1.6zM391.9 153.7h1.6v1.6h-1.6zM296.6 173.4h1.6v1.6h-1.6zM331.0 180.5h1.6v1.6h-1.6zM397.0 161.8h1.6v1.6h-1.6zM388.9 165.8h1.6v1.6h-1.6zM389.0 169.3h1.6v1.6h-1.6zM329.4 169.4h1.6v1.6h-1.6zM380.9 168.7h1.6v1.6h-1.6zM348.4 181.5h1.6v1.6h-1.6zM394.1 162.5h1.6v1.6h-1.6zM306.0 182.8h1.6v1.6h-1.6zM328.1 172.5h1.6v1.6h-1.6zM392.2 163.4h1.6v1.6h-1.6zM336.4 163.3h1.6v1.6h-1.6zM313.0 170.5h1.6v1.6h-1.6zM358.8 159.8h1.6v1.6h-1.6zM318.2 184.1h1.6v1.6h-1.6zM335.4 166.0h1.6v1.6h-1.6zM330.9 176.4h1.6v1.6h-1.6zM327.6 170.0h1.6v1.6h-1.6zM384.1 172.8h1.6v1.6h-1.6zM311.5 180.7h1.6v1.6h-1.6zM393.7 170.9h1.6v1.6h-1.6zM387.8 157.3h1.6v1.6h-1.6zM370.6 166.0h1.6v1.6h-1.6zM323.0 176.7h1.6v1.6h-1.6zM396.0 153.8h1.6v1.6h-1.6zM380.1 167.8h1.6v1.6h-1.6zM303.8 186.8h1.6v1.6h-1.6zM306.8 182.5h1.6v1.6h-1.6zM300.3 183.2h1.6v1.6h-1.6zM378.3 162.1h1.6v1.6h-1.6zM372.5 167.5h1.6v1.6h-1.6zM379.4 173.8h1.6v1.6h-1.6zM361.0 174.9h1.6v1.6h-1.6zM299.5 172.7h1.6v1.6h-1.6zM297.2 186.1h1.6v1.6h-1.6zM300.0 170.7h1.6v1.6h-1.6zM306.2 180.0h1.6v1.6h-1.6zM291.0 180.4h1.6v1.6h-1.6zM299.9 175.0h1.6v1.6h-1.6zM298.9 171.8h1.6v1.6h-1.6zM300.7 176.8h1.6v1.6h-1.6zM294.2 177.2h1.6v1.6h-1.6zM297.7 178.7h1.6v1.6h-1.6zM299.1 183.0h1.6v1.6h-1.6zM298.6 173.9h1.6v1.6h-1.6zM287.3 175.1h1.6v1.6h-1.6zM290.2 180.7h1.6v1.6h-1.6zM307.4 179.7h1.6v1.6h-1.6zM294.4 167.5h1.6v1.6h-1.6zM301.0 177.4h1.6v1.6h-1.6zM297.5 184.8h1.6v1.6h-1.6zM293.1 176.1h1.6v1.6h-1.6zM308.6 166.9h1.6v1.6h-1.6zM302.1 181.4h1.6v1.6h-1.6zM291.3 183.5h1.6v1.6h-1.6zM295.3 178.5h1.6v1.6h-1.6zM297.2 173.5h1.6v1.6h-1.6zM299.4 177.0h1.6v1.6h-1.6zM302.0 173.2h1.6v1.6h-1.6zM295.6 170.5h1.6v1.6h-1.6zM301.5 184.0h1.6v1.6h-1.6zM304.2 180.3h1.6v1.6h-1.6zM293.6 174.9h1.6v1.6h-1.6zM53.0 234.6h1.3v1.3h-1.3zM55.0 234.4h1.3v1.3h-1.3zM57.0 234.4h1.3v1.3h-1.3zM60.0 234.4h1.3v1.3h-1.3zM66.0 233.7h1.3v1.3h-1.3zM70.0 234.7h1.3v1.3h-1.3zM79.0 234.4h1.3v1.3h-1.3zM82.0 234.3h1.3v1.3h-1.3zM97.0 234.4h1.3v1.3h-1.3zM101.0 233.7h1.3v1.3h-1.3zM104.0 234.7h1.3v1.3h-1.3zM108.0 234.8h1.3v1.3h-1.3zM306.2 282.7h1.6v1.6h-1.6zM446.7 257.6h1.6v1.6h-1.6zM306.2 283.3h1.6v1.6h-1.6zM423.1 262.6h1.6v1.6h-1.6zM426.7 260.0h1.6v1.6h-1.6zM415.9 264.4h1.6v1.6h-1.6zM352.3 276.3h1.6v1.6h-1.6zM300.8 284.3h1.6v1.6h-1.6zM438.2 259.9h1.6v1.6h-1.6zM326.1 278.7h1.6v1.6h-1.6zM439.3 260.0h1.6v1.6h-1.6zM420.2 273.0h1.6v1.6h-1.6zM407.5 265.6h1.6v1.6h-1.6zM322.9 281.5h1.6v1.6h-1.6zM446.9 260.1h1.6v1.6h-1.6zM400.9 277.2h1.6v1.6h-1.6zM365.1 274.6h1.6v1.6h-1.6zM381.6 266.0h1.6v1.6h-1.6zM346.6 276.9h1.6v1.6h-1.6zM433.4 262.8h1.6v1.6h-1.6zM351.3 275.3h1.6v1.6h-1.6zM421.6 257.6h1.6v1.6h-1.6zM364.5 277.5h1.6v1.6h-1.6zM392.7 267.8h1.6v1.6h-1.6zM335.4 274.4h1.6v1.6h-1.6zM406.4 262.0h1.6v1.6h-1.6zM327.3 276.8h1.6v1.6h-1.6zM348.9 274.5h1.6v1.6h-1.6zM443.8 258.5h1.6v1.6h-1.6zM378.2 265.9h1.6v1.6h-1.6zM337.6 277.1h1.6v1.6h-1.6zM294.8 279.0h1.6v1.6h-1.6zM380.8 274.0h1.6v1.6h-1.6zM423.8 262.5h1.6v1.6h-1.6zM448.1 260.4h1.6v1.6h-1.6zM310.0 280.0h1.6v1.6h-1.6zM410.1 268.5h1.6v1.6h-1.6zM372.4 271.5h1.6v1.6h-1.6zM425.2 261.2h1.6v1.6h-1.6zM420.9 267.4h1.6v1.6h-1.6zM350.4 280.1h1.6v1.6h-1.6zM305.6 285.3h1.6v1.6h-1.6zM370.8 275.9h1.6v1.6h-1.6zM399.6 270.1h1.6v1.6h-1.6zM324.8 277.6h1.6v1.6h-1.6zM421.2 260.3h1.6v1.6h-1.6zM392.0 271.9h1.6v1.6h-1.6zM449.7 264.2h1.6v1.6h-1.6zM417.6 267.6h1.6v1.6h-1.6zM377.7 271.5h1.6v1.6h-1.6zM378.1 271.1h1.6v1.6h-1.6zM308.4 280.7h1.6v1.6h-1.6zM303.2 282.7h1.6v1.6h-1.6zM318.2 282.6h1.6v1.6h-1.6zM298.8 282.4h1.6v1.6h-1.6zM299.7 275.6h1.6v1.6h-1.6zM307.6 281.7h1.6v1.6h-1.6zM293.1 284.1h1.6v1.6h-1.6zM300.5 290.2h1.6v1.6h-1.6zM297.0 284.8h1.6v1.6h-1.6zM311.5 282.6h1.6v1.6h-1.6zM306.2 289.6h1.6v1.6h-1.6zM295.9 285.2h1.6v1.6h-1.6zM293.8 285.5h1.6v1.6h-1.6zM304.5 282.1h1.6v1.6h-1.6zM304.2 288.0h1.6v1.6h-1.6zM298.7 282.7h1.6v1.6h-1.6zM298.9 284.6h1.6v1.6h-1.6zM299.0 278.7h1.6v1.6h-1.6zM313.6 289.5h1.6v1.6h-1.6zM295.9 287.3h1.6v1.6h-1.6zM306.9 282.7h1.6v1.6h-1.6zM306.4 282.1h1.6v1.6h-1.6zM304.5 280.0h1.6v1.6h-1.6zM298.9 281.0h1.6v1.6h-1.6zM307.7 279.7h1.6v1.6h-1.6zM299.3 290.4h1.6v1.6h-1.6zM303.4 284.1h1.6v1.6h-1.6zM295.0 283.8h1.6v1.6h-1.6zM306.2 280.4h1.6v1.6h-1.6zM294.0 385.2h1.5v1.5h-1.5zM336.5 380.2h1.5v1.5h-1.5zM340.3 382.7h1.5v1.5h-1.5zM342.0 385.2h1.5v1.5h-1.5zM342.0 397.5h1.5v1.5h-1.5zM352.0 369.0h1.5v1.5h-1.5zM361.0 370.5h1.5v1.5h-1.5zM377.0 379.0h1.5v1.5h-1.5zM395.0 373.0h1.5v1.5h-1.5zM405.8 370.5h1.5v1.5h-1.5zM416.5 366.8h1.5v1.5h-1.5zM148.2 450.3h1.4v1.4h-1.4zM79.6 446.4h1.4v1.4h-1.4zM60.4 449.7h1.4v1.4h-1.4zM96.2 451.8h1.4v1.4h-1.4zM68.7 449.5h1.4v1.4h-1.4zM79.2 446.7h1.4v1.4h-1.4zM88.1 451.8h1.4v1.4h-1.4zM77.1 447.5h1.4v1.4h-1.4zM72.9 449.6h1.4v1.4h-1.4zM63.5 445.8h1.4v1.4h-1.4zM175.8 452.0h1.4v1.4h-1.4zM71.0 445.6h1.4v1.4h-1.4zM53.7 448.6h1.4v1.4h-1.4zM169.7 445.6h1.4v1.4h-1.4zM79.4 446.5h1.4v1.4h-1.4zM70.8 447.9h1.4v1.4h-1.4zM64.0 447.6h1.4v1.4h-1.4zM66.3 445.2h1.4v1.4h-1.4zM191.1 449.9h1.4v1.4h-1.4zM69.3 449.5h1.4v1.4h-1.4zM60.4 450.1h1.4v1.4h-1.4zM56.7 445.3h1.4v1.4h-1.4zM55.2 447.0h1.4v1.4h-1.4zM115.8 451.7h1.4v1.4h-1.4zM54.1 447.6h1.4v1.4h-1.4zM77.4 445.7h1.4v1.4h-1.4zM81.2 449.2h1.4v1.4h-1.4zM82.7 444.8h1.4v1.4h-1.4zM67.8 444.7h1.4v1.4h-1.4zM80.6 451.1h1.4v1.4h-1.4zM55.6 451.9h1.4v1.4h-1.4zM73.4 452.3h1.4v1.4h-1.4zM62.0 452.2h1.4v1.4h-1.4zM79.8 445.3h1.4v1.4h-1.4zM54.1 449.5h1.4v1.4h-1.4zM73.9 450.8h1.4v1.4h-1.4zM175.7 448.8h1.4v1.4h-1.4zM75.1 447.9h1.4v1.4h-1.4zM92.9 447.8h1.4v1.4h-1.4zM111.2 446.8h1.4v1.4h-1.4zM57.9 452.1h1.4v1.4h-1.4zM63.4 450.8h1.4v1.4h-1.4zM104.5 445.1h1.4v1.4h-1.4zM58.6 447.0h1.4v1.4h-1.4zM64.5 449.6h1.4v1.4h-1.4zM65.3 450.9h1.4v1.4h-1.4zM62.8 451.1h1.4v1.4h-1.4zM65.2 452.8h1.4v1.4h-1.4zM74.7 448.1h1.4v1.4h-1.4zM54.4 449.3h1.4v1.4h-1.4zM85.6 448.4h1.4v1.4h-1.4zM69.2 449.1h1.4v1.4h-1.4zM77.3 451.2h1.4v1.4h-1.4zM77.1 446.8h1.4v1.4h-1.4zM99.3 451.9h1.4v1.4h-1.4zM56.3 450.1h1.4v1.4h-1.4zM70.6 449.9h1.4v1.4h-1.4zM172.0 450.0h1.4v1.4h-1.4zM94.1 447.9h1.4v1.4h-1.4zM66.7 446.1h1.4v1.4h-1.4zM53.2 452.4h1.4v1.4h-1.4zM114.4 445.6h1.4v1.4h-1.4zM66.8 445.1h1.4v1.4h-1.4zM69.5 452.2h1.4v1.4h-1.4zM178.4 449.0h1.4v1.4h-1.4zM79.2 450.1h1.4v1.4h-1.4zM52.7 447.3h1.4v1.4h-1.4zM193.5 448.5h1.4v1.4h-1.4zM123.8 447.4h1.4v1.4h-1.4zM75.9 448.9h1.4v1.4h-1.4zM123.0 450.4h1.4v1.4h-1.4zM133.2 453.0h1.4v1.4h-1.4zM62.0 445.1h1.4v1.4h-1.4zM54.1 444.6h1.4v1.4h-1.4zM64.5 444.7h1.4v1.4h-1.4zM143.4 446.3h1.4v1.4h-1.4zM67.4 451.8h1.4v1.4h-1.4zM66.4 446.3h1.4v1.4h-1.4zM114.7 449.9h1.4v1.4h-1.4zM54.5 450.0h1.4v1.4h-1.4zM109.9 447.7h1.4v1.4h-1.4zM75.4 445.0h1.4v1.4h-1.4zM74.4 447.7h1.4v1.4h-1.4zM92.5 449.3h1.4v1.4h-1.4zM105.7 448.9h1.4v1.4h-1.4zM53.6 452.8h1.4v1.4h-1.4zM197.1 446.2h1.4v1.4h-1.4zM67.2 452.5h1.4v1.4h-1.4zM58.6 450.9h1.4v1.4h-1.4zM65.5 447.1h1.4v1.4h-1.4zM142.8 446.8h1.4v1.4h-1.4zM92.9 450.6h1.4v1.4h-1.4zM67.1 445.9h1.4v1.4h-1.4zM61.5 447.9h1.4v1.4h-1.4zM64.1 448.8h1.4v1.4h-1.4zM112.5 449.3h1.4v1.4h-1.4zM165.4 452.7h1.4v1.4h-1.4zM79.5 448.9h1.4v1.4h-1.4zM66.0 447.9h1.4v1.4h-1.4zM64.1 452.6h1.4v1.4h-1.4zM61.3 447.7h1.4v1.4h-1.4zM84.1 451.7h1.4v1.4h-1.4zM160.3 446.6h1.4v1.4h-1.4zM72.2 447.6h1.4v1.4h-1.4zM66.4 449.5h1.4v1.4h-1.4zM67.7 450.7h1.4v1.4h-1.4zM79.4 451.9h1.4v1.4h-1.4zM161.6 452.9h1.4v1.4h-1.4zM95.0 446.3h1.4v1.4h-1.4zM86.9 451.3h1.4v1.4h-1.4zM85.7 450.3h1.4v1.4h-1.4zM52.6 452.5h1.4v1.4h-1.4zM82.4 448.6h1.4v1.4h-1.4zM58.3 450.5h1.4v1.4h-1.4zM54.0 448.7h1.4v1.4h-1.4zM68.0 447.0h1.4v1.4h-1.4zM91.2 449.5h1.4v1.4h-1.4zM154.1 446.8h1.4v1.4h-1.4zM79.0 450.9h1.4v1.4h-1.4zM60.7 451.2h1.4v1.4h-1.4zM71.7 449.7h1.4v1.4h-1.4zM106.6 450.9h1.4v1.4h-1.4zM74.5 450.5h1.4v1.4h-1.4zM52.3 449.9h1.4v1.4h-1.4zM185.4 451.9h1.4v1.4h-1.4zM68.1 451.9h1.4v1.4h-1.4zM59.4 449.1h1.4v1.4h-1.4zM84.2 452.7h1.4v1.4h-1.4zM56.1 452.0h1.4v1.4h-1.4zM78.1 452.6h1.4v1.4h-1.4zM59.5 452.7h1.4v1.4h-1.4zM69.1 451.8h1.4v1.4h-1.4zM72.3 449.5h1.4v1.4h-1.4zM81.3 452.5h1.4v1.4h-1.4zM197.4 447.4h1.4v1.4h-1.4zM66.9 448.4h1.4v1.4h-1.4zM82.6 450.5h1.4v1.4h-1.4zM77.8 450.0h1.4v1.4h-1.4zM63.1 451.2h1.4v1.4h-1.4zM100.4 447.0h1.4v1.4h-1.4zM53.8 449.5h1.4v1.4h-1.4zM62.5 445.0h1.4v1.4h-1.4zM54.3 449.8h1.4v1.4h-1.4zM155.1 448.2h1.4v1.4h-1.4zM73.3 445.2h1.4v1.4h-1.4zM79.3 445.0h1.4v1.4h-1.4zM171.2 450.8h1.4v1.4h-1.4zM156.4 447.5h1.4v1.4h-1.4zM153.2 449.8h1.4v1.4h-1.4zM102.2 451.0h1.4v1.4h-1.4zM379.0 583.7h1.9v1.9h-1.9zM341.8 597.7h1.9v1.9h-1.9zM368.1 592.2h1.9v1.9h-1.9zM347.8 587.9h1.9v1.9h-1.9zM391.8 592.3h1.9v1.9h-1.9zM369.9 605.4h1.9v1.9h-1.9zM362.6 579.5h1.9v1.9h-1.9zM358.3 589.7h1.9v1.9h-1.9zM372.1 595.4h1.9v1.9h-1.9zM377.4 593.7h1.9v1.9h-1.9zM369.9 581.0h1.9v1.9h-1.9zM374.4 598.4h1.9v1.9h-1.9zM298.4 590.9h1.9v1.9h-1.9zM380.6 594.6h1.9v1.9h-1.9zM382.7 600.0h1.9v1.9h-1.9zM361.7 574.4h1.9v1.9h-1.9zM389.6 587.6h1.9v1.9h-1.9zM386.0 588.3h1.9v1.9h-1.9zM372.3 591.9h1.9v1.9h-1.9zM358.4 605.3h1.9v1.9h-1.9zM354.5 591.7h1.9v1.9h-1.9zM352.5 597.8h1.9v1.9h-1.9zM350.3 582.4h1.9v1.9h-1.9zM376.9 597.4h1.9v1.9h-1.9zM374.3 589.7h1.9v1.9h-1.9zM346.8 593.4h1.9v1.9h-1.9zM364.7 582.0h1.9v1.9h-1.9zM351.3 590.6h1.9v1.9h-1.9zM381.5 590.6h1.9v1.9h-1.9zM368.3 591.7h1.9v1.9h-1.9zM350.3 595.9h1.9v1.9h-1.9zM368.7 592.1h1.9v1.9h-1.9zM385.0 579.9h1.9v1.9h-1.9zM352.6 582.5h1.9v1.9h-1.9zM355.1 595.1h1.9v1.9h-1.9zM362.7 590.3h1.9v1.9h-1.9zM387.5 580.6h1.9v1.9h-1.9zM367.5 594.4h1.9v1.9h-1.9zM376.8 591.9h1.9v1.9h-1.9zM385.1 599.3h1.9v1.9h-1.9zM362.0 583.4h1.9v1.9h-1.9zM383.2 585.6h1.9v1.9h-1.9zM383.2 586.6h1.9v1.9h-1.9zM379.9 596.4h1.9v1.9h-1.9zM374.7 582.6h1.9v1.9h-1.9zM380.7 585.8h1.9v1.9h-1.9zM373.5 605.3h1.9v1.9h-1.9zM372.4 582.9h1.9v1.9h-1.9zM360.6 595.9h1.9v1.9h-1.9zM342.1 585.7h1.9v1.9h-1.9zM371.5 575.9h1.9v1.9h-1.9zM381.8 588.5h1.9v1.9h-1.9zM395.2 594.1h1.9v1.9h-1.9zM343.5 605.8h1.9v1.9h-1.9zM374.5 586.0h1.9v1.9h-1.9zM376.5 576.5h1.9v1.9h-1.9zM346.4 599.5h1.9v1.9h-1.9zM368.9 582.2h1.9v1.9h-1.9zM378.9 587.9h1.9v1.9h-1.9zM376.5 578.2h1.9v1.9h-1.9zM353.9 598.8h1.9v1.9h-1.9zM345.5 595.0h1.9v1.9h-1.9zM401.4 586.8h1.9v1.9h-1.9zM375.5 582.5h1.9v1.9h-1.9zM372.9 600.6h1.9v1.9h-1.9zM320.4 593.1h1.9v1.9h-1.9zM360.4 594.6h1.9v1.9h-1.9zM387.5 583.8h1.9v1.9h-1.9zM337.6 593.4h1.9v1.9h-1.9zM368.5 573.5h1.9v1.9h-1.9zM361.8 592.2h1.9v1.9h-1.9zM376.6 585.1h1.9v1.9h-1.9zM354.0 592.1h1.9v1.9h-1.9zM371.1 591.9h1.9v1.9h-1.9zM400.9 594.8h1.9v1.9h-1.9zM353.0 594.8h1.9v1.9h-1.9zM362.6 587.1h1.9v1.9h-1.9zM367.5 590.0h1.9v1.9h-1.9zM373.0 587.1h1.9v1.9h-1.9zM370.7 580.3h1.9v1.9h-1.9zM378.6 585.8h1.9v1.9h-1.9zM343.5 593.1h1.9v1.9h-1.9zM354.9 596.4h1.9v1.9h-1.9zM386.0 592.0h1.9v1.9h-1.9zM370.0 579.0h1.9v1.9h-1.9zM353.3 595.5h1.9v1.9h-1.9zM388.4 581.1h1.9v1.9h-1.9zM338.6 591.1h1.9v1.9h-1.9zM376.8 607.0h1.9v1.9h-1.9zM374.7 571.9h1.9v1.9h-1.9zM347.7 588.9h1.9v1.9h-1.9zM356.9 592.3h1.9v1.9h-1.9zM367.8 591.7h1.9v1.9h-1.9zM350.9 600.2h1.9v1.9h-1.9zM373.1 602.2h1.9v1.9h-1.9zM376.4 580.5h1.9v1.9h-1.9zM372.6 582.0h1.9v1.9h-1.9zM353.3 595.5h1.9v1.9h-1.9zM358.2 573.1h1.9v1.9h-1.9zM373.4 594.4h1.9v1.9h-1.9zM344.7 599.4h1.9v1.9h-1.9zM355.8 580.4h1.9v1.9h-1.9zM365.2 588.8h1.9v1.9h-1.9zM386.2 601.6h1.9v1.9h-1.9zM349.1 593.4h1.9v1.9h-1.9zM345.1 597.7h1.9v1.9h-1.9zM361.5 581.0h1.9v1.9h-1.9zM354.2 588.8h1.9v1.9h-1.9zM380.7 591.3h1.9v1.9h-1.9zM375.2 593.3h1.9v1.9h-1.9zM389.9 597.1h1.9v1.9h-1.9zM358.0 579.3h1.9v1.9h-1.9zM376.0 602.6h1.9v1.9h-1.9zM375.7 586.3h1.9v1.9h-1.9zM386.3 604.8h1.9v1.9h-1.9zM362.8 585.1h1.9v1.9h-1.9zM374.7 588.5h1.9v1.9h-1.9zM382.3 582.1h1.9v1.9h-1.9zM378.1 594.7h1.9v1.9h-1.9zM374.4 587.8h1.9v1.9h-1.9zM368.6 599.4h1.9v1.9h-1.9zM359.7 594.5h1.9v1.9h-1.9zM367.7 584.2h1.9v1.9h-1.9zM386.0 578.6h1.9v1.9h-1.9zM366.8 604.4h1.9v1.9h-1.9zM375.0 592.8h1.9v1.9h-1.9zM376.3 585.3h1.9v1.9h-1.9zM391.5 589.6h1.9v1.9h-1.9zM381.8 599.7h1.9v1.9h-1.9zM343.2 595.4h1.9v1.9h-1.9zM367.5 590.0h1.9v1.9h-1.9zM393.5 586.8h1.9v1.9h-1.9zM373.3 590.4h1.9v1.9h-1.9zM355.5 595.4h1.9v1.9h-1.9zM365.6 587.8h1.9v1.9h-1.9zM384.2 582.4h1.9v1.9h-1.9zM373.3 586.8h1.9v1.9h-1.9zM342.6 582.2h1.9v1.9h-1.9zM369.2 574.0h1.9v1.9h-1.9zM374.2 598.9h1.9v1.9h-1.9zM347.2 600.1h1.9v1.9h-1.9zM352.6 587.3h1.9v1.9h-1.9zM381.6 578.1h1.9v1.9h-1.9zM360.5 602.3h1.9v1.9h-1.9zM366.6 596.0h1.9v1.9h-1.9zM387.0 589.2h1.9v1.9h-1.9zM377.5 590.8h1.9v1.9h-1.9zM378.4 598.2h1.9v1.9h-1.9zM381.6 586.2h1.9v1.9h-1.9zM371.5 590.6h1.9v1.9h-1.9zM387.9 606.2h1.9v1.9h-1.9zM370.7 585.5h1.9v1.9h-1.9zM392.3 587.4h1.9v1.9h-1.9zM370.7 596.6h1.9v1.9h-1.9zM372.2 584.3h1.9v1.9h-1.9zM353.6 587.4h1.9v1.9h-1.9zM365.7 595.3h1.9v1.9h-1.9zM386.0 590.8h1.9v1.9h-1.9zM382.5 589.0h1.9v1.9h-1.9zM383.0 587.4h1.9v1.9h-1.9zM352.9 584.4h1.9v1.9h-1.9zM376.0 585.9h1.9v1.9h-1.9zM375.8 581.9h1.9v1.9h-1.9zM378.0 586.3h1.9v1.9h-1.9zM365.9 596.6h1.9v1.9h-1.9zM328.9 590.9h1.9v1.9h-1.9zM369.1 589.1h1.9v1.9h-1.9zM369.6 583.2h1.9v1.9h-1.9zM342.2 605.4h1.9v1.9h-1.9zM385.6 576.8h1.9v1.9h-1.9zM379.0 591.1h1.9v1.9h-1.9zM345.8 593.6h1.9v1.9h-1.9zM362.8 601.0h1.9v1.9h-1.9zM389.9 588.0h1.9v1.9h-1.9zM299.4 582.4h1.9v1.9h-1.9zM373.0 584.9h1.9v1.9h-1.9zM372.0 598.2h1.9v1.9h-1.9zM379.2 603.3h1.9v1.9h-1.9zM354.4 582.2h1.9v1.9h-1.9zM372.9 596.0h1.9v1.9h-1.9zM389.5 597.4h1.9v1.9h-1.9zM353.4 584.7h1.9v1.9h-1.9zM365.1 589.5h1.9v1.9h-1.9zM364.9 588.3h1.9v1.9h-1.9zM370.6 594.5h1.9v1.9h-1.9zM364.9 600.7h1.9v1.9h-1.9zM380.9 599.2h1.9v1.9h-1.9zM387.2 587.0h1.9v1.9h-1.9zM362.7 588.8h1.9v1.9h-1.9zM368.2 588.7h1.9v1.9h-1.9zM371.1 584.7h1.9v1.9h-1.9zM368.1 590.4h1.9v1.9h-1.9zM398.0 600.7h1.9v1.9h-1.9zM363.2 573.0h1.9v1.9h-1.9zM368.2 598.0h1.9v1.9h-1.9zM376.5 596.1h1.9v1.9h-1.9zM362.1 574.1h1.9v1.9h-1.9zM373.2 589.6h1.9v1.9h-1.9zM383.1 598.3h1.9v1.9h-1.9zM350.9 588.7h1.9v1.9h-1.9zM383.4 599.5h1.9v1.9h-1.9zM365.8 583.2h1.9v1.9h-1.9zM393.1 579.9h1.9v1.9h-1.9zM373.5 595.5h1.9v1.9h-1.9zM346.6 597.2h1.9v1.9h-1.9zM371.1 592.4h1.9v1.9h-1.9zM349.6 599.0h1.9v1.9h-1.9zM347.2 592.6h1.9v1.9h-1.9zM296.9 583.0h1.9v1.9h-1.9zM374.1 589.1h1.9v1.9h-1.9zM371.4 595.9h1.9v1.9h-1.9zM368.8 596.8h1.9v1.9h-1.9zM295.9 588.6h1.9v1.9h-1.9zM390.2 577.9h1.9v1.9h-1.9zM380.3 589.7h1.9v1.9h-1.9zM384.2 603.7h1.9v1.9h-1.9zM388.3 590.3h1.9v1.9h-1.9zM376.4 589.4h1.9v1.9h-1.9zM381.9 577.6h1.9v1.9h-1.9zM385.2 604.4h1.9v1.9h-1.9zM379.3 592.7h1.9v1.9h-1.9zM372.6 592.3h1.9v1.9h-1.9zM382.6 582.7h1.9v1.9h-1.9zM352.5 603.9h1.9v1.9h-1.9zM375.0 584.4h1.9v1.9h-1.9zM374.5 604.0h1.9v1.9h-1.9zM356.9 586.3h1.9v1.9h-1.9zM379.0 593.1h1.9v1.9h-1.9zM376.1 588.8h1.9v1.9h-1.9zM340.0 592.8h1.9v1.9h-1.9zM372.6 583.2h1.9v1.9h-1.9zM375.8 586.3h1.9v1.9h-1.9zM383.8 595.0h1.9v1.9h-1.9zM368.9 592.4h1.9v1.9h-1.9zM353.8 587.9h1.9v1.9h-1.9zM377.5 578.1h1.9v1.9h-1.9zM346.5 595.1h1.9v1.9h-1.9zM348.0 599.1h1.9v1.9h-1.9zM381.7 585.9h1.9v1.9h-1.9zM377.0 600.0h1.9v1.9h-1.9zM379.7 581.6h1.9v1.9h-1.9zM348.8 595.4h1.9v1.9h-1.9zM385.3 587.9h1.9v1.9h-1.9zM344.9 586.4h1.9v1.9h-1.9zM354.6 591.8h1.9v1.9h-1.9zM370.5 600.9h1.9v1.9h-1.9zM363.9 589.4h1.9v1.9h-1.9zM332.6 596.4h1.9v1.9h-1.9zM365.6 592.0h1.9v1.9h-1.9zM365.2 585.3h1.9v1.9h-1.9zM373.4 585.0h1.9v1.9h-1.9zM374.0 595.5h1.9v1.9h-1.9zM365.4 599.3h1.9v1.9h-1.9zM387.8 587.9h1.9v1.9h-1.9zM376.0 589.3h1.9v1.9h-1.9zM351.1 602.8h1.9v1.9h-1.9zM373.2 596.1h1.9v1.9h-1.9zM374.3 581.1h1.9v1.9h-1.9zM371.2 580.7h1.9v1.9h-1.9zM370.9 594.7h1.9v1.9h-1.9zM360.7 588.9h1.9v1.9h-1.9zM371.3 584.9h1.9v1.9h-1.9zM366.9 587.2h1.9v1.9h-1.9zM366.3 594.5h1.9v1.9h-1.9zM366.7 603.3h1.9v1.9h-1.9zM363.3 596.6h1.9v1.9h-1.9zM384.6 580.3h1.9v1.9h-1.9zM355.7 595.8h1.9v1.9h-1.9zM353.9 596.7h1.9v1.9h-1.9zM351.0 600.1h1.9v1.9h-1.9zM350.4 587.6h1.9v1.9h-1.9zM390.7 594.8h1.9v1.9h-1.9zM368.2 594.8h1.9v1.9h-1.9zM376.7 598.6h1.9v1.9h-1.9zM382.0 598.0h1.9v1.9h-1.9zM352.8 597.8h1.9v1.9h-1.9zM384.9 593.3h1.9v1.9h-1.9zM356.7 598.7h1.9v1.9h-1.9zM376.4 585.3h1.9v1.9h-1.9zM371.1 583.5h1.9v1.9h-1.9zM346.8 594.8h1.9v1.9h-1.9zM376.8 577.4h1.9v1.9h-1.9zM331.9 595.2h1.9v1.9h-1.9zM300.0 593.1h1.9v1.9h-1.9zM346.0 596.7h1.9v1.9h-1.9zM389.3 591.4h1.9v1.9h-1.9zM352.7 595.5h1.9v1.9h-1.9zM372.5 600.5h1.9v1.9h-1.9zM357.2 593.7h1.9v1.9h-1.9zM386.3 591.2h1.9v1.9h-1.9zM373.3 584.9h1.9v1.9h-1.9zM399.9 595.0h1.9v1.9h-1.9zM302.7 588.1h1.9v1.9h-1.9zM379.9 597.1h1.9v1.9h-1.9zM372.9 584.5h1.9v1.9h-1.9zM372.7 589.0h1.9v1.9h-1.9zM360.7 571.0h1.9v1.9h-1.9zM394.7 589.3h1.9v1.9h-1.9zM374.7 592.8h1.9v1.9h-1.9zM369.7 595.5h1.9v1.9h-1.9zM355.9 590.1h1.9v1.9h-1.9zM371.4 592.2h1.9v1.9h-1.9zM354.3 593.5h1.9v1.9h-1.9zM353.0 603.6h1.9v1.9h-1.9zM372.9 587.8h1.9v1.9h-1.9zM345.2 602.9h1.9v1.9h-1.9zM323.1 589.6h1.9v1.9h-1.9zM393.3 583.4h1.9v1.9h-1.9zM338.6 597.7h1.9v1.9h-1.9zM344.6 587.4h1.9v1.9h-1.9zM367.6 594.3h1.9v1.9h-1.9zM376.3 590.3h1.9v1.9h-1.9zM354.2 602.8h1.9v1.9h-1.9zM350.6 591.0h1.9v1.9h-1.9zM339.3 599.1h1.9v1.9h-1.9zM378.0 589.9h1.9v1.9h-1.9zM381.4 589.6h1.9v1.9h-1.9zM382.9 598.1h1.9v1.9h-1.9zM333.1 593.6h1.9v1.9h-1.9zM361.7 589.1h1.9v1.9h-1.9zM372.0 588.6h1.9v1.9h-1.9zM371.1 588.3h1.9v1.9h-1.9zM383.3 596.1h1.9v1.9h-1.9zM390.9 583.4h1.9v1.9h-1.9zM375.3 588.4h1.9v1.9h-1.9zM371.3 572.9h1.9v1.9h-1.9zM341.4 600.1h1.9v1.9h-1.9zM368.7 581.2h1.9v1.9h-1.9zM370.3 600.8h1.9v1.9h-1.9zM355.7 598.5h1.9v1.9h-1.9zM326.4 590.8h1.9v1.9h-1.9zM368.1 580.7h1.9v1.9h-1.9zM366.9 564.0h1.9v1.9h-1.9zM367.5 593.0h1.9v1.9h-1.9zM373.2 592.0h1.9v1.9h-1.9zM374.4 595.6h1.9v1.9h-1.9zM293.1 595.4h1.9v1.9h-1.9zM378.4 594.7h1.9v1.9h-1.9zM340.0 590.9h1.9v1.9h-1.9zM361.8 575.0h1.9v1.9h-1.9zM381.4 605.1h1.9v1.9h-1.9zM392.6 595.7h1.9v1.9h-1.9zM351.6 596.0h1.9v1.9h-1.9zM385.7 581.8h1.9v1.9h-1.9zM383.9 581.9h1.9v1.9h-1.9zM350.8 597.1h1.9v1.9h-1.9zM371.8 592.5h1.9v1.9h-1.9zM339.5 604.0h1.9v1.9h-1.9zM341.6 598.3h1.9v1.9h-1.9zM373.3 591.8h1.9v1.9h-1.9zM391.1 594.4h1.9v1.9h-1.9zM376.2 577.4h1.9v1.9h-1.9zM368.9 593.5h1.9v1.9h-1.9zM373.3 598.4h1.9v1.9h-1.9zM293.5 588.2h1.9v1.9h-1.9zM346.3 597.4h1.9v1.9h-1.9zM375.9 591.5h1.9v1.9h-1.9zM379.6 582.9h1.9v1.9h-1.9zM347.9 602.5h1.9v1.9h-1.9zM379.4 587.1h1.9v1.9h-1.9zM380.3 596.0h1.9v1.9h-1.9zM346.5 593.9h1.9v1.9h-1.9zM347.8 596.6h1.9v1.9h-1.9zM347.0 597.8h1.9v1.9h-1.9zM371.3 592.6h1.9v1.9h-1.9zM380.5 599.0h1.9v1.9h-1.9zM348.3 584.4h1.9v1.9h-1.9zM376.9 590.2h1.9v1.9h-1.9zM367.5 584.0h1.9v1.9h-1.9zM371.8 582.0h1.9v1.9h-1.9zM353.0 606.5h1.9v1.9h-1.9zM380.5 600.5h1.9v1.9h-1.9zM351.7 586.5h1.9v1.9h-1.9zM366.2 588.4h1.9v1.9h-1.9zM366.1 597.9h1.9v1.9h-1.9zM343.6 593.8h1.9v1.9h-1.9zM393.1 582.9h1.9v1.9h-1.9zM373.3 581.9h1.9v1.9h-1.9zM377.4 606.8h1.9v1.9h-1.9zM350.7 593.4h1.9v1.9h-1.9zM377.7 597.6h1.9v1.9h-1.9zM360.2 596.2h1.9v1.9h-1.9zM376.3 597.3h1.9v1.9h-1.9zM374.1 581.4h1.9v1.9h-1.9zM376.6 591.7h1.9v1.9h-1.9zM379.0 580.9h1.9v1.9h-1.9zM376.2 595.3h1.9v1.9h-1.9zM352.0 600.2h1.9v1.9h-1.9zM347.2 593.6h1.9v1.9h-1.9zM354.0 589.1h1.9v1.9h-1.9zM373.5 602.4h1.9v1.9h-1.9zM368.0 591.1h1.9v1.9h-1.9zM381.4 583.7h1.9v1.9h-1.9zM366.0 590.3h1.9v1.9h-1.9zM367.0 586.1h1.9v1.9h-1.9zM361.5 602.4h1.9v1.9h-1.9zM363.5 573.2h1.9v1.9h-1.9zM380.6 587.9h1.9v1.9h-1.9zM386.2 581.1h1.9v1.9h-1.9zM369.8 588.8h1.9v1.9h-1.9zM369.0 592.8h1.9v1.9h-1.9zM348.2 594.9h1.9v1.9h-1.9zM360.4 600.2h1.9v1.9h-1.9zM368.1 595.6h1.9v1.9h-1.9zM358.9 592.1h1.9v1.9h-1.9zM359.5 590.8h1.9v1.9h-1.9zM342.1 585.9h1.9v1.9h-1.9zM336.9 594.9h1.9v1.9h-1.9zM375.1 580.7h1.9v1.9h-1.9zM380.3 588.8h1.9v1.9h-1.9zM389.3 590.0h1.9v1.9h-1.9zM377.2 573.3h1.9v1.9h-1.9zM367.0 577.6h1.9v1.9h-1.9zM345.2 592.2h1.9v1.9h-1.9zM337.7 596.8h1.9v1.9h-1.9zM367.1 584.9h1.9v1.9h-1.9zM349.6 602.1h1.9v1.9h-1.9zM367.8 589.9h1.9v1.9h-1.9zM342.6 585.5h1.9v1.9h-1.9zM359.2 604.5h1.9v1.9h-1.9zM375.3 600.3h1.9v1.9h-1.9zM379.8 598.1h1.9v1.9h-1.9zM341.4 578.5h1.9v1.9h-1.9zM374.3 582.9h1.9v1.9h-1.9zM377.2 585.8h1.9v1.9h-1.9zM364.1 594.5h1.9v1.9h-1.9zM374.5 593.6h1.9v1.9h-1.9zM389.2 592.0h1.9v1.9h-1.9zM359.8 586.8h1.9v1.9h-1.9zM391.0 576.8h1.9v1.9h-1.9zM360.3 583.6h1.9v1.9h-1.9zM384.9 583.2h1.9v1.9h-1.9zM382.5 590.8h1.9v1.9h-1.9zM360.3 580.4h1.9v1.9h-1.9zM374.4 594.0h1.9v1.9h-1.9zM337.8 598.3h1.9v1.9h-1.9zM357.9 583.5h1.9v1.9h-1.9zM348.1 597.2h1.9v1.9h-1.9zM348.6 592.6h1.9v1.9h-1.9zM366.8 588.0h1.9v1.9h-1.9zM376.0 582.8h1.9v1.9h-1.9zM356.4 587.5h1.9v1.9h-1.9zM371.7 597.2h1.9v1.9h-1.9zM347.8 587.7h1.9v1.9h-1.9zM349.4 603.5h1.9v1.9h-1.9zM341.0 592.4h1.9v1.9h-1.9zM368.5 593.6h1.9v1.9h-1.9zM368.8 588.0h1.9v1.9h-1.9zM361.2 583.5h1.9v1.9h-1.9zM381.1 591.0h1.9v1.9h-1.9zM350.4 596.8h1.9v1.9h-1.9zM366.4 603.0h1.9v1.9h-1.9zM336.8 589.2h1.9v1.9h-1.9zM370.0 596.7h1.9v1.9h-1.9zM363.6 585.0h1.9v1.9h-1.9zM352.1 594.2h1.9v1.9h-1.9zM350.7 596.1h1.9v1.9h-1.9zM376.5 595.3h1.9v1.9h-1.9zM353.3 603.7h1.9v1.9h-1.9zM385.3 581.5h1.9v1.9h-1.9zM387.1 596.0h1.9v1.9h-1.9zM352.2 590.0h1.9v1.9h-1.9zM382.7 591.1h1.9v1.9h-1.9zM353.4 595.3h1.9v1.9h-1.9zM375.9 584.1h1.9v1.9h-1.9zM338.4 590.9h1.9v1.9h-1.9zM374.3 593.2h1.9v1.9h-1.9zM375.6 589.6h1.9v1.9h-1.9zM369.1 590.7h1.9v1.9h-1.9zM386.6 584.2h1.9v1.9h-1.9zM367.7 587.3h1.9v1.9h-1.9zM354.2 597.7h1.9v1.9h-1.9zM345.9 585.6h1.9v1.9h-1.9zM369.2 590.0h1.9v1.9h-1.9zM384.0 597.5h1.9v1.9h-1.9zM381.5 590.0h1.9v1.9h-1.9zM384.4 589.5h1.9v1.9h-1.9zM351.5 597.0h1.9v1.9h-1.9zM302.4 585.3h1.9v1.9h-1.9zM380.9 583.8h1.9v1.9h-1.9zM375.6 582.9h1.9v1.9h-1.9zM351.8 593.6h1.9v1.9h-1.9zM343.9 596.6h1.9v1.9h-1.9zM336.1 599.0h1.9v1.9h-1.9zM371.7 596.6h1.9v1.9h-1.9zM383.3 591.0h1.9v1.9h-1.9zM359.4 584.0h1.9v1.9h-1.9zM369.5 585.2h1.9v1.9h-1.9zM394.9 600.5h1.9v1.9h-1.9zM382.4 580.4h1.9v1.9h-1.9zM360.4 578.6h1.9v1.9h-1.9zM361.4 596.4h1.9v1.9h-1.9zM389.6 591.5h1.9v1.9h-1.9zM352.5 587.0h1.9v1.9h-1.9zM364.4 598.6h1.9v1.9h-1.9zM341.6 594.4h1.9v1.9h-1.9zM350.5 575.3h1.9v1.9h-1.9zM341.4 606.5h1.9v1.9h-1.9zM375.9 592.8h1.9v1.9h-1.9zM385.6 585.8h1.9v1.9h-1.9zM353.9 593.3h1.9v1.9h-1.9zM348.8 596.3h1.9v1.9h-1.9zM368.8 576.7h1.9v1.9h-1.9zM307.8 586.1h1.9v1.9h-1.9zM347.2 594.5h1.9v1.9h-1.9zM366.6 579.4h1.9v1.9h-1.9zM379.2 595.4h1.9v1.9h-1.9zM295.2 591.2h1.9v1.9h-1.9zM364.9 596.8h1.9v1.9h-1.9zM371.7 594.8h1.9v1.9h-1.9zM398.1 587.1h1.9v1.9h-1.9zM375.1 595.6h1.9v1.9h-1.9zM339.9 600.4h1.9v1.9h-1.9zM365.9 583.4h1.9v1.9h-1.9zM382.0 598.0h1.9v1.9h-1.9zM394.2 593.5h1.9v1.9h-1.9zM378.3 593.1h1.9v1.9h-1.9zM367.6 588.2h1.9v1.9h-1.9zM372.6 592.6h1.9v1.9h-1.9zM343.1 587.2h1.9v1.9h-1.9zM346.5 591.5h1.9v1.9h-1.9zM374.0 597.8h1.9v1.9h-1.9zM380.6 599.9h1.9v1.9h-1.9zM351.0 597.5h1.9v1.9h-1.9zM398.0 591.2h1.9v1.9h-1.9zM379.0 592.1h1.9v1.9h-1.9zM337.9 591.1h1.9v1.9h-1.9zM378.0 592.9h1.9v1.9h-1.9zM373.9 601.7h1.9v1.9h-1.9zM358.8 579.2h1.9v1.9h-1.9zM385.8 583.6h1.9v1.9h-1.9zM373.2 593.1h1.9v1.9h-1.9zM380.3 590.4h1.9v1.9h-1.9zM359.1 586.6h1.9v1.9h-1.9zM352.8 596.6h1.9v1.9h-1.9zM360.7 594.9h1.9v1.9h-1.9zM366.6 583.1h1.9v1.9h-1.9zM351.5 589.6h1.9v1.9h-1.9zM345.5 600.0h1.9v1.9h-1.9zM380.9 569.3h1.9v1.9h-1.9zM369.0 604.3h1.9v1.9h-1.9zM380.4 599.2h1.9v1.9h-1.9zM348.6 593.2h1.9v1.9h-1.9zM379.3 593.2h1.9v1.9h-1.9zM385.3 587.8h1.9v1.9h-1.9zM370.0 594.7h1.9v1.9h-1.9zM356.4 589.8h1.9v1.9h-1.9zM353.7 583.7h1.9v1.9h-1.9zM306.5 591.3h1.9v1.9h-1.9zM363.2 601.9h1.9v1.9h-1.9zM372.5 598.8h1.9v1.9h-1.9zM375.8 581.9h1.9v1.9h-1.9zM351.9 586.9h1.9v1.9h-1.9zM379.3 592.5h1.9v1.9h-1.9zM382.1 585.2h1.9v1.9h-1.9zM387.5 579.5h1.9v1.9h-1.9zM372.5 598.5h1.9v1.9h-1.9zM368.9 601.0h1.9v1.9h-1.9zM353.3 606.5h1.9v1.9h-1.9zM369.4 583.5h1.9v1.9h-1.9zM340.8 594.0h1.9v1.9h-1.9zM360.8 578.8h1.9v1.9h-1.9zM382.2 579.6h1.9v1.9h-1.9zM373.0 589.2h1.9v1.9h-1.9zM366.6 580.9h1.9v1.9h-1.9zM348.8 603.8h1.9v1.9h-1.9zM377.7 601.1h1.9v1.9h-1.9zM386.5 580.2h1.9v1.9h-1.9zM391.6 591.9h1.9v1.9h-1.9zM377.1 597.5h1.9v1.9h-1.9zM354.4 587.4h1.9v1.9h-1.9zM373.4 582.6h1.9v1.9h-1.9zM370.6 594.6h1.9v1.9h-1.9zM379.2 588.2h1.9v1.9h-1.9zM367.8 593.0h1.9v1.9h-1.9zM377.9 584.5h1.9v1.9h-1.9zM355.7 602.2h1.9v1.9h-1.9zM349.7 589.8h1.9v1.9h-1.9zM372.5 583.1h1.9v1.9h-1.9zM366.0 587.5h1.9v1.9h-1.9zM395.0 618.3h1.9v1.9h-1.9zM358.3 630.9h1.9v1.9h-1.9zM342.7 639.1h1.9v1.9h-1.9zM379.5 624.9h1.9v1.9h-1.9zM300.8 615.6h1.9v1.9h-1.9zM294.9 618.2h1.9v1.9h-1.9zM343.5 636.0h1.9v1.9h-1.9zM350.3 632.9h1.9v1.9h-1.9zM348.8 630.2h1.9v1.9h-1.9zM330.0 643.9h1.9v1.9h-1.9zM360.4 660.5h1.9v1.9h-1.9zM365.7 640.6h1.9v1.9h-1.9zM379.5 610.9h1.9v1.9h-1.9zM336.5 620.5h1.9v1.9h-1.9zM366.2 618.4h1.9v1.9h-1.9zM363.2 662.6h1.9v1.9h-1.9zM310.4 666.4h1.9v1.9h-1.9zM342.9 619.0h1.9v1.9h-1.9zM357.9 613.5h1.9v1.9h-1.9zM369.4 631.1h1.9v1.9h-1.9zM352.0 650.8h1.9v1.9h-1.9zM354.5 668.0h1.9v1.9h-1.9zM295.2 616.1h1.9v1.9h-1.9zM365.1 623.3h1.9v1.9h-1.9zM342.2 635.6h1.9v1.9h-1.9zM357.2 643.1h1.9v1.9h-1.9zM326.6 627.1h1.9v1.9h-1.9zM340.0 619.2h1.9v1.9h-1.9zM363.0 623.1h1.9v1.9h-1.9zM360.2 627.9h1.9v1.9h-1.9zM354.2 619.1h1.9v1.9h-1.9zM321.7 611.8h1.9v1.9h-1.9zM350.8 620.1h1.9v1.9h-1.9zM362.6 646.2h1.9v1.9h-1.9zM347.1 619.9h1.9v1.9h-1.9zM361.5 646.4h1.9v1.9h-1.9zM340.9 618.8h1.9v1.9h-1.9zM361.8 619.0h1.9v1.9h-1.9zM358.6 629.9h1.9v1.9h-1.9zM346.0 630.5h1.9v1.9h-1.9zM381.8 647.5h1.9v1.9h-1.9zM369.0 625.5h1.9v1.9h-1.9zM334.5 626.5h1.9v1.9h-1.9zM343.0 625.4h1.9v1.9h-1.9zM341.4 631.0h1.9v1.9h-1.9zM346.0 668.7h1.9v1.9h-1.9zM361.7 647.4h1.9v1.9h-1.9zM378.6 625.9h1.9v1.9h-1.9zM363.3 656.5h1.9v1.9h-1.9zM356.8 632.6h1.9v1.9h-1.9zM369.8 622.3h1.9v1.9h-1.9zM312.4 621.9h1.9v1.9h-1.9zM352.4 631.2h1.9v1.9h-1.9zM368.6 616.7h1.9v1.9h-1.9zM338.2 670.8h1.9v1.9h-1.9zM347.9 654.1h1.9v1.9h-1.9zM371.0 611.4h1.9v1.9h-1.9zM327.5 613.9h1.9v1.9h-1.9zM358.5 658.9h1.9v1.9h-1.9zM381.4 611.2h1.9v1.9h-1.9zM356.3 632.8h1.9v1.9h-1.9zM322.5 659.9h1.9v1.9h-1.9zM364.9 612.9h1.9v1.9h-1.9zM347.4 634.2h1.9v1.9h-1.9zM355.6 639.3h1.9v1.9h-1.9zM323.0 610.6h1.9v1.9h-1.9zM352.5 648.1h1.9v1.9h-1.9zM364.3 629.0h1.9v1.9h-1.9zM350.3 621.1h1.9v1.9h-1.9zM347.9 664.4h1.9v1.9h-1.9zM357.4 670.2h1.9v1.9h-1.9zM364.4 629.3h1.9v1.9h-1.9zM374.8 622.4h1.9v1.9h-1.9zM306.8 671.5h1.9v1.9h-1.9zM311.2 645.6h1.9v1.9h-1.9zM352.7 668.9h1.9v1.9h-1.9zM374.8 621.8h1.9v1.9h-1.9zM346.0 627.8h1.9v1.9h-1.9zM356.2 619.2h1.9v1.9h-1.9zM362.0 657.5h1.9v1.9h-1.9zM354.3 627.1h1.9v1.9h-1.9zM353.5 610.5h1.9v1.9h-1.9zM294.0 625.7h1.9v1.9h-1.9zM351.1 641.8h1.9v1.9h-1.9zM365.4 616.6h1.9v1.9h-1.9zM359.1 611.6h1.9v1.9h-1.9zM362.2 634.1h1.9v1.9h-1.9zM337.7 614.7h1.9v1.9h-1.9zM358.6 647.5h1.9v1.9h-1.9zM355.9 611.3h1.9v1.9h-1.9zM324.5 639.3h1.9v1.9h-1.9zM377.7 612.0h1.9v1.9h-1.9zM354.9 657.2h1.9v1.9h-1.9zM347.2 622.9h1.9v1.9h-1.9zM350.2 662.7h1.9v1.9h-1.9zM353.1 640.9h1.9v1.9h-1.9zM353.5 664.1h1.9v1.9h-1.9zM370.3 622.4h1.9v1.9h-1.9zM371.3 665.9h1.9v1.9h-1.9zM354.8 610.7h1.9v1.9h-1.9zM339.9 614.2h1.9v1.9h-1.9zM360.4 629.2h1.9v1.9h-1.9zM350.4 659.5h1.9v1.9h-1.9zM353.5 666.0h1.9v1.9h-1.9zM340.4 615.6h1.9v1.9h-1.9zM374.9 641.8h1.9v1.9h-1.9zM359.7 619.1h1.9v1.9h-1.9zM345.4 653.7h1.9v1.9h-1.9zM343.2 654.2h1.9v1.9h-1.9zM374.6 624.1h1.9v1.9h-1.9zM321.6 623.8h1.9v1.9h-1.9zM349.6 647.9h1.9v1.9h-1.9zM351.4 655.2h1.9v1.9h-1.9zM359.0 624.6h1.9v1.9h-1.9zM370.8 634.1h1.9v1.9h-1.9zM373.2 653.7h1.9v1.9h-1.9zM363.9 630.6h1.9v1.9h-1.9zM362.9 669.6h1.9v1.9h-1.9zM356.4 626.4h1.9v1.9h-1.9zM359.6 622.4h1.9v1.9h-1.9zM347.7 617.7h1.9v1.9h-1.9zM324.9 610.3h1.9v1.9h-1.9zM362.4 616.6h1.9v1.9h-1.9zM367.0 645.2h1.9v1.9h-1.9zM370.0 612.0h1.9v1.9h-1.9zM365.4 631.4h1.9v1.9h-1.9zM354.6 667.4h1.9v1.9h-1.9zM324.8 639.9h1.9v1.9h-1.9zM361.5 652.1h1.9v1.9h-1.9zM349.6 619.0h1.9v1.9h-1.9zM361.6 610.6h1.9v1.9h-1.9zM339.7 644.3h1.9v1.9h-1.9zM346.3 643.8h1.9v1.9h-1.9zM351.3 624.4h1.9v1.9h-1.9zM357.9 655.4h1.9v1.9h-1.9zM359.4 620.2h1.9v1.9h-1.9zM352.0 647.1h1.9v1.9h-1.9zM324.0 637.7h1.9v1.9h-1.9zM344.0 639.2h1.9v1.9h-1.9zM346.5 650.1h1.9v1.9h-1.9zM288.3 657.1h1.9v1.9h-1.9zM368.5 622.0h1.9v1.9h-1.9zM353.6 654.4h1.9v1.9h-1.9zM307.3 668.7h1.9v1.9h-1.9zM367.8 629.8h1.9v1.9h-1.9zM354.4 624.6h1.9v1.9h-1.9zM350.1 612.2h1.9v1.9h-1.9zM352.6 639.1h1.9v1.9h-1.9zM360.9 643.4h1.9v1.9h-1.9zM352.6 623.7h1.9v1.9h-1.9zM374.6 630.3h1.9v1.9h-1.9zM362.8 625.7h1.9v1.9h-1.9zM347.5 655.7h1.9v1.9h-1.9zM363.8 664.4h1.9v1.9h-1.9zM355.6 654.1h1.9v1.9h-1.9zM378.0 613.4h1.9v1.9h-1.9zM344.4 639.1h1.9v1.9h-1.9zM373.0 626.6h1.9v1.9h-1.9zM370.2 617.1h1.9v1.9h-1.9zM361.8 640.4h1.9v1.9h-1.9zM349.4 630.6h1.9v1.9h-1.9zM356.7 656.5h1.9v1.9h-1.9zM344.4 666.4h1.9v1.9h-1.9zM350.5 624.2h1.9v1.9h-1.9zM357.8 654.2h1.9v1.9h-1.9zM361.6 625.9h1.9v1.9h-1.9zM356.0 614.3h1.9v1.9h-1.9zM299.4 612.1h1.9v1.9h-1.9zM333.8 622.8h1.9v1.9h-1.9zM304.5 638.1h1.9v1.9h-1.9zM354.6 624.1h1.9v1.9h-1.9zM341.5 648.0h1.9v1.9h-1.9zM348.5 668.0h1.9v1.9h-1.9zM373.8 610.8h1.9v1.9h-1.9zM342.3 670.7h1.9v1.9h-1.9zM366.6 622.0h1.9v1.9h-1.9zM359.3 643.0h1.9v1.9h-1.9zM364.0 614.1h1.9v1.9h-1.9zM334.1 629.6h1.9v1.9h-1.9zM363.6 662.9h1.9v1.9h-1.9zM367.0 619.2h1.9v1.9h-1.9zM292.7 669.1h1.9v1.9h-1.9zM372.0 648.0h1.9v1.9h-1.9zM365.2 615.9h1.9v1.9h-1.9zM357.1 633.4h1.9v1.9h-1.9zM303.3 650.0h1.9v1.9h-1.9zM346.5 631.5h1.9v1.9h-1.9zM354.9 667.2h1.9v1.9h-1.9zM353.8 618.2h1.9v1.9h-1.9zM356.1 618.3h1.9v1.9h-1.9zM346.9 622.2h1.9v1.9h-1.9zM364.9 621.2h1.9v1.9h-1.9zM341.7 610.7h1.9v1.9h-1.9zM342.2 647.6h1.9v1.9h-1.9zM351.8 615.7h1.9v1.9h-1.9zM353.0 619.3h1.9v1.9h-1.9zM331.3 633.8h1.9v1.9h-1.9zM348.8 618.8h1.9v1.9h-1.9zM332.6 624.2h1.9v1.9h-1.9zM359.2 666.8h1.9v1.9h-1.9zM334.7 619.4h1.9v1.9h-1.9zM371.0 623.6h1.9v1.9h-1.9zM354.8 640.3h1.9v1.9h-1.9zM354.1 663.0h1.9v1.9h-1.9zM340.3 622.0h1.9v1.9h-1.9zM356.2 629.6h1.9v1.9h-1.9zM356.4 627.6h1.9v1.9h-1.9zM348.1 647.7h1.9v1.9h-1.9zM335.7 613.3h1.9v1.9h-1.9zM363.4 665.9h1.9v1.9h-1.9zM359.9 613.0h1.9v1.9h-1.9zM291.0 670.3h1.9v1.9h-1.9zM355.0 631.3h1.9v1.9h-1.9zM347.2 660.6h1.9v1.9h-1.9zM371.1 660.2h1.9v1.9h-1.9zM339.6 644.5h1.9v1.9h-1.9zM395.6 613.6h1.9v1.9h-1.9zM353.9 641.5h1.9v1.9h-1.9zM361.9 636.2h1.9v1.9h-1.9zM355.1 638.2h1.9v1.9h-1.9zM354.6 614.5h1.9v1.9h-1.9zM359.3 611.2h1.9v1.9h-1.9zM358.2 613.4h1.9v1.9h-1.9zM353.2 619.6h1.9v1.9h-1.9zM360.4 610.6h1.9v1.9h-1.9zM341.7 617.2h1.9v1.9h-1.9zM361.1 665.7h1.9v1.9h-1.9zM347.2 633.7h1.9v1.9h-1.9zM292.8 653.6h1.9v1.9h-1.9zM341.2 645.1h1.9v1.9h-1.9zM341.5 656.8h1.9v1.9h-1.9zM331.5 637.3h1.9v1.9h-1.9zM347.0 651.4h1.9v1.9h-1.9zM363.4 642.4h1.9v1.9h-1.9zM360.3 614.8h1.9v1.9h-1.9zM365.6 621.1h1.9v1.9h-1.9zM357.0 657.6h1.9v1.9h-1.9zM357.7 617.6h1.9v1.9h-1.9zM349.2 657.9h1.9v1.9h-1.9zM364.9 615.2h1.9v1.9h-1.9zM353.5 655.6h1.9v1.9h-1.9zM380.5 613.0h1.9v1.9h-1.9zM364.1 652.1h1.9v1.9h-1.9zM339.7 625.8h1.9v1.9h-1.9zM303.5 627.7h1.9v1.9h-1.9zM305.9 632.9h1.9v1.9h-1.9zM363.0 670.6h1.9v1.9h-1.9zM352.9 623.1h1.9v1.9h-1.9zM330.0 626.8h1.9v1.9h-1.9zM293.3 627.6h1.9v1.9h-1.9zM343.4 631.5h1.9v1.9h-1.9zM357.7 633.6h1.9v1.9h-1.9zM313.6 635.8h1.9v1.9h-1.9zM344.3 653.8h1.9v1.9h-1.9zM363.5 620.4h1.9v1.9h-1.9zM343.7 650.6h1.9v1.9h-1.9zM360.2 637.4h1.9v1.9h-1.9zM358.8 622.8h1.9v1.9h-1.9zM349.5 612.8h1.9v1.9h-1.9zM360.5 621.7h1.9v1.9h-1.9zM363.0 650.5h1.9v1.9h-1.9zM338.2 638.0h1.9v1.9h-1.9zM372.7 618.8h1.9v1.9h-1.9zM343.5 636.9h1.9v1.9h-1.9zM347.3 631.1h1.9v1.9h-1.9zM326.7 657.9h1.9v1.9h-1.9zM363.7 641.4h1.9v1.9h-1.9zM325.7 631.3h1.9v1.9h-1.9zM367.5 616.3h1.9v1.9h-1.9zM357.1 615.9h1.9v1.9h-1.9zM349.6 635.8h1.9v1.9h-1.9zM340.6 671.6h1.9v1.9h-1.9zM347.2 638.5h1.9v1.9h-1.9zM355.9 633.4h1.9v1.9h-1.9zM365.7 612.1h1.9v1.9h-1.9zM357.4 663.1h1.9v1.9h-1.9zM365.9 621.5h1.9v1.9h-1.9zM361.6 612.6h1.9v1.9h-1.9zM345.4 614.3h1.9v1.9h-1.9zM344.4 646.7h1.9v1.9h-1.9zM318.0 614.8h1.9v1.9h-1.9zM346.0 645.9h1.9v1.9h-1.9zM348.2 647.0h1.9v1.9h-1.9zM353.9 629.6h1.9v1.9h-1.9zM300.5 627.1h1.9v1.9h-1.9zM337.2 629.9h1.9v1.9h-1.9zM342.8 633.8h1.9v1.9h-1.9zM353.1 611.9h1.9v1.9h-1.9zM366.9 632.7h1.9v1.9h-1.9zM347.9 639.2h1.9v1.9h-1.9zM336.3 619.0h1.9v1.9h-1.9zM352.0 659.9h1.9v1.9h-1.9zM355.7 613.9h1.9v1.9h-1.9zM360.8 620.4h1.9v1.9h-1.9zM357.2 617.2h1.9v1.9h-1.9zM357.1 659.4h1.9v1.9h-1.9zM345.6 661.5h1.9v1.9h-1.9zM358.6 634.8h1.9v1.9h-1.9zM359.8 618.4h1.9v1.9h-1.9zM366.7 650.3h1.9v1.9h-1.9zM354.1 620.9h1.9v1.9h-1.9zM354.3 667.3h1.9v1.9h-1.9zM364.1 613.3h1.9v1.9h-1.9zM356.1 656.8h1.9v1.9h-1.9zM354.7 638.2h1.9v1.9h-1.9zM354.2 622.7h1.9v1.9h-1.9zM351.0 637.4h1.9v1.9h-1.9zM360.1 636.9h1.9v1.9h-1.9zM362.8 614.3h1.9v1.9h-1.9zM342.3 639.8h1.9v1.9h-1.9zM341.8 616.5h1.9v1.9h-1.9zM308.6 659.1h1.9v1.9h-1.9zM322.3 662.0h1.9v1.9h-1.9zM364.5 646.2h1.9v1.9h-1.9zM310.1 668.4h1.9v1.9h-1.9zM288.6 643.1h1.9v1.9h-1.9zM358.1 611.1h1.9v1.9h-1.9zM373.2 624.7h1.9v1.9h-1.9zM379.0 631.8h1.9v1.9h-1.9zM358.2 626.6h1.9v1.9h-1.9zM369.3 624.3h1.9v1.9h-1.9zM344.9 614.7h1.9v1.9h-1.9zM365.8 631.4h1.9v1.9h-1.9zM318.5 620.4h1.9v1.9h-1.9zM348.0 627.2h1.9v1.9h-1.9zM308.9 615.1h1.9v1.9h-1.9zM337.1 670.2h1.9v1.9h-1.9zM383.1 613.5h1.9v1.9h-1.9zM377.3 613.3h1.9v1.9h-1.9zM357.2 627.6h1.9v1.9h-1.9zM349.5 622.5h1.9v1.9h-1.9zM370.0 610.1h1.9v1.9h-1.9zM343.5 637.8h1.9v1.9h-1.9zM373.6 614.7h1.9v1.9h-1.9zM347.7 629.7h1.9v1.9h-1.9zM349.2 649.3h1.9v1.9h-1.9zM361.3 644.7h1.9v1.9h-1.9zM331.5 656.3h1.9v1.9h-1.9zM354.1 647.2h1.9v1.9h-1.9zM341.8 622.9h1.9v1.9h-1.9zM331.7 617.3h1.9v1.9h-1.9zM351.8 621.3h1.9v1.9h-1.9zM361.2 638.3h1.9v1.9h-1.9zM315.0 616.6h1.9v1.9h-1.9zM341.5 629.2h1.9v1.9h-1.9zM324.0 649.6h1.9v1.9h-1.9zM348.7 638.2h1.9v1.9h-1.9zM353.7 663.5h1.9v1.9h-1.9zM359.2 630.9h1.9v1.9h-1.9zM361.7 610.9h1.9v1.9h-1.9zM345.4 650.8h1.9v1.9h-1.9zM370.5 629.2h1.9v1.9h-1.9zM339.7 611.7h1.9v1.9h-1.9zM344.4 633.2h1.9v1.9h-1.9zM358.9 631.2h1.9v1.9h-1.9zM359.3 623.4h1.9v1.9h-1.9zM292.0 645.5h1.9v1.9h-1.9zM334.0 613.6h1.9v1.9h-1.9zM362.0 628.3h1.9v1.9h-1.9zM362.7 630.7h1.9v1.9h-1.9zM344.4 612.0h1.9v1.9h-1.9zM361.1 654.9h1.9v1.9h-1.9zM365.0 614.7h1.9v1.9h-1.9zM375.0 615.9h1.9v1.9h-1.9zM357.5 629.5h1.9v1.9h-1.9zM380.7 616.2h1.9v1.9h-1.9zM354.3 610.1h1.9v1.9h-1.9zM359.8 610.0h1.9v1.9h-1.9zM348.2 629.8h1.9v1.9h-1.9zM358.3 646.5h1.9v1.9h-1.9zM339.9 645.1h1.9v1.9h-1.9zM357.7 625.5h1.9v1.9h-1.9zM328.5 638.1h1.9v1.9h-1.9zM349.1 611.7h1.9v1.9h-1.9zM352.1 623.4h1.9v1.9h-1.9zM352.2 627.5h1.9v1.9h-1.9zM363.7 640.5h1.9v1.9h-1.9zM357.7 669.1h1.9v1.9h-1.9zM354.4 663.8h1.9v1.9h-1.9zM358.2 622.7h1.9v1.9h-1.9zM341.4 631.8h1.9v1.9h-1.9zM347.0 636.5h1.9v1.9h-1.9zM332.9 610.8h1.9v1.9h-1.9zM364.6 610.4h1.9v1.9h-1.9zM361.8 651.6h1.9v1.9h-1.9zM350.6 656.3h1.9v1.9h-1.9zM355.5 653.5h1.9v1.9h-1.9zM359.9 632.0h1.9v1.9h-1.9zM355.4 625.8h1.9v1.9h-1.9zM361.7 616.2h1.9v1.9h-1.9zM367.9 645.1h1.9v1.9h-1.9zM339.5 647.2h1.9v1.9h-1.9zM358.4 668.7h1.9v1.9h-1.9zM351.4 667.7h1.9v1.9h-1.9zM337.1 647.5h1.9v1.9h-1.9zM376.6 612.5h1.9v1.9h-1.9zM341.4 622.5h1.9v1.9h-1.9zM353.6 652.5h1.9v1.9h-1.9zM348.6 622.2h1.9v1.9h-1.9zM368.3 653.5h1.9v1.9h-1.9zM355.8 622.5h1.9v1.9h-1.9zM331.8 611.1h1.9v1.9h-1.9zM360.5 625.3h1.9v1.9h-1.9zM334.7 636.3h1.9v1.9h-1.9zM366.8 630.8h1.9v1.9h-1.9zM353.5 628.7h1.9v1.9h-1.9zM328.4 641.8h1.9v1.9h-1.9zM347.5 645.3h1.9v1.9h-1.9zM363.3 635.7h1.9v1.9h-1.9zM363.0 628.0h1.9v1.9h-1.9zM355.2 623.8h1.9v1.9h-1.9zM351.1 631.5h1.9v1.9h-1.9zM338.5 657.0h1.9v1.9h-1.9zM356.2 661.2h1.9v1.9h-1.9zM357.8 634.1h1.9v1.9h-1.9zM337.1 627.8h1.9v1.9h-1.9zM369.8 646.5h1.9v1.9h-1.9zM358.3 642.4h1.9v1.9h-1.9zM348.5 633.7h1.9v1.9h-1.9zM359.0 626.7h1.9v1.9h-1.9zM372.8 618.3h1.9v1.9h-1.9zM343.4 621.7h1.9v1.9h-1.9zM344.3 634.4h1.9v1.9h-1.9zM294.9 648.4h1.9v1.9h-1.9zM355.7 619.8h1.9v1.9h-1.9zM344.9 616.0h1.9v1.9h-1.9zM357.2 656.1h1.9v1.9h-1.9zM349.5 620.3h1.9v1.9h-1.9zM380.7 634.1h1.9v1.9h-1.9zM358.8 649.7h1.9v1.9h-1.9zM327.6 620.5h1.9v1.9h-1.9zM363.6 667.4h1.9v1.9h-1.9zM356.6 651.9h1.9v1.9h-1.9zM337.2 651.7h1.9v1.9h-1.9zM362.2 632.6h1.9v1.9h-1.9zM364.0 666.9h1.9v1.9h-1.9zM335.8 614.6h1.9v1.9h-1.9zM310.2 656.7h1.9v1.9h-1.9zM337.4 610.1h1.9v1.9h-1.9zM359.3 653.2h1.9v1.9h-1.9zM343.6 623.2h1.9v1.9h-1.9zM361.5 671.1h1.9v1.9h-1.9zM339.3 631.2h1.9v1.9h-1.9zM351.3 668.7h1.9v1.9h-1.9zM313.7 661.6h1.9v1.9h-1.9zM325.6 636.0h1.9v1.9h-1.9zM353.4 634.9h1.9v1.9h-1.9zM352.4 617.6h1.9v1.9h-1.9zM371.2 617.4h1.9v1.9h-1.9zM342.7 645.9h1.9v1.9h-1.9zM358.6 633.8h1.9v1.9h-1.9zM355.1 649.7h1.9v1.9h-1.9zM349.6 612.1h1.9v1.9h-1.9zM360.5 619.0h1.9v1.9h-1.9zM356.6 648.7h1.9v1.9h-1.9zM365.1 618.7h1.9v1.9h-1.9zM349.6 651.6h1.9v1.9h-1.9zM351.8 612.1h1.9v1.9h-1.9zM356.1 618.1h1.9v1.9h-1.9zM348.0 641.8h1.9v1.9h-1.9zM341.6 610.4h1.9v1.9h-1.9zM351.3 625.5h1.9v1.9h-1.9zM363.4 630.0h1.9v1.9h-1.9zM339.3 653.4h1.9v1.9h-1.9zM353.4 662.2h1.9v1.9h-1.9zM348.7 614.5h1.9v1.9h-1.9zM352.9 671.9h1.9v1.9h-1.9zM323.3 638.0h1.9v1.9h-1.9zM364.0 630.5h1.9v1.9h-1.9zM357.8 670.4h1.9v1.9h-1.9zM351.3 621.5h1.9v1.9h-1.9zM356.0 660.6h1.9v1.9h-1.9zM319.8 627.6h1.9v1.9h-1.9zM352.4 668.1h1.9v1.9h-1.9zM376.5 617.2h1.9v1.9h-1.9zM313.6 639.9h1.9v1.9h-1.9zM316.7 617.7h1.9v1.9h-1.9zM354.3 617.4h1.9v1.9h-1.9zM355.5 618.1h1.9v1.9h-1.9zM352.7 642.3h1.9v1.9h-1.9zM359.8 634.3h1.9v1.9h-1.9zM370.0 628.5h1.9v1.9h-1.9zM355.3 630.1h1.9v1.9h-1.9zM364.8 622.8h1.9v1.9h-1.9zM363.3 658.3h1.9v1.9h-1.9zM348.4 640.5h1.9v1.9h-1.9zM369.6 611.0h1.9v1.9h-1.9zM342.9 612.6h1.9v1.9h-1.9zM300.9 657.8h1.9v1.9h-1.9zM340.9 616.6h1.9v1.9h-1.9zM359.3 612.2h1.9v1.9h-1.9zM347.1 615.2h1.9v1.9h-1.9zM337.2 626.0h1.9v1.9h-1.9zM338.9 635.5h1.9v1.9h-1.9zM316.8 630.9h1.9v1.9h-1.9zM326.0 624.3h1.9v1.9h-1.9zM349.9 661.0h1.9v1.9h-1.9zM366.4 632.4h1.9v1.9h-1.9zM351.6 628.6h1.9v1.9h-1.9zM356.8 649.6h1.9v1.9h-1.9zM362.4 634.0h1.9v1.9h-1.9zM360.5 632.9h1.9v1.9h-1.9zM360.0 636.5h1.9v1.9h-1.9zM348.3 664.1h1.9v1.9h-1.9zM374.3 618.4h1.9v1.9h-1.9zM343.6 641.5h1.9v1.9h-1.9zM353.6 624.6h1.9v1.9h-1.9zM353.6 632.6h1.9v1.9h-1.9zM369.7 611.6h1.9v1.9h-1.9zM338.5 630.3h1.9v1.9h-1.9zM351.5 640.8h1.9v1.9h-1.9zM296.6 621.6h1.9v1.9h-1.9zM358.7 615.6h1.9v1.9h-1.9zM367.9 666.4h1.9v1.9h-1.9zM343.8 617.6h1.9v1.9h-1.9zM314.6 640.4h1.9v1.9h-1.9zM346.5 648.9h1.9v1.9h-1.9zM315.0 643.0h1.9v1.9h-1.9zM354.4 617.6h1.9v1.9h-1.9zM361.4 612.1h1.9v1.9h-1.9zM370.2 623.4h1.9v1.9h-1.9zM349.2 648.1h1.9v1.9h-1.9zM354.1 614.1h1.9v1.9h-1.9zM358.5 627.6h1.9v1.9h-1.9zM351.6 654.1h1.9v1.9h-1.9zM360.5 642.5h1.9v1.9h-1.9zM361.9 617.1h1.9v1.9h-1.9zM354.0 615.0h1.9v1.9h-1.9zM363.8 633.1h1.9v1.9h-1.9zM367.5 617.2h1.9v1.9h-1.9zM340.4 615.6h1.9v1.9h-1.9zM356.2 633.8h1.9v1.9h-1.9zM365.3 666.2h1.9v1.9h-1.9zM338.6 612.2h1.9v1.9h-1.9zM374.6 612.7h1.9v1.9h-1.9zM375.8 621.7h1.9v1.9h-1.9zM340.3 643.1h1.9v1.9h-1.9zM367.7 635.4h1.9v1.9h-1.9zM361.8 636.6h1.9v1.9h-1.9zM349.6 657.9h1.9v1.9h-1.9zM364.5 623.4h1.9v1.9h-1.9zM347.2 614.9h1.9v1.9h-1.9zM351.6 628.8h1.9v1.9h-1.9zM351.6 671.1h1.9v1.9h-1.9zM341.8 614.9h1.9v1.9h-1.9zM349.4 643.7h1.9v1.9h-1.9zM366.5 652.1h1.9v1.9h-1.9zM363.7 627.6h1.9v1.9h-1.9zM375.9 613.0h1.9v1.9h-1.9zM374.6 630.8h1.9v1.9h-1.9zM337.8 623.5h1.9v1.9h-1.9zM354.5 618.0h1.9v1.9h-1.9zM344.8 626.8h1.9v1.9h-1.9zM350.8 617.6h1.9v1.9h-1.9zM361.3 652.6h1.9v1.9h-1.9zM344.7 611.0h1.9v1.9h-1.9zM357.1 651.5h1.9v1.9h-1.9zM359.5 644.2h1.9v1.9h-1.9zM368.1 612.5h1.9v1.9h-1.9zM357.3 660.3h1.9v1.9h-1.9zM342.3 636.2h1.9v1.9h-1.9zM328.0 645.4h1.9v1.9h-1.9zM353.4 628.2h1.9v1.9h-1.9zM349.3 636.8h1.9v1.9h-1.9zM374.2 614.8h1.9v1.9h-1.9zM293.2 622.9h1.9v1.9h-1.9zM362.0 618.8h1.9v1.9h-1.9zM335.8 622.9h1.9v1.9h-1.9zM360.7 633.5h1.9v1.9h-1.9zM360.1 627.5h1.9v1.9h-1.9zM357.5 669.2h1.9v1.9h-1.9zM352.7 628.0h1.9v1.9h-1.9zM335.2 647.4h1.9v1.9h-1.9zM326.9 625.5h1.9v1.9h-1.9zM347.6 610.3h1.9v1.9h-1.9zM358.8 671.3h1.9v1.9h-1.9zM353.8 623.8h1.9v1.9h-1.9zM371.1 643.1h1.9v1.9h-1.9zM350.4 611.1h1.9v1.9h-1.9zM369.1 642.3h1.9v1.9h-1.9zM340.5 616.7h1.9v1.9h-1.9zM338.0 665.7h1.9v1.9h-1.9zM348.5 658.0h1.9v1.9h-1.9zM352.5 671.4h1.9v1.9h-1.9zM343.3 625.9h1.9v1.9h-1.9zM341.9 643.9h1.9v1.9h-1.9zM351.1 624.7h1.9v1.9h-1.9zM326.8 622.3h1.9v1.9h-1.9zM351.3 621.5h1.9v1.9h-1.9zM349.4 621.1h1.9v1.9h-1.9zM366.7 615.6h1.9v1.9h-1.9zM316.0 610.0h1.9v1.9h-1.9zM335.5 614.8h1.9v1.9h-1.9zM357.2 618.3h1.9v1.9h-1.9zM363.6 646.4h1.9v1.9h-1.9zM354.5 618.1h1.9v1.9h-1.9zM355.8 630.0h1.9v1.9h-1.9zM352.1 621.5h1.9v1.9h-1.9zM371.1 622.5h1.9v1.9h-1.9zM355.5 613.1h1.9v1.9h-1.9zM348.5 622.6h1.9v1.9h-1.9zM365.8 618.7h1.9v1.9h-1.9zM343.4 631.9h1.9v1.9h-1.9zM374.5 621.3h1.9v1.9h-1.9zM350.8 627.9h1.9v1.9h-1.9zM337.2 612.3h1.9v1.9h-1.9zM353.0 629.4h1.9v1.9h-1.9zM296.1 636.1h1.9v1.9h-1.9zM364.1 627.1h1.9v1.9h-1.9zM342.0 632.6h1.9v1.9h-1.9zM362.1 633.8h1.9v1.9h-1.9zM365.1 617.1h1.9v1.9h-1.9zM325.7 630.0h1.9v1.9h-1.9zM378.2 619.1h1.9v1.9h-1.9zM371.8 616.6h1.9v1.9h-1.9zM346.8 646.1h1.9v1.9h-1.9zM288.2 645.0h1.9v1.9h-1.9zM324.0 611.3h1.9v1.9h-1.9zM357.2 620.8h1.9v1.9h-1.9zM343.3 616.3h1.9v1.9h-1.9zM354.7 665.4h1.9v1.9h-1.9zM354.3 650.7h1.9v1.9h-1.9zM361.0 623.0h1.9v1.9h-1.9zM292.7 664.7h1.9v1.9h-1.9zM325.5 618.5h1.9v1.9h-1.9zM351.9 631.9h1.9v1.9h-1.9zM359.1 659.3h1.9v1.9h-1.9zM373.6 612.6h1.9v1.9h-1.9zM321.0 658.3h1.9v1.9h-1.9zM344.8 620.6h1.9v1.9h-1.9zM347.1 617.8h1.9v1.9h-1.9zM348.5 658.1h1.9v1.9h-1.9zM374.3 615.2h1.9v1.9h-1.9zM373.6 642.4h1.9v1.9h-1.9zM350.2 634.6h1.9v1.9h-1.9zM305.0 663.0h1.9v1.9h-1.9zM359.0 633.8h1.9v1.9h-1.9zM350.5 644.8h1.9v1.9h-1.9zM328.7 649.0h1.9v1.9h-1.9zM348.9 646.4h1.9v1.9h-1.9zM346.7 676.0h1.8v1.8h-1.8zM330.0 673.8h1.8v1.8h-1.8zM293.5 676.4h1.8v1.8h-1.8zM290.2 675.1h1.8v1.8h-1.8zM339.4 675.0h1.8v1.8h-1.8zM288.0 675.8h1.8v1.8h-1.8zM349.2 673.9h1.8v1.8h-1.8zM305.8 674.3h1.8v1.8h-1.8zM292.0 673.5h1.8v1.8h-1.8zM311.0 673.8h1.8v1.8h-1.8zM321.6 673.9h1.8v1.8h-1.8zM302.1 673.8h1.8v1.8h-1.8zM302.7 676.5h1.8v1.8h-1.8zM334.4 674.2h1.8v1.8h-1.8zM308.5 675.8h1.8v1.8h-1.8zM339.4 673.7h1.8v1.8h-1.8zM339.1 676.9h1.8v1.8h-1.8zM309.0 674.5h1.8v1.8h-1.8zM362.5 674.1h1.8v1.8h-1.8zM309.9 677.0h1.8v1.8h-1.8zM315.4 675.7h1.8v1.8h-1.8zM291.1 674.0h1.8v1.8h-1.8zM295.3 675.4h1.8v1.8h-1.8zM316.0 674.7h1.8v1.8h-1.8zM304.2 674.1h1.8v1.8h-1.8zM348.2 675.5h1.8v1.8h-1.8zM321.6 676.6h1.8v1.8h-1.8zM329.5 674.6h1.8v1.8h-1.8zM355.5 675.0h1.8v1.8h-1.8zM296.9 676.6h1.8v1.8h-1.8zM315.4 676.5h1.8v1.8h-1.8zM342.8 675.0h1.8v1.8h-1.8zM289.2 676.8h1.8v1.8h-1.8zM302.0 676.4h1.8v1.8h-1.8zM317.8 676.6h1.8v1.8h-1.8zM332.6 674.7h1.8v1.8h-1.8zM289.5 675.3h1.8v1.8h-1.8zM296.5 675.6h1.8v1.8h-1.8zM313.4 673.9h1.8v1.8h-1.8zM328.4 676.2h1.8v1.8h-1.8zM310.5 674.4h1.8v1.8h-1.8zM309.6 674.9h1.8v1.8h-1.8zM307.6 675.7h1.8v1.8h-1.8zM372.2 676.5h1.8v1.8h-1.8zM288.1 673.7h1.8v1.8h-1.8zM332.7 673.6h1.8v1.8h-1.8zM291.9 674.0h1.8v1.8h-1.8zM350.8 675.5h1.8v1.8h-1.8zM296.0 676.1h1.8v1.8h-1.8zM323.6 675.5h1.8v1.8h-1.8zM318.9 673.9h1.8v1.8h-1.8zM354.5 675.7h1.8v1.8h-1.8zM300.2 673.8h1.8v1.8h-1.8zM328.8 674.5h1.8v1.8h-1.8zM308.0 673.8h1.8v1.8h-1.8zM354.0 676.9h1.8v1.8h-1.8zM367.7 674.4h1.8v1.8h-1.8zM339.2 673.5h1.8v1.8h-1.8zM288.8 673.9h1.8v1.8h-1.8zM300.9 677.0h1.8v1.8h-1.8zM301.0 674.8h1.8v1.8h-1.8zM336.2 674.4h1.8v1.8h-1.8zM314.7 676.4h1.8v1.8h-1.8zM366.0 675.6h1.8v1.8h-1.8zM337.7 675.1h1.8v1.8h-1.8zM290.4 675.6h1.8v1.8h-1.8zM349.9 675.2h1.8v1.8h-1.8zM386.2 673.8h1.8v1.8h-1.8zM304.6 676.0h1.8v1.8h-1.8zM308.9 674.3h1.8v1.8h-1.8zM310.3 675.8h1.8v1.8h-1.8zM321.2 676.5h1.8v1.8h-1.8zM366.9 676.2h1.8v1.8h-1.8zM327.1 674.8h1.8v1.8h-1.8zM293.9 676.0h1.8v1.8h-1.8zM350.8 675.8h1.8v1.8h-1.8zM400.2 675.0h1.8v1.8h-1.8zM377.4 673.5h1.8v1.8h-1.8zM327.6 674.5h1.8v1.8h-1.8zM322.3 675.0h1.8v1.8h-1.8zM315.1 676.4h1.8v1.8h-1.8zM288.8 676.4h1.8v1.8h-1.8zM307.4 675.3h1.8v1.8h-1.8zM349.3 676.6h1.8v1.8h-1.8zM303.9 675.0h1.8v1.8h-1.8zM342.5 676.3h1.8v1.8h-1.8zM290.4 673.8h1.8v1.8h-1.8zM389.9 676.8h1.8v1.8h-1.8zM336.1 675.9h1.8v1.8h-1.8zM365.7 674.9h1.8v1.8h-1.8zM299.3 675.5h1.8v1.8h-1.8zM323.1 675.6h1.8v1.8h-1.8zM314.1 674.4h1.8v1.8h-1.8zM328.4 674.2h1.8v1.8h-1.8zM347.4 675.7h1.8v1.8h-1.8zM294.8 675.7h1.8v1.8h-1.8zM300.0 676.8h1.8v1.8h-1.8zM289.5 674.7h1.8v1.8h-1.8zM372.4 676.5h1.8v1.8h-1.8zM295.2 674.1h1.8v1.8h-1.8zM338.7 674.1h1.8v1.8h-1.8zM327.8 676.7h1.8v1.8h-1.8zM331.0 674.6h1.8v1.8h-1.8zM321.4 675.1h1.8v1.8h-1.8zM357.3 674.9h1.8v1.8h-1.8zM336.7 673.8h1.8v1.8h-1.8zM297.5 674.6h1.8v1.8h-1.8zM295.7 675.7h1.8v1.8h-1.8zM288.8 674.0h1.8v1.8h-1.8zM317.0 674.6h1.8v1.8h-1.8zM297.7 674.1h1.8v1.8h-1.8zM298.3 673.8h1.8v1.8h-1.8zM294.3 675.3h1.8v1.8h-1.8zM294.3 673.7h1.8v1.8h-1.8zM349.6 673.8h1.8v1.8h-1.8zM305.3 676.8h1.8v1.8h-1.8zM301.2 675.1h1.8v1.8h-1.8zM319.7 673.7h1.8v1.8h-1.8zM305.0 674.6h1.8v1.8h-1.8zM328.9 675.9h1.8v1.8h-1.8zM402.6 675.0h1.8v1.8h-1.8zM342.6 674.3h1.8v1.8h-1.8zM291.5 675.2h1.8v1.8h-1.8zM293.3 676.2h1.8v1.8h-1.8zM308.1 676.8h1.8v1.8h-1.8zM299.0 673.9h1.8v1.8h-1.8zM321.9 676.4h1.8v1.8h-1.8zM340.1 676.5h1.8v1.8h-1.8zM315.0 673.9h1.8v1.8h-1.8zM299.5 674.3h1.8v1.8h-1.8zM294.2 674.9h1.8v1.8h-1.8zM314.1 674.7h1.8v1.8h-1.8zM290.0 674.0h1.8v1.8h-1.8zM307.2 673.9h1.8v1.8h-1.8zM303.7 676.2h1.8v1.8h-1.8zM310.5 674.8h1.8v1.8h-1.8zM339.3 673.9h1.8v1.8h-1.8zM321.6 676.2h1.8v1.8h-1.8zM316.7 675.1h1.8v1.8h-1.8zM313.7 675.4h1.8v1.8h-1.8zM342.8 676.1h1.8v1.8h-1.8zM306.0 676.3h1.8v1.8h-1.8zM305.1 674.4h1.8v1.8h-1.8zM312.8 676.8h1.8v1.8h-1.8zM294.7 674.4h1.8v1.8h-1.8zM311.7 674.7h1.8v1.8h-1.8zM305.2 676.9h1.8v1.8h-1.8zM337.6 675.9h1.8v1.8h-1.8zM334.2 675.9h1.8v1.8h-1.8zM339.8 674.6h1.8v1.8h-1.8zM302.5 674.9h1.8v1.8h-1.8zM335.3 676.9h1.8v1.8h-1.8zM329.1 674.1h1.8v1.8h-1.8zM316.6 674.4h1.8v1.8h-1.8zM333.8 675.0h1.8v1.8h-1.8zM295.0 676.7h1.8v1.8h-1.8zM304.3 675.2h1.8v1.8h-1.8zM354.5 674.5h1.8v1.8h-1.8zM297.0 673.6h1.8v1.8h-1.8zM289.7 676.6h1.8v1.8h-1.8zM293.9 675.3h1.8v1.8h-1.8zM331.2 675.2h1.8v1.8h-1.8zM300.9 673.8h1.8v1.8h-1.8zM343.8 674.2h1.8v1.8h-1.8zM374.7 675.0h1.8v1.8h-1.8zM297.2 674.9h1.8v1.8h-1.8zM313.6 673.9h1.8v1.8h-1.8zM336.5 675.0h1.8v1.8h-1.8zM317.9 675.5h1.8v1.8h-1.8zM305.0 676.2h1.8v1.8h-1.8zM288.6 605.2h1.6v1.6h-1.6zM289.9 645.0h1.6v1.6h-1.6zM288.7 655.1h1.6v1.6h-1.6zM289.3 613.3h1.6v1.6h-1.6zM288.9 647.5h1.6v1.6h-1.6zM287.7 608.9h1.6v1.6h-1.6zM289.1 676.4h1.6v1.6h-1.6zM287.8 609.5h1.6v1.6h-1.6zM288.5 617.8h1.6v1.6h-1.6zM287.6 650.4h1.6v1.6h-1.6zM288.9 614.1h1.6v1.6h-1.6zM287.6 662.6h1.6v1.6h-1.6zM289.0 617.8h1.6v1.6h-1.6zM288.4 607.6h1.6v1.6h-1.6zM288.1 624.1h1.6v1.6h-1.6zM288.8 640.2h1.6v1.6h-1.6zM288.8 613.1h1.6v1.6h-1.6zM289.2 663.9h1.6v1.6h-1.6zM288.0 675.8h1.6v1.6h-1.6zM289.1 617.4h1.6v1.6h-1.6zM288.5 613.9h1.6v1.6h-1.6zM287.7 662.0h1.6v1.6h-1.6zM289.6 621.4h1.6v1.6h-1.6zM288.9 675.8h1.6v1.6h-1.6zM287.5 601.3h1.6v1.6h-1.6zM289.1 605.9h1.6v1.6h-1.6zM288.9 625.4h1.6v1.6h-1.6zM288.9 621.9h1.6v1.6h-1.6zM287.9 667.2h1.6v1.6h-1.6zM287.6 647.4h1.6v1.6h-1.6zM290.0 664.9h1.6v1.6h-1.6zM289.2 655.1h1.6v1.6h-1.6zM289.9 659.9h1.6v1.6h-1.6zM288.4 658.4h1.6v1.6h-1.6zM288.7 643.4h1.6v1.6h-1.6zM289.1 631.6h1.6v1.6h-1.6zM289.2 656.6h1.6v1.6h-1.6zM289.7 632.0h1.6v1.6h-1.6zM288.5 676.6h1.6v1.6h-1.6zM289.0 649.7h1.6v1.6h-1.6zM289.8 654.0h1.6v1.6h-1.6zM289.9 608.6h1.6v1.6h-1.6zM288.9 675.1h1.6v1.6h-1.6zM288.4 625.5h1.6v1.6h-1.6zM289.3 651.5h1.6v1.6h-1.6zM288.5 644.0h1.6v1.6h-1.6zM288.5 669.7h1.6v1.6h-1.6zM288.6 657.5h1.6v1.6h-1.6zM287.9 676.4h1.6v1.6h-1.6zM288.2 672.8h1.6v1.6h-1.6zM90.3 814.6h2v2h-2zM124.5 773.4h2v2h-2zM117.8 815.1h2v2h-2zM110.4 807.8h2v2h-2zM86.6 794.5h2v2h-2zM123.0 810.9h2v2h-2zM107.3 805.4h2v2h-2zM109.5 804.5h2v2h-2zM141.8 801.1h2v2h-2zM148.0 811.0h2v2h-2zM82.3 796.7h2v2h-2zM125.2 814.2h2v2h-2zM154.5 793.6h2v2h-2zM90.9 788.9h2v2h-2zM107.6 805.7h2v2h-2zM99.1 806.9h2v2h-2zM115.8 801.8h2v2h-2zM125.8 812.7h2v2h-2zM85.0 788.8h2v2h-2zM125.7 787.2h2v2h-2zM127.9 795.7h2v2h-2zM93.8 807.8h2v2h-2zM106.6 802.1h2v2h-2zM131.2 810.0h2v2h-2zM125.2 798.7h2v2h-2zM128.4 803.6h2v2h-2zM140.3 807.9h2v2h-2zM128.6 810.4h2v2h-2zM92.8 814.8h2v2h-2zM123.9 808.9h2v2h-2zM142.0 803.3h2v2h-2zM84.9 803.7h2v2h-2zM104.1 806.1h2v2h-2zM89.4 797.4h2v2h-2zM130.0 813.3h2v2h-2zM109.0 800.4h2v2h-2zM134.5 795.6h2v2h-2zM134.5 803.2h2v2h-2zM92.2 806.9h2v2h-2zM115.6 810.9h2v2h-2zM106.9 805.0h2v2h-2zM136.6 800.5h2v2h-2zM136.8 798.5h2v2h-2zM144.3 815.5h2v2h-2zM92.5 812.5h2v2h-2zM111.4 811.8h2v2h-2zM82.2 815.0h2v2h-2zM120.8 790.3h2v2h-2zM96.3 784.8h2v2h-2zM110.1 792.1h2v2h-2zM91.8 785.3h2v2h-2zM101.5 786.4h2v2h-2zM122.3 779.1h2v2h-2zM92.5 810.9h2v2h-2zM133.3 795.8h2v2h-2zM103.4 811.0h2v2h-2zM115.8 788.6h2v2h-2zM92.4 790.2h2v2h-2zM140.0 799.0h2v2h-2zM134.1 778.6h2v2h-2zM107.3 810.4h2v2h-2zM115.3 806.1h2v2h-2zM82.5 806.2h2v2h-2zM147.5 793.7h2v2h-2zM126.0 796.1h2v2h-2zM102.5 812.9h2v2h-2zM129.8 776.0h2v2h-2zM112.1 814.5h2v2h-2zM83.0 813.6h2v2h-2zM117.9 784.5h2v2h-2zM110.7 800.0h2v2h-2zM153.6 796.0h2v2h-2zM110.9 805.3h2v2h-2zM116.5 785.4h2v2h-2zM139.8 814.3h2v2h-2zM89.8 805.6h2v2h-2zM131.2 798.0h2v2h-2zM129.9 814.4h2v2h-2zM111.4 799.9h2v2h-2zM93.3 814.8h2v2h-2zM120.3 806.6h2v2h-2zM113.8 814.4h2v2h-2zM125.1 778.5h2v2h-2zM100.1 814.5h2v2h-2zM105.2 801.5h2v2h-2zM122.2 798.4h2v2h-2zM84.9 799.8h2v2h-2zM135.6 785.1h2v2h-2zM105.9 814.8h2v2h-2zM117.2 806.6h2v2h-2zM121.2 805.2h2v2h-2zM116.6 765.8h2v2h-2zM137.9 809.6h2v2h-2zM87.5 815.4h2v2h-2zM99.2 800.8h2v2h-2zM90.3 785.2h2v2h-2zM121.3 790.5h2v2h-2zM99.9 793.9h2v2h-2zM125.9 811.7h2v2h-2zM106.6 801.1h2v2h-2zM97.5 795.7h2v2h-2zM98.5 815.2h2v2h-2zM113.3 802.9h2v2h-2zM146.1 810.9h2v2h-2zM127.2 808.6h2v2h-2zM126.2 809.4h2v2h-2zM129.8 811.5h2v2h-2zM104.0 791.1h2v2h-2zM83.4 808.5h2v2h-2zM94.7 807.1h2v2h-2zM106.6 798.4h2v2h-2zM111.0 807.3h2v2h-2zM112.1 792.0h2v2h-2zM160.3 811.0h2v2h-2zM139.0 814.5h2v2h-2zM97.4 790.6h2v2h-2zM111.7 815.4h2v2h-2zM117.1 791.7h2v2h-2zM104.2 804.3h2v2h-2zM85.0 807.3h2v2h-2zM116.8 812.7h2v2h-2zM114.0 787.6h2v2h-2zM87.4 806.7h2v2h-2zM103.9 785.7h2v2h-2zM125.2 810.4h2v2h-2zM83.8 797.8h2v2h-2zM128.7 800.9h2v2h-2zM108.8 815.4h2v2h-2zM107.8 797.5h2v2h-2zM113.7 795.1h2v2h-2zM98.8 802.1h2v2h-2zM114.3 796.1h2v2h-2zM133.7 810.0h2v2h-2zM140.7 794.9h2v2h-2zM99.3 812.4h2v2h-2zM93.3 810.8h2v2h-2zM107.7 807.2h2v2h-2zM96.2 793.9h2v2h-2zM126.3 803.0h2v2h-2zM141.4 788.8h2v2h-2zM82.7 811.6h2v2h-2zM98.2 807.9h2v2h-2zM109.3 796.1h2v2h-2zM84.4 794.3h2v2h-2zM130.9 791.5h2v2h-2zM131.4 793.5h2v2h-2zM135.0 815.3h2v2h-2zM143.5 804.2h2v2h-2zM105.5 791.4h2v2h-2zM115.2 811.2h2v2h-2zM127.1 792.8h2v2h-2zM115.9 814.4h2v2h-2zM109.6 790.5h2v2h-2zM91.3 807.9h2v2h-2zM98.8 808.4h2v2h-2zM99.2 802.2h2v2h-2zM98.5 814.1h2v2h-2zM102.0 804.9h2v2h-2zM142.3 792.8h2v2h-2zM87.3 799.0h2v2h-2zM103.3 799.9h2v2h-2zM109.5 782.8h2v2h-2zM116.8 781.2h2v2h-2zM103.1 764.2h2v2h-2zM121.0 811.5h2v2h-2zM135.9 784.7h2v2h-2zM101.2 778.7h2v2h-2zM148.6 793.7h2v2h-2zM110.7 813.8h2v2h-2zM89.6 802.1h2v2h-2zM118.1 787.6h2v2h-2zM91.6 793.1h2v2h-2zM97.1 774.4h2v2h-2zM103.7 798.5h2v2h-2zM150.6 808.5h2v2h-2zM123.6 796.0h2v2h-2zM117.3 795.7h2v2h-2zM111.8 773.2h2v2h-2zM85.4 788.8h2v2h-2zM87.3 799.7h2v2h-2zM100.0 774.6h2v2h-2zM125.3 811.9h2v2h-2zM131.1 803.0h2v2h-2zM140.6 800.8h2v2h-2zM112.7 808.1h2v2h-2zM83.0 812.8h2v2h-2zM111.8 777.7h2v2h-2zM125.6 804.5h2v2h-2zM108.7 796.1h2v2h-2zM130.0 807.9h2v2h-2zM127.8 803.2h2v2h-2zM119.8 804.0h2v2h-2zM87.6 812.2h2v2h-2zM135.1 800.3h2v2h-2zM109.1 813.4h2v2h-2zM93.3 804.6h2v2h-2zM134.3 789.0h2v2h-2zM147.4 812.0h2v2h-2zM133.1 794.0h2v2h-2zM129.8 799.0h2v2h-2zM97.2 803.6h2v2h-2zM82.1 795.8h2v2h-2zM139.5 809.5h2v2h-2zM107.7 793.8h2v2h-2zM145.8 812.7h2v2h-2zM132.8 797.9h2v2h-2zM141.8 814.4h2v2h-2zM130.5 795.1h2v2h-2zM96.6 806.7h2v2h-2zM137.0 802.7h2v2h-2zM86.7 776.9h2v2h-2zM108.6 805.3h2v2h-2zM97.8 810.1h2v2h-2zM97.9 813.8h2v2h-2zM129.9 812.1h2v2h-2zM108.1 809.5h2v2h-2zM84.1 811.1h2v2h-2zM115.6 782.5h2v2h-2zM140.5 815.3h2v2h-2zM82.1 782.0h2v2h-2zM84.6 813.0h2v2h-2zM136.5 802.9h2v2h-2zM86.9 802.4h2v2h-2zM132.4 801.6h2v2h-2zM159.1 804.8h2v2h-2zM118.5 797.1h2v2h-2zM84.8 804.0h2v2h-2zM129.7 812.4h2v2h-2zM122.4 813.6h2v2h-2zM86.1 789.0h2v2h-2zM117.9 806.9h2v2h-2zM112.0 803.9h2v2h-2zM118.1 793.0h2v2h-2zM90.6 802.4h2v2h-2zM137.5 792.2h2v2h-2zM112.0 803.1h2v2h-2zM128.2 807.0h2v2h-2zM93.2 783.3h2v2h-2zM125.7 780.2h2v2h-2zM97.2 803.5h2v2h-2zM121.5 793.0h2v2h-2zM110.2 803.1h2v2h-2zM141.9 814.8h2v2h-2zM98.3 792.1h2v2h-2zM124.4 804.2h2v2h-2zM133.1 784.6h2v2h-2zM97.7 790.8h2v2h-2zM113.8 805.8h2v2h-2zM137.0 801.8h2v2h-2zM99.5 796.7h2v2h-2zM87.8 801.8h2v2h-2zM128.7 812.1h2v2h-2zM110.5 812.6h2v2h-2zM131.6 789.0h2v2h-2zM88.7 794.0h2v2h-2zM149.3 809.8h2v2h-2zM110.0 777.3h2v2h-2zM122.6 797.8h2v2h-2zM145.6 793.5h2v2h-2zM116.3 813.9h2v2h-2zM123.2 777.5h2v2h-2zM82.9 813.8h2v2h-2zM116.4 797.0h2v2h-2zM112.8 783.8h2v2h-2zM132.6 814.8h2v2h-2zM134.6 797.0h2v2h-2zM104.3 804.5h2v2h-2zM97.4 796.0h2v2h-2zM134.5 814.0h2v2h-2zM100.4 782.5h2v2h-2zM117.7 806.5h2v2h-2zM108.9 791.8h2v2h-2zM96.7 796.6h2v2h-2zM143.8 809.2h2v2h-2zM106.7 814.8h2v2h-2zM117.0 808.7h2v2h-2zM122.3 813.8h2v2h-2zM86.5 798.2h2v2h-2zM102.9 813.3h2v2h-2zM103.0 807.9h2v2h-2zM102.1 789.5h2v2h-2zM110.2 801.9h2v2h-2zM110.5 815.3h2v2h-2zM131.9 774.7h2v2h-2zM133.6 803.7h2v2h-2zM112.4 815.1h2v2h-2zM113.6 806.3h2v2h-2zM98.6 803.4h2v2h-2zM105.5 761.0h2v2h-2zM107.3 803.9h2v2h-2zM148.7 809.3h2v2h-2zM110.8 786.5h2v2h-2zM98.9 804.5h2v2h-2zM125.2 796.1h2v2h-2zM142.2 807.2h2v2h-2zM122.0 810.9h2v2h-2zM114.4 749.4h2v2h-2zM134.3 811.5h2v2h-2zM127.9 811.9h2v2h-2zM126.1 815.4h2v2h-2zM138.6 781.4h2v2h-2zM93.0 814.3h2v2h-2zM116.2 815.4h2v2h-2zM89.4 804.6h2v2h-2zM82.5 798.6h2v2h-2zM145.2 813.6h2v2h-2zM117.4 808.5h2v2h-2zM109.6 798.5h2v2h-2zM88.8 812.8h2v2h-2zM128.6 806.5h2v2h-2zM127.6 785.0h2v2h-2zM126.8 811.2h2v2h-2zM125.0 801.7h2v2h-2zM107.5 810.4h2v2h-2zM129.9 795.6h2v2h-2zM101.8 798.7h2v2h-2zM101.4 806.3h2v2h-2zM89.9 802.5h2v2h-2zM125.0 810.7h2v2h-2zM124.9 782.2h2v2h-2zM131.3 790.2h2v2h-2zM140.0 804.9h2v2h-2zM140.8 809.6h2v2h-2zM124.9 801.3h2v2h-2zM124.0 785.3h2v2h-2zM97.9 815.2h2v2h-2zM112.0 814.8h2v2h-2zM97.6 809.7h2v2h-2zM138.8 804.7h2v2h-2zM134.5 807.2h2v2h-2zM88.2 814.1h2v2h-2zM104.1 798.3h2v2h-2zM101.6 809.4h2v2h-2zM97.1 810.3h2v2h-2zM108.5 805.3h2v2h-2zM119.4 805.3h2v2h-2zM89.6 801.2h2v2h-2zM130.0 793.8h2v2h-2zM100.6 768.1h2v2h-2zM98.0 800.9h2v2h-2zM126.3 784.2h2v2h-2zM127.0 801.8h2v2h-2zM131.3 805.9h2v2h-2zM104.1 810.2h2v2h-2zM124.8 789.3h2v2h-2zM92.7 804.3h2v2h-2zM119.7 802.4h2v2h-2zM121.1 799.5h2v2h-2zM112.6 805.7h2v2h-2zM87.6 799.0h2v2h-2zM105.7 804.3h2v2h-2zM142.6 810.3h2v2h-2zM156.5 812.4h2v2h-2zM123.5 785.7h2v2h-2zM133.5 815.2h2v2h-2zM120.4 806.1h2v2h-2zM91.3 796.1h2v2h-2zM82.7 812.7h2v2h-2zM150.1 775.1h2v2h-2zM118.5 805.3h2v2h-2zM129.9 811.8h2v2h-2zM100.5 814.0h2v2h-2zM85.7 792.1h2v2h-2zM94.4 809.8h2v2h-2zM85.4 808.5h2v2h-2zM82.8 815.4h2v2h-2zM97.1 814.6h2v2h-2zM141.8 810.4h2v2h-2zM139.9 792.1h2v2h-2zM133.5 812.4h2v2h-2zM120.1 775.6h2v2h-2zM84.4 807.6h2v2h-2zM137.2 807.8h2v2h-2zM114.8 812.0h2v2h-2zM108.2 814.6h2v2h-2zM97.6 809.9h2v2h-2zM85.1 796.5h2v2h-2zM127.7 802.0h2v2h-2zM107.8 797.5h2v2h-2zM141.9 813.7h2v2h-2zM119.2 797.7h2v2h-2zM127.5 813.4h2v2h-2zM117.3 803.5h2v2h-2zM85.5 789.5h2v2h-2zM102.2 772.4h2v2h-2zM109.3 787.1h2v2h-2zM142.2 806.2h2v2h-2zM114.7 778.7h2v2h-2zM88.8 788.5h2v2h-2zM154.9 807.6h2v2h-2zM141.7 806.7h2v2h-2zM95.2 770.9h2v2h-2zM131.8 814.5h2v2h-2zM122.1 813.6h2v2h-2zM130.7 801.1h2v2h-2zM90.8 800.8h2v2h-2zM99.8 808.6h2v2h-2zM110.6 798.1h2v2h-2zM160.4 811.4h2v2h-2zM129.2 812.9h2v2h-2zM159.9 812.0h2v2h-2zM87.7 797.2h2v2h-2zM105.6 795.1h2v2h-2zM98.6 800.1h2v2h-2zM132.3 794.1h2v2h-2zM101.1 813.1h2v2h-2zM114.3 815.3h2v2h-2zM88.7 793.6h2v2h-2zM116.9 806.7h2v2h-2zM122.7 809.6h2v2h-2zM138.1 802.3h2v2h-2zM94.1 800.0h2v2h-2zM121.1 781.3h2v2h-2zM123.7 779.8h2v2h-2zM95.1 808.4h2v2h-2zM105.4 810.7h2v2h-2zM114.2 775.6h2v2h-2zM104.1 786.3h2v2h-2zM115.0 812.3h2v2h-2zM105.9 789.3h2v2h-2zM119.8 811.5h2v2h-2zM89.4 801.1h2v2h-2zM84.0 806.5h2v2h-2zM100.2 807.4h2v2h-2zM106.4 793.1h2v2h-2zM84.6 782.4h2v2h-2zM128.4 809.3h2v2h-2zM140.7 803.4h2v2h-2zM130.4 795.3h2v2h-2zM115.8 790.9h2v2h-2zM93.0 785.3h2v2h-2zM135.5 799.7h2v2h-2zM97.2 798.2h2v2h-2zM100.0 799.8h2v2h-2zM103.8 792.6h2v2h-2zM95.9 812.4h2v2h-2zM92.2 802.2h2v2h-2zM123.6 794.2h2v2h-2zM137.3 803.6h2v2h-2zM96.3 806.9h2v2h-2zM105.0 806.2h2v2h-2zM108.7 789.3h2v2h-2zM108.5 811.9h2v2h-2zM135.6 804.7h2v2h-2zM111.5 813.4h2v2h-2zM138.7 801.9h2v2h-2zM135.4 782.3h2v2h-2zM102.8 805.6h2v2h-2zM107.5 797.9h2v2h-2zM125.4 811.1h2v2h-2zM102.7 773.5h2v2h-2zM127.8 798.2h2v2h-2zM142.9 783.1h2v2h-2zM134.5 814.0h2v2h-2zM97.8 774.2h2v2h-2zM129.1 799.0h2v2h-2zM128.7 796.8h2v2h-2zM125.8 801.5h2v2h-2zM96.8 808.7h2v2h-2zM134.1 809.4h2v2h-2zM99.1 792.2h2v2h-2zM85.1 789.4h2v2h-2zM142.0 811.9h2v2h-2zM121.7 781.1h2v2h-2zM104.8 775.9h2v2h-2zM94.5 805.7h2v2h-2zM96.9 812.9h2v2h-2zM96.9 812.3h2v2h-2zM133.8 813.7h2v2h-2zM117.4 798.4h2v2h-2zM135.8 808.2h2v2h-2zM92.7 809.5h2v2h-2zM130.4 815.1h2v2h-2zM122.8 801.1h2v2h-2zM124.7 807.5h2v2h-2zM139.5 810.6h2v2h-2zM129.3 786.5h2v2h-2zM115.2 811.5h2v2h-2zM136.8 798.6h2v2h-2zM124.4 795.9h2v2h-2zM109.6 790.6h2v2h-2zM99.0 791.8h2v2h-2zM93.4 796.0h2v2h-2zM121.2 777.8h2v2h-2zM83.0 800.0h2v2h-2zM116.1 803.7h2v2h-2zM123.8 796.4h2v2h-2zM132.7 806.7h2v2h-2zM112.8 800.1h2v2h-2zM118.2 796.8h2v2h-2zM149.8 796.7h2v2h-2zM89.2 811.0h2v2h-2zM126.5 789.0h2v2h-2zM132.9 814.6h2v2h-2zM135.8 807.6h2v2h-2zM127.7 809.9h2v2h-2zM108.2 813.8h2v2h-2zM123.5 799.0h2v2h-2zM143.6 804.4h2v2h-2zM119.9 807.3h2v2h-2zM128.5 797.9h2v2h-2zM97.9 793.1h2v2h-2zM102.1 797.2h2v2h-2zM139.2 803.0h2v2h-2zM107.9 803.9h2v2h-2zM116.3 780.8h2v2h-2zM119.2 792.7h2v2h-2zM145.6 801.3h2v2h-2zM115.8 814.6h2v2h-2zM133.6 805.3h2v2h-2zM126.3 804.4h2v2h-2zM138.6 804.1h2v2h-2zM118.3 807.0h2v2h-2zM106.2 780.8h2v2h-2zM125.4 805.8h2v2h-2zM93.3 799.7h2v2h-2zM114.7 801.9h2v2h-2zM106.4 784.2h2v2h-2zM125.0 790.7h2v2h-2zM100.6 813.3h2v2h-2zM108.0 806.3h2v2h-2zM84.4 784.5h2v2h-2zM118.5 801.2h2v2h-2zM119.9 803.0h2v2h-2zM108.2 804.5h2v2h-2zM104.5 789.0h2v2h-2zM132.6 808.4h2v2h-2zM133.6 806.4h2v2h-2zM111.3 808.5h2v2h-2zM97.3 808.1h2v2h-2zM82.4 813.3h2v2h-2zM118.5 803.7h2v2h-2zM135.0 802.4h2v2h-2zM141.0 798.1h2v2h-2zM104.1 805.5h2v2h-2zM105.2 800.0h2v2h-2zM91.1 806.8h2v2h-2zM108.9 810.1h2v2h-2zM92.0 812.0h2v2h-2zM132.5 787.3h2v2h-2zM142.5 781.7h2v2h-2zM82.7 794.8h2v2h-2zM150.1 784.9h2v2h-2zM91.1 805.8h2v2h-2zM101.0 809.3h2v2h-2zM105.3 811.0h2v2h-2zM122.9 803.0h2v2h-2zM113.6 782.8h2v2h-2zM128.9 789.4h2v2h-2zM93.0 795.2h2v2h-2zM114.4 798.3h2v2h-2zM106.9 814.4h2v2h-2zM120.2 798.8h2v2h-2zM97.1 812.5h2v2h-2zM144.4 808.0h2v2h-2zM85.7 800.7h2v2h-2zM109.7 799.6h2v2h-2zM143.6 806.8h2v2h-2zM104.7 799.9h2v2h-2zM122.1 799.0h2v2h-2zM123.4 813.2h2v2h-2zM94.2 792.6h2v2h-2zM115.3 812.7h2v2h-2zM97.6 792.6h2v2h-2zM148.1 806.5h2v2h-2zM120.7 807.1h2v2h-2zM134.8 796.7h2v2h-2zM136.6 795.4h2v2h-2zM120.9 784.0h2v2h-2zM96.5 800.3h2v2h-2zM101.7 814.6h2v2h-2zM114.9 805.3h2v2h-2zM82.8 811.9h2v2h-2zM91.9 811.3h2v2h-2zM129.0 805.9h2v2h-2zM152.0 803.2h2v2h-2zM133.3 810.8h2v2h-2zM95.9 794.3h2v2h-2zM93.4 806.5h2v2h-2zM84.0 813.4h2v2h-2zM98.7 793.0h2v2h-2zM120.1 814.1h2v2h-2zM91.6 811.1h2v2h-2zM92.2 785.2h2v2h-2zM96.5 782.2h2v2h-2zM112.8 804.8h2v2h-2zM114.0 815.4h2v2h-2zM133.7 806.8h2v2h-2zM111.2 789.0h2v2h-2zM91.4 796.7h2v2h-2zM112.9 771.1h2v2h-2zM128.6 796.7h2v2h-2zM109.6 812.6h2v2h-2zM89.5 782.4h2v2h-2zM136.7 783.1h2v2h-2zM130.0 795.9h2v2h-2zM135.8 785.4h2v2h-2zM144.2 807.5h2v2h-2zM97.3 809.4h2v2h-2zM123.1 812.1h2v2h-2zM132.5 803.7h2v2h-2zM124.5 807.1h2v2h-2zM95.8 802.0h2v2h-2zM125.2 795.0h2v2h-2zM94.2 780.0h2v2h-2zM128.4 809.6h2v2h-2zM105.0 809.6h2v2h-2zM138.2 803.3h2v2h-2zM109.0 804.7h2v2h-2zM159.1 811.5h2v2h-2zM96.2 812.8h2v2h-2zM128.0 815.4h2v2h-2zM131.2 803.4h2v2h-2zM87.4 783.0h2v2h-2zM100.9 810.9h2v2h-2zM144.8 806.2h2v2h-2zM124.2 769.2h2v2h-2zM119.0 809.7h2v2h-2zM129.0 790.6h2v2h-2zM132.3 810.0h2v2h-2zM105.1 782.7h2v2h-2zM96.3 798.5h2v2h-2zM125.1 789.0h2v2h-2zM83.0 814.2h2v2h-2zM108.3 812.3h2v2h-2zM131.8 792.3h2v2h-2zM136.8 812.0h2v2h-2zM140.7 811.0h2v2h-2zM122.8 780.7h2v2h-2zM141.1 811.3h2v2h-2zM136.3 814.8h2v2h-2zM147.1 814.1h2v2h-2zM147.4 813.8h2v2h-2zM137.1 806.7h2v2h-2zM98.8 809.3h2v2h-2zM127.5 811.2h2v2h-2zM107.7 798.9h2v2h-2zM108.2 797.2h2v2h-2zM141.7 799.6h2v2h-2zM129.6 808.6h2v2h-2zM135.6 811.3h2v2h-2zM141.6 807.6h2v2h-2zM99.2 810.0h2v2h-2zM91.3 797.1h2v2h-2zM153.8 769.1h2v2h-2zM92.2 815.4h2v2h-2zM150.8 811.9h2v2h-2zM87.9 797.4h2v2h-2zM97.4 799.3h2v2h-2zM134.7 802.0h2v2h-2zM107.3 814.0h2v2h-2zM135.3 803.6h2v2h-2zM145.2 813.8h2v2h-2zM115.5 748.7h2v2h-2zM99.7 808.3h2v2h-2zM114.1 795.9h2v2h-2zM92.0 807.9h2v2h-2zM95.3 790.3h2v2h-2zM93.8 811.9h2v2h-2zM129.7 775.6h2v2h-2zM83.3 807.2h2v2h-2zM116.6 776.5h2v2h-2zM101.9 792.6h2v2h-2zM99.3 810.8h2v2h-2zM121.1 803.7h2v2h-2zM115.1 815.5h2v2h-2zM127.5 810.6h2v2h-2zM141.9 812.3h2v2h-2zM94.3 752.3h2v2h-2zM95.7 805.2h2v2h-2zM96.7 796.1h2v2h-2zM106.1 813.6h2v2h-2zM96.2 787.6h2v2h-2zM127.5 814.4h2v2h-2zM123.0 805.0h2v2h-2zM88.4 753.9h2v2h-2zM142.8 797.2h2v2h-2zM87.5 792.3h2v2h-2zM103.3 780.6h2v2h-2zM100.1 814.1h2v2h-2zM117.9 801.7h2v2h-2zM109.2 788.7h2v2h-2zM133.1 798.8h2v2h-2zM109.7 762.1h2v2h-2zM127.4 809.4h2v2h-2zM126.1 811.4h2v2h-2zM105.9 803.5h2v2h-2zM141.6 809.5h2v2h-2zM161.3 790.6h2v2h-2zM122.7 791.3h2v2h-2zM106.8 814.1h2v2h-2zM99.7 802.3h2v2h-2zM108.1 801.0h2v2h-2zM123.4 814.8h2v2h-2zM101.8 808.2h2v2h-2zM107.2 809.5h2v2h-2zM97.8 802.2h2v2h-2zM117.9 811.3h2v2h-2zM104.0 813.4h2v2h-2zM117.4 788.5h2v2h-2zM94.0 812.5h2v2h-2zM141.7 815.2h2v2h-2zM119.9 798.2h2v2h-2zM128.5 789.7h2v2h-2zM85.5 799.2h2v2h-2zM102.0 804.5h2v2h-2zM129.3 790.5h2v2h-2zM115.3 807.9h2v2h-2zM106.7 780.4h2v2h-2zM104.8 811.3h2v2h-2zM106.1 803.7h2v2h-2zM148.1 804.5h2v2h-2zM133.2 801.6h2v2h-2zM125.7 815.1h2v2h-2zM112.5 805.4h2v2h-2zM120.4 797.4h2v2h-2zM124.0 813.7h2v2h-2zM102.3 802.8h2v2h-2zM95.1 807.4h2v2h-2zM144.8 811.6h2v2h-2zM119.3 805.9h2v2h-2zM119.8 804.9h2v2h-2zM119.4 798.2h2v2h-2zM100.8 796.8h2v2h-2zM134.6 810.2h2v2h-2zM94.6 796.8h2v2h-2zM111.2 789.0h2v2h-2zM141.0 800.9h2v2h-2zM101.9 813.0h2v2h-2zM103.5 798.5h2v2h-2zM111.9 805.5h2v2h-2zM84.4 771.1h2v2h-2zM117.9 802.8h2v2h-2zM122.5 784.7h2v2h-2zM134.0 796.6h2v2h-2zM103.8 798.4h2v2h-2zM95.4 768.7h2v2h-2zM87.5 805.4h2v2h-2zM124.2 813.1h2v2h-2zM90.7 794.0h2v2h-2zM146.4 805.9h2v2h-2zM143.6 807.0h2v2h-2zM99.4 807.6h2v2h-2zM92.8 810.0h2v2h-2zM88.7 799.7h2v2h-2zM133.3 779.4h2v2h-2zM88.4 815.5h2v2h-2zM98.1 805.5h2v2h-2zM138.6 807.7h2v2h-2zM132.1 814.9h2v2h-2zM112.7 815.0h2v2h-2zM82.7 810.2h2v2h-2zM118.5 795.6h2v2h-2zM129.1 799.7h2v2h-2zM93.9 812.5h2v2h-2zM85.8 802.0h2v2h-2zM97.8 809.0h2v2h-2zM137.5 815.4h2v2h-2zM132.9 774.7h2v2h-2zM138.2 791.4h2v2h-2zM129.6 807.7h2v2h-2zM103.0 814.0h2v2h-2zM103.3 805.6h2v2h-2zM138.2 802.8h2v2h-2zM128.8 807.5h2v2h-2zM113.0 790.0h2v2h-2zM132.7 815.0h2v2h-2zM96.1 761.1h2v2h-2zM139.7 804.3h2v2h-2zM121.3 799.7h2v2h-2zM142.6 793.3h2v2h-2zM126.1 814.9h2v2h-2zM147.8 793.8h2v2h-2zM111.2 792.4h2v2h-2zM105.4 785.4h2v2h-2zM106.4 784.2h2v2h-2zM106.8 800.0h2v2h-2zM140.5 810.1h2v2h-2zM128.1 813.2h2v2h-2zM109.1 795.4h2v2h-2zM140.3 810.0h2v2h-2zM102.6 791.9h2v2h-2zM98.0 792.7h2v2h-2zM85.6 802.7h2v2h-2zM133.5 814.6h2v2h-2zM100.7 805.0h2v2h-2zM111.4 810.7h2v2h-2zM134.5 781.6h2v2h-2zM133.2 805.7h2v2h-2zM157.3 805.4h2v2h-2zM98.3 800.8h2v2h-2zM96.1 812.2h2v2h-2zM125.6 806.8h2v2h-2zM133.2 791.9h2v2h-2zM145.4 799.9h2v2h-2zM127.9 799.0h2v2h-2zM112.2 807.0h2v2h-2zM104.8 814.4h2v2h-2zM120.0 796.5h2v2h-2zM109.4 810.3h2v2h-2zM109.1 795.5h2v2h-2zM84.7 768.8h2v2h-2zM133.4 803.5h2v2h-2zM85.6 794.0h2v2h-2zM86.4 807.6h2v2h-2zM128.4 811.7h2v2h-2zM82.8 803.4h2v2h-2zM144.4 808.5h2v2h-2zM126.3 784.2h2v2h-2zM129.0 804.0h2v2h-2zM95.2 798.3h2v2h-2zM104.3 777.1h2v2h-2zM112.5 810.2h2v2h-2zM151.2 813.7h2v2h-2zM123.3 771.3h2v2h-2zM120.2 804.9h2v2h-2zM83.2 781.9h2v2h-2zM131.5 802.7h2v2h-2zM91.6 803.3h2v2h-2zM148.8 796.8h2v2h-2zM129.2 794.0h2v2h-2zM133.5 791.1h2v2h-2zM94.9 786.3h2v2h-2zM107.8 804.9h2v2h-2zM133.2 802.1h2v2h-2zM124.5 794.5h2v2h-2zM128.1 805.9h2v2h-2zM109.1 790.1h2v2h-2zM105.6 799.0h2v2h-2zM99.6 806.8h2v2h-2zM88.6 793.3h2v2h-2zM112.2 804.7h2v2h-2zM98.4 782.7h2v2h-2zM108.4 809.7h2v2h-2zM126.5 812.3h2v2h-2zM119.4 801.1h2v2h-2zM87.7 783.7h2v2h-2zM83.1 814.0h2v2h-2zM86.4 810.6h2v2h-2zM139.1 800.6h2v2h-2zM128.0 799.6h2v2h-2zM104.5 793.2h2v2h-2zM115.8 799.9h2v2h-2zM116.5 794.3h2v2h-2zM139.6 811.2h2v2h-2zM103.2 790.8h2v2h-2zM99.0 810.5h2v2h-2zM105.0 795.8h2v2h-2zM136.9 795.9h2v2h-2zM119.0 798.8h2v2h-2zM136.7 789.9h2v2h-2zM102.4 789.7h2v2h-2zM147.6 797.1h2v2h-2zM126.5 814.2h2v2h-2zM125.9 794.1h2v2h-2zM113.4 793.3h2v2h-2zM96.7 811.9h2v2h-2zM126.4 785.2h2v2h-2zM87.5 815.2h2v2h-2zM117.4 795.3h2v2h-2zM94.5 810.7h2v2h-2zM118.3 813.8h2v2h-2zM88.0 811.5h2v2h-2zM115.5 798.4h2v2h-2zM103.3 790.2h2v2h-2zM140.9 787.1h2v2h-2zM110.1 792.6h2v2h-2zM100.4 803.1h2v2h-2zM111.3 792.4h2v2h-2zM123.5 811.3h2v2h-2zM122.2 769.8h2v2h-2zM119.6 815.3h2v2h-2zM87.7 793.4h2v2h-2zM121.2 806.6h2v2h-2zM106.8 798.5h2v2h-2zM101.2 810.3h2v2h-2zM133.2 791.5h2v2h-2zM97.9 806.3h2v2h-2zM125.8 775.8h2v2h-2zM123.8 805.8h2v2h-2zM99.1 808.5h2v2h-2zM126.1 802.1h2v2h-2zM100.2 799.7h2v2h-2zM118.4 780.4h2v2h-2zM93.9 811.5h2v2h-2zM102.6 788.6h2v2h-2zM101.6 814.6h2v2h-2zM111.6 811.5h2v2h-2zM120.8 813.0h2v2h-2zM138.9 777.7h2v2h-2zM136.2 808.4h2v2h-2zM92.5 811.0h2v2h-2zM127.0 793.5h2v2h-2zM115.8 798.5h2v2h-2zM82.4 812.4h2v2h-2zM107.0 802.9h2v2h-2zM153.7 790.1h2v2h-2zM138.7 815.3h2v2h-2zM126.1 806.8h2v2h-2zM91.3 814.5h2v2h-2zM135.3 808.3h2v2h-2zM106.8 772.3h2v2h-2zM110.5 804.1h2v2h-2zM106.8 789.3h2v2h-2zM126.2 793.8h2v2h-2zM128.8 802.2h2v2h-2zM113.8 809.9h2v2h-2zM128.1 808.4h2v2h-2zM128.9 790.5h2v2h-2zM148.5 812.8h2v2h-2zM96.2 805.1h2v2h-2zM108.4 785.6h2v2h-2zM123.2 779.3h2v2h-2zM133.8 777.9h2v2h-2zM106.0 761.8h2v2h-2zM139.5 811.4h2v2h-2zM100.5 790.0h2v2h-2zM109.3 815.5h2v2h-2zM130.3 799.4h2v2h-2zM89.2 804.6h2v2h-2zM117.7 772.1h2v2h-2zM89.5 799.3h2v2h-2zM139.5 800.8h2v2h-2zM141.4 808.0h2v2h-2zM112.2 787.1h2v2h-2zM88.9 771.3h2v2h-2zM97.4 789.5h2v2h-2zM127.2 810.2h2v2h-2zM117.4 808.7h2v2h-2zM97.2 794.1h2v2h-2zM147.4 801.6h2v2h-2zM120.6 808.2h2v2h-2zM114.5 768.9h2v2h-2zM98.5 761.7h2v2h-2zM129.7 784.8h2v2h-2zM142.4 778.4h2v2h-2zM97.4 800.5h2v2h-2zM92.9 812.6h2v2h-2zM84.1 797.5h2v2h-2zM125.2 814.6h2v2h-2zM113.2 810.6h2v2h-2zM127.2 805.2h2v2h-2zM94.3 806.8h2v2h-2zM112.7 793.9h2v2h-2zM140.8 793.6h2v2h-2zM87.4 808.1h2v2h-2zM111.4 807.0h2v2h-2zM85.5 795.8h2v2h-2zM97.9 804.2h2v2h-2zM138.1 800.9h2v2h-2zM84.5 789.8h2v2h-2zM92.2 773.0h2v2h-2zM104.8 813.4h2v2h-2zM147.8 790.4h2v2h-2zM87.1 801.8h2v2h-2zM130.0 812.2h2v2h-2zM87.0 793.2h2v2h-2zM120.2 784.6h2v2h-2zM82.9 814.8h2v2h-2zM109.7 769.1h2v2h-2zM98.4 805.8h2v2h-2zM93.8 791.4h2v2h-2zM140.3 803.7h2v2h-2zM130.5 784.5h2v2h-2zM106.5 800.6h2v2h-2zM85.4 794.0h2v2h-2zM87.8 781.8h2v2h-2zM112.0 791.1h2v2h-2zM82.4 796.5h2v2h-2zM117.3 813.3h2v2h-2zM141.3 814.6h2v2h-2zM138.7 797.0h2v2h-2zM106.6 797.5h2v2h-2zM139.0 810.5h2v2h-2zM92.4 796.2h2v2h-2zM109.7 803.4h2v2h-2zM124.9 800.3h2v2h-2zM95.4 796.1h2v2h-2zM91.3 804.3h2v2h-2zM119.8 803.0h2v2h-2zM100.1 778.9h2v2h-2zM132.7 806.8h2v2h-2zM116.8 797.6h2v2h-2zM142.9 802.1h2v2h-2zM112.1 764.2h2v2h-2zM142.1 808.8h2v2h-2zM115.0 782.5h2v2h-2zM127.5 793.4h2v2h-2zM150.5 811.5h2v2h-2zM124.0 797.8h2v2h-2zM98.2 773.7h2v2h-2zM133.4 796.3h2v2h-2zM139.6 794.3h2v2h-2zM138.1 785.2h2v2h-2zM105.8 813.5h2v2h-2zM94.7 809.5h2v2h-2zM92.1 810.3h2v2h-2zM118.1 804.1h2v2h-2zM101.5 807.9h2v2h-2zM113.8 788.6h2v2h-2zM88.1 808.7h2v2h-2zM88.8 809.7h2v2h-2zM99.7 778.6h2v2h-2zM128.6 812.0h2v2h-2zM115.4 806.2h2v2h-2zM103.6 811.8h2v2h-2zM88.5 799.7h2v2h-2zM108.6 799.4h2v2h-2zM84.4 806.3h2v2h-2zM125.9 809.8h2v2h-2zM82.8 799.4h2v2h-2zM134.7 806.2h2v2h-2zM137.4 814.0h2v2h-2zM86.5 798.0h2v2h-2zM114.8 794.2h2v2h-2zM97.0 805.7h2v2h-2zM91.2 811.8h2v2h-2zM106.9 759.0h2v2h-2zM97.6 811.2h2v2h-2zM103.9 761.7h2v2h-2zM143.8 793.5h2v2h-2zM124.1 802.5h2v2h-2zM104.5 801.5h2v2h-2zM87.3 789.5h2v2h-2zM117.1 799.8h2v2h-2zM84.0 792.9h2v2h-2zM125.4 813.9h2v2h-2zM102.7 800.0h2v2h-2zM88.9 790.8h2v2h-2zM101.8 807.6h2v2h-2zM114.2 788.8h2v2h-2zM111.7 792.4h2v2h-2zM108.0 810.8h2v2h-2zM96.0 801.9h2v2h-2zM132.8 810.7h2v2h-2zM108.0 794.1h2v2h-2zM145.3 811.9h2v2h-2zM88.3 802.4h2v2h-2zM130.3 808.2h2v2h-2zM134.5 811.6h2v2h-2zM113.7 792.0h2v2h-2zM118.2 805.9h2v2h-2zM127.3 787.9h2v2h-2zM147.2 813.9h2v2h-2zM134.3 801.9h2v2h-2zM86.2 774.6h2v2h-2zM103.4 803.7h2v2h-2zM93.2 798.3h2v2h-2zM99.2 803.9h2v2h-2zM115.0 791.0h2v2h-2zM141.0 813.8h2v2h-2zM84.3 791.9h2v2h-2zM92.8 790.6h2v2h-2zM102.0 809.0h2v2h-2zM113.3 790.6h2v2h-2zM95.5 781.5h2v2h-2zM103.6 802.4h2v2h-2zM133.0 805.2h2v2h-2zM85.3 807.2h2v2h-2zM102.6 802.8h2v2h-2zM101.7 795.5h2v2h-2zM105.3 807.3h2v2h-2zM118.4 777.0h2v2h-2zM143.5 802.7h2v2h-2zM82.8 811.4h2v2h-2zM117.4 791.8h2v2h-2zM104.4 771.7h2v2h-2zM137.3 803.7h2v2h-2zM93.1 803.8h2v2h-2zM93.9 761.1h2v2h-2zM115.8 795.1h2v2h-2zM141.6 803.2h2v2h-2zM149.5 795.2h2v2h-2zM97.4 801.5h2v2h-2zM114.8 800.9h2v2h-2zM84.2 804.4h2v2h-2zM116.6 803.8h2v2h-2zM109.5 788.2h2v2h-2zM93.4 802.1h2v2h-2zM113.2 794.4h2v2h-2zM83.7 808.8h2v2h-2zM104.3 805.2h2v2h-2zM133.7 797.2h2v2h-2zM149.6 783.3h2v2h-2zM131.9 810.7h2v2h-2zM106.0 781.1h2v2h-2zM140.1 810.9h2v2h-2zM144.9 804.7h2v2h-2zM106.2 814.7h2v2h-2zM137.7 799.6h2v2h-2zM130.4 813.6h2v2h-2zM111.0 810.1h2v2h-2zM122.8 766.4h2v2h-2zM141.9 765.5h2v2h-2zM124.2 806.7h2v2h-2zM85.8 791.5h2v2h-2zM141.6 800.1h2v2h-2zM143.7 802.1h2v2h-2zM140.4 805.3h2v2h-2zM88.8 805.8h2v2h-2zM91.6 807.0h2v2h-2zM142.2 795.0h2v2h-2zM96.6 814.0h2v2h-2zM116.6 805.1h2v2h-2zM90.7 815.2h2v2h-2zM95.2 799.6h2v2h-2zM95.7 809.7h2v2h-2zM118.3 794.0h2v2h-2zM112.9 799.2h2v2h-2zM89.8 783.3h2v2h-2zM116.5 814.3h2v2h-2zM133.6 782.0h2v2h-2zM92.0 808.5h2v2h-2zM100.6 799.0h2v2h-2zM98.1 814.9h2v2h-2zM107.1 798.9h2v2h-2zM141.0 798.7h2v2h-2zM136.8 801.9h2v2h-2zM87.5 799.6h2v2h-2zM129.8 765.9h2v2h-2zM133.7 803.3h2v2h-2zM88.1 787.3h2v2h-2zM119.4 803.7h2v2h-2zM97.7 810.7h2v2h-2zM138.8 809.2h2v2h-2zM112.8 776.8h2v2h-2zM112.6 810.4h2v2h-2zM139.1 815.2h2v2h-2zM94.7 805.5h2v2h-2zM138.4 804.5h2v2h-2zM137.4 812.4h2v2h-2zM134.2 807.4h2v2h-2zM109.0 801.6h2v2h-2zM87.7 789.4h2v2h-2zM91.7 802.9h2v2h-2zM117.1 790.4h2v2h-2zM108.3 789.4h2v2h-2zM92.2 799.5h2v2h-2zM112.5 804.8h2v2h-2zM93.2 811.8h2v2h-2zM128.2 793.2h2v2h-2zM94.3 804.2h2v2h-2zM121.0 794.8h2v2h-2zM90.2 811.7h2v2h-2zM88.6 806.7h2v2h-2zM126.3 797.2h2v2h-2zM144.1 812.3h2v2h-2zM88.4 793.2h2v2h-2zM87.1 802.7h2v2h-2zM100.9 777.6h2v2h-2zM96.1 797.9h2v2h-2zM108.2 810.0h2v2h-2zM96.1 807.2h2v2h-2zM109.0 795.8h2v2h-2zM92.5 789.0h2v2h-2zM140.3 805.0h2v2h-2zM108.5 794.7h2v2h-2zM152.1 807.7h2v2h-2zM100.4 793.0h2v2h-2zM130.4 807.1h2v2h-2zM114.9 814.6h2v2h-2zM131.6 811.2h2v2h-2zM139.5 791.4h2v2h-2zM117.5 814.0h2v2h-2zM122.9 801.8h2v2h-2zM106.7 810.7h2v2h-2zM113.7 793.3h2v2h-2zM141.1 787.2h2v2h-2zM114.7 793.7h2v2h-2zM129.9 789.2h2v2h-2zM95.6 804.9h2v2h-2zM134.8 780.7h2v2h-2zM145.3 814.3h2v2h-2zM93.0 799.9h2v2h-2zM97.0 789.8h2v2h-2zM97.8 803.0h2v2h-2zM97.9 796.9h2v2h-2zM88.9 794.0h2v2h-2zM85.1 799.7h2v2h-2zM108.7 795.7h2v2h-2zM133.7 775.3h2v2h-2zM108.4 802.9h2v2h-2zM89.2 787.3h2v2h-2zM109.1 787.7h2v2h-2zM91.8 807.4h2v2h-2zM114.9 773.7h2v2h-2zM94.7 813.3h2v2h-2zM121.8 783.1h2v2h-2zM123.4 809.8h2v2h-2zM132.4 810.4h2v2h-2zM86.4 786.1h2v2h-2zM117.3 811.9h2v2h-2zM123.5 806.6h2v2h-2zM84.6 808.2h2v2h-2zM89.6 806.6h2v2h-2zM137.0 799.3h2v2h-2zM120.3 781.6h2v2h-2zM138.2 774.7h2v2h-2zM122.5 797.8h2v2h-2zM121.2 789.0h2v2h-2zM97.4 814.2h2v2h-2zM146.5 813.0h2v2h-2zM83.7 802.8h2v2h-2zM119.7 804.9h2v2h-2zM85.8 780.5h2v2h-2zM115.1 798.8h2v2h-2zM98.4 814.3h2v2h-2zM105.3 795.3h2v2h-2zM157.9 758.1h2v2h-2zM98.4 803.8h2v2h-2zM138.4 809.7h2v2h-2zM86.3 808.9h2v2h-2zM105.3 790.7h2v2h-2zM116.7 795.2h2v2h-2zM82.2 781.5h2v2h-2zM94.8 807.8h2v2h-2zM96.4 813.1h2v2h-2zM133.7 812.4h2v2h-2zM85.1 795.1h2v2h-2zM83.2 804.9h2v2h-2zM139.9 809.0h2v2h-2zM116.3 813.8h2v2h-2zM84.0 803.6h2v2h-2zM86.3 799.3h2v2h-2zM129.7 798.4h2v2h-2zM123.0 792.4h2v2h-2zM83.5 806.9h2v2h-2zM133.6 785.4h2v2h-2zM88.8 809.1h2v2h-2zM87.5 803.0h2v2h-2zM108.4 813.3h2v2h-2zM140.3 807.7h2v2h-2zM95.3 805.7h2v2h-2zM138.3 797.1h2v2h-2zM88.1 776.3h2v2h-2zM98.2 794.8h2v2h-2zM87.8 796.0h2v2h-2zM100.5 796.1h2v2h-2zM117.5 795.5h2v2h-2zM113.3 779.3h2v2h-2zM140.2 807.9h2v2h-2zM129.5 797.2h2v2h-2zM106.5 799.1h2v2h-2zM94.0 798.1h2v2h-2zM86.7 808.2h2v2h-2zM87.9 814.8h2v2h-2zM153.9 810.2h2v2h-2zM126.3 794.9h2v2h-2zM130.4 765.7h2v2h-2zM100.0 805.0h2v2h-2zM90.5 811.6h2v2h-2zM119.6 812.6h2v2h-2zM143.1 787.0h2v2h-2zM126.0 797.0h2v2h-2zM153.1 804.8h2v2h-2zM101.9 804.2h2v2h-2zM95.4 801.6h2v2h-2zM121.9 796.1h2v2h-2zM86.6 804.3h2v2h-2zM113.7 805.2h2v2h-2zM113.4 809.9h2v2h-2zM82.5 812.8h2v2h-2zM99.7 789.8h2v2h-2zM89.5 802.9h2v2h-2zM120.8 815.4h2v2h-2zM107.2 792.1h2v2h-2zM129.3 801.7h2v2h-2zM110.4 814.8h2v2h-2zM98.7 809.2h2v2h-2zM103.8 789.4h2v2h-2zM111.6 805.1h2v2h-2zM96.4 800.3h2v2h-2zM95.7 809.0h2v2h-2zM113.7 789.7h2v2h-2zM92.5 805.1h2v2h-2zM94.5 803.9h2v2h-2zM97.2 781.2h2v2h-2zM104.3 798.7h2v2h-2zM105.0 773.6h2v2h-2zM125.3 794.6h2v2h-2zM97.9 777.6h2v2h-2zM125.5 803.3h2v2h-2zM92.9 804.3h2v2h-2zM101.5 809.3h2v2h-2zM128.5 805.6h2v2h-2zM94.1 810.4h2v2h-2zM145.7 801.2h2v2h-2zM138.4 786.3h2v2h-2zM118.9 783.3h2v2h-2zM117.9 797.0h2v2h-2zM82.3 811.7h2v2h-2zM115.9 811.9h2v2h-2zM95.6 805.3h2v2h-2zM121.4 796.4h2v2h-2zM114.7 802.1h2v2h-2zM144.4 797.5h2v2h-2zM136.5 801.5h2v2h-2zM92.7 809.3h2v2h-2zM126.0 781.5h2v2h-2zM139.2 786.1h2v2h-2zM112.0 799.8h2v2h-2zM103.3 805.7h2v2h-2zM96.5 787.2h2v2h-2zM104.6 811.6h2v2h-2zM119.8 786.4h2v2h-2zM99.6 808.7h2v2h-2zM100.4 800.2h2v2h-2zM133.5 799.2h2v2h-2zM102.9 777.9h2v2h-2zM96.5 803.8h2v2h-2zM111.5 810.2h2v2h-2zM154.7 809.3h2v2h-2zM85.8 780.7h2v2h-2zM93.3 804.4h2v2h-2zM107.2 811.1h2v2h-2zM82.0 804.1h2v2h-2zM115.6 809.9h2v2h-2zM102.2 811.5h2v2h-2zM117.2 797.7h2v2h-2zM121.0 795.4h2v2h-2zM88.5 815.5h2v2h-2zM122.5 795.1h2v2h-2zM99.2 814.8h2v2h-2zM93.2 810.5h2v2h-2zM115.7 803.9h2v2h-2zM89.2 800.4h2v2h-2zM141.1 807.9h2v2h-2zM121.5 815.0h2v2h-2zM112.9 794.4h2v2h-2zM121.0 814.1h2v2h-2zM138.1 783.4h2v2h-2zM97.7 806.4h2v2h-2zM104.6 795.3h2v2h-2zM95.0 810.0h2v2h-2zM136.0 805.8h2v2h-2zM87.7 793.7h2v2h-2zM97.7 811.8h2v2h-2zM133.7 814.5h2v2h-2zM122.2 801.1h2v2h-2zM125.5 815.4h2v2h-2zM116.1 806.7h2v2h-2zM140.6 805.0h2v2h-2zM116.1 812.1h2v2h-2zM124.0 814.7h2v2h-2zM93.4 807.3h2v2h-2zM98.6 775.6h2v2h-2zM146.1 789.5h2v2h-2zM114.7 793.6h2v2h-2zM128.3 807.1h2v2h-2zM129.3 810.9h2v2h-2zM130.8 794.5h2v2h-2zM83.5 810.2h2v2h-2zM127.1 785.2h2v2h-2zM83.8 807.5h2v2h-2zM85.0 805.6h2v2h-2zM102.3 808.1h2v2h-2zM95.8 811.3h2v2h-2zM85.3 808.4h2v2h-2zM105.5 809.7h2v2h-2zM124.0 788.6h2v2h-2zM151.0 809.5h2v2h-2zM133.1 789.2h2v2h-2zM134.7 809.6h2v2h-2zM154.5 767.2h2v2h-2zM126.1 803.4h2v2h-2zM129.2 812.1h2v2h-2zM98.2 794.3h2v2h-2zM102.2 795.4h2v2h-2zM88.2 798.9h2v2h-2zM87.7 812.5h2v2h-2zM102.9 811.5h2v2h-2zM113.1 811.7h2v2h-2zM94.5 804.8h2v2h-2zM153.3 782.2h2v2h-2zM109.1 789.1h2v2h-2zM135.3 795.4h2v2h-2zM103.4 808.4h2v2h-2zM93.4 770.9h2v2h-2zM101.2 810.2h2v2h-2zM110.1 800.0h2v2h-2zM124.3 808.7h2v2h-2zM122.9 791.9h2v2h-2zM116.4 812.2h2v2h-2zM92.0 813.7h2v2h-2zM107.3 793.3h2v2h-2zM104.9 809.9h2v2h-2zM117.5 796.0h2v2h-2zM83.1 791.1h2v2h-2zM111.5 792.4h2v2h-2zM119.2 800.6h2v2h-2zM121.9 811.4h2v2h-2zM139.6 810.6h2v2h-2zM82.2 787.4h2v2h-2zM90.9 808.4h2v2h-2zM140.2 796.6h2v2h-2zM85.2 804.4h2v2h-2zM115.7 804.4h2v2h-2zM152.2 808.9h2v2h-2zM122.1 809.5h2v2h-2zM129.1 802.5h2v2h-2zM135.4 812.8h2v2h-2zM97.9 803.1h2v2h-2zM104.4 790.0h2v2h-2zM87.4 812.5h2v2h-2zM109.9 793.1h2v2h-2zM89.8 811.4h2v2h-2zM131.1 809.2h2v2h-2zM98.9 803.2h2v2h-2zM116.3 809.7h2v2h-2zM135.7 802.8h2v2h-2zM106.9 789.2h2v2h-2zM99.4 771.7h2v2h-2zM111.5 789.2h2v2h-2zM118.3 802.0h2v2h-2zM143.8 791.2h2v2h-2zM135.9 815.0h2v2h-2zM123.5 791.9h2v2h-2zM136.8 812.5h2v2h-2zM87.8 793.6h2v2h-2zM105.3 790.5h2v2h-2zM102.3 798.4h2v2h-2zM145.0 794.6h2v2h-2zM146.8 812.7h2v2h-2zM86.7 794.7h2v2h-2zM108.7 793.6h2v2h-2zM86.2 785.1h2v2h-2zM130.6 784.7h2v2h-2zM135.8 812.8h2v2h-2zM123.5 800.0h2v2h-2zM118.5 791.0h2v2h-2zM129.4 807.6h2v2h-2zM116.9 792.3h2v2h-2zM123.3 780.5h2v2h-2zM123.1 815.2h2v2h-2zM148.7 807.7h2v2h-2zM139.7 811.3h2v2h-2zM153.5 787.7h2v2h-2zM87.8 808.1h2v2h-2zM82.7 791.5h2v2h-2zM120.1 802.0h2v2h-2zM130.9 794.4h2v2h-2zM145.5 803.1h2v2h-2zM147.6 815.3h2v2h-2zM86.4 813.0h2v2h-2zM94.0 800.8h2v2h-2zM145.8 811.0h2v2h-2zM94.5 807.3h2v2h-2zM84.2 796.2h2v2h-2zM112.6 814.5h2v2h-2zM92.2 801.4h2v2h-2zM83.1 783.4h1.7v1.7h-1.7zM81.7 790.1h1.7v1.7h-1.7zM83.9 755.8h1.7v1.7h-1.7zM83.0 815.6h1.7v1.7h-1.7zM83.3 803.3h1.7v1.7h-1.7zM83.0 754.7h1.7v1.7h-1.7zM84.4 762.3h1.7v1.7h-1.7zM81.6 795.9h1.7v1.7h-1.7zM81.7 797.6h1.7v1.7h-1.7zM84.3 781.6h1.7v1.7h-1.7zM83.8 803.9h1.7v1.7h-1.7zM81.5 763.1h1.7v1.7h-1.7zM82.9 754.6h1.7v1.7h-1.7zM82.5 775.2h1.7v1.7h-1.7zM83.4 791.2h1.7v1.7h-1.7zM84.1 806.4h1.7v1.7h-1.7zM82.9 773.9h1.7v1.7h-1.7zM83.1 807.0h1.7v1.7h-1.7zM83.7 754.7h1.7v1.7h-1.7zM84.0 779.3h1.7v1.7h-1.7zM81.8 743.4h1.7v1.7h-1.7zM83.9 777.8h1.7v1.7h-1.7zM82.6 773.1h1.7v1.7h-1.7zM82.8 806.1h1.7v1.7h-1.7zM82.2 808.5h1.7v1.7h-1.7zM83.0 746.0h1.7v1.7h-1.7zM82.5 758.0h1.7v1.7h-1.7zM83.8 760.4h1.7v1.7h-1.7zM84.2 807.1h1.7v1.7h-1.7zM83.5 786.4h1.7v1.7h-1.7zM84.4 815.4h1.7v1.7h-1.7zM84.1 790.2h1.7v1.7h-1.7zM82.4 757.1h1.7v1.7h-1.7zM82.8 766.1h1.7v1.7h-1.7zM84.5 800.6h1.7v1.7h-1.7zM81.7 795.1h1.7v1.7h-1.7zM82.4 769.0h1.7v1.7h-1.7zM83.6 749.5h1.7v1.7h-1.7zM82.5 789.1h1.7v1.7h-1.7zM81.8 773.5h1.7v1.7h-1.7zM82.2 806.0h1.7v1.7h-1.7zM82.4 811.8h1.7v1.7h-1.7zM83.6 772.3h1.7v1.7h-1.7zM84.1 811.4h1.7v1.7h-1.7zM84.2 815.9h1.7v1.7h-1.7zM84.0 776.6h1.7v1.7h-1.7zM82.3 778.6h1.7v1.7h-1.7zM82.8 761.4h1.7v1.7h-1.7zM83.5 748.5h1.7v1.7h-1.7zM83.8 790.9h1.7v1.7h-1.7zM83.5 806.9h1.7v1.7h-1.7zM84.2 808.7h1.7v1.7h-1.7zM82.5 766.8h1.7v1.7h-1.7zM84.0 757.7h1.7v1.7h-1.7zM82.1 810.2h1.7v1.7h-1.7zM83.2 807.1h1.7v1.7h-1.7zM81.9 741.2h1.7v1.7h-1.7zM82.0 751.6h1.7v1.7h-1.7zM83.1 770.3h1.7v1.7h-1.7zM82.8 766.4h1.7v1.7h-1.7zM83.2 793.1h1.7v1.7h-1.7zM82.2 807.9h1.7v1.7h-1.7zM83.3 805.5h1.7v1.7h-1.7zM84.0 743.5h1.7v1.7h-1.7zM81.5 759.3h1.7v1.7h-1.7zM82.2 748.6h1.7v1.7h-1.7zM83.1 804.4h1.7v1.7h-1.7zM83.4 813.6h1.7v1.7h-1.7zM83.2 751.8h1.7v1.7h-1.7zM82.3 785.2h1.7v1.7h-1.7zM83.5 757.0h1.7v1.7h-1.7zM82.1 802.1h1.7v1.7h-1.7zM84.1 747.6h1.7v1.7h-1.7zM82.9 755.4h1.7v1.7h-1.7zM82.9 746.0h1.7v1.7h-1.7zM83.5 780.7h1.7v1.7h-1.7zM81.6 754.7h1.7v1.7h-1.7zM83.2 785.8h1.7v1.7h-1.7zM82.3 761.3h1.7v1.7h-1.7zM81.9 813.2h1.7v1.7h-1.7zM84.4 760.2h1.7v1.7h-1.7zM83.6 751.7h1.7v1.7h-1.7zM82.7 796.0h1.7v1.7h-1.7zM83.8 769.4h1.7v1.7h-1.7zM83.7 749.4h1.7v1.7h-1.7zM83.6 741.1h1.7v1.7h-1.7zM84.4 782.6h1.7v1.7h-1.7zM82.2 744.5h1.7v1.7h-1.7zM82.4 797.6h1.7v1.7h-1.7zM82.2 743.9h1.7v1.7h-1.7zM82.5 768.4h1.7v1.7h-1.7zM81.5 785.8h1.7v1.7h-1.7zM82.6 745.9h1.7v1.7h-1.7zM83.9 755.7h1.7v1.7h-1.7zM82.5 782.8h1.7v1.7h-1.7zM82.1 764.2h1.7v1.7h-1.7zM83.3 758.0h1.7v1.7h-1.7zM84.2 751.9h1.7v1.7h-1.7zM81.9 773.8h1.7v1.7h-1.7zM83.9 789.9h1.7v1.7h-1.7zM81.7 812.1h1.7v1.7h-1.7zM83.9 763.2h1.7v1.7h-1.7zM82.9 740.2h1.7v1.7h-1.7zM81.8 767.1h1.7v1.7h-1.7zM84.0 803.3h1.7v1.7h-1.7zM83.6 771.9h1.7v1.7h-1.7zM81.7 762.6h1.7v1.7h-1.7zM82.1 772.9h1.7v1.7h-1.7zM84.1 749.0h1.7v1.7h-1.7zM83.1 781.7h1.7v1.7h-1.7zM301.6 813.7h1.9v1.9h-1.9zM298.9 810.3h1.9v1.9h-1.9zM288.0 799.0h1.9v1.9h-1.9zM328.1 813.0h1.9v1.9h-1.9zM304.1 813.3h1.9v1.9h-1.9zM307.5 815.0h1.9v1.9h-1.9zM295.0 806.0h1.9v1.9h-1.9zM314.9 801.9h1.9v1.9h-1.9zM311.2 810.3h1.9v1.9h-1.9zM316.9 789.2h1.9v1.9h-1.9zM326.7 805.2h1.9v1.9h-1.9zM340.9 798.2h1.9v1.9h-1.9zM339.8 802.2h1.9v1.9h-1.9zM294.6 804.5h1.9v1.9h-1.9zM303.4 814.5h1.9v1.9h-1.9zM305.2 814.8h1.9v1.9h-1.9zM325.5 809.3h1.9v1.9h-1.9zM298.4 799.2h1.9v1.9h-1.9zM305.8 802.2h1.9v1.9h-1.9zM288.1 814.0h1.9v1.9h-1.9zM307.3 814.7h1.9v1.9h-1.9zM290.6 805.6h1.9v1.9h-1.9zM302.6 810.5h1.9v1.9h-1.9zM293.0 815.4h1.9v1.9h-1.9zM308.7 803.0h1.9v1.9h-1.9zM297.4 806.3h1.9v1.9h-1.9zM308.0 808.7h1.9v1.9h-1.9zM288.4 811.2h1.9v1.9h-1.9zM304.8 807.9h1.9v1.9h-1.9zM306.3 812.5h1.9v1.9h-1.9zM307.9 813.3h1.9v1.9h-1.9zM314.2 814.3h1.9v1.9h-1.9zM322.2 815.3h1.9v1.9h-1.9zM293.6 810.6h1.9v1.9h-1.9zM302.5 814.1h1.9v1.9h-1.9zM288.5 808.1h1.9v1.9h-1.9zM310.5 813.3h1.9v1.9h-1.9zM309.0 814.7h1.9v1.9h-1.9zM288.3 815.4h1.9v1.9h-1.9zM332.1 790.4h1.9v1.9h-1.9zM317.7 815.3h1.9v1.9h-1.9zM288.7 811.3h1.9v1.9h-1.9zM305.9 797.3h1.9v1.9h-1.9zM301.5 810.4h1.9v1.9h-1.9zM297.2 809.1h1.9v1.9h-1.9zM293.1 807.3h1.9v1.9h-1.9zM310.5 803.2h1.9v1.9h-1.9zM326.9 813.9h1.9v1.9h-1.9zM307.1 805.6h1.9v1.9h-1.9zM301.6 800.7h1.9v1.9h-1.9zM310.8 811.8h1.9v1.9h-1.9zM313.1 807.0h1.9v1.9h-1.9zM333.7 787.3h1.9v1.9h-1.9zM305.5 800.5h1.9v1.9h-1.9zM306.4 799.0h1.9v1.9h-1.9zM294.0 811.9h1.9v1.9h-1.9zM306.1 814.1h1.9v1.9h-1.9zM308.0 809.8h1.9v1.9h-1.9zM317.4 811.5h1.9v1.9h-1.9zM301.8 803.4h1.9v1.9h-1.9zM296.0 800.4h1.9v1.9h-1.9zM294.7 808.9h1.9v1.9h-1.9zM339.0 812.5h1.9v1.9h-1.9zM300.3 814.7h1.9v1.9h-1.9zM292.6 807.7h1.9v1.9h-1.9zM308.2 813.8h1.9v1.9h-1.9zM288.4 813.4h1.9v1.9h-1.9zM313.8 803.5h1.9v1.9h-1.9zM330.9 810.3h1.9v1.9h-1.9zM291.5 813.2h1.9v1.9h-1.9zM296.7 808.7h1.9v1.9h-1.9zM296.9 815.3h1.9v1.9h-1.9zM291.9 806.8h1.9v1.9h-1.9zM292.6 787.7h1.9v1.9h-1.9zM310.3 814.5h1.9v1.9h-1.9zM311.9 795.3h1.9v1.9h-1.9zM308.4 811.1h1.9v1.9h-1.9zM302.2 809.0h1.9v1.9h-1.9zM308.8 787.7h1.9v1.9h-1.9zM303.1 803.5h1.9v1.9h-1.9zM303.9 813.2h1.9v1.9h-1.9zM301.5 813.3h1.9v1.9h-1.9zM292.3 815.1h1.9v1.9h-1.9zM302.7 812.3h1.9v1.9h-1.9zM289.7 813.1h1.9v1.9h-1.9zM305.1 809.4h1.9v1.9h-1.9zM307.8 807.7h1.9v1.9h-1.9zM330.7 806.6h1.9v1.9h-1.9zM304.2 814.2h1.9v1.9h-1.9zM300.7 813.4h1.9v1.9h-1.9zM298.9 814.3h1.9v1.9h-1.9zM344.2 804.9h1.9v1.9h-1.9zM290.9 813.5h1.9v1.9h-1.9zM299.1 798.7h1.9v1.9h-1.9zM297.6 812.0h1.9v1.9h-1.9zM297.9 813.1h1.9v1.9h-1.9zM309.4 810.7h1.9v1.9h-1.9zM301.4 805.6h1.9v1.9h-1.9zM311.7 813.5h1.9v1.9h-1.9zM343.1 800.7h1.9v1.9h-1.9zM317.7 814.0h1.9v1.9h-1.9zM296.6 806.1h1.9v1.9h-1.9zM294.1 811.3h1.9v1.9h-1.9zM310.5 810.1h1.9v1.9h-1.9zM324.1 786.2h1.9v1.9h-1.9zM311.7 814.0h1.9v1.9h-1.9zM333.0 797.1h1.9v1.9h-1.9zM307.9 815.2h1.9v1.9h-1.9zM298.9 814.5h1.9v1.9h-1.9zM302.1 813.0h1.9v1.9h-1.9zM305.2 815.0h1.9v1.9h-1.9zM303.2 804.3h1.9v1.9h-1.9zM332.4 806.8h1.9v1.9h-1.9zM313.7 807.1h1.9v1.9h-1.9zM294.9 805.9h1.9v1.9h-1.9zM337.8 808.8h1.9v1.9h-1.9zM296.4 810.4h1.9v1.9h-1.9zM303.2 814.3h1.9v1.9h-1.9zM291.5 808.2h1.9v1.9h-1.9zM320.6 815.2h1.9v1.9h-1.9zM304.8 803.2h1.9v1.9h-1.9zM289.4 815.2h1.9v1.9h-1.9zM300.9 809.5h1.9v1.9h-1.9zM314.1 814.1h1.9v1.9h-1.9zM316.7 795.6h1.9v1.9h-1.9zM298.5 811.2h1.9v1.9h-1.9zM308.9 809.1h1.9v1.9h-1.9zM342.5 809.5h1.9v1.9h-1.9zM290.6 811.7h1.9v1.9h-1.9zM320.1 815.3h1.9v1.9h-1.9zM300.3 815.0h1.9v1.9h-1.9zM294.7 800.2h1.9v1.9h-1.9zM296.7 810.3h1.9v1.9h-1.9zM299.7 807.9h1.9v1.9h-1.9zM321.4 814.1h1.9v1.9h-1.9zM310.2 809.9h1.9v1.9h-1.9zM291.2 813.7h1.9v1.9h-1.9zM297.0 804.3h1.9v1.9h-1.9zM293.5 810.2h1.9v1.9h-1.9zM288.3 807.0h1.9v1.9h-1.9zM293.2 804.8h1.9v1.9h-1.9zM297.3 810.6h1.9v1.9h-1.9zM330.2 809.7h1.9v1.9h-1.9zM311.6 805.8h1.9v1.9h-1.9zM316.9 808.6h1.9v1.9h-1.9zM309.9 813.8h1.9v1.9h-1.9zM317.4 813.6h1.9v1.9h-1.9zM292.5 810.2h1.9v1.9h-1.9zM307.1 798.5h1.9v1.9h-1.9zM304.2 785.3h1.9v1.9h-1.9zM300.5 812.4h1.9v1.9h-1.9zM289.2 813.4h1.9v1.9h-1.9zM316.5 812.8h1.9v1.9h-1.9zM309.0 812.7h1.9v1.9h-1.9zM291.7 812.4h1.9v1.9h-1.9zM298.8 786.3h1.9v1.9h-1.9zM301.2 795.5h1.9v1.9h-1.9zM334.1 801.0h1.9v1.9h-1.9zM288.6 805.4h1.9v1.9h-1.9zM291.3 809.5h1.9v1.9h-1.9zM309.5 810.9h1.9v1.9h-1.9zM289.5 813.2h1.9v1.9h-1.9zM304.5 788.4h1.9v1.9h-1.9zM311.8 808.9h1.9v1.9h-1.9zM293.8 811.8h1.9v1.9h-1.9zM298.5 809.5h1.9v1.9h-1.9zM302.2 805.7h1.9v1.9h-1.9zM287.6 806.3h1.9v1.9h-1.9zM303.2 812.9h1.9v1.9h-1.9zM333.7 803.6h1.9v1.9h-1.9zM297.3 812.3h1.9v1.9h-1.9zM290.3 815.4h1.9v1.9h-1.9zM299.8 813.7h1.9v1.9h-1.9zM310.8 806.5h1.9v1.9h-1.9zM300.0 812.6h1.9v1.9h-1.9zM305.7 806.8h1.9v1.9h-1.9zM303.0 810.9h1.9v1.9h-1.9zM317.1 804.0h1.9v1.9h-1.9zM293.2 802.7h1.9v1.9h-1.9zM327.0 803.9h1.9v1.9h-1.9zM288.0 811.6h1.9v1.9h-1.9zM320.2 813.9h1.9v1.9h-1.9zM302.3 812.8h1.9v1.9h-1.9zM295.4 811.9h1.9v1.9h-1.9zM305.0 807.3h1.9v1.9h-1.9zM304.7 812.7h1.9v1.9h-1.9zM333.5 799.4h1.9v1.9h-1.9zM313.6 806.7h1.9v1.9h-1.9zM306.4 811.3h1.9v1.9h-1.9zM317.0 810.4h1.9v1.9h-1.9zM326.2 809.9h1.9v1.9h-1.9zM301.2 806.0h1.9v1.9h-1.9zM307.7 797.5h1.9v1.9h-1.9zM331.4 802.2h1.9v1.9h-1.9zM303.6 808.9h1.9v1.9h-1.9zM296.6 810.9h1.9v1.9h-1.9zM303.5 814.1h1.9v1.9h-1.9zM289.2 803.5h1.9v1.9h-1.9zM290.2 810.3h1.9v1.9h-1.9zM299.8 808.5h1.9v1.9h-1.9zM291.3 810.1h1.9v1.9h-1.9zM292.4 795.0h1.9v1.9h-1.9zM304.7 814.5h1.9v1.9h-1.9zM311.8 815.4h1.9v1.9h-1.9zM296.3 808.4h1.9v1.9h-1.9zM316.9 810.1h1.9v1.9h-1.9zM306.3 811.1h1.9v1.9h-1.9zM298.3 806.1h1.9v1.9h-1.9zM306.4 814.1h1.9v1.9h-1.9zM322.4 801.0h1.9v1.9h-1.9zM327.5 802.1h1.9v1.9h-1.9zM341.5 809.3h1.9v1.9h-1.9zM300.1 809.6h1.9v1.9h-1.9zM319.4 807.6h1.9v1.9h-1.9zM290.5 815.3h1.9v1.9h-1.9zM311.8 813.2h1.9v1.9h-1.9zM297.6 815.2h1.9v1.9h-1.9zM315.3 809.8h1.9v1.9h-1.9zM288.1 811.8h1.9v1.9h-1.9zM320.7 812.6h1.9v1.9h-1.9zM300.8 801.6h1.9v1.9h-1.9zM323.8 803.2h1.9v1.9h-1.9zM296.9 815.0h1.9v1.9h-1.9zM304.3 795.3h1.9v1.9h-1.9zM302.7 811.1h1.9v1.9h-1.9zM289.2 808.3h1.9v1.9h-1.9zM305.8 810.0h1.9v1.9h-1.9zM311.0 811.4h1.9v1.9h-1.9zM329.8 808.4h1.9v1.9h-1.9zM295.8 815.3h1.9v1.9h-1.9zM292.7 806.6h1.9v1.9h-1.9zM307.1 803.8h1.9v1.9h-1.9zM303.9 812.1h1.9v1.9h-1.9zM294.1 813.2h1.9v1.9h-1.9zM294.5 815.3h1.9v1.9h-1.9zM287.6 810.6h1.9v1.9h-1.9zM294.0 813.3h1.9v1.9h-1.9zM313.1 810.9h1.9v1.9h-1.9zM312.4 811.8h1.9v1.9h-1.9zM291.0 806.3h1.9v1.9h-1.9zM318.8 810.9h1.9v1.9h-1.9zM322.9 802.9h1.9v1.9h-1.9zM311.5 810.4h1.9v1.9h-1.9zM309.4 807.4h1.9v1.9h-1.9zM304.4 808.5h1.9v1.9h-1.9zM296.0 805.3h1.9v1.9h-1.9zM302.5 807.4h1.9v1.9h-1.9zM291.1 813.7h1.9v1.9h-1.9zM344.4 806.3h1.9v1.9h-1.9zM329.1 811.5h1.9v1.9h-1.9zM302.3 814.5h1.9v1.9h-1.9zM310.5 806.3h1.9v1.9h-1.9zM315.7 810.2h1.9v1.9h-1.9zM294.9 806.4h1.9v1.9h-1.9zM290.9 812.9h1.9v1.9h-1.9zM296.6 807.5h1.9v1.9h-1.9zM289.1 811.6h1.9v1.9h-1.9zM316.9 805.8h1.9v1.9h-1.9zM296.6 814.2h1.9v1.9h-1.9zM309.9 810.4h1.9v1.9h-1.9zM307.7 806.9h1.9v1.9h-1.9zM315.5 814.4h1.9v1.9h-1.9zM305.0 806.8h1.9v1.9h-1.9zM304.6 811.7h1.9v1.9h-1.9zM315.2 806.9h1.9v1.9h-1.9zM323.6 804.7h1.9v1.9h-1.9zM296.4 786.5h1.9v1.9h-1.9zM309.6 813.4h1.9v1.9h-1.9zM311.8 809.6h1.9v1.9h-1.9zM290.5 809.7h1.9v1.9h-1.9zM300.9 805.0h1.9v1.9h-1.9zM304.4 813.6h1.9v1.9h-1.9zM303.0 809.2h1.9v1.9h-1.9zM338.4 809.7h1.9v1.9h-1.9zM304.8 813.5h1.9v1.9h-1.9zM322.3 814.5h1.9v1.9h-1.9zM288.0 808.9h1.9v1.9h-1.9zM317.1 815.2h1.9v1.9h-1.9zM290.9 813.6h1.9v1.9h-1.9zM324.8 793.1h1.9v1.9h-1.9zM297.4 814.7h1.9v1.9h-1.9zM289.6 802.2h1.9v1.9h-1.9zM301.1 814.3h1.9v1.9h-1.9zM306.4 815.4h1.9v1.9h-1.9zM295.5 793.7h1.9v1.9h-1.9zM292.6 811.2h1.9v1.9h-1.9zM313.8 814.4h1.9v1.9h-1.9zM310.8 815.2h1.9v1.9h-1.9zM311.3 811.4h1.9v1.9h-1.9zM306.5 814.1h1.9v1.9h-1.9zM296.9 811.8h1.9v1.9h-1.9zM287.8 802.5h1.9v1.9h-1.9zM290.3 803.8h1.9v1.9h-1.9zM302.5 814.7h1.9v1.9h-1.9zM312.0 809.7h1.9v1.9h-1.9zM289.5 808.0h1.9v1.9h-1.9zM307.3 813.6h1.9v1.9h-1.9zM312.0 804.1h1.9v1.9h-1.9zM292.9 805.3h1.9v1.9h-1.9zM294.1 813.8h1.9v1.9h-1.9zM294.7 808.7h1.9v1.9h-1.9zM304.5 814.9h1.9v1.9h-1.9zM306.2 805.2h1.9v1.9h-1.9zM314.4 814.0h1.9v1.9h-1.9zM295.7 812.8h1.9v1.9h-1.9zM311.8 804.6h1.9v1.9h-1.9zM296.9 806.3h1.9v1.9h-1.9zM296.9 799.3h1.9v1.9h-1.9zM296.3 814.5h1.9v1.9h-1.9zM300.6 808.3h1.9v1.9h-1.9zM305.6 805.4h1.9v1.9h-1.9zM293.8 809.4h1.9v1.9h-1.9zM294.5 813.4h1.9v1.9h-1.9zM287.6 804.5h1.9v1.9h-1.9zM297.8 814.8h1.9v1.9h-1.9zM319.3 811.1h1.9v1.9h-1.9zM296.2 806.4h1.9v1.9h-1.9zM312.2 804.7h1.9v1.9h-1.9zM337.1 791.6h1.9v1.9h-1.9zM301.7 814.0h1.9v1.9h-1.9zM318.2 808.7h1.9v1.9h-1.9zM308.2 804.8h1.9v1.9h-1.9zM288.4 811.8h1.9v1.9h-1.9zM317.7 812.5h1.9v1.9h-1.9zM307.7 802.9h1.9v1.9h-1.9zM321.6 814.9h1.9v1.9h-1.9zM306.2 790.7h1.9v1.9h-1.9zM288.0 811.9h1.9v1.9h-1.9zM306.3 802.8h1.9v1.9h-1.9zM306.6 805.7h1.9v1.9h-1.9zM324.0 812.8h1.9v1.9h-1.9zM310.5 809.7h1.9v1.9h-1.9zM313.6 809.0h1.9v1.9h-1.9zM301.0 814.7h1.9v1.9h-1.9zM316.6 811.8h1.9v1.9h-1.9zM309.9 807.5h1.9v1.9h-1.9zM305.7 790.9h1.9v1.9h-1.9zM296.0 814.3h1.9v1.9h-1.9zM296.0 809.8h1.9v1.9h-1.9zM303.5 813.6h1.9v1.9h-1.9zM297.7 799.2h1.9v1.9h-1.9zM302.3 793.8h1.9v1.9h-1.9zM288.1 802.8h1.9v1.9h-1.9zM293.2 812.8h1.9v1.9h-1.9zM316.0 810.0h1.9v1.9h-1.9zM297.9 815.5h1.9v1.9h-1.9zM304.9 809.1h1.9v1.9h-1.9zM298.3 799.2h1.9v1.9h-1.9zM310.1 813.5h1.9v1.9h-1.9zM310.3 811.6h1.9v1.9h-1.9zM293.4 808.3h1.9v1.9h-1.9zM307.6 813.1h1.9v1.9h-1.9zM325.2 808.5h1.9v1.9h-1.9zM299.2 813.2h1.9v1.9h-1.9zM289.1 792.8h1.9v1.9h-1.9zM306.5 812.1h1.9v1.9h-1.9zM297.8 813.6h1.9v1.9h-1.9zM300.6 806.0h1.9v1.9h-1.9zM324.8 807.8h1.9v1.9h-1.9zM303.9 814.3h1.9v1.9h-1.9zM313.4 812.2h1.9v1.9h-1.9zM308.4 803.3h1.9v1.9h-1.9zM334.7 797.7h1.9v1.9h-1.9zM307.7 813.5h1.9v1.9h-1.9zM302.8 810.3h1.9v1.9h-1.9zM311.1 814.4h1.9v1.9h-1.9zM306.0 814.5h1.9v1.9h-1.9zM308.8 807.0h1.9v1.9h-1.9zM310.3 805.7h1.9v1.9h-1.9zM296.6 814.6h1.9v1.9h-1.9zM320.6 814.0h1.9v1.9h-1.9zM296.2 805.7h1.9v1.9h-1.9zM298.2 814.4h1.9v1.9h-1.9zM308.9 815.0h1.9v1.9h-1.9zM332.5 814.0h1.9v1.9h-1.9zM298.1 806.1h1.9v1.9h-1.9zM303.6 813.2h1.9v1.9h-1.9zM327.5 806.0h1.9v1.9h-1.9zM296.5 814.7h1.9v1.9h-1.9zM314.4 811.3h1.9v1.9h-1.9zM294.8 811.6h1.9v1.9h-1.9zM305.5 813.6h1.9v1.9h-1.9zM321.1 815.2h1.9v1.9h-1.9zM306.9 815.2h1.9v1.9h-1.9zM308.8 805.6h1.9v1.9h-1.9zM295.4 804.8h1.9v1.9h-1.9zM295.3 809.2h1.9v1.9h-1.9zM289.8 813.1h1.9v1.9h-1.9zM312.7 811.2h1.9v1.9h-1.9zM306.7 800.5h1.9v1.9h-1.9zM299.9 807.3h1.9v1.9h-1.9zM335.9 803.4h1.9v1.9h-1.9zM311.9 808.2h1.9v1.9h-1.9zM307.7 810.5h1.9v1.9h-1.9zM292.2 811.9h1.9v1.9h-1.9zM303.0 811.0h1.9v1.9h-1.9zM344.9 812.7h1.9v1.9h-1.9zM300.9 799.9h1.9v1.9h-1.9zM307.2 804.9h1.9v1.9h-1.9zM300.4 815.1h1.9v1.9h-1.9zM313.2 798.2h1.9v1.9h-1.9zM299.5 812.5h1.9v1.9h-1.9zM306.6 813.5h1.9v1.9h-1.9zM303.8 809.9h1.9v1.9h-1.9zM316.3 814.0h1.9v1.9h-1.9zM294.0 809.3h1.9v1.9h-1.9zM311.0 810.0h1.9v1.9h-1.9zM294.3 809.7h1.9v1.9h-1.9zM300.1 805.4h1.9v1.9h-1.9zM299.1 815.2h1.9v1.9h-1.9zM296.6 811.5h1.9v1.9h-1.9zM305.2 810.1h1.9v1.9h-1.9zM294.4 791.9h1.9v1.9h-1.9zM296.2 812.3h1.9v1.9h-1.9zM318.7 811.0h1.9v1.9h-1.9zM304.9 799.5h1.9v1.9h-1.9zM309.5 802.9h1.9v1.9h-1.9zM313.0 814.7h1.9v1.9h-1.9zM309.2 809.2h1.9v1.9h-1.9zM312.9 811.4h1.9v1.9h-1.9zM289.2 801.3h1.7v1.7h-1.7zM289.3 804.5h1.7v1.7h-1.7zM287.9 776.0h1.7v1.7h-1.7zM288.7 808.4h1.7v1.7h-1.7zM288.1 789.8h1.7v1.7h-1.7zM287.0 764.4h1.7v1.7h-1.7zM287.1 770.4h1.7v1.7h-1.7zM290.0 781.2h1.7v1.7h-1.7zM288.0 762.1h1.7v1.7h-1.7zM288.6 767.6h1.7v1.7h-1.7zM289.3 791.3h1.7v1.7h-1.7zM287.8 771.6h1.7v1.7h-1.7zM287.9 811.9h1.7v1.7h-1.7zM288.4 800.9h1.7v1.7h-1.7zM287.3 807.0h1.7v1.7h-1.7zM287.0 762.3h1.7v1.7h-1.7zM289.2 805.2h1.7v1.7h-1.7zM287.0 790.4h1.7v1.7h-1.7zM288.4 787.5h1.7v1.7h-1.7zM287.3 773.8h1.7v1.7h-1.7zM287.8 804.1h1.7v1.7h-1.7zM289.5 799.3h1.7v1.7h-1.7zM289.9 813.6h1.7v1.7h-1.7zM288.4 771.5h1.7v1.7h-1.7zM287.6 766.1h1.7v1.7h-1.7zM287.5 779.6h1.7v1.7h-1.7zM289.4 794.7h1.7v1.7h-1.7zM288.7 763.2h1.7v1.7h-1.7zM288.1 796.3h1.7v1.7h-1.7zM287.7 799.5h1.7v1.7h-1.7zM287.5 810.6h1.7v1.7h-1.7zM288.4 764.3h1.7v1.7h-1.7zM289.2 789.4h1.7v1.7h-1.7zM288.4 793.9h1.7v1.7h-1.7zM288.7 768.1h1.7v1.7h-1.7zM289.9 810.4h1.7v1.7h-1.7zM288.7 783.0h1.7v1.7h-1.7zM287.8 781.1h1.7v1.7h-1.7zM289.6 766.5h1.7v1.7h-1.7zM289.5 804.7h1.7v1.7h-1.7zM289.6 781.9h1.7v1.7h-1.7zM287.3 798.1h1.7v1.7h-1.7zM288.0 782.2h1.7v1.7h-1.7zM288.8 809.0h1.7v1.7h-1.7zM288.9 791.4h1.7v1.7h-1.7zM288.1 788.6h1.7v1.7h-1.7zM287.3 803.0h1.7v1.7h-1.7zM288.5 763.1h1.7v1.7h-1.7zM289.6 777.2h1.7v1.7h-1.7zM288.8 809.4h1.7v1.7h-1.7zM289.4 762.0h1.7v1.7h-1.7zM288.2 790.7h1.7v1.7h-1.7zM288.7 798.8h1.7v1.7h-1.7zM288.7 765.2h1.7v1.7h-1.7zM287.2 797.9h1.7v1.7h-1.7zM289.8 798.5h1.7v1.7h-1.7zM289.6 769.9h1.7v1.7h-1.7zM289.7 802.0h1.7v1.7h-1.7zM288.9 774.5h1.7v1.7h-1.7zM288.3 814.4h1.7v1.7h-1.7zM289.3 781.6h1.7v1.7h-1.7zM287.2 799.5h1.7v1.7h-1.7zM287.1 809.5h1.7v1.7h-1.7zM289.7 774.8h1.7v1.7h-1.7zM287.8 812.4h1.7v1.7h-1.7zM287.1 793.8h1.7v1.7h-1.7zM287.1 771.7h1.7v1.7h-1.7zM288.0 782.9h1.7v1.7h-1.7zM289.9 789.8h1.7v1.7h-1.7zM287.8 793.1h1.7v1.7h-1.7zM289.6 798.5h1.7v1.7h-1.7zM288.7 775.9h1.7v1.7h-1.7zM287.0 809.7h1.7v1.7h-1.7zM287.8 791.9h1.7v1.7h-1.7zM288.2 809.9h1.7v1.7h-1.7zM288.7 792.6h1.7v1.7h-1.7zM288.8 803.7h1.7v1.7h-1.7zM288.5 781.1h1.7v1.7h-1.7zM287.9 783.4h1.7v1.7h-1.7zM288.9 779.2h1.7v1.7h-1.7zM296.0 775.0h1.6v1.6h-1.6zM293.0 781.0h1.6v1.6h-1.6zM300.0 781.0h1.6v1.6h-1.6zM312.0 782.0h1.6v1.6h-1.6zM330.0 781.0h1.6v1.6h-1.6zM327.0 786.0h1.6v1.6h-1.6zM309.0 788.0h1.6v1.6h-1.6zM301.0 790.0h1.6v1.6h-1.6zM292.0 791.0h1.6v1.6h-1.6zM305.0 790.0h1.6v1.6h-1.6zM366.4 814.2h1.5v1.5h-1.5zM377.3 815.3h1.5v1.5h-1.5zM352.6 813.7h1.5v1.5h-1.5zM345.6 815.3h1.5v1.5h-1.5zM335.7 813.6h1.5v1.5h-1.5zM322.0 815.1h1.5v1.5h-1.5zM339.4 814.8h1.5v1.5h-1.5zM362.8 814.1h1.5v1.5h-1.5zM366.7 814.8h1.5v1.5h-1.5zM375.9 814.7h1.5v1.5h-1.5zM349.4 813.7h1.5v1.5h-1.5zM329.9 815.1h1.5v1.5h-1.5zM346.1 814.3h1.5v1.5h-1.5zM333.5 813.6h1.5v1.5h-1.5zM355.1 815.4h1.5v1.5h-1.5zM343.0 814.4h1.5v1.5h-1.5zM336.8 813.7h1.5v1.5h-1.5zM349.6 814.7h1.5v1.5h-1.5zM339.5 814.8h1.5v1.5h-1.5zM348.9 815.3h1.5v1.5h-1.5zM360.5 813.8h1.5v1.5h-1.5zM325.8 814.8h1.5v1.5h-1.5zM362.7 814.8h1.5v1.5h-1.5zM364.0 815.5h1.5v1.5h-1.5zM362.0 813.7h1.5v1.5h-1.5zM321.5 814.7h1.5v1.5h-1.5zM340.8 814.0h1.5v1.5h-1.5zM361.5 814.2h1.5v1.5h-1.5zM373.0 815.2h1.5v1.5h-1.5zM325.0 814.0h1.5v1.5h-1.5zM374.9 814.1h1.5v1.5h-1.5zM343.7 814.8h1.5v1.5h-1.5zM346.3 815.1h1.5v1.5h-1.5zM371.5 814.1h1.5v1.5h-1.5zM347.3 813.7h1.5v1.5h-1.5zM368.7 814.8h1.5v1.5h-1.5zM370.1 814.7h1.5v1.5h-1.5zM332.6 814.1h1.5v1.5h-1.5zM375.1 814.2h1.5v1.5h-1.5zM329.9 813.7h1.5v1.5h-1.5z"/>
<path fill="#e60c36" d="M119.8 622.4h1.8v1.8h-1.8zM104.9 647.7h1.8v1.8h-1.8zM105.1 643.0h1.8v1.8h-1.8zM114.7 637.6h1.8v1.8h-1.8zM116.5 644.3h1.8v1.8h-1.8zM106.6 639.1h1.8v1.8h-1.8zM121.1 617.6h1.8v1.8h-1.8zM115.5 644.9h1.8v1.8h-1.8zM115.6 634.8h1.8v1.8h-1.8zM101.8 650.0h1.8v1.8h-1.8zM111.7 643.3h1.8v1.8h-1.8zM111.2 633.8h1.8v1.8h-1.8zM95.1 659.6h1.8v1.8h-1.8zM122.8 648.5h1.8v1.8h-1.8zM103.9 652.8h1.8v1.8h-1.8zM102.8 644.6h1.8v1.8h-1.8zM93.1 647.2h1.8v1.8h-1.8zM105.3 637.4h1.8v1.8h-1.8zM109.6 649.0h1.8v1.8h-1.8zM88.0 654.7h1.8v1.8h-1.8zM123.7 639.4h1.8v1.8h-1.8zM125.3 641.8h1.8v1.8h-1.8zM105.9 639.9h1.8v1.8h-1.8zM111.7 644.2h1.8v1.8h-1.8zM98.9 654.1h1.8v1.8h-1.8zM95.0 657.1h1.8v1.8h-1.8zM117.1 643.0h1.8v1.8h-1.8zM117.6 645.2h1.8v1.8h-1.8zM124.8 637.8h1.8v1.8h-1.8zM110.9 639.4h1.8v1.8h-1.8zM114.1 644.7h1.8v1.8h-1.8zM115.0 652.2h1.8v1.8h-1.8zM95.0 639.2h1.8v1.8h-1.8zM108.6 647.3h1.8v1.8h-1.8zM91.4 660.9h1.8v1.8h-1.8zM111.4 649.2h1.8v1.8h-1.8zM101.1 653.7h1.8v1.8h-1.8zM100.6 639.3h1.8v1.8h-1.8zM111.3 641.0h1.8v1.8h-1.8zM117.1 645.1h1.8v1.8h-1.8zM123.4 637.5h1.8v1.8h-1.8zM99.8 637.1h1.8v1.8h-1.8zM97.2 654.1h1.8v1.8h-1.8zM99.9 649.1h1.8v1.8h-1.8zM126.7 636.3h1.8v1.8h-1.8zM106.8 648.5h1.8v1.8h-1.8zM82.8 644.6h1.8v1.8h-1.8zM108.7 649.5h1.8v1.8h-1.8zM119.9 642.3h1.8v1.8h-1.8zM111.3 650.4h1.8v1.8h-1.8zM106.3 642.2h1.8v1.8h-1.8zM116.9 640.9h1.8v1.8h-1.8zM111.4 644.8h1.8v1.8h-1.8zM108.9 642.1h1.8v1.8h-1.8zM105.3 640.0h1.8v1.8h-1.8zM118.9 647.0h1.8v1.8h-1.8zM101.8 651.1h1.8v1.8h-1.8zM108.2 646.5h1.8v1.8h-1.8zM114.0 648.8h1.8v1.8h-1.8zM102.1 639.7h1.8v1.8h-1.8zM107.1 649.8h1.8v1.8h-1.8zM100.8 649.7h1.8v1.8h-1.8zM110.5 649.3h1.8v1.8h-1.8zM104.7 645.1h1.8v1.8h-1.8zM107.1 640.3h1.8v1.8h-1.8zM106.4 652.4h1.8v1.8h-1.8zM108.5 639.9h1.8v1.8h-1.8zM101.0 649.4h1.8v1.8h-1.8zM101.2 632.4h1.8v1.8h-1.8zM116.3 648.3h1.8v1.8h-1.8zM109.7 648.1h1.8v1.8h-1.8zM117.3 643.7h1.8v1.8h-1.8zM108.7 655.6h1.8v1.8h-1.8zM108.0 646.0h1.8v1.8h-1.8zM109.3 650.3h1.8v1.8h-1.8zM100.8 658.3h1.8v1.8h-1.8zM117.1 641.3h1.8v1.8h-1.8zM123.5 635.3h1.8v1.8h-1.8zM114.5 642.4h1.8v1.8h-1.8zM111.0 646.8h1.8v1.8h-1.8zM118.8 638.4h1.8v1.8h-1.8zM108.5 651.3h1.8v1.8h-1.8zM108.3 645.2h1.8v1.8h-1.8zM104.1 649.4h1.8v1.8h-1.8zM106.4 649.0h1.8v1.8h-1.8zM109.6 642.9h1.8v1.8h-1.8zM122.2 631.4h1.8v1.8h-1.8zM101.6 648.0h1.8v1.8h-1.8zM106.8 643.3h1.8v1.8h-1.8zM112.2 646.4h1.8v1.8h-1.8zM116.0 641.2h1.8v1.8h-1.8zM117.6 653.3h1.8v1.8h-1.8zM126.0 647.3h1.8v1.8h-1.8zM105.6 643.7h1.8v1.8h-1.8zM112.0 641.0h1.8v1.8h-1.8zM90.2 664.2h1.8v1.8h-1.8zM107.5 644.5h1.8v1.8h-1.8zM127.3 647.9h1.8v1.8h-1.8zM112.1 645.2h1.8v1.8h-1.8zM98.2 657.7h1.8v1.8h-1.8zM103.9 639.2h1.8v1.8h-1.8zM106.5 656.7h1.8v1.8h-1.8zM105.8 653.1h1.8v1.8h-1.8zM114.7 650.6h1.8v1.8h-1.8zM107.1 634.2h1.8v1.8h-1.8zM90.4 668.2h1.8v1.8h-1.8zM97.5 657.4h1.8v1.8h-1.8zM108.8 648.0h1.8v1.8h-1.8zM107.2 646.9h1.8v1.8h-1.8zM120.0 640.6h1.8v1.8h-1.8zM108.2 650.2h1.8v1.8h-1.8zM107.7 642.7h1.8v1.8h-1.8zM92.1 648.4h1.8v1.8h-1.8zM121.4 630.5h1.8v1.8h-1.8zM99.5 647.9h1.8v1.8h-1.8zM107.1 645.0h1.8v1.8h-1.8zM114.7 637.2h1.8v1.8h-1.8zM104.7 640.0h1.8v1.8h-1.8zM109.5 642.8h1.8v1.8h-1.8zM94.8 649.7h1.8v1.8h-1.8zM108.9 637.1h1.8v1.8h-1.8zM101.9 639.8h1.8v1.8h-1.8zM94.1 667.3h1.8v1.8h-1.8zM98.6 638.6h1.8v1.8h-1.8zM100.4 650.9h1.8v1.8h-1.8zM109.8 643.1h1.8v1.8h-1.8zM101.3 666.4h1.8v1.8h-1.8zM114.5 642.3h1.8v1.8h-1.8zM114.5 637.1h1.8v1.8h-1.8zM86.1 657.1h1.8v1.8h-1.8zM109.5 646.8h1.8v1.8h-1.8zM119.7 633.0h1.8v1.8h-1.8zM107.5 643.1h1.8v1.8h-1.8zM95.2 651.7h1.8v1.8h-1.8zM114.6 642.9h1.8v1.8h-1.8zM101.3 662.6h1.8v1.8h-1.8zM104.0 657.3h1.8v1.8h-1.8zM110.9 653.1h1.8v1.8h-1.8zM111.8 649.6h1.8v1.8h-1.8zM104.9 654.5h1.8v1.8h-1.8zM105.3 641.8h1.8v1.8h-1.8zM101.7 654.9h1.8v1.8h-1.8zM107.2 648.5h1.8v1.8h-1.8zM121.3 641.2h1.8v1.8h-1.8zM100.9 657.9h1.8v1.8h-1.8zM122.9 635.4h1.8v1.8h-1.8zM108.1 657.9h1.8v1.8h-1.8zM103.6 649.7h1.8v1.8h-1.8zM115.8 651.0h1.8v1.8h-1.8zM108.7 655.5h1.8v1.8h-1.8zM98.6 651.7h1.8v1.8h-1.8zM106.8 651.3h1.8v1.8h-1.8zM99.7 655.3h1.8v1.8h-1.8zM113.1 641.6h1.8v1.8h-1.8zM107.6 658.4h1.8v1.8h-1.8zM106.8 654.3h1.8v1.8h-1.8zM102.5 653.1h1.8v1.8h-1.8zM99.4 654.0h1.8v1.8h-1.8zM119.2 642.4h1.8v1.8h-1.8zM108.7 641.9h1.8v1.8h-1.8zM93.8 654.2h1.8v1.8h-1.8zM129.3 637.1h1.8v1.8h-1.8zM114.5 653.4h1.8v1.8h-1.8zM95.5 658.8h1.8v1.8h-1.8zM93.1 641.3h1.8v1.8h-1.8zM98.3 651.4h1.8v1.8h-1.8zM107.3 635.1h1.8v1.8h-1.8zM110.4 646.0h1.8v1.8h-1.8zM104.2 645.2h1.8v1.8h-1.8zM100.2 657.6h1.8v1.8h-1.8zM113.8 652.0h1.8v1.8h-1.8zM84.0 645.4h1.8v1.8h-1.8zM100.7 655.7h1.8v1.8h-1.8zM96.8 645.5h1.8v1.8h-1.8zM83.0 655.3h1.8v1.8h-1.8zM104.1 641.0h1.8v1.8h-1.8zM109.2 651.0h1.8v1.8h-1.8zM112.0 654.3h1.8v1.8h-1.8zM97.3 662.6h1.8v1.8h-1.8zM113.0 650.8h1.8v1.8h-1.8zM95.6 655.0h1.8v1.8h-1.8zM95.1 662.9h1.8v1.8h-1.8zM103.3 647.9h1.8v1.8h-1.8zM113.4 657.1h1.8v1.8h-1.8zM104.7 654.8h1.8v1.8h-1.8zM102.8 657.8h1.8v1.8h-1.8zM118.4 646.4h1.8v1.8h-1.8zM93.8 659.7h1.8v1.8h-1.8zM109.7 649.4h1.8v1.8h-1.8zM99.6 653.7h1.8v1.8h-1.8zM93.6 651.4h1.8v1.8h-1.8zM104.5 661.2h1.8v1.8h-1.8zM106.6 662.0h1.8v1.8h-1.8zM117.0 646.1h1.8v1.8h-1.8zM115.4 641.0h1.8v1.8h-1.8zM98.1 659.4h1.8v1.8h-1.8zM117.5 647.1h1.8v1.8h-1.8zM95.0 655.9h1.8v1.8h-1.8zM98.7 652.1h1.8v1.8h-1.8zM106.1 641.8h1.8v1.8h-1.8zM105.6 647.9h1.8v1.8h-1.8zM126.7 642.9h1.8v1.8h-1.8zM116.7 633.5h1.8v1.8h-1.8zM88.4 665.7h1.8v1.8h-1.8zM94.6 652.3h1.8v1.8h-1.8zM103.7 664.3h1.8v1.8h-1.8zM123.1 638.6h1.8v1.8h-1.8zM133.8 627.3h1.8v1.8h-1.8zM114.5 648.1h1.8v1.8h-1.8zM97.1 659.9h1.8v1.8h-1.8zM104.6 637.6h1.8v1.8h-1.8zM100.1 655.7h1.8v1.8h-1.8zM114.5 645.0h1.8v1.8h-1.8zM96.0 665.4h1.8v1.8h-1.8zM126.9 649.0h1.8v1.8h-1.8zM116.2 647.0h1.8v1.8h-1.8zM93.8 651.1h1.8v1.8h-1.8zM104.4 654.8h1.8v1.8h-1.8zM127.3 642.1h1.8v1.8h-1.8zM103.8 648.5h1.8v1.8h-1.8zM105.3 652.9h1.8v1.8h-1.8zM110.7 639.4h1.8v1.8h-1.8zM104.3 639.6h1.8v1.8h-1.8zM109.3 638.6h1.8v1.8h-1.8zM90.3 643.4h1.8v1.8h-1.8zM100.8 648.3h1.8v1.8h-1.8zM102.9 646.9h1.8v1.8h-1.8zM96.2 656.4h1.8v1.8h-1.8zM133.7 632.0h1.8v1.8h-1.8zM118.3 641.0h1.8v1.8h-1.8zM112.9 637.7h1.8v1.8h-1.8zM117.0 639.1h1.8v1.8h-1.8zM100.0 663.8h1.8v1.8h-1.8zM98.2 654.8h1.8v1.8h-1.8zM104.4 649.4h1.8v1.8h-1.8zM106.5 648.1h1.8v1.8h-1.8zM115.2 644.8h1.8v1.8h-1.8zM115.5 656.4h1.8v1.8h-1.8zM100.7 658.0h1.8v1.8h-1.8zM97.7 666.7h1.8v1.8h-1.8zM114.2 648.4h1.8v1.8h-1.8zM104.3 650.3h1.8v1.8h-1.8zM110.4 645.4h1.8v1.8h-1.8zM104.4 645.7h1.8v1.8h-1.8zM89.8 669.4h1.8v1.8h-1.8zM104.2 643.6h1.8v1.8h-1.8zM114.5 654.0h1.8v1.8h-1.8zM106.6 654.2h1.8v1.8h-1.8zM101.4 668.2h1.8v1.8h-1.8zM119.6 643.2h1.8v1.8h-1.8zM103.7 646.4h1.8v1.8h-1.8zM116.5 634.7h1.8v1.8h-1.8zM87.1 658.4h1.8v1.8h-1.8zM92.8 655.7h1.8v1.8h-1.8zM108.0 645.2h1.8v1.8h-1.8zM101.9 648.2h1.8v1.8h-1.8zM99.7 651.6h1.8v1.8h-1.8zM96.8 655.8h1.8v1.8h-1.8zM116.6 648.8h1.8v1.8h-1.8zM111.9 640.6h1.8v1.8h-1.8zM101.2 660.0h1.8v1.8h-1.8zM101.7 646.1h1.8v1.8h-1.8zM100.1 653.1h1.8v1.8h-1.8zM105.6 656.8h1.8v1.8h-1.8zM98.0 657.1h1.8v1.8h-1.8zM119.2 653.2h1.8v1.8h-1.8zM106.9 647.8h1.8v1.8h-1.8zM104.8 645.8h1.8v1.8h-1.8zM90.2 661.3h1.8v1.8h-1.8zM83.6 662.6h1.8v1.8h-1.8zM114.5 661.8h1.8v1.8h-1.8zM117.8 639.9h1.8v1.8h-1.8zM93.0 654.3h1.8v1.8h-1.8zM112.9 657.9h1.8v1.8h-1.8zM100.2 649.3h1.8v1.8h-1.8zM117.1 648.5h1.8v1.8h-1.8zM112.2 659.0h1.8v1.8h-1.8zM118.3 652.2h1.8v1.8h-1.8zM103.6 658.9h1.8v1.8h-1.8zM120.1 643.5h1.8v1.8h-1.8zM96.3 649.6h1.8v1.8h-1.8zM90.8 653.1h1.8v1.8h-1.8zM89.1 649.7h1.8v1.8h-1.8zM88.5 660.5h1.8v1.8h-1.8zM105.9 654.1h1.8v1.8h-1.8zM105.6 646.5h1.8v1.8h-1.8zM95.6 648.4h1.8v1.8h-1.8zM106.3 635.4h1.8v1.8h-1.8zM109.6 643.2h1.8v1.8h-1.8zM115.8 638.0h1.8v1.8h-1.8zM114.4 637.4h1.8v1.8h-1.8zM93.7 672.9h1.8v1.8h-1.8zM98.1 654.6h1.8v1.8h-1.8zM98.7 651.2h1.8v1.8h-1.8zM107.4 639.4h1.8v1.8h-1.8zM95.5 655.6h1.8v1.8h-1.8zM129.0 632.9h1.8v1.8h-1.8zM109.8 651.2h1.8v1.8h-1.8zM111.4 643.1h1.8v1.8h-1.8zM108.1 649.0h1.8v1.8h-1.8zM102.0 647.7h1.8v1.8h-1.8zM109.5 633.5h1.8v1.8h-1.8zM95.9 656.8h1.8v1.8h-1.8zM98.0 651.5h1.8v1.8h-1.8zM97.3 646.6h1.8v1.8h-1.8zM112.8 647.2h1.8v1.8h-1.8zM114.8 642.8h1.8v1.8h-1.8zM129.4 638.0h1.8v1.8h-1.8zM102.8 652.1h1.8v1.8h-1.8zM101.3 667.7h1.8v1.8h-1.8zM104.2 650.9h1.8v1.8h-1.8zM106.5 646.3h1.8v1.8h-1.8zM129.8 641.8h1.8v1.8h-1.8zM117.7 637.8h1.8v1.8h-1.8zM92.7 661.0h1.8v1.8h-1.8zM115.8 653.5h1.8v1.8h-1.8zM84.7 658.3h1.8v1.8h-1.8zM101.5 657.9h1.8v1.8h-1.8zM108.3 649.7h1.8v1.8h-1.8zM102.0 658.0h1.8v1.8h-1.8zM102.6 641.8h1.8v1.8h-1.8zM100.9 650.0h1.8v1.8h-1.8zM96.4 647.3h1.8v1.8h-1.8zM125.5 635.3h1.8v1.8h-1.8zM132.5 643.0h1.8v1.8h-1.8zM99.5 658.2h1.8v1.8h-1.8zM103.9 656.7h1.8v1.8h-1.8zM108.7 643.1h1.8v1.8h-1.8zM113.2 641.0h1.8v1.8h-1.8zM94.2 653.0h1.8v1.8h-1.8zM114.3 637.4h1.8v1.8h-1.8zM110.6 652.3h1.8v1.8h-1.8zM109.8 633.2h1.8v1.8h-1.8zM119.2 634.3h1.8v1.8h-1.8zM122.6 646.0h1.8v1.8h-1.8zM106.7 649.3h1.8v1.8h-1.8zM110.1 653.0h1.8v1.8h-1.8zM114.6 649.8h1.8v1.8h-1.8zM116.4 643.1h1.8v1.8h-1.8zM110.9 639.4h1.8v1.8h-1.8zM100.6 648.7h1.8v1.8h-1.8zM103.0 651.7h1.8v1.8h-1.8zM110.7 645.4h1.8v1.8h-1.8zM110.8 642.7h1.8v1.8h-1.8zM113.8 660.6h1.8v1.8h-1.8zM107.5 652.9h1.8v1.8h-1.8zM121.0 638.3h1.8v1.8h-1.8zM93.0 656.1h1.8v1.8h-1.8zM106.4 643.6h1.8v1.8h-1.8zM131.1 637.5h1.8v1.8h-1.8zM114.2 645.5h1.8v1.8h-1.8zM102.8 650.9h1.8v1.8h-1.8zM101.8 638.9h1.8v1.8h-1.8zM106.8 649.9h1.8v1.8h-1.8zM104.1 650.7h1.8v1.8h-1.8zM95.1 649.3h1.8v1.8h-1.8zM103.0 655.7h1.8v1.8h-1.8zM116.3 648.1h1.8v1.8h-1.8zM102.9 656.3h1.8v1.8h-1.8zM102.6 646.7h1.8v1.8h-1.8zM95.4 665.4h1.8v1.8h-1.8zM101.7 661.7h1.8v1.8h-1.8zM110.9 640.4h1.8v1.8h-1.8zM107.3 650.5h1.8v1.8h-1.8zM89.4 665.1h1.8v1.8h-1.8zM97.4 657.9h1.8v1.8h-1.8zM115.5 644.8h1.8v1.8h-1.8zM111.7 658.0h1.8v1.8h-1.8zM105.2 653.6h1.8v1.8h-1.8zM92.1 659.7h1.8v1.8h-1.8zM118.2 657.0h1.8v1.8h-1.8zM99.6 645.5h1.8v1.8h-1.8zM108.2 656.5h1.8v1.8h-1.8zM94.8 662.3h1.8v1.8h-1.8zM108.4 654.4h1.8v1.8h-1.8zM94.3 655.1h1.8v1.8h-1.8zM121.2 638.0h1.8v1.8h-1.8zM89.2 658.1h1.8v1.8h-1.8zM127.5 638.1h1.8v1.8h-1.8zM113.1 649.1h1.8v1.8h-1.8zM120.6 635.3h1.8v1.8h-1.8zM112.2 638.7h1.8v1.8h-1.8zM103.0 649.8h1.8v1.8h-1.8zM109.7 648.8h1.8v1.8h-1.8zM96.3 647.0h1.8v1.8h-1.8zM103.0 650.1h1.8v1.8h-1.8zM116.3 644.9h1.8v1.8h-1.8zM110.6 646.8h1.8v1.8h-1.8zM103.2 643.9h1.8v1.8h-1.8zM102.5 647.5h1.8v1.8h-1.8zM101.9 647.5h1.8v1.8h-1.8zM119.0 637.5h1.8v1.8h-1.8zM115.8 640.2h1.8v1.8h-1.8zM89.9 662.9h1.8v1.8h-1.8zM102.1 652.6h1.8v1.8h-1.8zM99.8 644.9h1.8v1.8h-1.8zM119.0 630.5h1.8v1.8h-1.8zM115.6 647.2h1.8v1.8h-1.8zM95.7 641.3h1.8v1.8h-1.8zM103.4 655.2h1.8v1.8h-1.8zM119.0 639.7h1.8v1.8h-1.8zM114.8 648.4h1.8v1.8h-1.8zM114.6 654.1h1.8v1.8h-1.8zM123.3 633.5h1.8v1.8h-1.8zM101.6 662.6h1.8v1.8h-1.8zM117.7 649.3h1.8v1.8h-1.8zM99.9 641.8h1.8v1.8h-1.8zM92.7 662.7h1.8v1.8h-1.8zM101.6 645.7h1.8v1.8h-1.8zM121.1 638.9h1.8v1.8h-1.8zM108.5 647.1h1.8v1.8h-1.8zM92.8 658.4h1.8v1.8h-1.8zM98.8 658.7h1.8v1.8h-1.8zM103.2 659.1h1.8v1.8h-1.8zM112.7 646.5h1.8v1.8h-1.8zM114.8 639.8h1.8v1.8h-1.8zM114.9 654.6h1.8v1.8h-1.8zM102.2 650.2h1.8v1.8h-1.8zM109.8 646.7h1.8v1.8h-1.8zM104.4 660.9h1.8v1.8h-1.8zM105.9 651.5h1.8v1.8h-1.8zM115.3 647.2h1.8v1.8h-1.8zM104.7 656.6h1.8v1.8h-1.8zM106.8 634.4h1.8v1.8h-1.8zM103.5 643.6h1.8v1.8h-1.8zM96.9 654.2h1.8v1.8h-1.8zM104.1 651.0h1.8v1.8h-1.8zM127.2 644.8h1.8v1.8h-1.8zM103.7 642.0h1.8v1.8h-1.8zM110.7 658.7h1.8v1.8h-1.8zM95.9 664.6h1.8v1.8h-1.8zM114.4 639.1h1.8v1.8h-1.8zM111.5 649.4h1.8v1.8h-1.8zM122.1 631.0h1.8v1.8h-1.8zM110.6 649.0h1.8v1.8h-1.8zM115.8 650.9h1.8v1.8h-1.8zM117.8 645.9h1.8v1.8h-1.8zM102.8 635.5h1.8v1.8h-1.8zM125.1 638.2h1.8v1.8h-1.8zM124.2 644.5h1.8v1.8h-1.8zM103.4 647.5h1.8v1.8h-1.8zM110.5 648.7h1.8v1.8h-1.8zM105.7 645.4h1.8v1.8h-1.8zM112.7 643.0h1.8v1.8h-1.8zM104.4 647.9h1.8v1.8h-1.8zM115.6 639.6h1.8v1.8h-1.8zM101.1 660.1h1.8v1.8h-1.8zM121.6 638.9h1.8v1.8h-1.8zM122.4 644.6h1.8v1.8h-1.8zM116.5 640.5h1.8v1.8h-1.8zM131.5 625.6h1.8v1.8h-1.8zM94.4 645.9h1.8v1.8h-1.8zM116.4 646.2h1.8v1.8h-1.8zM114.4 639.6h1.8v1.8h-1.8zM88.0 662.7h1.8v1.8h-1.8zM111.5 632.0h1.8v1.8h-1.8zM107.2 648.9h1.8v1.8h-1.8zM109.0 650.5h1.8v1.8h-1.8zM96.5 661.1h1.8v1.8h-1.8zM101.8 653.5h1.8v1.8h-1.8zM109.7 647.3h1.8v1.8h-1.8zM113.1 654.9h1.8v1.8h-1.8zM112.8 649.1h1.8v1.8h-1.8zM114.5 637.7h1.8v1.8h-1.8zM101.3 650.7h1.8v1.8h-1.8zM105.4 647.1h1.8v1.8h-1.8zM120.6 646.6h1.8v1.8h-1.8zM123.7 640.1h1.8v1.8h-1.8zM125.4 631.9h1.8v1.8h-1.8zM83.0 652.3h1.8v1.8h-1.8zM117.7 634.4h1.8v1.8h-1.8zM99.3 643.2h1.8v1.8h-1.8zM106.6 657.6h1.8v1.8h-1.8zM117.3 625.6h1.8v1.8h-1.8zM115.4 635.4h1.8v1.8h-1.8zM107.4 649.2h1.8v1.8h-1.8zM90.8 660.6h1.8v1.8h-1.8zM112.0 640.6h1.8v1.8h-1.8zM116.6 631.6h1.8v1.8h-1.8zM95.2 663.8h1.8v1.8h-1.8zM107.6 649.1h1.8v1.8h-1.8zM114.7 651.1h1.8v1.8h-1.8zM104.4 643.4h1.8v1.8h-1.8zM114.7 636.5h1.8v1.8h-1.8zM120.4 640.7h1.8v1.8h-1.8zM103.8 661.6h1.8v1.8h-1.8zM127.0 650.7h1.8v1.8h-1.8zM106.8 642.7h1.8v1.8h-1.8zM113.5 643.0h1.8v1.8h-1.8zM111.9 647.3h1.8v1.8h-1.8zM103.5 652.4h1.8v1.8h-1.8zM103.4 643.1h1.8v1.8h-1.8zM88.2 660.4h1.8v1.8h-1.8zM107.2 644.4h1.8v1.8h-1.8zM106.8 640.6h1.8v1.8h-1.8zM117.6 629.9h1.8v1.8h-1.8zM114.5 645.7h1.8v1.8h-1.8zM85.7 662.0h1.8v1.8h-1.8zM117.9 636.8h1.8v1.8h-1.8zM102.6 632.3h1.8v1.8h-1.8zM95.2 668.6h1.8v1.8h-1.8zM102.2 655.3h1.8v1.8h-1.8zM104.1 649.7h1.8v1.8h-1.8zM96.6 657.3h1.8v1.8h-1.8zM107.1 660.7h1.8v1.8h-1.8zM87.7 665.4h1.8v1.8h-1.8zM113.2 643.7h1.8v1.8h-1.8zM101.5 652.4h1.8v1.8h-1.8zM95.0 648.3h1.8v1.8h-1.8zM104.0 644.4h1.8v1.8h-1.8zM117.6 636.9h1.8v1.8h-1.8zM97.3 661.3h1.8v1.8h-1.8zM123.2 636.2h1.8v1.8h-1.8zM111.0 648.8h1.8v1.8h-1.8zM128.0 631.2h1.8v1.8h-1.8zM95.1 660.3h1.8v1.8h-1.8zM103.0 650.9h1.8v1.8h-1.8zM117.7 649.3h1.8v1.8h-1.8zM112.6 646.6h1.8v1.8h-1.8zM123.6 647.1h1.8v1.8h-1.8zM105.8 643.5h1.8v1.8h-1.8zM106.5 657.5h1.8v1.8h-1.8zM101.5 657.2h1.8v1.8h-1.8zM102.7 651.2h1.8v1.8h-1.8zM107.9 645.5h1.8v1.8h-1.8zM92.2 655.0h1.8v1.8h-1.8zM95.4 650.8h1.8v1.8h-1.8zM120.9 638.5h1.8v1.8h-1.8zM122.6 643.1h1.8v1.8h-1.8zM99.1 664.1h1.8v1.8h-1.8zM137.3 632.8h1.8v1.8h-1.8zM103.6 649.9h1.8v1.8h-1.8zM98.6 657.4h1.8v1.8h-1.8zM97.5 650.6h1.8v1.8h-1.8zM114.8 648.6h1.8v1.8h-1.8zM91.7 664.7h1.8v1.8h-1.8zM112.4 633.3h1.8v1.8h-1.8zM107.3 642.7h1.8v1.8h-1.8zM125.1 648.7h1.8v1.8h-1.8zM114.7 647.1h1.8v1.8h-1.8zM102.7 650.8h1.8v1.8h-1.8zM98.0 654.3h1.8v1.8h-1.8zM106.6 645.3h1.8v1.8h-1.8zM126.3 632.7h1.8v1.8h-1.8zM83.4 663.6h1.8v1.8h-1.8zM98.2 655.5h1.8v1.8h-1.8zM104.6 654.4h1.8v1.8h-1.8zM116.0 642.9h1.8v1.8h-1.8zM104.9 649.1h1.8v1.8h-1.8zM115.5 641.2h1.8v1.8h-1.8zM104.7 636.6h1.8v1.8h-1.8zM115.2 648.4h1.8v1.8h-1.8zM96.9 651.4h1.8v1.8h-1.8zM104.8 644.0h1.8v1.8h-1.8zM118.9 650.4h1.8v1.8h-1.8zM87.7 655.1h1.8v1.8h-1.8zM124.3 642.9h1.8v1.8h-1.8zM117.3 653.8h1.8v1.8h-1.8zM121.5 627.2h1.8v1.8h-1.8zM104.7 646.2h1.8v1.8h-1.8zM100.0 665.1h1.8v1.8h-1.8zM111.6 642.6h1.8v1.8h-1.8zM95.0 672.2h1.8v1.8h-1.8zM86.9 657.4h1.8v1.8h-1.8zM88.5 654.7h1.8v1.8h-1.8zM115.4 648.2h1.8v1.8h-1.8zM118.5 635.1h1.8v1.8h-1.8zM96.0 661.1h1.8v1.8h-1.8zM111.4 653.9h1.8v1.8h-1.8zM110.9 652.0h1.8v1.8h-1.8zM116.1 645.9h1.8v1.8h-1.8zM103.5 631.2h1.8v1.8h-1.8zM113.6 645.8h1.8v1.8h-1.8zM106.5 635.2h1.8v1.8h-1.8zM105.5 647.3h1.8v1.8h-1.8zM101.0 648.4h1.8v1.8h-1.8zM118.9 638.0h1.8v1.8h-1.8zM112.0 630.2h1.8v1.8h-1.8zM111.0 637.7h1.8v1.8h-1.8zM88.3 660.7h1.8v1.8h-1.8zM113.9 648.5h1.8v1.8h-1.8zM96.2 664.9h1.8v1.8h-1.8zM117.2 643.6h1.8v1.8h-1.8zM104.7 653.4h1.8v1.8h-1.8zM99.6 654.7h1.8v1.8h-1.8zM90.3 661.6h1.8v1.8h-1.8zM106.0 647.9h1.8v1.8h-1.8zM119.7 646.6h1.8v1.8h-1.8zM128.3 625.7h1.8v1.8h-1.8zM117.8 638.4h1.8v1.8h-1.8zM103.9 653.9h1.8v1.8h-1.8zM125.3 635.6h1.8v1.8h-1.8zM108.9 651.1h1.8v1.8h-1.8zM110.5 657.8h1.8v1.8h-1.8zM100.9 646.2h1.8v1.8h-1.8zM117.3 636.9h1.8v1.8h-1.8zM100.0 645.2h1.8v1.8h-1.8zM112.3 641.9h1.8v1.8h-1.8zM92.5 658.7h1.8v1.8h-1.8zM116.2 636.9h1.8v1.8h-1.8zM95.4 652.9h1.8v1.8h-1.8zM95.4 648.1h1.8v1.8h-1.8zM106.0 650.8h1.8v1.8h-1.8zM98.1 660.4h1.8v1.8h-1.8zM109.2 640.0h1.8v1.8h-1.8zM111.4 648.5h1.8v1.8h-1.8zM96.8 653.9h1.8v1.8h-1.8zM113.5 649.5h1.8v1.8h-1.8zM106.0 645.3h1.8v1.8h-1.8zM98.5 656.2h1.8v1.8h-1.8zM110.7 636.6h1.8v1.8h-1.8zM104.7 654.3h1.8v1.8h-1.8zM89.0 655.4h1.8v1.8h-1.8zM120.4 642.7h1.8v1.8h-1.8zM110.0 644.8h1.8v1.8h-1.8zM90.9 649.2h1.8v1.8h-1.8zM121.1 644.5h1.8v1.8h-1.8zM117.5 636.7h1.8v1.8h-1.8zM100.3 649.6h1.8v1.8h-1.8zM125.4 626.7h1.8v1.8h-1.8zM110.1 646.8h1.8v1.8h-1.8zM112.8 655.6h1.8v1.8h-1.8zM99.2 647.0h1.8v1.8h-1.8zM127.0 638.8h1.8v1.8h-1.8zM111.4 647.3h1.8v1.8h-1.8zM89.1 648.0h1.8v1.8h-1.8zM108.5 642.8h1.8v1.8h-1.8zM107.9 641.2h1.8v1.8h-1.8zM114.6 650.9h1.8v1.8h-1.8zM106.4 646.8h1.8v1.8h-1.8zM108.1 649.6h1.8v1.8h-1.8zM109.5 648.0h1.8v1.8h-1.8zM111.8 651.9h1.8v1.8h-1.8zM116.4 638.9h1.8v1.8h-1.8zM105.7 654.9h1.8v1.8h-1.8zM84.7 658.3h1.8v1.8h-1.8zM110.6 640.6h1.8v1.8h-1.8zM85.5 664.6h1.8v1.8h-1.8zM106.7 639.9h1.8v1.8h-1.8zM105.6 651.5h1.8v1.8h-1.8zM99.6 665.2h1.8v1.8h-1.8zM95.1 651.3h1.8v1.8h-1.8zM107.6 645.9h1.8v1.8h-1.8zM116.6 645.1h1.8v1.8h-1.8zM114.6 633.3h1.8v1.8h-1.8zM121.2 641.0h1.8v1.8h-1.8zM108.4 651.9h1.8v1.8h-1.8zM108.1 642.4h1.8v1.8h-1.8zM118.1 644.3h1.8v1.8h-1.8zM118.0 648.3h1.8v1.8h-1.8zM103.8 653.4h1.8v1.8h-1.8zM116.8 649.0h1.8v1.8h-1.8zM119.6 644.3h1.8v1.8h-1.8zM115.0 638.2h1.8v1.8h-1.8zM114.6 632.9h1.8v1.8h-1.8zM97.4 642.4h1.8v1.8h-1.8zM100.5 657.0h1.8v1.8h-1.8zM108.4 654.9h1.8v1.8h-1.8zM104.9 655.9h1.8v1.8h-1.8zM119.7 648.4h1.8v1.8h-1.8zM105.2 653.1h1.8v1.8h-1.8zM109.6 645.1h1.8v1.8h-1.8zM105.7 644.8h1.8v1.8h-1.8zM98.8 649.9h1.8v1.8h-1.8zM117.5 642.4h1.8v1.8h-1.8zM109.1 642.7h1.8v1.8h-1.8zM108.4 646.1h1.8v1.8h-1.8zM101.2 654.4h1.8v1.8h-1.8zM111.8 640.0h1.8v1.8h-1.8zM110.3 646.5h1.8v1.8h-1.8zM116.5 650.2h1.8v1.8h-1.8zM111.4 640.7h1.8v1.8h-1.8zM105.5 643.1h1.8v1.8h-1.8zM125.9 645.6h1.8v1.8h-1.8zM105.6 634.9h1.8v1.8h-1.8zM112.6 644.3h1.8v1.8h-1.8zM118.0 643.3h1.8v1.8h-1.8zM116.7 650.9h1.8v1.8h-1.8zM96.9 640.6h1.8v1.8h-1.8zM91.2 664.8h1.8v1.8h-1.8zM106.5 649.9h1.8v1.8h-1.8zM97.1 655.8h1.8v1.8h-1.8zM95.3 650.4h1.8v1.8h-1.8zM114.3 641.7h1.8v1.8h-1.8zM106.9 638.0h1.8v1.8h-1.8zM123.6 623.9h1.8v1.8h-1.8zM101.2 654.2h1.8v1.8h-1.8zM108.1 648.6h1.8v1.8h-1.8zM87.1 666.7h1.8v1.8h-1.8zM116.4 640.6h1.8v1.8h-1.8zM119.4 633.6h1.8v1.8h-1.8zM121.2 648.5h1.8v1.8h-1.8zM99.0 644.2h1.8v1.8h-1.8zM107.6 644.8h1.8v1.8h-1.8zM103.5 655.6h1.8v1.8h-1.8zM118.1 650.1h1.8v1.8h-1.8zM91.9 652.9h1.8v1.8h-1.8zM109.8 638.3h1.8v1.8h-1.8zM101.9 654.4h1.8v1.8h-1.8zM92.8 652.5h1.8v1.8h-1.8zM129.6 631.0h1.8v1.8h-1.8zM93.3 661.3h1.8v1.8h-1.8zM101.5 642.2h1.8v1.8h-1.8zM113.6 638.7h1.8v1.8h-1.8zM111.1 642.6h1.8v1.8h-1.8zM116.5 640.2h1.8v1.8h-1.8zM96.4 661.8h1.8v1.8h-1.8zM119.7 625.7h1.8v1.8h-1.8zM96.0 644.8h1.8v1.8h-1.8zM119.3 649.5h1.8v1.8h-1.8zM92.9 653.0h1.8v1.8h-1.8zM115.6 649.8h1.8v1.8h-1.8zM119.7 644.8h1.8v1.8h-1.8zM113.8 646.2h1.8v1.8h-1.8zM111.8 657.2h1.8v1.8h-1.8zM114.7 646.1h1.8v1.8h-1.8zM90.7 654.5h1.8v1.8h-1.8zM109.4 654.0h1.8v1.8h-1.8zM115.5 645.1h1.8v1.8h-1.8zM118.4 637.0h1.8v1.8h-1.8zM110.6 649.7h1.8v1.8h-1.8zM92.5 647.6h1.8v1.8h-1.8zM107.9 648.8h1.8v1.8h-1.8zM108.4 649.1h1.8v1.8h-1.8zM101.6 650.1h1.8v1.8h-1.8zM116.6 640.7h1.8v1.8h-1.8zM113.2 633.3h1.8v1.8h-1.8zM107.1 656.8h1.8v1.8h-1.8zM113.9 634.1h1.8v1.8h-1.8zM109.7 649.0h1.8v1.8h-1.8zM121.9 646.4h1.8v1.8h-1.8zM115.9 621.5h1.8v1.8h-1.8zM113.7 635.6h1.8v1.8h-1.8zM108.3 649.7h1.8v1.8h-1.8zM94.8 652.5h1.8v1.8h-1.8zM101.3 657.6h1.8v1.8h-1.8zM101.1 650.5h1.8v1.8h-1.8zM125.3 651.2h1.8v1.8h-1.8zM113.7 662.1h1.8v1.8h-1.8zM126.4 625.7h1.8v1.8h-1.8zM93.1 655.8h1.8v1.8h-1.8zM107.8 647.6h1.8v1.8h-1.8zM95.5 658.4h1.8v1.8h-1.8zM92.9 641.4h1.8v1.8h-1.8zM110.5 654.0h1.8v1.8h-1.8zM116.3 632.6h1.8v1.8h-1.8zM107.0 652.8h1.8v1.8h-1.8zM107.1 647.1h1.8v1.8h-1.8zM105.2 661.2h1.8v1.8h-1.8zM116.1 637.4h1.8v1.8h-1.8zM106.9 652.4h1.8v1.8h-1.8zM122.6 640.9h1.8v1.8h-1.8zM83.1 664.9h1.8v1.8h-1.8zM128.5 629.5h1.8v1.8h-1.8zM96.6 656.0h1.8v1.8h-1.8zM119.7 656.6h1.8v1.8h-1.8zM99.6 658.0h1.8v1.8h-1.8zM107.2 640.8h1.8v1.8h-1.8zM121.6 650.4h1.8v1.8h-1.8zM104.9 638.7h1.8v1.8h-1.8zM113.4 641.5h1.8v1.8h-1.8zM118.5 641.4h1.8v1.8h-1.8zM107.2 651.9h1.8v1.8h-1.8zM99.5 659.6h1.8v1.8h-1.8zM106.7 645.1h1.8v1.8h-1.8zM106.9 656.0h1.8v1.8h-1.8zM112.4 632.5h1.8v1.8h-1.8zM117.5 647.1h1.8v1.8h-1.8zM104.2 652.8h1.8v1.8h-1.8zM120.3 640.8h1.8v1.8h-1.8zM101.8 645.4h1.8v1.8h-1.8zM104.1 658.5h1.8v1.8h-1.8zM90.8 662.6h1.8v1.8h-1.8zM106.9 647.6h1.8v1.8h-1.8zM101.2 644.8h1.8v1.8h-1.8zM103.1 639.7h1.8v1.8h-1.8zM120.7 643.0h1.8v1.8h-1.8zM129.1 640.3h1.8v1.8h-1.8zM117.2 644.3h1.8v1.8h-1.8zM101.2 644.4h1.8v1.8h-1.8zM116.9 648.5h1.8v1.8h-1.8zM137.0 635.6h1.8v1.8h-1.8zM108.4 644.7h1.8v1.8h-1.8zM108.9 645.0h1.8v1.8h-1.8zM96.3 645.6h1.8v1.8h-1.8zM116.9 634.5h1.8v1.8h-1.8zM94.5 654.4h1.8v1.8h-1.8zM100.6 645.1h1.8v1.8h-1.8zM109.5 644.5h1.8v1.8h-1.8zM126.8 637.3h1.8v1.8h-1.8zM109.9 647.7h1.8v1.8h-1.8zM93.1 651.2h1.8v1.8h-1.8zM114.1 644.4h1.8v1.8h-1.8zM106.4 654.0h1.8v1.8h-1.8zM130.6 629.4h1.8v1.8h-1.8zM114.6 644.2h1.8v1.8h-1.8zM109.8 651.5h1.8v1.8h-1.8zM93.9 664.8h1.8v1.8h-1.8zM108.2 657.2h1.8v1.8h-1.8zM114.4 645.7h1.8v1.8h-1.8zM120.1 648.3h1.8v1.8h-1.8zM116.0 657.4h1.8v1.8h-1.8zM132.5 631.8h1.8v1.8h-1.8zM110.1 638.1h1.8v1.8h-1.8zM118.5 640.1h1.8v1.8h-1.8zM108.7 651.0h1.8v1.8h-1.8zM103.0 655.6h1.8v1.8h-1.8zM99.6 650.2h1.8v1.8h-1.8zM101.0 652.8h1.8v1.8h-1.8zM97.8 652.9h1.8v1.8h-1.8zM102.3 648.6h1.8v1.8h-1.8zM100.1 648.5h1.8v1.8h-1.8zM98.4 647.6h1.8v1.8h-1.8zM106.8 648.6h1.8v1.8h-1.8zM110.9 653.3h1.8v1.8h-1.8zM122.6 639.0h1.8v1.8h-1.8zM96.9 644.8h1.8v1.8h-1.8zM126.4 626.4h1.8v1.8h-1.8zM102.4 657.3h1.8v1.8h-1.8zM127.8 618.4h1.8v1.8h-1.8zM109.3 643.7h1.8v1.8h-1.8zM122.0 643.2h1.8v1.8h-1.8zM100.8 650.0h1.8v1.8h-1.8zM106.5 635.0h1.8v1.8h-1.8zM108.1 654.2h1.8v1.8h-1.8zM112.4 641.4h1.8v1.8h-1.8zM119.6 646.2h1.8v1.8h-1.8zM113.3 641.7h1.8v1.8h-1.8zM105.8 645.8h1.8v1.8h-1.8zM108.3 646.0h1.8v1.8h-1.8zM106.7 644.1h1.8v1.8h-1.8zM107.5 648.0h1.8v1.8h-1.8zM105.8 644.9h1.8v1.8h-1.8zM88.1 657.7h1.8v1.8h-1.8zM110.7 640.7h1.8v1.8h-1.8zM106.7 636.2h1.8v1.8h-1.8zM120.3 648.9h1.8v1.8h-1.8zM101.2 649.8h1.8v1.8h-1.8zM89.3 650.5h1.8v1.8h-1.8zM101.6 645.5h1.8v1.8h-1.8zM85.0 666.6h1.8v1.8h-1.8zM129.3 643.5h1.8v1.8h-1.8zM114.4 637.8h1.8v1.8h-1.8zM102.4 650.1h1.8v1.8h-1.8zM121.1 637.2h1.8v1.8h-1.8zM120.0 651.2h1.8v1.8h-1.8zM108.3 656.6h1.8v1.8h-1.8zM103.3 648.3h1.8v1.8h-1.8zM99.8 650.3h1.8v1.8h-1.8zM110.5 642.0h1.8v1.8h-1.8zM112.6 646.5h1.8v1.8h-1.8zM116.7 645.2h1.8v1.8h-1.8zM98.9 654.4h1.8v1.8h-1.8zM111.6 648.5h1.8v1.8h-1.8zM109.1 644.1h1.8v1.8h-1.8zM111.9 636.8h1.8v1.8h-1.8zM112.6 647.4h1.8v1.8h-1.8zM97.1 655.9h1.8v1.8h-1.8zM117.7 639.3h1.8v1.8h-1.8zM107.5 655.6h1.8v1.8h-1.8zM102.3 654.4h1.8v1.8h-1.8zM111.2 650.8h1.8v1.8h-1.8zM117.9 640.7h1.8v1.8h-1.8zM100.4 646.1h1.8v1.8h-1.8zM103.8 648.5h1.8v1.8h-1.8zM104.4 652.0h1.8v1.8h-1.8zM114.1 656.5h1.8v1.8h-1.8zM111.4 641.7h1.8v1.8h-1.8zM105.1 647.5h1.8v1.8h-1.8zM105.5 649.9h1.8v1.8h-1.8zM99.5 637.4h1.8v1.8h-1.8zM106.2 654.4h1.8v1.8h-1.8zM106.8 648.4h1.8v1.8h-1.8zM110.6 650.5h1.8v1.8h-1.8zM93.9 651.6h1.8v1.8h-1.8zM98.8 651.7h1.8v1.8h-1.8zM126.0 634.8h1.8v1.8h-1.8zM90.1 662.8h1.8v1.8h-1.8zM91.5 654.1h1.8v1.8h-1.8zM111.4 647.4h1.8v1.8h-1.8zM90.7 657.3h1.8v1.8h-1.8zM106.9 653.2h1.8v1.8h-1.8zM108.1 634.7h1.8v1.8h-1.8zM92.5 659.0h1.8v1.8h-1.8zM115.2 654.8h1.8v1.8h-1.8zM106.8 648.6h1.8v1.8h-1.8zM121.9 640.6h1.8v1.8h-1.8zM119.7 633.8h1.8v1.8h-1.8zM118.8 643.2h1.8v1.8h-1.8zM104.7 649.5h1.8v1.8h-1.8zM113.6 637.3h1.8v1.8h-1.8zM96.4 649.1h1.8v1.8h-1.8zM103.7 654.7h1.8v1.8h-1.8zM126.1 637.6h1.8v1.8h-1.8zM99.3 648.5h1.8v1.8h-1.8zM119.5 641.3h1.8v1.8h-1.8zM112.3 643.0h1.8v1.8h-1.8zM99.8 651.0h1.8v1.8h-1.8zM101.6 642.4h1.8v1.8h-1.8zM99.7 656.3h1.8v1.8h-1.8zM104.0 645.8h1.8v1.8h-1.8zM120.9 642.8h1.8v1.8h-1.8zM94.4 658.2h1.8v1.8h-1.8zM113.5 645.7h1.8v1.8h-1.8zM111.8 649.0h1.8v1.8h-1.8zM110.9 646.6h1.8v1.8h-1.8zM106.1 645.8h1.8v1.8h-1.8zM108.5 651.9h1.8v1.8h-1.8zM123.3 645.3h1.8v1.8h-1.8zM110.7 639.1h1.8v1.8h-1.8zM91.1 651.5h1.8v1.8h-1.8zM111.1 644.2h1.8v1.8h-1.8zM97.4 648.0h1.8v1.8h-1.8zM126.7 643.6h1.8v1.8h-1.8zM111.6 641.0h1.8v1.8h-1.8zM110.5 653.8h1.8v1.8h-1.8zM113.5 655.7h1.8v1.8h-1.8zM99.5 650.6h1.8v1.8h-1.8zM110.9 641.4h1.8v1.8h-1.8zM115.3 640.6h1.8v1.8h-1.8zM120.9 638.3h1.8v1.8h-1.8zM91.2 660.8h1.8v1.8h-1.8zM102.0 643.8h1.8v1.8h-1.8zM100.8 644.0h1.8v1.8h-1.8zM96.6 662.1h1.8v1.8h-1.8zM108.8 654.4h1.8v1.8h-1.8zM102.9 659.6h1.8v1.8h-1.8zM115.2 639.5h1.8v1.8h-1.8zM125.4 642.6h1.8v1.8h-1.8zM110.7 641.9h1.8v1.8h-1.8zM97.6 659.8h1.8v1.8h-1.8zM111.5 640.2h1.8v1.8h-1.8zM118.2 648.3h1.8v1.8h-1.8zM99.5 656.9h1.8v1.8h-1.8zM115.5 646.5h1.8v1.8h-1.8zM126.3 634.6h1.8v1.8h-1.8zM121.4 635.9h1.8v1.8h-1.8zM115.3 645.9h1.8v1.8h-1.8zM107.6 638.7h1.8v1.8h-1.8zM118.0 638.0h1.8v1.8h-1.8zM124.0 630.9h1.8v1.8h-1.8zM99.2 662.6h1.8v1.8h-1.8zM103.5 656.9h1.8v1.8h-1.8zM119.6 637.5h1.8v1.8h-1.8zM104.5 647.4h1.8v1.8h-1.8zM93.6 657.5h1.8v1.8h-1.8zM107.2 649.0h1.8v1.8h-1.8zM127.4 645.8h1.8v1.8h-1.8zM108.2 648.4h1.8v1.8h-1.8zM104.4 650.2h1.8v1.8h-1.8zM108.1 649.8h1.8v1.8h-1.8zM110.3 655.5h1.8v1.8h-1.8zM105.8 656.2h1.8v1.8h-1.8zM86.7 655.3h1.8v1.8h-1.8zM102.6 647.2h1.8v1.8h-1.8zM98.5 648.9h1.8v1.8h-1.8zM138.2 618.6h1.8v1.8h-1.8zM112.8 643.3h1.8v1.8h-1.8zM109.2 648.2h1.8v1.8h-1.8zM117.0 638.1h1.8v1.8h-1.8zM115.0 642.8h1.8v1.8h-1.8zM111.6 651.2h1.8v1.8h-1.8zM92.3 656.6h1.8v1.8h-1.8zM127.7 646.0h1.8v1.8h-1.8zM119.2 649.0h1.8v1.8h-1.8zM108.9 636.3h1.8v1.8h-1.8zM129.2 620.7h1.8v1.8h-1.8zM105.8 652.4h1.8v1.8h-1.8zM118.8 646.0h1.8v1.8h-1.8zM118.2 645.9h1.8v1.8h-1.8zM123.8 637.9h1.8v1.8h-1.8zM111.2 653.8h1.8v1.8h-1.8zM109.0 649.4h1.8v1.8h-1.8zM124.2 653.7h1.8v1.8h-1.8zM100.3 654.4h1.8v1.8h-1.8zM93.8 659.1h1.8v1.8h-1.8zM109.9 646.0h1.8v1.8h-1.8zM102.1 655.1h1.8v1.8h-1.8zM111.3 644.3h1.8v1.8h-1.8zM103.1 654.0h1.8v1.8h-1.8zM124.1 640.0h1.8v1.8h-1.8zM112.7 646.0h1.8v1.8h-1.8zM105.7 650.6h1.8v1.8h-1.8zM106.8 650.6h1.8v1.8h-1.8zM116.4 648.6h1.8v1.8h-1.8zM94.2 647.7h1.8v1.8h-1.8zM103.8 644.7h1.8v1.8h-1.8zM110.0 651.4h1.8v1.8h-1.8zM123.8 640.5h1.8v1.8h-1.8zM113.0 643.9h1.8v1.8h-1.8zM108.3 652.5h1.8v1.8h-1.8zM112.7 648.0h1.8v1.8h-1.8zM88.7 660.7h1.8v1.8h-1.8zM102.3 638.6h1.8v1.8h-1.8zM97.2 654.8h1.8v1.8h-1.8zM112.9 637.8h1.8v1.8h-1.8zM122.6 652.0h1.8v1.8h-1.8zM103.0 640.0h1.8v1.8h-1.8zM105.6 652.6h1.8v1.8h-1.8zM107.1 643.4h1.8v1.8h-1.8zM92.2 649.2h1.8v1.8h-1.8zM105.9 653.6h1.8v1.8h-1.8zM114.5 659.1h1.8v1.8h-1.8zM118.4 640.1h1.8v1.8h-1.8zM110.4 644.1h1.8v1.8h-1.8zM121.0 634.1h1.8v1.8h-1.8zM120.5 644.5h1.8v1.8h-1.8zM116.0 641.0h1.8v1.8h-1.8zM114.3 637.6h1.8v1.8h-1.8zM131.0 640.9h1.8v1.8h-1.8zM100.1 657.5h1.8v1.8h-1.8zM109.0 660.2h1.8v1.8h-1.8zM106.8 653.6h1.8v1.8h-1.8zM113.2 637.1h1.8v1.8h-1.8zM98.7 652.8h1.8v1.8h-1.8zM115.8 643.5h1.8v1.8h-1.8zM103.5 646.8h1.8v1.8h-1.8zM100.0 656.5h1.8v1.8h-1.8zM107.0 653.2h1.8v1.8h-1.8zM99.5 651.0h1.8v1.8h-1.8zM91.9 650.1h1.8v1.8h-1.8zM99.5 656.6h1.8v1.8h-1.8zM101.0 651.3h1.8v1.8h-1.8zM112.2 641.0h1.8v1.8h-1.8zM122.1 632.9h1.8v1.8h-1.8zM135.3 626.0h1.8v1.8h-1.8zM111.5 645.1h1.8v1.8h-1.8zM108.2 650.7h1.8v1.8h-1.8zM98.9 655.5h1.8v1.8h-1.8zM101.1 645.1h1.8v1.8h-1.8zM98.0 647.3h1.8v1.8h-1.8zM111.4 646.6h1.8v1.8h-1.8zM113.2 648.5h1.8v1.8h-1.8zM129.2 635.1h1.8v1.8h-1.8zM110.0 646.9h1.8v1.8h-1.8zM129.1 621.4h1.8v1.8h-1.8zM119.8 622.9h1.8v1.8h-1.8zM103.6 648.2h1.8v1.8h-1.8zM130.3 634.9h1.8v1.8h-1.8zM115.9 643.6h1.8v1.8h-1.8zM105.9 641.6h1.8v1.8h-1.8zM104.7 651.3h1.8v1.8h-1.8zM119.2 636.3h1.8v1.8h-1.8zM97.1 654.2h1.8v1.8h-1.8zM103.3 648.7h1.8v1.8h-1.8zM121.4 637.3h1.8v1.8h-1.8zM105.2 654.3h1.8v1.8h-1.8zM124.8 645.4h1.8v1.8h-1.8zM122.8 642.3h1.8v1.8h-1.8zM95.7 656.4h1.8v1.8h-1.8zM93.7 637.2h1.8v1.8h-1.8zM119.0 642.6h1.8v1.8h-1.8zM102.8 654.7h1.8v1.8h-1.8zM107.2 640.6h1.8v1.8h-1.8zM106.9 649.2h1.8v1.8h-1.8zM123.3 636.3h1.8v1.8h-1.8zM115.4 633.2h1.8v1.8h-1.8zM115.4 638.3h1.8v1.8h-1.8zM117.1 645.0h1.8v1.8h-1.8zM102.3 640.4h1.8v1.8h-1.8zM106.6 659.8h1.8v1.8h-1.8zM104.1 655.0h1.8v1.8h-1.8zM124.9 630.3h1.8v1.8h-1.8zM107.8 645.6h1.8v1.8h-1.8zM100.7 652.2h1.8v1.8h-1.8zM102.4 641.2h1.8v1.8h-1.8zM111.5 641.2h1.8v1.8h-1.8zM123.6 634.1h1.8v1.8h-1.8zM110.7 636.8h1.8v1.8h-1.8zM101.3 660.8h1.8v1.8h-1.8zM124.6 647.8h1.8v1.8h-1.8zM99.8 653.8h1.8v1.8h-1.8zM84.6 649.7h1.8v1.8h-1.8zM95.3 656.4h1.8v1.8h-1.8zM120.7 641.5h1.8v1.8h-1.8zM111.7 653.4h1.8v1.8h-1.8zM114.7 649.6h1.8v1.8h-1.8zM107.3 639.8h1.8v1.8h-1.8zM106.3 643.2h1.8v1.8h-1.8zM108.0 645.8h1.8v1.8h-1.8zM102.7 647.4h1.8v1.8h-1.8zM108.2 646.2h1.8v1.8h-1.8zM107.4 660.0h1.8v1.8h-1.8zM105.5 648.4h1.8v1.8h-1.8zM114.4 640.0h1.8v1.8h-1.8zM115.8 641.3h1.8v1.8h-1.8zM108.9 645.2h1.8v1.8h-1.8zM110.6 659.7h1.8v1.8h-1.8zM96.9 651.2h1.8v1.8h-1.8zM105.9 646.4h1.8v1.8h-1.8zM108.8 642.3h1.8v1.8h-1.8zM102.3 648.9h1.8v1.8h-1.8zM114.1 644.8h1.8v1.8h-1.8zM107.7 636.0h1.8v1.8h-1.8zM106.2 641.5h1.8v1.8h-1.8zM112.2 643.8h1.8v1.8h-1.8zM123.5 641.9h1.8v1.8h-1.8zM115.4 642.6h1.8v1.8h-1.8zM99.2 652.2h1.8v1.8h-1.8zM124.0 642.1h1.8v1.8h-1.8zM88.0 656.9h1.8v1.8h-1.8zM103.8 651.5h1.8v1.8h-1.8zM103.9 649.8h1.8v1.8h-1.8zM115.8 637.6h1.8v1.8h-1.8zM94.3 653.4h1.8v1.8h-1.8zM111.1 648.6h1.8v1.8h-1.8zM113.9 641.8h1.8v1.8h-1.8zM108.3 643.3h1.8v1.8h-1.8zM129.2 634.9h1.8v1.8h-1.8zM128.1 630.1h1.8v1.8h-1.8zM110.5 639.8h1.8v1.8h-1.8zM125.8 642.1h1.8v1.8h-1.8zM97.9 657.3h1.8v1.8h-1.8zM100.3 653.5h1.8v1.8h-1.8zM98.5 652.2h1.8v1.8h-1.8zM95.6 649.7h1.8v1.8h-1.8zM114.2 645.2h1.8v1.8h-1.8zM104.5 654.9h1.8v1.8h-1.8zM133.0 638.5h1.8v1.8h-1.8zM106.5 646.6h1.8v1.8h-1.8zM124.2 633.1h1.8v1.8h-1.8zM110.7 650.7h1.8v1.8h-1.8zM118.6 643.5h1.8v1.8h-1.8zM97.1 651.0h1.8v1.8h-1.8zM91.5 654.3h1.8v1.8h-1.8zM123.8 625.8h1.8v1.8h-1.8zM115.7 653.5h1.8v1.8h-1.8zM114.0 636.4h1.8v1.8h-1.8zM99.2 658.8h1.8v1.8h-1.8zM117.3 638.9h1.8v1.8h-1.8zM102.0 647.5h1.8v1.8h-1.8zM122.2 639.5h1.8v1.8h-1.8zM94.7 660.0h1.8v1.8h-1.8zM106.6 645.2h1.8v1.8h-1.8zM123.1 630.4h1.8v1.8h-1.8zM96.2 651.3h1.8v1.8h-1.8zM128.9 639.3h1.8v1.8h-1.8zM111.0 639.7h1.8v1.8h-1.8zM109.8 654.3h1.8v1.8h-1.8zM115.8 655.6h1.8v1.8h-1.8zM108.9 640.8h1.8v1.8h-1.8zM100.0 660.2h1.8v1.8h-1.8zM114.2 649.1h1.8v1.8h-1.8zM109.6 634.0h1.8v1.8h-1.8zM115.1 645.9h1.8v1.8h-1.8zM113.9 650.3h1.8v1.8h-1.8zM113.5 637.5h1.8v1.8h-1.8zM96.1 660.4h1.8v1.8h-1.8zM113.9 645.3h1.8v1.8h-1.8zM98.1 655.5h1.8v1.8h-1.8zM122.6 646.7h1.8v1.8h-1.8zM100.2 643.8h1.8v1.8h-1.8zM110.6 654.3h1.8v1.8h-1.8zM103.4 642.1h1.8v1.8h-1.8zM94.6 660.7h1.8v1.8h-1.8zM112.3 647.4h1.8v1.8h-1.8zM126.8 637.8h1.8v1.8h-1.8zM121.5 633.6h1.8v1.8h-1.8zM100.5 644.7h1.8v1.8h-1.8zM102.3 643.5h1.8v1.8h-1.8zM105.0 643.1h1.8v1.8h-1.8zM83.6 658.5h1.8v1.8h-1.8zM116.1 658.4h1.8v1.8h-1.8zM93.0 665.0h1.8v1.8h-1.8zM116.5 640.6h1.8v1.8h-1.8zM107.6 649.2h1.8v1.8h-1.8zM94.6 657.9h1.8v1.8h-1.8zM109.4 652.8h1.8v1.8h-1.8zM100.0 659.7h1.8v1.8h-1.8zM110.7 657.6h1.8v1.8h-1.8zM110.6 648.6h1.8v1.8h-1.8zM110.1 651.0h1.8v1.8h-1.8zM102.5 653.1h1.8v1.8h-1.8zM88.4 664.7h1.8v1.8h-1.8zM105.6 646.9h1.8v1.8h-1.8zM110.5 639.6h1.8v1.8h-1.8zM112.1 645.9h1.8v1.8h-1.8zM121.9 636.4h1.8v1.8h-1.8zM121.4 646.6h1.8v1.8h-1.8zM127.4 636.8h1.8v1.8h-1.8zM111.9 645.5h1.8v1.8h-1.8zM113.4 641.7h1.8v1.8h-1.8zM116.1 641.4h1.8v1.8h-1.8zM111.8 648.8h1.8v1.8h-1.8zM120.3 638.7h1.8v1.8h-1.8zM134.7 642.1h1.8v1.8h-1.8zM95.5 657.3h1.8v1.8h-1.8zM113.4 641.3h1.8v1.8h-1.8zM98.9 658.7h1.8v1.8h-1.8zM97.8 650.6h1.8v1.8h-1.8zM102.0 652.5h1.8v1.8h-1.8zM115.9 653.5h1.8v1.8h-1.8zM125.8 640.0h1.8v1.8h-1.8zM113.4 646.5h1.8v1.8h-1.8zM107.7 644.6h1.8v1.8h-1.8zM118.4 642.0h1.8v1.8h-1.8zM106.4 647.6h1.8v1.8h-1.8zM112.3 636.9h1.8v1.8h-1.8zM103.5 653.6h1.8v1.8h-1.8zM105.9 650.6h1.8v1.8h-1.8zM97.1 651.0h1.8v1.8h-1.8zM110.3 652.3h1.8v1.8h-1.8zM122.5 643.6h1.8v1.8h-1.8zM105.1 646.4h1.8v1.8h-1.8zM105.6 639.4h1.8v1.8h-1.8zM91.1 659.2h1.8v1.8h-1.8zM125.4 631.6h1.8v1.8h-1.8zM114.1 647.2h1.8v1.8h-1.8zM99.6 655.6h1.8v1.8h-1.8zM105.4 653.7h1.8v1.8h-1.8zM92.5 664.3h1.8v1.8h-1.8zM103.8 666.9h1.8v1.8h-1.8zM123.9 643.1h1.8v1.8h-1.8zM103.4 662.5h1.8v1.8h-1.8zM115.1 649.5h1.8v1.8h-1.8zM136.8 624.6h1.8v1.8h-1.8zM119.8 633.7h1.8v1.8h-1.8zM111.0 643.8h1.8v1.8h-1.8zM99.3 646.4h1.8v1.8h-1.8zM97.1 652.7h1.8v1.8h-1.8zM119.2 631.8h1.8v1.8h-1.8zM116.3 636.3h1.8v1.8h-1.8zM109.4 646.3h1.8v1.8h-1.8zM88.5 671.4h1.8v1.8h-1.8zM108.4 642.2h1.8v1.8h-1.8zM97.8 651.0h1.8v1.8h-1.8zM95.2 655.8h1.8v1.8h-1.8zM105.9 651.0h1.8v1.8h-1.8zM120.1 641.3h1.8v1.8h-1.8zM106.4 640.4h1.8v1.8h-1.8zM101.8 663.1h1.8v1.8h-1.8zM106.5 661.1h1.8v1.8h-1.8zM119.9 633.9h1.8v1.8h-1.8zM97.2 650.2h1.8v1.8h-1.8zM96.5 662.5h1.8v1.8h-1.8zM98.9 666.1h1.8v1.8h-1.8zM112.7 641.7h1.8v1.8h-1.8zM113.3 649.1h1.8v1.8h-1.8zM99.1 661.5h1.8v1.8h-1.8zM97.1 655.2h1.8v1.8h-1.8zM113.8 637.6h1.8v1.8h-1.8zM123.2 626.2h1.8v1.8h-1.8zM110.5 642.0h1.8v1.8h-1.8zM111.0 643.9h1.8v1.8h-1.8zM111.3 651.1h1.8v1.8h-1.8zM89.2 655.3h1.8v1.8h-1.8zM113.0 651.0h1.8v1.8h-1.8zM110.6 643.1h1.8v1.8h-1.8zM95.1 658.3h1.8v1.8h-1.8zM109.5 642.5h1.8v1.8h-1.8zM110.4 661.0h1.8v1.8h-1.8zM118.8 626.4h1.8v1.8h-1.8zM124.9 634.9h1.8v1.8h-1.8zM122.2 641.3h1.8v1.8h-1.8zM122.0 640.7h1.8v1.8h-1.8zM110.7 630.2h1.8v1.8h-1.8zM114.0 639.9h1.8v1.8h-1.8zM112.8 639.2h1.8v1.8h-1.8zM109.6 652.1h1.8v1.8h-1.8zM96.2 646.3h1.8v1.8h-1.8zM118.2 644.0h1.8v1.8h-1.8zM96.7 661.4h1.8v1.8h-1.8zM95.1 670.8h1.8v1.8h-1.8zM105.3 653.2h1.8v1.8h-1.8zM101.2 652.9h1.8v1.8h-1.8zM95.7 647.8h1.8v1.8h-1.8zM126.4 627.5h1.8v1.8h-1.8zM101.4 646.6h1.8v1.8h-1.8zM104.1 646.2h1.8v1.8h-1.8zM110.7 640.7h1.8v1.8h-1.8zM98.2 650.9h1.8v1.8h-1.8zM110.6 642.7h1.8v1.8h-1.8zM112.1 637.1h1.8v1.8h-1.8zM103.5 654.6h1.8v1.8h-1.8zM103.4 643.0h1.8v1.8h-1.8zM110.0 652.4h1.8v1.8h-1.8zM131.2 638.1h1.8v1.8h-1.8zM106.7 649.9h1.8v1.8h-1.8zM110.8 634.8h1.8v1.8h-1.8zM101.2 640.2h1.8v1.8h-1.8zM103.0 658.2h1.8v1.8h-1.8zM104.8 647.9h1.8v1.8h-1.8zM110.5 635.2h1.8v1.8h-1.8zM106.9 659.2h1.8v1.8h-1.8zM95.9 644.8h1.8v1.8h-1.8zM105.6 648.7h1.8v1.8h-1.8zM104.6 659.7h1.8v1.8h-1.8zM122.4 643.7h1.8v1.8h-1.8zM120.0 640.9h1.8v1.8h-1.8zM114.7 636.5h1.8v1.8h-1.8zM119.9 646.1h1.8v1.8h-1.8zM114.7 657.3h1.8v1.8h-1.8zM96.9 660.9h1.8v1.8h-1.8zM109.6 650.9h1.8v1.8h-1.8zM116.4 636.0h1.8v1.8h-1.8zM111.6 636.5h1.8v1.8h-1.8zM107.7 645.9h1.8v1.8h-1.8zM100.3 662.1h1.8v1.8h-1.8zM110.0 638.1h1.8v1.8h-1.8zM108.5 658.5h1.8v1.8h-1.8zM116.1 647.2h1.8v1.8h-1.8zM110.3 651.1h1.8v1.8h-1.8zM100.8 662.0h1.8v1.8h-1.8zM111.7 644.7h1.8v1.8h-1.8zM111.7 637.2h1.8v1.8h-1.8zM96.1 661.5h1.8v1.8h-1.8zM104.2 662.3h1.8v1.8h-1.8zM104.3 646.5h1.8v1.8h-1.8zM112.8 640.8h1.8v1.8h-1.8zM104.5 646.1h1.8v1.8h-1.8zM102.6 652.8h1.8v1.8h-1.8zM107.5 643.7h1.8v1.8h-1.8zM116.6 644.8h1.8v1.8h-1.8zM110.8 647.5h1.8v1.8h-1.8zM121.3 634.1h1.8v1.8h-1.8zM121.4 637.7h1.8v1.8h-1.8zM105.6 642.1h1.8v1.8h-1.8zM113.7 634.1h1.8v1.8h-1.8zM106.6 638.4h1.8v1.8h-1.8zM109.0 643.5h1.8v1.8h-1.8zM109.0 661.5h1.8v1.8h-1.8zM121.2 643.5h1.8v1.8h-1.8zM112.2 640.9h1.8v1.8h-1.8zM125.4 644.4h1.8v1.8h-1.8zM110.5 643.3h1.8v1.8h-1.8zM111.5 647.9h1.8v1.8h-1.8zM104.2 649.6h1.8v1.8h-1.8zM116.4 638.5h1.8v1.8h-1.8zM86.5 659.7h1.8v1.8h-1.8zM102.7 657.7h1.8v1.8h-1.8zM114.4 643.9h1.8v1.8h-1.8zM106.5 644.7h1.8v1.8h-1.8zM115.7 651.1h1.8v1.8h-1.8zM105.9 634.8h1.8v1.8h-1.8zM106.6 642.8h1.8v1.8h-1.8zM94.7 658.2h1.8v1.8h-1.8zM108.2 640.9h1.8v1.8h-1.8zM138.3 627.1h1.8v1.8h-1.8zM96.7 665.4h1.8v1.8h-1.8zM107.3 652.9h1.8v1.8h-1.8zM116.9 637.3h1.8v1.8h-1.8zM106.5 642.5h1.8v1.8h-1.8zM112.1 637.6h1.8v1.8h-1.8zM102.9 648.6h1.8v1.8h-1.8zM92.0 648.8h1.8v1.8h-1.8zM123.9 640.4h1.8v1.8h-1.8zM109.1 645.5h1.8v1.8h-1.8zM114.0 636.8h1.8v1.8h-1.8zM135.8 635.7h1.8v1.8h-1.8zM101.0 653.5h1.8v1.8h-1.8zM113.5 639.2h1.8v1.8h-1.8zM125.8 632.1h1.8v1.8h-1.8zM102.4 648.0h1.8v1.8h-1.8zM107.8 650.6h1.8v1.8h-1.8zM116.7 637.9h1.8v1.8h-1.8zM99.0 656.5h1.8v1.8h-1.8zM100.8 643.2h1.8v1.8h-1.8zM94.7 651.8h1.8v1.8h-1.8zM119.7 636.1h1.8v1.8h-1.8zM117.1 641.0h1.8v1.8h-1.8zM126.5 646.0h1.8v1.8h-1.8zM102.6 639.2h1.8v1.8h-1.8zM104.9 648.3h1.8v1.8h-1.8zM89.8 673.8h1.8v1.8h-1.8zM117.2 647.0h1.8v1.8h-1.8zM106.7 661.3h1.8v1.8h-1.8zM119.6 647.3h1.8v1.8h-1.8zM121.1 632.1h1.8v1.8h-1.8zM118.5 648.2h1.8v1.8h-1.8zM122.2 658.3h1.8v1.8h-1.8zM105.0 649.7h1.8v1.8h-1.8zM109.4 646.6h1.8v1.8h-1.8zM106.4 646.3h1.8v1.8h-1.8zM104.0 651.9h1.8v1.8h-1.8zM114.1 646.6h1.8v1.8h-1.8zM113.8 636.7h1.8v1.8h-1.8zM106.7 643.3h1.8v1.8h-1.8zM100.1 649.0h1.8v1.8h-1.8zM111.2 645.9h1.8v1.8h-1.8zM114.2 649.8h1.8v1.8h-1.8zM105.1 646.3h1.8v1.8h-1.8zM105.4 630.9h1.8v1.8h-1.8zM97.0 656.7h1.8v1.8h-1.8zM113.9 638.6h1.8v1.8h-1.8zM97.1 644.7h1.8v1.8h-1.8zM126.2 639.6h1.8v1.8h-1.8zM125.5 627.7h1.8v1.8h-1.8zM94.3 666.6h1.8v1.8h-1.8zM113.9 634.4h1.8v1.8h-1.8zM119.9 646.1h1.8v1.8h-1.8zM101.2 653.8h1.8v1.8h-1.8zM117.5 643.5h1.8v1.8h-1.8zM95.3 665.0h1.8v1.8h-1.8zM114.2 635.5h1.8v1.8h-1.8zM106.2 652.3h1.8v1.8h-1.8zM107.8 657.1h1.8v1.8h-1.8zM102.0 636.0h1.8v1.8h-1.8zM114.8 655.4h1.8v1.8h-1.8zM124.1 636.7h1.8v1.8h-1.8zM95.0 655.2h1.8v1.8h-1.8zM111.3 656.6h1.8v1.8h-1.8zM89.7 662.0h1.8v1.8h-1.8zM132.1 634.1h1.8v1.8h-1.8zM114.9 645.4h1.8v1.8h-1.8zM115.7 646.7h1.8v1.8h-1.8zM105.9 646.3h1.8v1.8h-1.8zM108.5 639.9h1.8v1.8h-1.8zM98.9 651.7h1.8v1.8h-1.8zM95.4 655.1h1.8v1.8h-1.8zM112.8 635.0h1.8v1.8h-1.8zM92.9 650.3h1.8v1.8h-1.8zM103.8 653.6h1.8v1.8h-1.8zM111.2 639.5h1.8v1.8h-1.8zM109.5 652.2h1.8v1.8h-1.8zM101.0 655.1h1.8v1.8h-1.8zM92.8 646.7h1.8v1.8h-1.8zM115.6 646.8h1.8v1.8h-1.8zM107.2 661.1h1.8v1.8h-1.8zM128.3 618.0h1.8v1.8h-1.8zM105.6 653.5h1.8v1.8h-1.8zM104.4 656.7h1.8v1.8h-1.8zM97.3 657.4h1.8v1.8h-1.8zM104.2 641.5h1.8v1.8h-1.8zM110.0 647.3h1.8v1.8h-1.8zM110.9 643.4h1.8v1.8h-1.8zM102.5 669.9h1.8v1.8h-1.8zM114.4 648.0h1.8v1.8h-1.8zM122.3 626.4h1.8v1.8h-1.8zM97.3 652.7h1.8v1.8h-1.8zM99.9 643.7h1.8v1.8h-1.8zM113.3 655.8h1.8v1.8h-1.8zM121.3 638.0h1.8v1.8h-1.8zM91.1 650.8h1.8v1.8h-1.8zM122.7 634.8h1.8v1.8h-1.8zM124.8 642.8h1.8v1.8h-1.8zM100.1 649.2h1.8v1.8h-1.8zM98.4 656.8h1.8v1.8h-1.8zM126.1 652.9h1.8v1.8h-1.8zM118.9 653.3h1.8v1.8h-1.8zM113.4 643.2h1.8v1.8h-1.8zM102.5 656.7h1.8v1.8h-1.8zM115.9 646.6h1.8v1.8h-1.8zM115.6 645.6h1.8v1.8h-1.8zM111.3 652.0h1.8v1.8h-1.8zM112.9 650.3h1.8v1.8h-1.8zM86.1 671.7h1.8v1.8h-1.8zM115.2 641.7h1.8v1.8h-1.8zM116.0 637.3h1.8v1.8h-1.8zM110.7 643.4h1.8v1.8h-1.8zM106.5 657.7h1.8v1.8h-1.8zM101.9 645.0h1.8v1.8h-1.8zM106.0 650.2h1.8v1.8h-1.8zM103.9 652.7h1.8v1.8h-1.8zM114.5 655.1h1.8v1.8h-1.8zM116.9 638.8h1.8v1.8h-1.8zM98.5 651.7h1.8v1.8h-1.8zM116.9 647.0h1.8v1.8h-1.8zM113.7 637.3h1.8v1.8h-1.8zM97.9 657.2h1.8v1.8h-1.8zM106.2 644.1h1.8v1.8h-1.8zM104.3 640.9h1.8v1.8h-1.8zM101.7 654.9h1.8v1.8h-1.8zM105.4 639.3h1.8v1.8h-1.8zM121.3 640.7h1.8v1.8h-1.8zM129.9 624.3h1.8v1.8h-1.8zM110.2 642.2h1.8v1.8h-1.8zM108.6 641.3h1.8v1.8h-1.8zM112.4 634.6h1.8v1.8h-1.8zM96.1 645.7h1.8v1.8h-1.8zM112.7 641.2h1.8v1.8h-1.8zM120.3 638.0h1.8v1.8h-1.8zM120.7 640.3h1.8v1.8h-1.8zM106.0 655.1h1.8v1.8h-1.8zM96.7 649.2h1.8v1.8h-1.8zM116.9 639.8h1.8v1.8h-1.8zM117.6 642.6h1.8v1.8h-1.8zM95.0 654.8h1.8v1.8h-1.8zM134.7 616.0h1.8v1.8h-1.8zM95.6 658.8h1.8v1.8h-1.8zM113.3 649.1h1.8v1.8h-1.8zM103.1 651.8h1.8v1.8h-1.8zM99.1 648.1h1.8v1.8h-1.8zM105.3 647.8h1.8v1.8h-1.8zM109.9 638.1h1.8v1.8h-1.8zM118.4 636.1h1.8v1.8h-1.8zM122.8 631.0h1.8v1.8h-1.8zM128.8 636.3h1.8v1.8h-1.8zM112.0 649.9h1.8v1.8h-1.8zM102.8 651.2h1.8v1.8h-1.8zM111.0 649.7h1.8v1.8h-1.8zM109.4 655.7h1.8v1.8h-1.8zM99.3 649.9h1.8v1.8h-1.8zM93.9 645.7h1.8v1.8h-1.8zM105.0 646.1h1.8v1.8h-1.8zM118.9 636.8h1.8v1.8h-1.8zM108.3 637.5h1.8v1.8h-1.8zM114.7 633.9h1.8v1.8h-1.8zM98.7 659.0h1.8v1.8h-1.8zM114.1 641.7h1.8v1.8h-1.8zM87.0 650.7h1.8v1.8h-1.8zM100.7 655.6h1.8v1.8h-1.8zM100.8 648.8h1.8v1.8h-1.8zM101.3 639.4h1.8v1.8h-1.8zM123.2 650.1h1.8v1.8h-1.8zM122.0 634.9h1.8v1.8h-1.8zM86.9 651.0h1.8v1.8h-1.8zM105.2 647.8h1.8v1.8h-1.8zM106.0 652.6h1.8v1.8h-1.8zM97.9 656.8h1.8v1.8h-1.8zM103.1 635.9h1.8v1.8h-1.8zM88.6 653.3h1.8v1.8h-1.8zM113.0 636.9h1.8v1.8h-1.8zM105.1 640.6h1.8v1.8h-1.8zM109.3 642.7h1.8v1.8h-1.8zM111.7 639.4h1.8v1.8h-1.8zM103.2 645.3h1.8v1.8h-1.8zM95.7 651.4h1.8v1.8h-1.8zM111.7 645.1h1.8v1.8h-1.8zM108.2 649.6h1.8v1.8h-1.8zM117.3 651.0h1.8v1.8h-1.8zM119.2 637.3h1.8v1.8h-1.8zM100.2 655.0h1.8v1.8h-1.8zM110.1 652.7h1.8v1.8h-1.8zM111.8 646.4h1.8v1.8h-1.8zM99.6 645.1h1.8v1.8h-1.8zM95.4 656.3h1.8v1.8h-1.8zM107.8 634.1h1.8v1.8h-1.8zM119.0 639.8h1.8v1.8h-1.8zM97.2 658.4h1.8v1.8h-1.8zM100.7 645.1h1.8v1.8h-1.8zM112.8 635.8h1.8v1.8h-1.8zM103.2 660.8h1.8v1.8h-1.8zM107.7 652.5h1.8v1.8h-1.8zM122.1 653.3h1.8v1.8h-1.8zM100.0 655.3h1.8v1.8h-1.8zM102.1 652.3h1.8v1.8h-1.8zM117.6 643.7h1.8v1.8h-1.8zM115.4 644.3h1.8v1.8h-1.8zM126.5 627.5h1.8v1.8h-1.8zM94.1 659.3h1.8v1.8h-1.8zM122.7 628.7h1.8v1.8h-1.8zM105.5 659.2h1.8v1.8h-1.8zM109.6 643.4h1.8v1.8h-1.8zM105.5 652.4h1.8v1.8h-1.8zM111.0 651.2h1.8v1.8h-1.8zM122.5 641.7h1.8v1.8h-1.8zM99.1 658.1h1.8v1.8h-1.8zM85.6 663.3h1.8v1.8h-1.8zM102.9 642.0h1.8v1.8h-1.8zM111.5 640.5h1.8v1.8h-1.8zM92.9 653.7h1.8v1.8h-1.8zM118.2 639.6h1.8v1.8h-1.8zM120.2 651.6h1.8v1.8h-1.8zM107.9 641.5h1.8v1.8h-1.8zM122.1 633.2h1.8v1.8h-1.8zM99.0 652.1h1.8v1.8h-1.8zM108.4 645.4h1.8v1.8h-1.8zM115.4 651.9h1.8v1.8h-1.8zM119.5 647.4h1.8v1.8h-1.8zM115.8 639.2h1.8v1.8h-1.8zM109.7 644.2h1.8v1.8h-1.8zM98.8 649.8h1.8v1.8h-1.8zM82.8 657.2h1.8v1.8h-1.8zM112.8 637.0h1.8v1.8h-1.8zM106.1 662.6h1.8v1.8h-1.8zM123.9 638.3h1.8v1.8h-1.8zM103.7 645.3h1.8v1.8h-1.8zM125.3 632.1h1.8v1.8h-1.8zM99.7 652.7h1.8v1.8h-1.8zM94.5 646.1h1.8v1.8h-1.8zM102.4 652.1h1.8v1.8h-1.8zM111.3 641.1h1.8v1.8h-1.8zM85.1 663.4h1.8v1.8h-1.8zM108.9 656.4h1.8v1.8h-1.8zM116.8 649.5h1.8v1.8h-1.8zM108.9 631.9h1.8v1.8h-1.8zM90.8 647.0h1.8v1.8h-1.8zM114.8 640.7h1.8v1.8h-1.8zM121.1 633.0h1.8v1.8h-1.8zM93.1 661.4h1.8v1.8h-1.8zM85.1 658.4h1.8v1.8h-1.8zM104.2 656.5h1.8v1.8h-1.8zM102.2 641.4h1.8v1.8h-1.8zM115.7 657.6h1.8v1.8h-1.8zM115.9 641.2h1.8v1.8h-1.8zM120.0 632.3h1.8v1.8h-1.8zM126.7 630.7h1.8v1.8h-1.8zM97.8 649.7h1.8v1.8h-1.8zM112.3 650.1h1.8v1.8h-1.8zM103.0 647.6h1.8v1.8h-1.8zM117.2 641.1h1.8v1.8h-1.8zM122.5 642.0h1.8v1.8h-1.8zM108.5 642.2h1.8v1.8h-1.8zM115.7 650.8h1.8v1.8h-1.8zM102.4 643.2h1.8v1.8h-1.8zM99.2 639.4h1.8v1.8h-1.8zM106.9 648.0h1.8v1.8h-1.8zM108.4 649.9h1.8v1.8h-1.8zM108.3 661.3h1.8v1.8h-1.8zM111.2 648.6h1.8v1.8h-1.8zM108.4 651.9h1.8v1.8h-1.8zM122.5 648.3h1.8v1.8h-1.8zM100.1 651.0h1.8v1.8h-1.8zM103.8 647.4h1.8v1.8h-1.8zM112.4 651.8h1.8v1.8h-1.8zM107.5 651.9h1.8v1.8h-1.8zM119.9 638.0h1.8v1.8h-1.8zM119.0 647.4h1.8v1.8h-1.8zM120.1 638.6h1.8v1.8h-1.8zM127.7 638.7h1.8v1.8h-1.8zM122.8 643.2h1.8v1.8h-1.8zM111.9 642.7h1.8v1.8h-1.8zM109.3 642.9h1.8v1.8h-1.8zM116.5 637.4h1.8v1.8h-1.8zM104.0 651.5h1.8v1.8h-1.8zM107.5 636.2h1.8v1.8h-1.8zM115.2 641.9h1.8v1.8h-1.8zM120.0 637.7h1.8v1.8h-1.8zM103.3 638.8h1.8v1.8h-1.8zM100.3 653.4h1.8v1.8h-1.8zM88.2 651.8h1.8v1.8h-1.8zM103.1 647.9h1.8v1.8h-1.8zM95.7 647.2h1.8v1.8h-1.8zM92.3 647.5h1.8v1.8h-1.8zM100.3 641.3h1.8v1.8h-1.8zM124.2 637.7h1.8v1.8h-1.8zM92.8 648.3h1.8v1.8h-1.8zM123.8 647.5h1.8v1.8h-1.8zM123.7 639.5h1.8v1.8h-1.8zM116.4 649.9h1.8v1.8h-1.8zM119.1 642.8h1.8v1.8h-1.8zM102.2 659.3h1.8v1.8h-1.8zM107.4 646.9h1.8v1.8h-1.8zM107.8 650.0h1.8v1.8h-1.8zM108.4 651.4h1.8v1.8h-1.8zM111.2 625.9h1.8v1.8h-1.8zM99.2 661.8h1.8v1.8h-1.8zM108.0 639.7h1.8v1.8h-1.8zM105.7 653.8h1.8v1.8h-1.8zM120.2 635.5h1.8v1.8h-1.8zM89.8 653.6h1.8v1.8h-1.8zM108.5 650.1h1.8v1.8h-1.8zM121.0 640.8h1.8v1.8h-1.8zM96.1 651.9h1.8v1.8h-1.8zM123.6 633.1h1.8v1.8h-1.8zM126.8 630.0h1.8v1.8h-1.8zM98.4 659.7h1.8v1.8h-1.8zM94.6 657.7h1.8v1.8h-1.8zM123.0 632.9h1.8v1.8h-1.8zM116.4 650.9h1.8v1.8h-1.8zM119.9 646.1h1.8v1.8h-1.8zM108.6 655.6h1.8v1.8h-1.8zM109.5 653.3h1.8v1.8h-1.8zM119.3 648.7h1.8v1.8h-1.8zM103.3 652.4h1.8v1.8h-1.8zM107.9 651.2h1.8v1.8h-1.8zM109.9 647.4h1.8v1.8h-1.8zM99.2 656.9h1.8v1.8h-1.8zM93.4 656.6h1.8v1.8h-1.8zM100.1 643.3h1.8v1.8h-1.8zM121.6 635.8h1.8v1.8h-1.8zM113.0 645.5h1.8v1.8h-1.8zM111.0 643.6h1.8v1.8h-1.8zM94.4 659.3h1.8v1.8h-1.8zM120.5 643.5h1.8v1.8h-1.8zM103.6 648.5h1.8v1.8h-1.8zM118.5 637.5h1.8v1.8h-1.8zM111.0 641.2h1.8v1.8h-1.8zM98.8 654.3h1.8v1.8h-1.8zM93.2 663.1h1.8v1.8h-1.8zM115.4 635.9h1.8v1.8h-1.8zM105.3 660.7h1.8v1.8h-1.8zM113.3 645.9h1.8v1.8h-1.8zM100.7 642.6h1.8v1.8h-1.8zM122.7 649.5h1.8v1.8h-1.8zM119.0 637.3h1.8v1.8h-1.8zM98.9 667.6h1.8v1.8h-1.8zM116.3 637.1h1.8v1.8h-1.8zM100.3 648.6h1.8v1.8h-1.8zM103.4 642.3h1.8v1.8h-1.8zM106.1 659.5h1.8v1.8h-1.8zM120.3 649.6h1.8v1.8h-1.8zM114.0 651.0h1.8v1.8h-1.8zM123.2 627.2h1.8v1.8h-1.8zM104.1 649.0h1.8v1.8h-1.8zM93.8 662.7h1.8v1.8h-1.8zM93.6 657.4h1.8v1.8h-1.8zM120.0 647.4h1.8v1.8h-1.8zM94.8 656.6h1.8v1.8h-1.8zM104.5 661.7h1.8v1.8h-1.8zM101.3 650.8h1.8v1.8h-1.8zM111.8 665.0h1.8v1.8h-1.8zM99.6 660.1h1.8v1.8h-1.8zM92.7 655.2h1.8v1.8h-1.8zM111.6 647.0h1.8v1.8h-1.8zM105.6 655.4h1.8v1.8h-1.8zM99.9 652.6h1.8v1.8h-1.8zM115.8 641.2h1.8v1.8h-1.8zM111.4 648.8h1.8v1.8h-1.8zM116.7 641.5h1.8v1.8h-1.8zM91.1 663.2h1.8v1.8h-1.8zM106.6 653.8h1.8v1.8h-1.8zM92.9 664.3h1.8v1.8h-1.8zM108.7 641.0h1.8v1.8h-1.8zM99.8 653.9h1.8v1.8h-1.8zM111.5 644.3h1.8v1.8h-1.8zM97.2 654.3h1.8v1.8h-1.8zM117.3 650.8h1.8v1.8h-1.8zM128.7 630.0h1.8v1.8h-1.8zM110.5 643.6h1.8v1.8h-1.8zM101.6 658.6h1.8v1.8h-1.8zM102.5 656.7h1.8v1.8h-1.8zM115.8 647.1h1.8v1.8h-1.8zM94.5 654.8h1.8v1.8h-1.8zM91.9 663.6h1.8v1.8h-1.8zM110.6 652.3h1.8v1.8h-1.8zM132.7 632.6h1.8v1.8h-1.8zM100.6 644.3h1.8v1.8h-1.8zM110.2 640.5h1.8v1.8h-1.8zM96.9 638.5h1.8v1.8h-1.8zM107.7 638.0h1.8v1.8h-1.8zM107.3 652.1h1.8v1.8h-1.8zM99.8 645.3h1.8v1.8h-1.8zM111.4 654.4h1.8v1.8h-1.8zM103.6 651.9h1.8v1.8h-1.8zM107.9 647.4h1.8v1.8h-1.8zM120.0 647.4h1.8v1.8h-1.8zM94.6 656.2h1.8v1.8h-1.8zM100.4 649.6h1.8v1.8h-1.8zM115.9 648.0h1.8v1.8h-1.8zM113.0 650.6h1.8v1.8h-1.8zM106.6 649.3h1.8v1.8h-1.8zM96.5 652.4h1.8v1.8h-1.8zM118.7 641.6h1.8v1.8h-1.8zM112.1 655.3h1.8v1.8h-1.8zM119.4 649.6h1.8v1.8h-1.8zM94.7 657.1h1.8v1.8h-1.8zM96.4 653.7h1.8v1.8h-1.8zM109.1 642.1h1.8v1.8h-1.8zM101.4 650.8h1.8v1.8h-1.8zM108.9 646.5h1.8v1.8h-1.8zM106.1 637.8h1.8v1.8h-1.8zM88.9 667.3h1.8v1.8h-1.8zM104.5 642.6h1.8v1.8h-1.8zM121.3 624.3h1.8v1.8h-1.8zM98.7 650.6h1.8v1.8h-1.8zM88.2 664.2h1.8v1.8h-1.8zM132.6 634.6h1.8v1.8h-1.8zM94.0 665.8h1.8v1.8h-1.8zM95.4 657.1h1.8v1.8h-1.8zM103.1 664.7h1.8v1.8h-1.8zM116.3 639.6h1.8v1.8h-1.8zM113.2 657.2h1.8v1.8h-1.8zM95.8 647.8h1.8v1.8h-1.8zM95.3 643.0h1.8v1.8h-1.8zM89.4 658.4h1.8v1.8h-1.8zM120.3 635.7h1.8v1.8h-1.8zM92.2 665.8h1.8v1.8h-1.8zM111.3 654.1h1.8v1.8h-1.8zM117.9 637.8h1.8v1.8h-1.8zM109.0 652.7h1.8v1.8h-1.8zM111.9 640.5h1.8v1.8h-1.8zM94.8 654.5h1.8v1.8h-1.8zM88.4 651.7h1.8v1.8h-1.8zM111.1 639.9h1.8v1.8h-1.8zM122.2 636.9h1.8v1.8h-1.8zM117.0 653.6h1.8v1.8h-1.8zM121.5 645.0h1.8v1.8h-1.8zM115.9 647.3h1.8v1.8h-1.8zM103.8 654.2h1.8v1.8h-1.8zM114.3 640.0h1.8v1.8h-1.8zM91.1 656.9h1.8v1.8h-1.8zM88.8 651.5h1.8v1.8h-1.8zM108.8 663.8h1.8v1.8h-1.8zM103.3 655.4h1.8v1.8h-1.8zM100.9 642.7h1.8v1.8h-1.8zM104.3 654.8h1.8v1.8h-1.8zM100.1 648.6h1.8v1.8h-1.8zM119.6 653.0h1.8v1.8h-1.8zM94.2 663.7h1.8v1.8h-1.8zM102.9 652.7h1.8v1.8h-1.8zM101.2 651.9h1.8v1.8h-1.8zM108.6 638.8h1.8v1.8h-1.8zM97.4 650.9h1.8v1.8h-1.8zM112.2 641.2h1.8v1.8h-1.8zM110.9 649.8h1.8v1.8h-1.8zM123.5 649.5h1.8v1.8h-1.8zM109.0 656.5h1.8v1.8h-1.8zM124.1 631.4h1.8v1.8h-1.8zM122.9 643.4h1.8v1.8h-1.8zM109.5 648.7h1.8v1.8h-1.8zM101.6 649.5h1.8v1.8h-1.8zM106.6 650.7h1.8v1.8h-1.8zM109.7 634.2h1.8v1.8h-1.8zM111.2 644.5h1.8v1.8h-1.8zM101.1 656.9h1.8v1.8h-1.8zM115.5 629.5h1.8v1.8h-1.8zM101.2 646.0h1.8v1.8h-1.8zM117.3 641.9h1.8v1.8h-1.8zM112.4 647.3h1.8v1.8h-1.8zM112.5 657.0h1.8v1.8h-1.8zM110.6 638.5h1.8v1.8h-1.8zM108.4 647.7h1.8v1.8h-1.8zM95.9 658.1h1.8v1.8h-1.8zM105.3 641.0h1.8v1.8h-1.8zM110.7 657.8h1.8v1.8h-1.8zM117.9 635.5h1.8v1.8h-1.8zM121.9 653.4h1.8v1.8h-1.8zM87.2 662.0h1.8v1.8h-1.8zM116.1 655.7h1.8v1.8h-1.8zM115.1 644.5h1.8v1.8h-1.8zM106.8 646.4h1.8v1.8h-1.8zM107.1 650.9h1.8v1.8h-1.8zM108.2 649.7h1.8v1.8h-1.8zM98.4 658.0h1.8v1.8h-1.8zM108.0 644.6h1.8v1.8h-1.8zM101.3 653.8h1.8v1.8h-1.8zM115.1 629.7h1.8v1.8h-1.8zM108.9 647.1h1.8v1.8h-1.8zM95.3 651.3h1.8v1.8h-1.8zM106.6 648.7h1.8v1.8h-1.8zM105.9 638.3h1.8v1.8h-1.8zM105.3 656.2h1.8v1.8h-1.8zM106.0 649.5h1.8v1.8h-1.8zM123.8 640.4h1.8v1.8h-1.8zM125.5 641.8h1.8v1.8h-1.8zM100.3 653.3h1.8v1.8h-1.8zM102.7 649.3h1.8v1.8h-1.8zM112.2 639.6h1.8v1.8h-1.8zM111.5 642.1h1.8v1.8h-1.8zM118.8 639.3h1.8v1.8h-1.8zM120.1 641.8h1.8v1.8h-1.8zM103.9 641.8h1.8v1.8h-1.8zM103.5 662.6h1.8v1.8h-1.8zM109.8 650.0h1.8v1.8h-1.8zM106.5 651.6h1.8v1.8h-1.8zM113.1 648.8h1.8v1.8h-1.8zM105.3 645.4h1.8v1.8h-1.8zM104.7 655.2h1.8v1.8h-1.8zM126.4 631.5h1.8v1.8h-1.8zM119.5 645.6h1.8v1.8h-1.8zM128.1 629.3h1.8v1.8h-1.8zM99.9 650.9h1.8v1.8h-1.8zM94.7 652.9h1.8v1.8h-1.8zM111.2 653.8h1.8v1.8h-1.8zM115.9 640.1h1.8v1.8h-1.8zM114.6 653.0h1.8v1.8h-1.8zM102.8 649.2h1.8v1.8h-1.8zM127.9 646.0h1.8v1.8h-1.8zM113.9 650.2h1.8v1.8h-1.8zM104.0 651.0h1.8v1.8h-1.8zM115.1 640.6h1.8v1.8h-1.8zM122.9 645.2h1.8v1.8h-1.8zM102.4 645.6h1.8v1.8h-1.8zM100.3 644.1h1.8v1.8h-1.8zM117.7 634.5h1.8v1.8h-1.8zM99.3 653.5h1.8v1.8h-1.8zM97.5 663.6h1.8v1.8h-1.8zM110.7 653.4h1.8v1.8h-1.8zM98.2 647.5h1.8v1.8h-1.8zM94.6 647.2h1.8v1.8h-1.8zM121.0 640.3h1.8v1.8h-1.8zM110.5 645.5h1.8v1.8h-1.8zM94.5 662.6h1.8v1.8h-1.8zM108.1 661.5h1.8v1.8h-1.8zM115.7 638.2h1.8v1.8h-1.8zM126.8 639.8h1.8v1.8h-1.8zM111.4 650.9h1.8v1.8h-1.8zM117.7 643.3h1.8v1.8h-1.8zM119.3 638.7h1.8v1.8h-1.8zM113.7 640.1h1.8v1.8h-1.8zM120.9 641.6h1.8v1.8h-1.8zM107.5 646.0h1.8v1.8h-1.8zM109.1 638.2h1.8v1.8h-1.8zM103.6 655.7h1.8v1.8h-1.8zM98.8 656.8h1.8v1.8h-1.8zM115.7 634.8h1.8v1.8h-1.8zM98.5 653.6h1.8v1.8h-1.8zM114.4 642.3h1.8v1.8h-1.8zM91.5 653.0h1.8v1.8h-1.8zM102.0 647.8h1.8v1.8h-1.8zM110.7 649.0h1.8v1.8h-1.8zM109.9 649.7h1.8v1.8h-1.8zM98.7 663.6h1.8v1.8h-1.8zM118.1 638.7h1.8v1.8h-1.8zM109.4 640.4h1.8v1.8h-1.8zM101.2 635.3h1.8v1.8h-1.8zM111.3 647.4h1.8v1.8h-1.8zM99.1 653.5h1.8v1.8h-1.8zM99.8 653.3h1.8v1.8h-1.8zM110.0 654.4h1.8v1.8h-1.8zM92.8 650.0h1.8v1.8h-1.8zM108.2 651.3h1.8v1.8h-1.8zM112.4 642.9h1.8v1.8h-1.8zM108.6 640.3h1.8v1.8h-1.8zM101.2 651.5h1.8v1.8h-1.8zM118.5 643.9h1.8v1.8h-1.8zM101.7 662.3h1.8v1.8h-1.8zM96.1 656.7h1.8v1.8h-1.8zM122.8 643.1h1.8v1.8h-1.8zM110.1 635.7h1.8v1.8h-1.8zM123.8 640.7h1.8v1.8h-1.8zM106.7 641.2h1.8v1.8h-1.8zM110.4 642.8h1.8v1.8h-1.8zM102.2 646.0h1.8v1.8h-1.8zM103.1 655.5h1.8v1.8h-1.8zM92.7 667.6h1.8v1.8h-1.8zM115.1 638.4h1.8v1.8h-1.8zM104.6 645.7h1.8v1.8h-1.8zM116.6 643.2h1.8v1.8h-1.8zM92.6 650.9h1.8v1.8h-1.8zM106.8 647.6h1.8v1.8h-1.8zM110.5 644.7h1.8v1.8h-1.8zM125.2 647.3h1.8v1.8h-1.8zM98.8 648.0h1.8v1.8h-1.8zM105.3 647.8h1.8v1.8h-1.8zM121.0 644.1h1.8v1.8h-1.8zM87.3 656.9h1.8v1.8h-1.8zM109.9 655.4h1.8v1.8h-1.8zM112.1 642.0h1.8v1.8h-1.8zM98.0 651.6h1.8v1.8h-1.8zM111.0 644.2h1.8v1.8h-1.8zM108.6 646.8h1.8v1.8h-1.8zM116.0 638.5h1.8v1.8h-1.8zM101.6 647.9h1.8v1.8h-1.8zM108.0 653.1h1.8v1.8h-1.8zM104.5 651.2h1.8v1.8h-1.8zM102.1 647.1h1.8v1.8h-1.8zM103.7 652.5h1.8v1.8h-1.8zM108.1 650.0h1.8v1.8h-1.8zM98.4 656.4h1.8v1.8h-1.8zM117.9 648.1h1.8v1.8h-1.8zM105.6 660.6h1.8v1.8h-1.8zM110.6 652.4h1.8v1.8h-1.8zM109.7 646.8h1.8v1.8h-1.8zM100.0 661.1h1.8v1.8h-1.8zM99.0 659.6h1.8v1.8h-1.8zM113.1 650.0h1.8v1.8h-1.8zM100.6 641.9h1.8v1.8h-1.8zM119.9 638.8h1.8v1.8h-1.8zM96.2 662.3h1.8v1.8h-1.8zM116.4 648.9h1.8v1.8h-1.8zM114.2 630.6h1.8v1.8h-1.8zM105.4 640.2h1.8v1.8h-1.8zM114.2 651.1h1.8v1.8h-1.8zM87.5 655.3h1.8v1.8h-1.8zM101.4 650.1h1.8v1.8h-1.8zM118.9 648.2h1.8v1.8h-1.8zM103.6 657.0h1.8v1.8h-1.8zM117.4 637.8h1.8v1.8h-1.8zM106.0 649.0h1.8v1.8h-1.8zM110.2 641.7h1.8v1.8h-1.8zM109.8 634.4h1.8v1.8h-1.8zM109.4 641.1h1.8v1.8h-1.8zM108.0 649.1h1.8v1.8h-1.8zM126.0 632.1h1.8v1.8h-1.8zM107.7 650.9h1.8v1.8h-1.8zM123.5 640.9h1.8v1.8h-1.8zM127.4 640.7h1.8v1.8h-1.8zM113.7 637.8h1.8v1.8h-1.8zM114.4 635.5h1.8v1.8h-1.8zM121.6 634.7h1.8v1.8h-1.8zM112.5 649.1h1.8v1.8h-1.8zM116.3 641.6h1.8v1.8h-1.8zM122.5 631.3h1.8v1.8h-1.8zM117.6 643.0h1.8v1.8h-1.8zM117.5 641.0h1.8v1.8h-1.8zM103.0 650.9h1.8v1.8h-1.8zM109.9 641.9h1.8v1.8h-1.8zM115.2 644.0h1.8v1.8h-1.8zM114.6 649.0h1.8v1.8h-1.8zM103.9 644.4h1.8v1.8h-1.8zM97.6 649.3h1.8v1.8h-1.8zM117.6 644.6h1.8v1.8h-1.8zM109.3 649.3h1.8v1.8h-1.8zM98.2 656.9h1.8v1.8h-1.8zM113.0 646.6h1.8v1.8h-1.8zM108.0 649.8h1.8v1.8h-1.8zM113.7 650.4h1.8v1.8h-1.8zM96.9 650.7h1.8v1.8h-1.8zM127.3 634.6h1.8v1.8h-1.8zM98.1 652.9h1.8v1.8h-1.8zM108.5 655.2h1.8v1.8h-1.8zM90.0 666.4h1.8v1.8h-1.8zM109.4 653.8h1.8v1.8h-1.8zM96.4 652.8h1.8v1.8h-1.8zM102.5 652.3h1.8v1.8h-1.8zM129.8 630.2h1.8v1.8h-1.8zM111.1 644.6h1.8v1.8h-1.8zM95.8 644.9h1.8v1.8h-1.8zM120.1 646.3h1.8v1.8h-1.8zM126.1 639.5h1.6v1.6h-1.6zM99.1 644.3h1.6v1.6h-1.6zM118.9 647.2h1.6v1.6h-1.6zM95.3 664.2h1.6v1.6h-1.6zM105.8 636.2h1.6v1.6h-1.6zM94.6 658.5h1.6v1.6h-1.6zM104.7 651.3h1.6v1.6h-1.6zM94.8 654.1h1.6v1.6h-1.6zM106.6 645.9h1.6v1.6h-1.6zM128.2 639.1h1.6v1.6h-1.6zM110.4 645.7h1.6v1.6h-1.6zM121.5 662.1h1.6v1.6h-1.6zM139.4 641.7h1.6v1.6h-1.6zM99.0 663.5h1.6v1.6h-1.6zM108.9 672.1h1.6v1.6h-1.6zM106.5 628.9h1.6v1.6h-1.6zM88.6 653.6h1.6v1.6h-1.6zM106.1 643.2h1.6v1.6h-1.6zM106.0 634.1h1.6v1.6h-1.6zM99.5 637.2h1.6v1.6h-1.6zM118.7 646.9h1.6v1.6h-1.6zM115.3 635.9h1.6v1.6h-1.6zM131.0 627.8h1.6v1.6h-1.6zM125.0 640.2h1.6v1.6h-1.6zM108.9 641.7h1.6v1.6h-1.6zM123.8 637.2h1.6v1.6h-1.6zM133.5 626.3h1.6v1.6h-1.6zM103.7 629.2h1.6v1.6h-1.6zM132.5 628.2h1.6v1.6h-1.6zM135.3 627.0h1.6v1.6h-1.6zM127.4 632.7h1.6v1.6h-1.6zM96.6 629.8h1.6v1.6h-1.6zM102.2 658.2h1.6v1.6h-1.6zM107.5 660.1h1.6v1.6h-1.6zM95.1 653.6h1.6v1.6h-1.6zM126.9 644.0h1.6v1.6h-1.6zM138.5 643.2h1.6v1.6h-1.6zM138.8 633.2h1.6v1.6h-1.6zM132.8 642.1h1.6v1.6h-1.6zM88.9 646.1h1.6v1.6h-1.6zM89.8 654.8h1.6v1.6h-1.6zM114.7 644.1h1.6v1.6h-1.6zM93.9 650.8h1.6v1.6h-1.6zM104.3 644.8h1.6v1.6h-1.6zM100.2 665.5h1.6v1.6h-1.6zM94.3 647.9h1.6v1.6h-1.6zM100.2 642.2h1.6v1.6h-1.6zM114.2 611.1h1.6v1.6h-1.6zM113.8 640.5h1.6v1.6h-1.6zM117.8 648.8h1.6v1.6h-1.6zM99.1 652.3h1.6v1.6h-1.6zM99.4 642.7h1.6v1.6h-1.6zM85.2 670.3h1.6v1.6h-1.6zM98.0 637.8h1.6v1.6h-1.6zM97.5 657.7h1.6v1.6h-1.6zM111.8 631.1h1.6v1.6h-1.6zM97.9 637.3h1.6v1.6h-1.6zM106.8 630.8h1.6v1.6h-1.6zM108.7 661.1h1.6v1.6h-1.6zM93.5 657.2h1.6v1.6h-1.6zM105.6 646.9h1.6v1.6h-1.6zM94.5 653.3h1.6v1.6h-1.6zM121.2 626.7h1.6v1.6h-1.6zM111.2 633.8h1.6v1.6h-1.6zM88.2 657.1h1.6v1.6h-1.6zM93.0 624.4h1.6v1.6h-1.6zM115.8 650.5h1.6v1.6h-1.6zM100.1 635.6h1.6v1.6h-1.6zM135.6 655.1h1.6v1.6h-1.6zM128.9 632.4h1.6v1.6h-1.6zM113.1 640.8h1.6v1.6h-1.6zM128.7 637.5h1.6v1.6h-1.6zM113.7 640.3h1.6v1.6h-1.6zM112.7 631.6h1.6v1.6h-1.6zM118.6 672.6h1.6v1.6h-1.6zM119.4 637.6h1.6v1.6h-1.6zM124.6 667.0h1.6v1.6h-1.6zM93.2 644.9h1.6v1.6h-1.6zM110.6 644.0h1.6v1.6h-1.6zM85.2 652.4h1.6v1.6h-1.6zM124.6 638.9h1.6v1.6h-1.6zM111.8 622.8h1.6v1.6h-1.6zM98.0 642.7h1.6v1.6h-1.6zM100.2 617.3h1.6v1.6h-1.6zM113.5 641.2h1.6v1.6h-1.6zM103.4 651.2h1.6v1.6h-1.6zM111.7 657.9h1.6v1.6h-1.6zM121.5 643.0h1.6v1.6h-1.6zM127.0 646.0h1.6v1.6h-1.6zM105.0 669.5h1.6v1.6h-1.6zM135.2 625.3h1.6v1.6h-1.6zM113.5 623.9h1.6v1.6h-1.6zM84.6 661.3h1.6v1.6h-1.6zM103.4 665.5h1.6v1.6h-1.6zM135.9 646.6h1.6v1.6h-1.6zM143.7 639.4h1.6v1.6h-1.6zM87.1 661.4h1.6v1.6h-1.6zM99.6 654.4h1.6v1.6h-1.6zM97.9 657.2h1.6v1.6h-1.6zM98.3 634.7h1.6v1.6h-1.6zM125.1 636.7h1.6v1.6h-1.6zM114.9 668.7h1.6v1.6h-1.6zM117.3 665.6h1.6v1.6h-1.6zM88.7 649.2h1.6v1.6h-1.6zM143.6 624.3h1.6v1.6h-1.6zM98.9 642.9h1.6v1.6h-1.6zM123.0 636.1h1.6v1.6h-1.6zM98.6 656.8h1.6v1.6h-1.6zM120.7 649.4h1.6v1.6h-1.6zM110.4 628.9h1.6v1.6h-1.6zM120.1 656.2h1.6v1.6h-1.6zM111.2 647.0h1.6v1.6h-1.6zM132.9 611.0h1.6v1.6h-1.6zM125.1 610.1h1.6v1.6h-1.6zM111.4 644.0h1.6v1.6h-1.6zM105.0 668.0h1.6v1.6h-1.6zM86.9 655.5h1.6v1.6h-1.6zM106.6 645.5h1.6v1.6h-1.6zM141.2 618.1h1.6v1.6h-1.6zM122.4 645.0h1.6v1.6h-1.6zM104.9 656.4h1.6v1.6h-1.6zM112.6 657.5h1.6v1.6h-1.6zM105.0 664.8h1.6v1.6h-1.6zM114.3 638.4h1.6v1.6h-1.6zM118.5 648.2h1.6v1.6h-1.6zM105.8 655.5h1.6v1.6h-1.6zM113.9 646.2h1.6v1.6h-1.6zM119.2 628.9h1.6v1.6h-1.6zM114.5 638.6h1.6v1.6h-1.6zM113.8 625.7h1.6v1.6h-1.6zM119.6 650.6h1.6v1.6h-1.6zM89.8 646.3h1.6v1.6h-1.6zM115.8 664.8h1.6v1.6h-1.6zM88.5 647.7h1.6v1.6h-1.6zM82.7 671.0h1.6v1.6h-1.6zM107.5 635.9h1.6v1.6h-1.6zM127.4 637.7h1.6v1.6h-1.6zM103.8 623.2h1.6v1.6h-1.6zM112.8 649.0h1.6v1.6h-1.6zM128.3 648.1h1.6v1.6h-1.6zM113.7 655.1h1.6v1.6h-1.6zM105.0 651.9h1.6v1.6h-1.6zM114.6 629.1h1.6v1.6h-1.6zM116.4 633.5h1.6v1.6h-1.6zM140.6 666.1h1.6v1.6h-1.6zM92.4 645.5h1.6v1.6h-1.6zM94.3 652.4h1.6v1.6h-1.6zM110.9 651.4h1.6v1.6h-1.6zM95.7 654.9h1.6v1.6h-1.6zM116.5 641.3h1.6v1.6h-1.6zM94.0 674.0h1.6v1.6h-1.6zM125.1 632.1h1.6v1.6h-1.6zM123.9 647.4h1.6v1.6h-1.6zM123.2 666.0h1.6v1.6h-1.6zM114.7 628.4h1.6v1.6h-1.6zM92.5 662.4h1.6v1.6h-1.6zM125.2 628.3h1.6v1.6h-1.6zM94.0 667.6h1.6v1.6h-1.6zM92.5 640.7h1.6v1.6h-1.6zM114.4 575.4h1.6v1.6h-1.6zM130.0 573.6h1.6v1.6h-1.6zM113.1 578.1h1.6v1.6h-1.6zM125.7 581.8h1.6v1.6h-1.6zM106.9 577.5h1.6v1.6h-1.6zM101.9 578.1h1.6v1.6h-1.6zM109.8 571.4h1.6v1.6h-1.6zM123.4 577.9h1.6v1.6h-1.6zM120.9 573.0h1.6v1.6h-1.6zM108.3 579.5h1.6v1.6h-1.6zM118.3 574.7h1.6v1.6h-1.6zM114.1 574.5h1.6v1.6h-1.6zM119.8 575.7h1.6v1.6h-1.6zM127.7 578.7h1.6v1.6h-1.6zM87.3 575.0h1.6v1.6h-1.6zM110.2 574.1h1.6v1.6h-1.6zM96.3 574.8h1.6v1.6h-1.6zM90.9 577.6h1.6v1.6h-1.6zM109.3 578.7h1.6v1.6h-1.6zM114.5 576.9h1.6v1.6h-1.6zM127.9 568.8h1.6v1.6h-1.6zM104.5 576.8h1.6v1.6h-1.6zM113.6 573.4h1.6v1.6h-1.6zM100.6 570.9h1.6v1.6h-1.6zM107.4 582.2h1.6v1.6h-1.6zM98.5 579.9h1.6v1.6h-1.6zM132.3 577.5h1.6v1.6h-1.6zM99.0 579.0h1.6v1.6h-1.6zM109.6 574.3h1.6v1.6h-1.6zM121.2 574.2h1.6v1.6h-1.6zM105.7 570.0h1.6v1.6h-1.6zM116.7 581.9h1.6v1.6h-1.6zM110.9 570.3h1.6v1.6h-1.6zM106.6 569.8h1.6v1.6h-1.6zM123.0 576.6h1.6v1.6h-1.6zM132.3 571.7h1.6v1.6h-1.6zM113.0 575.0h1.6v1.6h-1.6zM125.5 576.1h1.6v1.6h-1.6zM104.2 571.8h1.6v1.6h-1.6zM110.1 571.2h1.6v1.6h-1.6zM112.0 576.2h1.6v1.6h-1.6zM115.0 572.3h1.6v1.6h-1.6zM119.6 573.8h1.6v1.6h-1.6zM104.1 573.7h1.6v1.6h-1.6zM124.3 578.5h1.6v1.6h-1.6zM118.2 569.9h1.6v1.6h-1.6zM115.4 575.6h1.6v1.6h-1.6zM127.9 577.8h1.6v1.6h-1.6zM136.9 575.4h1.6v1.6h-1.6zM93.9 581.2h1.6v1.6h-1.6zM96.0 567.0h1.5v1.5h-1.5zM137.0 566.0h1.5v1.5h-1.5zM138.0 581.0h1.5v1.5h-1.5zM141.0 580.0h1.5v1.5h-1.5zM106.0 592.0h1.5v1.5h-1.5zM117.0 596.0h1.5v1.5h-1.5zM120.0 596.0h1.5v1.5h-1.5zM108.0 603.0h1.5v1.5h-1.5zM127.0 602.0h1.5v1.5h-1.5zM90.0 570.0h1.5v1.5h-1.5zM131.0 588.0h1.5v1.5h-1.5zM149.0 573.0h1.5v1.5h-1.5zM152.0 581.0h1.5v1.5h-1.5zM158.0 564.0h1.5v1.5h-1.5zM160.0 575.0h1.5v1.5h-1.5zM162.0 578.0h1.5v1.5h-1.5zM165.0 580.0h1.5v1.5h-1.5zM166.0 570.0h1.5v1.5h-1.5zM167.0 572.0h1.5v1.5h-1.5zM170.0 578.0h1.5v1.5h-1.5zM155.0 582.0h1.5v1.5h-1.5zM154.0 601.0h1.5v1.5h-1.5zM158.0 588.0h1.5v1.5h-1.5zM201.0 586.0h1.5v1.5h-1.5zM165.0 598.0h1.5v1.5h-1.5zM150.0 622.0h1.5v1.5h-1.5zM155.0 619.0h1.5v1.5h-1.5zM163.0 615.0h1.5v1.5h-1.5zM164.0 625.0h1.5v1.5h-1.5zM156.0 633.0h1.5v1.5h-1.5zM165.0 636.0h1.5v1.5h-1.5zM152.0 646.0h1.5v1.5h-1.5zM148.0 650.0h1.5v1.5h-1.5zM162.0 658.0h1.5v1.5h-1.5zM152.0 668.0h1.5v1.5h-1.5zM196.0 658.0h1.5v1.5h-1.5zM177.0 611.0h1.5v1.5h-1.5zM170.0 640.0h1.5v1.5h-1.5z"/>
<line x1="61.3" y1="566" x2="61.3" y2="825.6" stroke="#000" stroke-width="3"/>
<polygon points="61.3,554.3 53.9,569 68.9,569" fill="#000"/>
<line x1="78.6" y1="855" x2="437" y2="855" stroke="#000" stroke-width="3"/>
<polygon points="451.8,855 435.6,847.2 435.6,862.8" fill="#000"/>
<rect x="81.2" y="556" width="161.80" height="122.50" fill="none" stroke="#000" stroke-width="1.8"/><line x1="145.1" y1="556" x2="145.1" y2="678.5" stroke="#000" stroke-width="1.8"/><line x1="81.2" y1="607.4" x2="243" y2="607.4" stroke="#000" stroke-width="1.8"/>
<rect x="287" y="556.5" width="161.60" height="122.00" fill="none" stroke="#000" stroke-width="1.8"/><line x1="353.5" y1="556.5" x2="353.5" y2="678.5" stroke="#000" stroke-width="1.8"/><line x1="287" y1="609.1" x2="448.6" y2="609.1" stroke="#000" stroke-width="1.8"/>
<rect x="81" y="692.5" width="162.30" height="123.30" fill="none" stroke="#000" stroke-width="1.8"/><line x1="120.1" y1="692.5" x2="120.1" y2="815.8" stroke="#000" stroke-width="1.8"/><line x1="81" y1="795.8" x2="243.3" y2="795.8" stroke="#000" stroke-width="1.8"/>
<rect x="287" y="693.8" width="161.30" height="122.00" fill="none" stroke="#000" stroke-width="1.8"/><line x1="305.8" y1="693.8" x2="305.8" y2="815.8" stroke="#000" stroke-width="1.8"/><line x1="287" y1="796.2" x2="448.3" y2="796.2" stroke="#000" stroke-width="1.8"/>
<g clip-path="url(#cD)">
<rect x="36" y="939" width="131.5" height="121" fill="#000004"/>
<path d="M98 941 L156 941 C163 950 166 975 166 1000 L166 1025 C160 1040 150 1050 130 1056 L86 1056 C74 1050 66 1035 62 1015 C59 998 62 980 72 968 C80 958 88 948 98 941 Z" fill="#04148a" filter="url(#b6)"/>
<ellipse cx="118" cy="957" rx="28" ry="13" fill="#061ca8" filter="url(#b6)"/>
<ellipse cx="108" cy="1006" rx="30" ry="30" fill="#0826be" filter="url(#b8)"/>
<circle cx="131" cy="985" r="19" fill="#0a40ec" filter="url(#b4)"/>
<circle cx="104.5" cy="996" r="12" fill="#0834d4" filter="url(#b4)"/>
<circle cx="75" cy="991.5" r="16" fill="#0a42ee" filter="url(#b3)"/>
<circle cx="93" cy="1030" r="16" fill="#0a40ea" filter="url(#b3)"/>
<circle cx="121" cy="1026" r="9" fill="#0838dc" filter="url(#b3)"/>
<circle cx="164" cy="994" r="4.5" fill="#0830d0" filter="url(#b2)"/>
</g>
<rect x="107.3" y="1049.5" width="50.2" height="3" fill="#fff"/>
<g clip-path="url(#cP)">
<rect x="180.2" y="939.2" width="139.6" height="121.6" fill="#020000"/>
<path d="M217 990 C218 984 224 979 230 974 C235 969 239 962 247 960 C256 958 263 962 265 970 C266 977 264 984 261 989 C265 993 267 999 266 1006 C264 1014 255 1018.5 244 1018.5 C232 1018.5 221 1015 217.5 1006 C216 1000 216 995 217 990 Z" fill="#f01232" filter="url(#b1)"/>
<path d="M218 986 C224 980 230 978 236 980 L236 992 L218 994 Z" fill="#c80e2a" filter="url(#b2)" opacity="0.8"/>
<circle cx="218.2" cy="984.2" r="2.8" fill="#c81028" filter="url(#b1)"/>
<path d="M226 992 C238 990 250 991 262 989.5" stroke="#b80e26" stroke-width="2.2" fill="none" filter="url(#b1)" opacity="0.6"/>
</g>
<rect x="242.3" y="1032.6" width="41" height="2.2" fill="#fff"/>
<g clip-path="url(#cF)">
<rect x="332.3" y="939.2" width="144" height="120.6" fill="#000"/>
<path d="M334 1006 C332 980 356 956 390 953 C418 951 440 956 445 970 C449 986 434 1004 428 1018 C420 1036 404 1048 382 1049 C358 1050 336 1032 334 1006 Z" fill="#087006" filter="url(#b8)"/>
<path d="M440 975 C448 978 455 980 460 982" stroke="#0a8006" stroke-width="5" fill="none" filter="url(#b3)"/>
<path d="M350 1002 C350 980 368 963 392 961 C414 959 432 964 436 975 C438 988 426 1000 420 1014 C414 1030 400 1040 384 1042 C366 1043 350 1024 350 1002 Z" fill="#14a60a" filter="url(#b6)"/>
<circle cx="376" cy="981.7" r="10" fill="#1ed00c" filter="url(#b4)"/>
<circle cx="393" cy="993" r="9" fill="#1abe0c" filter="url(#b4)"/>
<circle cx="420" cy="979.6" r="9" fill="#1ecc0c" filter="url(#b4)"/>
<circle cx="365.4" cy="1005" r="9" fill="#1ecc0c" filter="url(#b4)"/>
<circle cx="403.5" cy="1007" r="8" fill="#1abe0c" filter="url(#b4)"/>
<circle cx="382.3" cy="1024" r="8.5" fill="#1ec80c" filter="url(#b4)"/>
<circle cx="409.8" cy="967" r="7" fill="#1abe0c" filter="url(#b4)"/>
<circle cx="358" cy="986" r="6" fill="#18b80a" filter="url(#b4)"/>
<circle cx="388" cy="968" r="7" fill="#18b80a" filter="url(#b4)"/>
<circle cx="370" cy="1036" r="6" fill="#16aa0a" filter="url(#b4)"/>
<circle cx="436" cy="970" r="5" fill="#1cc80c" filter="url(#b3)"/>
<circle cx="458.9" cy="983.6" r="6" fill="#1ccc0c" filter="url(#b2)"/>
<circle cx="339" cy="997.6" r="5" fill="#10a008" filter="url(#b3)"/>
</g>
<rect x="395.4" y="1043.2" width="50.1" height="2.8" fill="#fff"/>

<text transform="translate(1.08 22.75) scale(1.0067 1)" font-family='"Liberation Sans", sans-serif' font-weight="bold" font-size="30.69" fill="#000" >A</text>
<text transform="translate(-0.10 528.65) scale(0.9357 1)" font-family='"Liberation Sans", sans-serif' font-weight="bold" font-size="30.84" fill="#000" >B</text>
<text transform="translate(0.89 930.75) scale(0.9635 1)" font-family='"Liberation Sans", sans-serif' font-weight="bold" font-size="30.11" fill="#000" >C</text>
<text transform="translate(113.34 56.61) scale(1.0575 1)" font-family='"Liberation Serif", serif' font-weight="bold" font-size="19.11" fill="#111" stroke="#111" stroke-width="0.38" >99%</text>
<text transform="translate(55.69 164.73) scale(1.1621 1)" font-family='"Liberation Serif", serif' font-weight="bold" font-size="17.42" fill="#111" stroke="#111" stroke-width="0.34" >32%</text>
<text transform="translate(112.91 164.73) scale(1.0952 1)" font-family='"Liberation Serif", serif' font-weight="bold" font-size="17.42" fill="#111" stroke="#111" stroke-width="0.37" >44%</text>
<text transform="translate(296.06 164.14) scale(1.1999 1)" font-family='"Liberation Serif", serif' font-weight="bold" font-size="16.53" fill="#111" stroke="#111" stroke-width="0.33" >16%</text>
<text transform="translate(54.90 273.40) scale(1.2325 1)" font-family='"Liberation Serif", serif' font-weight="bold" font-size="16.16" fill="#111" stroke="#111" stroke-width="0.32" >30%</text>
<text transform="translate(111.45 273.63) scale(1.1519 1)" font-family='"Liberation Serif", serif' font-weight="bold" font-size="17.27" fill="#111" stroke="#111" stroke-width="0.35" >60%</text>
<text transform="translate(296.91 272.16) scale(1.2617 1)" font-family='"Liberation Serif", serif' font-weight="bold" font-size="15.06" fill="#111" stroke="#111" stroke-width="0.32" >4%</text>
<text transform="translate(56.41 383.40) scale(1.2159 1)" font-family='"Liberation Serif", serif' font-weight="bold" font-size="16.16" fill="#111" stroke="#111" stroke-width="0.33" >38%</text>
<text transform="translate(110.54 382.63) scale(1.1645 1)" font-family='"Liberation Serif", serif' font-weight="bold" font-size="17.27" fill="#111" stroke="#111" stroke-width="0.34" >12%</text>
<text transform="translate(296.08 382.14) scale(1.1847 1)" font-family='"Liberation Serif", serif' font-weight="bold" font-size="16.53" fill="#111" stroke="#111" stroke-width="0.34" >1%</text>
<text transform="translate(261.06 112.65) scale(1.0735 1)" font-family='"Liberation Serif", serif' font-weight="normal" font-size="18.42" fill="#111" stroke="#111" stroke-width="0.42" >R2</text>
<text transform="translate(74.58 220.19) scale(1.1854 1)" font-family='"Liberation Serif", serif' font-weight="normal" font-size="15.91" fill="#111" stroke="#111" stroke-width="0.38" >R3</text>
<text transform="translate(259.58 219.85) scale(1.2420 1)" font-family='"Liberation Serif", serif' font-weight="normal" font-size="15.40" fill="#111" stroke="#111" stroke-width="0.36" >R2</text>
<text transform="translate(434.62 219.85) scale(1.0740 1)" font-family='"Liberation Serif", serif' font-weight="normal" font-size="16.59" fill="#111" stroke="#111" stroke-width="0.42" >R1</text>
<text transform="translate(75.61 330.70) scale(1.1835 1)" font-family='"Liberation Serif", serif' font-weight="normal" font-size="15.17" fill="#111" stroke="#111" stroke-width="0.38" >R3</text>
<text transform="translate(260.52 330.35) scale(1.3620 1)" font-family='"Liberation Serif", serif' font-weight="normal" font-size="15.40" fill="#111" stroke="#111" stroke-width="0.33" >R2</text>
<text transform="translate(432.62 330.85) scale(1.0500 1)" font-family='"Liberation Serif", serif' font-weight="normal" font-size="16.97" fill="#111" stroke="#111" stroke-width="0.43" >R1</text>
<text transform="translate(76.61 437.68) scale(1.0317 1)" font-family='"Liberation Serif", serif' font-weight="normal" font-size="17.40" fill="#111" stroke="#111" stroke-width="0.44" >R3</text>
<text transform="translate(260.56 439.35) scale(1.3376 1)" font-family='"Liberation Serif", serif' font-weight="normal" font-size="14.64" fill="#111" stroke="#111" stroke-width="0.34" >R2</text>
<text transform="translate(432.12 437.35) scale(1.0500 1)" font-family='"Liberation Serif", serif' font-weight="normal" font-size="16.97" fill="#111" stroke="#111" stroke-width="0.43" >R1</text>
<text transform="translate(504.38 118.19) rotate(-90) scale(0.9870 1)" font-family='"Liberation Serif", serif' font-weight="normal" font-size="22.92" fill="#111" stroke="#111" stroke-width="0.10" >platelets</text>
<text transform="translate(490.32 240.48) rotate(-90) scale(0.9516 1)" font-family='"Liberation Serif", serif' font-weight="normal" font-size="23.12" fill="#111" stroke="#111" stroke-width="0.11" >conditioned</text>
<text transform="translate(516.03 225.29) rotate(-90) scale(1.0038 1)" font-family='"Liberation Serif", serif' font-weight="normal" font-size="21.84" fill="#111" stroke="#111" stroke-width="0.10" >medium</text>
<text transform="translate(505.19 329.08) rotate(-90) scale(0.9977 1)" font-family='"Liberation Serif", serif' font-weight="normal" font-size="22.94" fill="#111" stroke="#111" stroke-width="0.10" >ABRM</text>
<text transform="translate(505.19 436.47) rotate(-90) scale(0.9356 1)" font-family='"Liberation Serif", serif' font-weight="normal" font-size="23.85" fill="#111" stroke="#111" stroke-width="0.11" >ABDM</text>
<text transform="translate(17.73 276.39) rotate(-90) scale(1.0186 1)" font-family='"Liberation Serif", serif' font-weight="normal" font-size="22.38" fill="#111" stroke="#111" stroke-width="0.10" >SSC-H</text>
<text transform="translate(218.98 495.90) scale(1.1207 1)" font-family='"Liberation Serif", serif' font-weight="normal" font-size="20.00" fill="#111" stroke="#111" stroke-width="0.40" >FSC-H</text>
<text transform="translate(119.90 546.64) scale(1.0789 1)" font-family='"Liberation Serif", serif' font-weight="normal" font-size="20.85" fill="#111" stroke="#111" stroke-width="0.42" >live cells</text>
<text transform="translate(319.55 546.64) scale(1.0902 1)" font-family='"Liberation Serif", serif' font-weight="normal" font-size="20.85" fill="#111" stroke="#111" stroke-width="0.41" >dead cells</text>
<text transform="translate(86.65 841.51) scale(1.2572 1)" font-family='"Liberation Serif", serif' font-weight="normal" font-size="18.07" fill="#111" stroke="#111" stroke-width="0.36" >apoptotic bodies</text>
<text transform="translate(304.30 841.51) scale(1.2489 1)" font-family='"Liberation Serif", serif' font-weight="normal" font-size="18.07" fill="#111" stroke="#111" stroke-width="0.36" >microparticles</text>
<text transform="translate(183.28 881.11) scale(1.1277 1)" font-family='"Liberation Serif", serif' font-weight="normal" font-size="19.94" fill="#111" stroke="#111" stroke-width="0.40" >FL-1 (annexin-V)</text>
<text transform="translate(46.89 796.12) rotate(-90) scale(1.0237 1)" font-family='"Liberation Serif", serif' font-weight="normal" font-size="21.93" fill="#111" stroke="#111" stroke-width="0.44" >FL-2 (propidium iodide)</text>
<text transform="translate(201.67 579.84) scale(1.2087 1)" font-family='"Liberation Serif", serif' font-weight="bold" font-size="17.12" fill="#111" stroke="#111" stroke-width="0.33" >3%</text>
<text transform="translate(201.65 630.63) scale(1.1428 1)" font-family='"Liberation Serif", serif' font-weight="bold" font-size="17.56" fill="#111" stroke="#111" stroke-width="0.35" >5%</text>
<text transform="translate(401.60 579.84) scale(1.2114 1)" font-family='"Liberation Serif", serif' font-weight="bold" font-size="16.53" fill="#4a8fd6" stroke="#4a8fd6" stroke-width="0.12" >31%</text>
<text transform="translate(399.96 636.65) scale(1.2876 1)" font-family='"Liberation Serif", serif' font-weight="bold" font-size="16.38" fill="#4a8fd6" stroke="#4a8fd6" stroke-width="0.12" >14%</text>
<text transform="translate(191.44 717.67) scale(1.3624 1)" font-family='"Liberation Serif", serif' font-weight="bold" font-size="14.76" fill="#4a8fd6" stroke="#4a8fd6" stroke-width="0.11" >12%</text>
<text transform="translate(191.09 812.26) scale(1.3130 1)" font-family='"Liberation Serif", serif' font-weight="bold" font-size="15.50" fill="#4a8fd6" stroke="#4a8fd6" stroke-width="0.11" >26%</text>
<text transform="translate(392.33 717.63) scale(1.3006 1)" font-family='"Liberation Serif", serif' font-weight="bold" font-size="14.71" fill="#4a8fd6" stroke="#4a8fd6" stroke-width="0.12" >0.5%</text>
<text transform="translate(395.71 812.24) scale(1.1920 1)" font-family='"Liberation Serif", serif' font-weight="bold" font-size="16.53" fill="#4a8fd6" stroke="#4a8fd6" stroke-width="0.13" >34%</text>
<text transform="translate(76.28 1088.40) scale(1.1016 1)" font-family='"Liberation Serif", serif' font-weight="normal" font-size="20.38" fill="#111" stroke="#111" stroke-width="0.41" >DAPI</text>
<text transform="translate(243.31 1088.35) scale(1.0306 1)" font-family='"Liberation Serif", serif' font-weight="normal" font-size="20.76" fill="#111" stroke="#111" stroke-width="0.44" >PI</text>
<text transform="translate(352.01 1088.16) scale(1.1466 1)" font-family='"Liberation Serif", serif' font-weight="normal" font-size="19.29" fill="#111" stroke="#111" stroke-width="0.39" >lectin-FITC</text>
</svg>
</body></html>
